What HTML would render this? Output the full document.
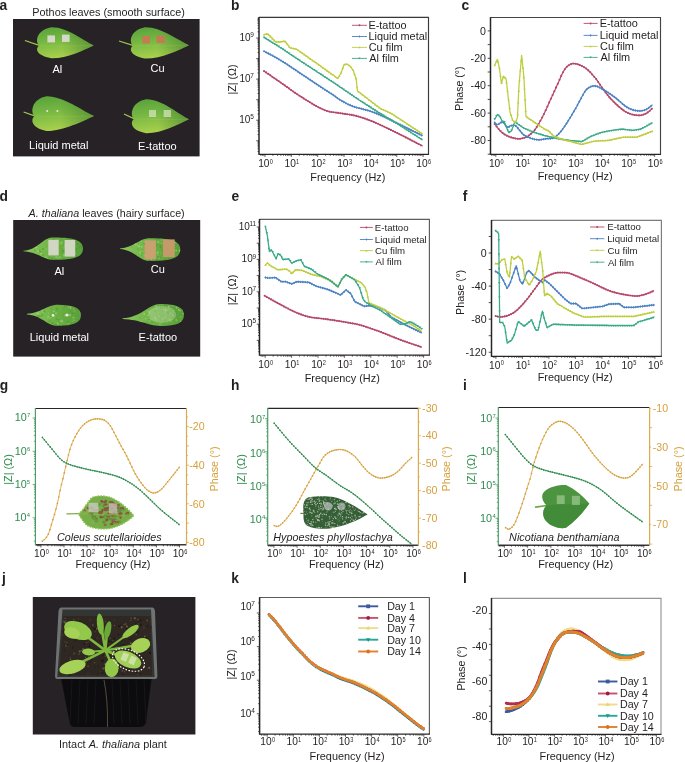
<!DOCTYPE html>
<html><head><meta charset="utf-8"><style>
html,body{margin:0;padding:0;background:#fff;width:685px;height:762px;overflow:hidden}
svg{display:block;font-family:"Liberation Sans", sans-serif;will-change:transform}
</style></head><body>
<svg width="685" height="762" viewBox="0 0 685 762">
<defs><linearGradient id="lg1" x1="0" y1="0" x2="1" y2="1"><stop offset="0" stop-color="#5ea83a"/><stop offset="0.5" stop-color="#7cbc3c"/><stop offset="1" stop-color="#a6cc40"/></linearGradient><linearGradient id="lg2" x1="0" y1="0" x2="0" y2="1"><stop offset="0" stop-color="#5fa33c"/><stop offset="1" stop-color="#8fc447"/></linearGradient><linearGradient id="lg3" x1="0" y1="0" x2="1" y2="1"><stop offset="0" stop-color="#3e7a34"/><stop offset="1" stop-color="#2b5a2a"/></linearGradient></defs>
<text x="-0.40" y="9.90" font-size="13.8" text-anchor="start" fill="#231f20" font-weight="bold" font-style="normal" >a</text>
<text x="231.00" y="9.90" font-size="13.8" text-anchor="start" fill="#231f20" font-weight="bold" font-style="normal" >b</text>
<text x="461.40" y="9.90" font-size="13.8" text-anchor="start" fill="#231f20" font-weight="bold" font-style="normal" >c</text>
<text x="-0.45" y="200.80" font-size="13.8" text-anchor="start" fill="#231f20" font-weight="bold" font-style="normal" >d</text>
<text x="231.60" y="200.80" font-size="13.8" text-anchor="start" fill="#231f20" font-weight="bold" font-style="normal" >e</text>
<text x="462.80" y="200.80" font-size="13.8" text-anchor="start" fill="#231f20" font-weight="bold" font-style="normal" >f</text>
<text x="-0.30" y="390.10" font-size="13.8" text-anchor="start" fill="#231f20" font-weight="bold" font-style="normal" >g</text>
<text x="231.10" y="390.00" font-size="13.8" text-anchor="start" fill="#231f20" font-weight="bold" font-style="normal" >h</text>
<text x="462.90" y="390.00" font-size="13.8" text-anchor="start" fill="#231f20" font-weight="bold" font-style="normal" >i</text>
<text x="2.10" y="582.60" font-size="13.8" text-anchor="start" fill="#231f20" font-weight="bold" font-style="normal" >j</text>
<text x="231.20" y="582.60" font-size="13.8" text-anchor="start" fill="#231f20" font-weight="bold" font-style="normal" >k</text>
<text x="463.10" y="582.60" font-size="13.8" text-anchor="start" fill="#231f20" font-weight="bold" font-style="normal" >l</text>
<defs><linearGradient id="pg" x1="0" y1="0" x2="0.25" y2="1"><stop offset="0" stop-color="#56a03a"/><stop offset="0.45" stop-color="#74b642"/><stop offset="1" stop-color="#a8d04c"/></linearGradient><linearGradient id="pgx" x1="0" y1="0" x2="1" y2="0"><stop offset="0.45" stop-color="#2d6e2a" stop-opacity="0"/><stop offset="1" stop-color="#2d6e2a" stop-opacity="0.55"/></linearGradient><linearGradient id="tg" x1="0" y1="0" x2="1" y2="0"><stop offset="0" stop-color="#8cc860"/><stop offset="0.5" stop-color="#6cb244"/><stop offset="1" stop-color="#5aa03a"/></linearGradient></defs>
<rect x="13" y="19" width="186.6" height="137.4" fill="#262226"/>
<text x="32.33" y="16.20" font-size="10.85" text-anchor="start" fill="#231f20" font-weight="normal" font-style="normal" >Pothos leaves (smooth surface)</text>
<line x1="24.90" y1="40.50" x2="40.70" y2="45.80" stroke="#a0c848" stroke-width="1.3"/>
<path d="M39.2 45.5 C35.2 42.5 35.7 30.3 51.2 27.3 C67.2 26.9 82.6 40.4 93.6 45.4 C82.6 50.4 67.2 58.6 51.2 58.2 C35.7 55.2 35.2 48.5 39.2 45.5Z" fill="url(#pg)"/>
<path d="M39.2 45.5 C35.2 42.5 35.7 30.3 51.2 27.3 C67.2 26.9 82.6 40.4 93.6 45.4 C82.6 50.4 67.2 58.6 51.2 58.2 C35.7 55.2 35.2 48.5 39.2 45.5Z" fill="url(#pgx)"/>
<path d="M40.2 45.5 Q66.4 46.7 92.6 45.4" stroke="#b8dc6a" stroke-width="0.5" fill="none" opacity="0.3"/>
<line x1="119.00" y1="41.00" x2="134.50" y2="45.80" stroke="#a0c848" stroke-width="1.3"/>
<path d="M133.0 45.5 C129.0 42.5 129.5 30.2 145.0 27.2 C161.0 26.8 178.0 40.2 189.0 45.2 C178.0 50.2 161.0 59.0 145.0 58.6 C129.5 55.6 129.0 48.5 133.0 45.5Z" fill="url(#pg)"/>
<path d="M133.0 45.5 C129.0 42.5 129.5 30.2 145.0 27.2 C161.0 26.8 178.0 40.2 189.0 45.2 C178.0 50.2 161.0 59.0 145.0 58.6 C129.5 55.6 129.0 48.5 133.0 45.5Z" fill="url(#pgx)"/>
<path d="M134.0 45.5 Q161.0 46.7 188.0 45.2" stroke="#b8dc6a" stroke-width="0.5" fill="none" opacity="0.3"/>
<line x1="23.60" y1="112.00" x2="36.00" y2="116.30" stroke="#a0c848" stroke-width="1.3"/>
<path d="M34.5 116.0 C30.5 113.0 31.0 99.2 46.5 96.2 C62.5 95.8 83.0 111.0 94.0 116.0 C83.0 121.0 62.5 131.4 46.5 131.0 C31.0 128.0 30.5 119.0 34.5 116.0Z" fill="url(#pg)"/>
<path d="M34.5 116.0 C30.5 113.0 31.0 99.2 46.5 96.2 C62.5 95.8 83.0 111.0 94.0 116.0 C83.0 121.0 62.5 131.4 46.5 131.0 C31.0 128.0 30.5 119.0 34.5 116.0Z" fill="url(#pgx)"/>
<path d="M35.5 116.0 Q64.2 117.2 93.0 116.0" stroke="#b8dc6a" stroke-width="0.5" fill="none" opacity="0.3"/>
<line x1="124.00" y1="114.00" x2="135.50" y2="119.30" stroke="#a0c848" stroke-width="1.3"/>
<path d="M134.0 119.0 C130.0 116.0 130.5 102.2 146.0 99.2 C162.0 98.8 178.0 114.2 189.0 119.2 C178.0 124.2 162.0 133.6 146.0 133.2 C130.5 130.2 130.0 122.0 134.0 119.0Z" fill="url(#pg)"/>
<path d="M134.0 119.0 C130.0 116.0 130.5 102.2 146.0 99.2 C162.0 98.8 178.0 114.2 189.0 119.2 C178.0 124.2 162.0 133.6 146.0 133.2 C130.5 130.2 130.0 122.0 134.0 119.0Z" fill="url(#pgx)"/>
<path d="M135.0 119.0 Q161.5 120.2 188.0 119.2" stroke="#b8dc6a" stroke-width="0.5" fill="none" opacity="0.3"/>
<rect x="47.4" y="35.4" width="7.6" height="7" fill="#dcdcd4" opacity="0.92"/>
<rect x="62" y="34.6" width="7.6" height="7.3" fill="#dcdcd4" opacity="0.92"/>
<rect x="142.4" y="36" width="7.6" height="7.4" fill="#c47a52"/>
<rect x="156.6" y="35.6" width="8.4" height="7.4" fill="#c47a52"/>
<circle cx="47.2" cy="111" r="1" fill="#e4e4e4"/><circle cx="57.4" cy="111" r="1" fill="#e4e4e4"/>
<rect x="149" y="110" width="7" height="7" fill="#dce6c4" opacity="0.7"/>
<rect x="163.6" y="110" width="7.4" height="7" fill="#dce6c4" opacity="0.7"/>
<text x="52.46" y="73.00" font-size="11.0" text-anchor="start" fill="#ffffff" font-weight="normal" font-style="normal" >Al</text>
<text x="150.47" y="72.00" font-size="11.0" text-anchor="start" fill="#ffffff" font-weight="normal" font-style="normal" >Cu</text>
<text x="29.12" y="149.20" font-size="11.0" text-anchor="start" fill="#ffffff" font-weight="normal" font-style="normal" >Liquid metal</text>
<text x="138.12" y="150.00" font-size="11.0" text-anchor="start" fill="#ffffff" font-weight="normal" font-style="normal" >E-tattoo</text>
<rect x="13.2" y="220" width="187" height="136.6" fill="#262226"/>
<text x="28.6" y="216.6" font-size="10.72" fill="#231f20"><tspan font-style="italic">A. thaliana</tspan> leaves (hairy surface)</text>
<clipPath id="tl1"><path d="M23.4 250.7 C37.7 249.8 42.0 238.4 52.0 237.4 C75.0 237.1 83.0 240.4 83.0 248.6 C83.0 256.8 75.0 260.1 52.0 259.8 C42.0 258.8 37.7 252.2 23.4 251.3Z"/></clipPath>
<path d="M23.4 250.7 C37.7 249.8 42.0 238.4 52.0 237.4 C75.0 237.1 83.0 240.4 83.0 248.6 C83.0 256.8 75.0 260.1 52.0 259.8 C42.0 258.8 37.7 252.2 23.4 251.3Z" fill="url(#tg)"/>
<g clip-path="url(#tl1)" opacity="0.55"><circle cx="36.2" cy="241.3" r="0.8" fill="#4f8f30"/><circle cx="55.4" cy="254.9" r="0.8" fill="#5a9a38"/><circle cx="74.2" cy="242.9" r="1.1" fill="#b4dc88"/><circle cx="43.1" cy="255.1" r="1.0" fill="#5a9a38"/><circle cx="71.1" cy="239.4" r="1.0" fill="#5a9a38"/><circle cx="64.8" cy="246.0" r="0.8" fill="#b4dc88"/><circle cx="81.9" cy="252.0" r="0.6" fill="#5a9a38"/><circle cx="41.1" cy="252.4" r="1.1" fill="#4f8f30"/><circle cx="71.9" cy="249.1" r="1.1" fill="#9ed070"/><circle cx="53.8" cy="249.4" r="1.2" fill="#9ed070"/><circle cx="54.2" cy="251.6" r="0.9" fill="#b4dc88"/><circle cx="73.8" cy="254.7" r="1.0" fill="#5a9a38"/><circle cx="49.4" cy="257.6" r="1.0" fill="#4f8f30"/><circle cx="54.7" cy="245.3" r="0.6" fill="#5a9a38"/><circle cx="69.2" cy="253.2" r="0.7" fill="#b4dc88"/><circle cx="61.6" cy="249.7" r="0.8" fill="#9ed070"/><circle cx="32.4" cy="258.2" r="0.5" fill="#4f8f30"/><circle cx="67.2" cy="246.7" r="0.6" fill="#b4dc88"/><circle cx="51.0" cy="246.5" r="0.7" fill="#4f8f30"/><circle cx="58.2" cy="250.4" r="0.8" fill="#4f8f30"/><circle cx="46.5" cy="249.2" r="0.7" fill="#b4dc88"/><circle cx="76.2" cy="241.4" r="0.6" fill="#4f8f30"/><circle cx="62.6" cy="251.3" r="1.1" fill="#4f8f30"/><circle cx="55.1" cy="244.5" r="0.9" fill="#5a9a38"/><circle cx="56.6" cy="249.2" r="1.2" fill="#4f8f30"/><circle cx="64.2" cy="250.8" r="1.0" fill="#4f8f30"/><circle cx="34.6" cy="250.1" r="0.6" fill="#5a9a38"/><circle cx="40.2" cy="259.1" r="1.1" fill="#5a9a38"/><circle cx="74.6" cy="247.9" r="0.7" fill="#9ed070"/><circle cx="47.7" cy="242.4" r="0.6" fill="#9ed070"/><circle cx="54.6" cy="254.7" r="0.5" fill="#b4dc88"/><circle cx="72.1" cy="248.7" r="0.9" fill="#9ed070"/><circle cx="57.9" cy="240.0" r="0.7" fill="#b4dc88"/><circle cx="63.1" cy="247.9" r="0.7" fill="#9ed070"/><circle cx="33.9" cy="240.6" r="0.5" fill="#4f8f30"/><circle cx="75.8" cy="256.0" r="1.0" fill="#4f8f30"/><circle cx="67.8" cy="241.8" r="0.8" fill="#4f8f30"/><circle cx="37.8" cy="238.0" r="1.0" fill="#4f8f30"/><circle cx="36.2" cy="247.4" r="1.1" fill="#b4dc88"/><circle cx="66.8" cy="244.8" r="0.9" fill="#9ed070"/><circle cx="82.8" cy="258.8" r="0.7" fill="#4f8f30"/><circle cx="39.6" cy="258.9" r="0.9" fill="#4f8f30"/><circle cx="66.4" cy="243.5" r="0.6" fill="#4f8f30"/><circle cx="74.2" cy="253.6" r="1.0" fill="#5a9a38"/><circle cx="55.0" cy="250.7" r="1.1" fill="#9ed070"/><circle cx="34.9" cy="251.0" r="0.7" fill="#4f8f30"/><circle cx="39.5" cy="250.8" r="1.1" fill="#4f8f30"/><circle cx="39.5" cy="257.1" r="0.8" fill="#9ed070"/><circle cx="56.3" cy="256.7" r="0.5" fill="#9ed070"/><circle cx="45.6" cy="257.1" r="0.8" fill="#b4dc88"/><circle cx="56.1" cy="257.1" r="1.0" fill="#9ed070"/><circle cx="58.2" cy="257.5" r="1.1" fill="#9ed070"/><circle cx="61.8" cy="242.3" r="0.9" fill="#b4dc88"/><circle cx="62.0" cy="249.1" r="0.9" fill="#5a9a38"/><circle cx="65.4" cy="248.0" r="0.8" fill="#9ed070"/><circle cx="66.7" cy="242.0" r="1.1" fill="#4f8f30"/><circle cx="61.3" cy="243.8" r="0.9" fill="#9ed070"/><circle cx="55.4" cy="247.8" r="1.1" fill="#b4dc88"/><circle cx="41.1" cy="253.5" r="1.1" fill="#b4dc88"/><circle cx="54.9" cy="258.5" r="0.6" fill="#5a9a38"/><circle cx="60.3" cy="257.2" r="0.9" fill="#9ed070"/><circle cx="37.7" cy="243.0" r="0.5" fill="#b4dc88"/><circle cx="34.2" cy="246.5" r="0.8" fill="#5a9a38"/><circle cx="77.8" cy="244.0" r="1.2" fill="#4f8f30"/><circle cx="63.7" cy="255.4" r="1.0" fill="#b4dc88"/><circle cx="73.2" cy="243.1" r="0.8" fill="#b4dc88"/><circle cx="60.0" cy="243.0" r="0.8" fill="#9ed070"/><circle cx="76.5" cy="249.1" r="1.1" fill="#4f8f30"/><circle cx="38.0" cy="244.5" r="0.8" fill="#9ed070"/><circle cx="74.1" cy="252.9" r="0.6" fill="#4f8f30"/><circle cx="80.7" cy="245.9" r="0.9" fill="#5a9a38"/><circle cx="43.0" cy="249.1" r="1.0" fill="#4f8f30"/><circle cx="66.1" cy="240.8" r="0.7" fill="#4f8f30"/><circle cx="79.7" cy="247.6" r="1.1" fill="#4f8f30"/><circle cx="64.1" cy="255.0" r="0.9" fill="#9ed070"/><circle cx="68.3" cy="255.0" r="0.6" fill="#9ed070"/><circle cx="74.9" cy="253.7" r="0.9" fill="#9ed070"/><circle cx="81.9" cy="246.2" r="1.1" fill="#4f8f30"/><circle cx="52.1" cy="258.6" r="1.1" fill="#4f8f30"/><circle cx="67.2" cy="238.9" r="1.0" fill="#5a9a38"/><circle cx="53.5" cy="238.8" r="0.8" fill="#5a9a38"/><circle cx="56.0" cy="249.5" r="1.0" fill="#9ed070"/><circle cx="55.6" cy="255.2" r="0.5" fill="#9ed070"/><circle cx="66.1" cy="240.9" r="1.2" fill="#4f8f30"/><circle cx="38.0" cy="251.0" r="1.1" fill="#b4dc88"/><circle cx="78.8" cy="250.1" r="0.6" fill="#5a9a38"/><circle cx="61.3" cy="239.6" r="0.5" fill="#5a9a38"/><circle cx="34.4" cy="243.5" r="0.8" fill="#9ed070"/><circle cx="47.5" cy="258.6" r="0.6" fill="#9ed070"/><circle cx="33.9" cy="247.5" r="0.8" fill="#9ed070"/></g>
<clipPath id="tl2"><path d="M120.0 248.4 C134.0 247.5 138.2 239.3 148.0 238.3 C172.3 238.0 180.3 241.3 180.3 249.6 C180.3 257.8 172.3 261.1 148.0 260.8 C138.2 259.8 134.0 249.9 120.0 249.0Z"/></clipPath>
<path d="M120.0 248.4 C134.0 247.5 138.2 239.3 148.0 238.3 C172.3 238.0 180.3 241.3 180.3 249.6 C180.3 257.8 172.3 261.1 148.0 260.8 C138.2 259.8 134.0 249.9 120.0 249.0Z" fill="url(#tg)"/>
<g clip-path="url(#tl2)" opacity="0.55"><circle cx="157.7" cy="255.0" r="0.7" fill="#9ed070"/><circle cx="176.3" cy="250.6" r="0.9" fill="#b4dc88"/><circle cx="158.6" cy="252.8" r="1.0" fill="#5a9a38"/><circle cx="159.3" cy="256.7" r="0.8" fill="#4f8f30"/><circle cx="164.3" cy="249.9" r="1.2" fill="#4f8f30"/><circle cx="165.6" cy="250.4" r="0.6" fill="#5a9a38"/><circle cx="141.0" cy="260.3" r="0.9" fill="#5a9a38"/><circle cx="155.5" cy="239.7" r="0.7" fill="#5a9a38"/><circle cx="132.0" cy="246.9" r="0.6" fill="#5a9a38"/><circle cx="170.9" cy="241.5" r="0.7" fill="#9ed070"/><circle cx="138.4" cy="257.1" r="0.9" fill="#5a9a38"/><circle cx="172.5" cy="260.1" r="1.1" fill="#b4dc88"/><circle cx="150.9" cy="249.1" r="0.7" fill="#b4dc88"/><circle cx="146.7" cy="249.0" r="0.8" fill="#9ed070"/><circle cx="163.9" cy="252.0" r="0.7" fill="#4f8f30"/><circle cx="153.8" cy="260.2" r="1.0" fill="#b4dc88"/><circle cx="157.9" cy="252.5" r="1.0" fill="#b4dc88"/><circle cx="142.6" cy="251.1" r="0.9" fill="#b4dc88"/><circle cx="134.8" cy="239.2" r="1.1" fill="#9ed070"/><circle cx="162.9" cy="249.9" r="0.8" fill="#4f8f30"/><circle cx="153.4" cy="243.2" r="0.5" fill="#b4dc88"/><circle cx="169.4" cy="258.2" r="0.7" fill="#4f8f30"/><circle cx="156.8" cy="259.7" r="0.8" fill="#4f8f30"/><circle cx="141.8" cy="246.8" r="0.9" fill="#b4dc88"/><circle cx="170.5" cy="245.8" r="0.9" fill="#9ed070"/><circle cx="131.8" cy="259.2" r="0.7" fill="#5a9a38"/><circle cx="144.4" cy="255.7" r="0.8" fill="#b4dc88"/><circle cx="136.4" cy="255.4" r="0.6" fill="#5a9a38"/><circle cx="159.5" cy="257.8" r="1.0" fill="#b4dc88"/><circle cx="140.2" cy="252.7" r="1.1" fill="#b4dc88"/><circle cx="148.6" cy="240.8" r="0.7" fill="#9ed070"/><circle cx="142.7" cy="250.3" r="0.5" fill="#4f8f30"/><circle cx="173.6" cy="248.7" r="1.1" fill="#5a9a38"/><circle cx="134.9" cy="242.0" r="1.2" fill="#5a9a38"/><circle cx="153.8" cy="243.0" r="0.5" fill="#b4dc88"/><circle cx="153.9" cy="259.5" r="1.0" fill="#5a9a38"/><circle cx="179.5" cy="238.9" r="0.8" fill="#5a9a38"/><circle cx="157.7" cy="239.3" r="0.8" fill="#4f8f30"/><circle cx="128.7" cy="238.4" r="0.6" fill="#4f8f30"/><circle cx="172.1" cy="259.7" r="0.5" fill="#9ed070"/><circle cx="169.0" cy="251.3" r="0.8" fill="#b4dc88"/><circle cx="141.4" cy="255.5" r="0.7" fill="#5a9a38"/><circle cx="143.9" cy="244.3" r="0.5" fill="#9ed070"/><circle cx="143.9" cy="243.9" r="0.7" fill="#4f8f30"/><circle cx="145.6" cy="242.3" r="1.2" fill="#9ed070"/><circle cx="154.1" cy="244.4" r="1.0" fill="#b4dc88"/><circle cx="162.1" cy="255.1" r="0.8" fill="#5a9a38"/><circle cx="135.6" cy="244.2" r="1.1" fill="#b4dc88"/><circle cx="130.1" cy="252.4" r="1.1" fill="#9ed070"/><circle cx="156.4" cy="253.3" r="0.7" fill="#9ed070"/><circle cx="169.9" cy="255.0" r="0.7" fill="#4f8f30"/><circle cx="160.1" cy="245.4" r="0.7" fill="#4f8f30"/><circle cx="179.1" cy="257.1" r="0.6" fill="#9ed070"/><circle cx="160.7" cy="249.2" r="0.5" fill="#5a9a38"/><circle cx="138.0" cy="249.0" r="0.7" fill="#4f8f30"/><circle cx="178.4" cy="239.6" r="1.0" fill="#5a9a38"/><circle cx="128.7" cy="252.8" r="0.8" fill="#9ed070"/><circle cx="160.7" cy="246.8" r="1.2" fill="#4f8f30"/><circle cx="135.0" cy="256.8" r="1.0" fill="#5a9a38"/><circle cx="161.7" cy="240.1" r="0.6" fill="#b4dc88"/><circle cx="160.7" cy="253.5" r="0.6" fill="#9ed070"/><circle cx="153.1" cy="247.8" r="0.7" fill="#9ed070"/><circle cx="179.7" cy="250.7" r="1.1" fill="#b4dc88"/><circle cx="147.6" cy="251.2" r="1.1" fill="#4f8f30"/><circle cx="135.9" cy="238.7" r="1.0" fill="#4f8f30"/><circle cx="151.4" cy="259.7" r="0.8" fill="#b4dc88"/><circle cx="156.8" cy="245.4" r="1.1" fill="#5a9a38"/><circle cx="148.7" cy="257.8" r="0.8" fill="#9ed070"/><circle cx="137.6" cy="245.4" r="0.6" fill="#b4dc88"/><circle cx="161.5" cy="243.2" r="0.7" fill="#b4dc88"/><circle cx="174.4" cy="250.6" r="1.1" fill="#9ed070"/><circle cx="154.1" cy="253.0" r="0.6" fill="#4f8f30"/><circle cx="139.6" cy="246.3" r="0.7" fill="#b4dc88"/><circle cx="147.0" cy="240.0" r="0.6" fill="#b4dc88"/><circle cx="146.6" cy="239.0" r="0.7" fill="#4f8f30"/><circle cx="128.8" cy="255.9" r="0.6" fill="#4f8f30"/><circle cx="152.1" cy="253.1" r="0.5" fill="#b4dc88"/><circle cx="139.0" cy="246.6" r="1.0" fill="#b4dc88"/><circle cx="165.2" cy="259.6" r="1.1" fill="#4f8f30"/><circle cx="147.5" cy="260.3" r="0.9" fill="#9ed070"/><circle cx="175.2" cy="242.0" r="1.0" fill="#b4dc88"/><circle cx="158.1" cy="257.2" r="0.9" fill="#5a9a38"/><circle cx="144.6" cy="243.9" r="0.8" fill="#4f8f30"/><circle cx="164.6" cy="251.2" r="1.0" fill="#4f8f30"/><circle cx="141.9" cy="252.7" r="0.8" fill="#4f8f30"/><circle cx="179.5" cy="242.9" r="0.8" fill="#9ed070"/><circle cx="141.2" cy="241.5" r="0.6" fill="#b4dc88"/><circle cx="175.9" cy="257.6" r="0.9" fill="#5a9a38"/><circle cx="158.3" cy="242.0" r="1.0" fill="#b4dc88"/><circle cx="160.4" cy="257.6" r="1.1" fill="#5a9a38"/></g>
<clipPath id="tl3"><path d="M26.9 313.8 C41.5 312.9 45.8 305.8 56.0 304.8 C73.0 304.5 81.0 307.8 81.0 315.2 C81.0 322.7 73.0 326.0 56.0 325.7 C45.8 324.7 41.5 315.3 26.9 314.4Z"/></clipPath>
<path d="M26.9 313.8 C41.5 312.9 45.8 305.8 56.0 304.8 C73.0 304.5 81.0 307.8 81.0 315.2 C81.0 322.7 73.0 326.0 56.0 325.7 C45.8 324.7 41.5 315.3 26.9 314.4Z" fill="url(#tg)"/>
<g clip-path="url(#tl3)" opacity="0.55"><circle cx="41.6" cy="321.8" r="1.0" fill="#5a9a38"/><circle cx="52.8" cy="325.1" r="0.7" fill="#b4dc88"/><circle cx="44.8" cy="322.6" r="0.6" fill="#4f8f30"/><circle cx="39.5" cy="316.5" r="0.6" fill="#5a9a38"/><circle cx="50.3" cy="325.5" r="0.6" fill="#5a9a38"/><circle cx="75.5" cy="317.6" r="1.0" fill="#9ed070"/><circle cx="61.2" cy="325.5" r="0.7" fill="#9ed070"/><circle cx="68.4" cy="325.5" r="0.6" fill="#4f8f30"/><circle cx="70.1" cy="315.0" r="1.2" fill="#9ed070"/><circle cx="57.6" cy="323.6" r="1.2" fill="#9ed070"/><circle cx="44.1" cy="311.9" r="1.0" fill="#5a9a38"/><circle cx="36.1" cy="321.4" r="0.7" fill="#4f8f30"/><circle cx="52.1" cy="308.5" r="1.1" fill="#4f8f30"/><circle cx="71.5" cy="322.6" r="0.6" fill="#4f8f30"/><circle cx="64.8" cy="306.0" r="1.1" fill="#4f8f30"/><circle cx="41.8" cy="310.1" r="1.1" fill="#9ed070"/><circle cx="70.7" cy="311.5" r="1.0" fill="#5a9a38"/><circle cx="55.9" cy="313.2" r="1.0" fill="#b4dc88"/><circle cx="57.6" cy="310.9" r="0.5" fill="#5a9a38"/><circle cx="56.9" cy="308.6" r="0.9" fill="#4f8f30"/><circle cx="79.7" cy="317.0" r="0.7" fill="#5a9a38"/><circle cx="72.4" cy="321.3" r="0.7" fill="#9ed070"/><circle cx="68.2" cy="323.2" r="0.8" fill="#9ed070"/><circle cx="60.7" cy="308.0" r="0.6" fill="#9ed070"/><circle cx="65.1" cy="315.3" r="1.1" fill="#9ed070"/><circle cx="73.0" cy="320.7" r="0.8" fill="#5a9a38"/><circle cx="80.6" cy="312.7" r="1.1" fill="#b4dc88"/><circle cx="72.1" cy="319.4" r="0.5" fill="#5a9a38"/><circle cx="63.7" cy="314.7" r="0.9" fill="#5a9a38"/><circle cx="40.7" cy="314.8" r="0.6" fill="#9ed070"/><circle cx="75.4" cy="319.7" r="0.9" fill="#4f8f30"/><circle cx="54.2" cy="316.0" r="0.8" fill="#9ed070"/><circle cx="54.3" cy="324.2" r="0.9" fill="#5a9a38"/><circle cx="68.7" cy="307.1" r="0.8" fill="#9ed070"/><circle cx="36.4" cy="305.7" r="1.1" fill="#4f8f30"/><circle cx="52.9" cy="308.2" r="0.7" fill="#9ed070"/><circle cx="74.6" cy="320.4" r="0.9" fill="#9ed070"/><circle cx="80.4" cy="312.8" r="0.8" fill="#4f8f30"/><circle cx="62.0" cy="321.4" r="1.1" fill="#b4dc88"/><circle cx="44.6" cy="321.7" r="0.8" fill="#4f8f30"/><circle cx="74.9" cy="321.2" r="0.7" fill="#5a9a38"/><circle cx="58.8" cy="319.5" r="0.9" fill="#4f8f30"/><circle cx="42.1" cy="307.5" r="0.9" fill="#9ed070"/><circle cx="54.4" cy="312.9" r="0.9" fill="#5a9a38"/><circle cx="43.4" cy="311.5" r="1.2" fill="#b4dc88"/><circle cx="70.8" cy="307.5" r="1.2" fill="#b4dc88"/><circle cx="41.1" cy="316.0" r="1.1" fill="#5a9a38"/><circle cx="61.5" cy="320.8" r="1.1" fill="#b4dc88"/><circle cx="72.3" cy="313.5" r="1.1" fill="#4f8f30"/><circle cx="50.3" cy="320.6" r="0.9" fill="#5a9a38"/><circle cx="80.1" cy="305.9" r="0.8" fill="#4f8f30"/><circle cx="42.2" cy="315.0" r="1.2" fill="#5a9a38"/><circle cx="71.6" cy="307.4" r="0.7" fill="#5a9a38"/><circle cx="48.4" cy="321.6" r="0.9" fill="#5a9a38"/><circle cx="50.1" cy="317.8" r="1.0" fill="#9ed070"/><circle cx="75.9" cy="316.8" r="0.9" fill="#4f8f30"/><circle cx="61.0" cy="320.9" r="1.2" fill="#9ed070"/><circle cx="54.6" cy="325.0" r="1.0" fill="#4f8f30"/><circle cx="53.8" cy="311.4" r="1.1" fill="#9ed070"/><circle cx="48.2" cy="316.6" r="1.0" fill="#b4dc88"/><circle cx="65.0" cy="321.0" r="0.6" fill="#5a9a38"/><circle cx="36.9" cy="323.6" r="1.2" fill="#5a9a38"/><circle cx="75.4" cy="322.0" r="0.6" fill="#4f8f30"/><circle cx="74.7" cy="311.1" r="0.7" fill="#9ed070"/><circle cx="47.8" cy="317.4" r="0.9" fill="#9ed070"/><circle cx="57.0" cy="309.4" r="1.0" fill="#5a9a38"/><circle cx="69.1" cy="315.5" r="0.7" fill="#b4dc88"/><circle cx="73.6" cy="307.0" r="0.9" fill="#5a9a38"/><circle cx="50.5" cy="316.1" r="0.6" fill="#4f8f30"/><circle cx="38.3" cy="315.8" r="1.2" fill="#4f8f30"/><circle cx="56.8" cy="318.9" r="1.1" fill="#5a9a38"/><circle cx="63.5" cy="308.4" r="0.7" fill="#5a9a38"/><circle cx="72.1" cy="316.5" r="0.7" fill="#5a9a38"/><circle cx="48.6" cy="313.3" r="0.6" fill="#b4dc88"/><circle cx="73.2" cy="317.4" r="1.0" fill="#9ed070"/><circle cx="56.3" cy="325.0" r="0.9" fill="#4f8f30"/><circle cx="74.0" cy="309.0" r="0.8" fill="#9ed070"/><circle cx="38.1" cy="305.9" r="0.8" fill="#b4dc88"/><circle cx="38.0" cy="313.5" r="1.2" fill="#b4dc88"/><circle cx="52.2" cy="323.1" r="1.1" fill="#4f8f30"/><circle cx="38.5" cy="309.9" r="0.6" fill="#b4dc88"/><circle cx="67.8" cy="322.1" r="1.0" fill="#4f8f30"/><circle cx="58.0" cy="317.2" r="0.5" fill="#5a9a38"/><circle cx="44.2" cy="311.3" r="1.1" fill="#4f8f30"/><circle cx="41.9" cy="323.1" r="0.8" fill="#b4dc88"/><circle cx="75.3" cy="308.8" r="0.9" fill="#4f8f30"/><circle cx="39.5" cy="318.4" r="0.6" fill="#4f8f30"/><circle cx="73.2" cy="320.0" r="0.7" fill="#9ed070"/><circle cx="58.8" cy="318.0" r="0.6" fill="#b4dc88"/><circle cx="42.4" cy="321.1" r="0.8" fill="#b4dc88"/></g>
<clipPath id="tl4"><path d="M122.6 318.3 C141.3 317.4 146.9 305.0 160.0 304.0 C176.0 303.7 184.0 307.0 184.0 315.0 C184.0 323.0 176.0 326.3 160.0 326.0 C146.9 325.0 141.3 319.8 122.6 318.9Z"/></clipPath>
<path d="M122.6 318.3 C141.3 317.4 146.9 305.0 160.0 304.0 C176.0 303.7 184.0 307.0 184.0 315.0 C184.0 323.0 176.0 326.3 160.0 326.0 C146.9 325.0 141.3 319.8 122.6 318.9Z" fill="url(#tg)"/>
<g clip-path="url(#tl4)" opacity="0.55"><circle cx="163.7" cy="309.5" r="0.8" fill="#9ed070"/><circle cx="164.6" cy="305.8" r="0.9" fill="#4f8f30"/><circle cx="175.3" cy="313.7" r="1.0" fill="#4f8f30"/><circle cx="174.1" cy="318.4" r="0.9" fill="#5a9a38"/><circle cx="162.7" cy="318.9" r="0.8" fill="#9ed070"/><circle cx="155.4" cy="311.3" r="1.1" fill="#5a9a38"/><circle cx="149.7" cy="311.9" r="0.9" fill="#9ed070"/><circle cx="161.4" cy="307.2" r="1.1" fill="#5a9a38"/><circle cx="165.3" cy="304.9" r="1.0" fill="#4f8f30"/><circle cx="149.2" cy="320.6" r="0.8" fill="#9ed070"/><circle cx="155.9" cy="309.3" r="1.0" fill="#9ed070"/><circle cx="178.6" cy="309.8" r="0.9" fill="#b4dc88"/><circle cx="158.8" cy="316.4" r="0.7" fill="#b4dc88"/><circle cx="141.3" cy="322.0" r="1.2" fill="#9ed070"/><circle cx="170.5" cy="313.2" r="0.8" fill="#9ed070"/><circle cx="160.0" cy="317.6" r="0.6" fill="#5a9a38"/><circle cx="160.4" cy="305.6" r="0.5" fill="#4f8f30"/><circle cx="181.7" cy="317.4" r="0.7" fill="#4f8f30"/><circle cx="140.1" cy="317.9" r="0.7" fill="#5a9a38"/><circle cx="134.0" cy="315.4" r="0.9" fill="#b4dc88"/><circle cx="148.5" cy="318.7" r="0.6" fill="#9ed070"/><circle cx="167.0" cy="306.4" r="1.0" fill="#4f8f30"/><circle cx="173.5" cy="318.5" r="0.9" fill="#5a9a38"/><circle cx="157.8" cy="309.3" r="0.6" fill="#9ed070"/><circle cx="141.2" cy="306.5" r="1.2" fill="#5a9a38"/><circle cx="159.2" cy="307.1" r="0.7" fill="#9ed070"/><circle cx="182.6" cy="310.0" r="0.7" fill="#9ed070"/><circle cx="155.4" cy="306.2" r="0.6" fill="#b4dc88"/><circle cx="169.9" cy="319.9" r="1.1" fill="#9ed070"/><circle cx="180.1" cy="316.7" r="0.6" fill="#4f8f30"/><circle cx="156.1" cy="319.8" r="0.8" fill="#9ed070"/><circle cx="168.8" cy="306.4" r="0.9" fill="#b4dc88"/><circle cx="148.8" cy="319.5" r="0.8" fill="#5a9a38"/><circle cx="172.9" cy="305.7" r="0.6" fill="#b4dc88"/><circle cx="147.2" cy="315.9" r="0.6" fill="#b4dc88"/><circle cx="173.7" cy="315.8" r="0.9" fill="#5a9a38"/><circle cx="147.6" cy="310.6" r="0.6" fill="#b4dc88"/><circle cx="163.6" cy="314.5" r="1.1" fill="#9ed070"/><circle cx="148.9" cy="324.2" r="1.1" fill="#4f8f30"/><circle cx="171.9" cy="316.3" r="1.0" fill="#5a9a38"/><circle cx="156.5" cy="317.1" r="1.2" fill="#4f8f30"/><circle cx="181.6" cy="324.9" r="1.0" fill="#9ed070"/><circle cx="145.6" cy="318.6" r="0.8" fill="#b4dc88"/><circle cx="183.1" cy="313.6" r="0.8" fill="#b4dc88"/><circle cx="144.1" cy="307.0" r="0.7" fill="#9ed070"/><circle cx="170.5" cy="322.2" r="0.6" fill="#5a9a38"/><circle cx="169.2" cy="308.4" r="0.5" fill="#9ed070"/><circle cx="162.4" cy="320.2" r="0.5" fill="#5a9a38"/><circle cx="149.6" cy="316.9" r="1.1" fill="#4f8f30"/><circle cx="181.0" cy="317.1" r="0.8" fill="#9ed070"/><circle cx="138.6" cy="307.5" r="1.1" fill="#5a9a38"/><circle cx="152.1" cy="322.3" r="0.7" fill="#4f8f30"/><circle cx="156.4" cy="306.5" r="0.6" fill="#b4dc88"/><circle cx="178.1" cy="325.4" r="0.5" fill="#9ed070"/><circle cx="176.7" cy="307.7" r="0.9" fill="#b4dc88"/><circle cx="134.8" cy="314.4" r="0.9" fill="#5a9a38"/><circle cx="165.5" cy="316.8" r="0.7" fill="#9ed070"/><circle cx="165.3" cy="310.6" r="0.8" fill="#b4dc88"/><circle cx="145.6" cy="324.3" r="1.0" fill="#b4dc88"/><circle cx="171.2" cy="321.8" r="0.7" fill="#b4dc88"/><circle cx="164.5" cy="322.5" r="1.1" fill="#4f8f30"/><circle cx="170.3" cy="311.4" r="0.8" fill="#5a9a38"/><circle cx="155.6" cy="310.1" r="0.6" fill="#4f8f30"/><circle cx="155.5" cy="317.8" r="1.2" fill="#9ed070"/><circle cx="165.2" cy="313.0" r="0.6" fill="#b4dc88"/><circle cx="165.4" cy="320.6" r="1.0" fill="#5a9a38"/><circle cx="156.5" cy="305.0" r="0.8" fill="#9ed070"/><circle cx="139.9" cy="323.4" r="1.0" fill="#b4dc88"/><circle cx="152.3" cy="306.5" r="0.6" fill="#5a9a38"/><circle cx="150.5" cy="325.8" r="1.0" fill="#9ed070"/><circle cx="167.2" cy="310.3" r="0.6" fill="#9ed070"/><circle cx="140.2" cy="304.0" r="0.9" fill="#4f8f30"/><circle cx="176.4" cy="320.0" r="1.1" fill="#9ed070"/><circle cx="159.9" cy="324.0" r="0.9" fill="#9ed070"/><circle cx="163.4" cy="314.7" r="1.0" fill="#5a9a38"/><circle cx="148.3" cy="311.8" r="0.8" fill="#9ed070"/><circle cx="172.6" cy="315.3" r="0.9" fill="#9ed070"/><circle cx="158.4" cy="309.9" r="0.6" fill="#5a9a38"/><circle cx="176.0" cy="311.6" r="0.9" fill="#4f8f30"/><circle cx="144.2" cy="314.0" r="1.1" fill="#b4dc88"/><circle cx="146.9" cy="322.2" r="0.8" fill="#5a9a38"/><circle cx="179.9" cy="310.5" r="1.0" fill="#9ed070"/><circle cx="178.2" cy="319.1" r="1.0" fill="#5a9a38"/><circle cx="140.1" cy="307.7" r="0.9" fill="#b4dc88"/><circle cx="164.4" cy="318.1" r="0.5" fill="#b4dc88"/><circle cx="168.0" cy="312.5" r="1.0" fill="#4f8f30"/><circle cx="181.0" cy="322.0" r="1.2" fill="#b4dc88"/><circle cx="165.6" cy="309.5" r="0.8" fill="#b4dc88"/><circle cx="139.4" cy="305.4" r="0.7" fill="#b4dc88"/><circle cx="152.7" cy="305.9" r="1.2" fill="#5a9a38"/></g>
<rect x="48.3" y="239.9" width="10.4" height="15.5" fill="#d6d8c8" opacity="0.95"/>
<rect x="64.6" y="240" width="10.6" height="16.6" fill="#d6d8c8" opacity="0.95"/>
<rect x="144.6" y="240.4" width="11.3" height="18.8" fill="#c9a070"/>
<rect x="163" y="239.4" width="11.7" height="17.6" fill="#c49a68"/>
<circle cx="53" cy="315.4" r="1.3" fill="#e8e8e8"/><circle cx="67" cy="315" r="1.6" fill="#e8e8e8"/>
<ellipse cx="162" cy="314.5" rx="14" ry="8.5" fill="#e4f0d0" opacity="0.3"/>
<text x="54.46" y="274.90" font-size="11.0" text-anchor="start" fill="#ffffff" font-weight="normal" font-style="normal" >Al</text>
<text x="150.87" y="272.50" font-size="11.0" text-anchor="start" fill="#ffffff" font-weight="normal" font-style="normal" >Cu</text>
<text x="29.72" y="341.00" font-size="11.0" text-anchor="start" fill="#ffffff" font-weight="normal" font-style="normal" >Liquid metal</text>
<text x="138.62" y="340.50" font-size="11.0" text-anchor="start" fill="#ffffff" font-weight="normal" font-style="normal" >E-tattoo</text>
<rect x="32.8" y="597" width="162.6" height="137.5" fill="#262226"/>
<path d="M61 678 L151.6 678 L146 722 Q145 727 140 727 L75 727 Q70 727 69.5 722 Z" fill="#0c0c0e"/>
<line x1="72" y1="680" x2="70" y2="724" stroke="#18191b" stroke-width="0.9"/>
<line x1="80" y1="680" x2="78" y2="724" stroke="#18191b" stroke-width="0.9"/>
<line x1="88" y1="680" x2="86" y2="724" stroke="#18191b" stroke-width="0.9"/>
<line x1="96" y1="680" x2="94" y2="724" stroke="#18191b" stroke-width="0.9"/>
<line x1="112" y1="680" x2="114" y2="724" stroke="#18191b" stroke-width="0.9"/>
<line x1="120" y1="680" x2="122" y2="724" stroke="#18191b" stroke-width="0.9"/>
<line x1="128" y1="680" x2="130" y2="724" stroke="#18191b" stroke-width="0.9"/>
<line x1="136" y1="680" x2="138" y2="724" stroke="#18191b" stroke-width="0.9"/>
<line x1="144" y1="680" x2="146" y2="724" stroke="#18191b" stroke-width="0.9"/>
<path d="M104 680 Q108 700 107.5 727" stroke="#6a5a48" stroke-width="0.8" fill="none"/>
<path d="M61 607.6 L152.7 607.6 Q154.5 608 155 611 L157.4 676 Q157.4 679 155 679 L57 679 Q55 679 55 676 L58.5 611 Q59 608 61 607.6Z" fill="#6f7371"/>
<path d="M62.5 609.6 L151 609.6 L154.6 677 L57.2 677 Z" fill="#333534"/>
<path d="M63 616 L150.5 616 L152 675.5 L59.5 675.5 Z" fill="#2f2721"/>
<circle cx="83.2" cy="649.0" r="1.0" fill="#6a5a48"/>
<circle cx="104.2" cy="651.1" r="0.4" fill="#1a1511"/>
<circle cx="136.5" cy="632.8" r="0.5" fill="#201a15"/>
<circle cx="125.8" cy="648.8" r="0.7" fill="#1a1511"/>
<circle cx="118.9" cy="626.6" r="1.0" fill="#201a15"/>
<circle cx="108.6" cy="660.3" r="0.5" fill="#564838"/>
<circle cx="147.2" cy="620.4" r="1.0" fill="#564838"/>
<circle cx="86.0" cy="651.9" r="0.9" fill="#3e342a"/>
<circle cx="144.0" cy="640.5" r="0.7" fill="#1a1511"/>
<circle cx="145.3" cy="668.1" r="0.4" fill="#564838"/>
<circle cx="106.0" cy="632.7" r="0.9" fill="#3e342a"/>
<circle cx="138.1" cy="642.0" r="0.8" fill="#3e342a"/>
<circle cx="109.5" cy="641.2" r="1.0" fill="#201a15"/>
<circle cx="122.7" cy="670.9" r="1.1" fill="#6a5a48"/>
<circle cx="121.7" cy="627.3" r="1.1" fill="#6a5a48"/>
<circle cx="142.5" cy="650.4" r="0.8" fill="#201a15"/>
<circle cx="149.9" cy="633.2" r="0.4" fill="#564838"/>
<circle cx="138.0" cy="674.4" r="0.6" fill="#564838"/>
<circle cx="67.9" cy="669.1" r="0.6" fill="#564838"/>
<circle cx="130.4" cy="667.7" r="0.8" fill="#564838"/>
<circle cx="129.8" cy="639.5" r="0.6" fill="#1a1511"/>
<circle cx="140.4" cy="673.9" r="0.6" fill="#1a1511"/>
<circle cx="65.2" cy="618.4" r="0.8" fill="#564838"/>
<circle cx="64.8" cy="629.3" r="0.6" fill="#3e342a"/>
<circle cx="85.4" cy="657.3" r="0.6" fill="#6a5a48"/>
<circle cx="147.3" cy="669.1" r="0.7" fill="#3e342a"/>
<circle cx="139.4" cy="640.0" r="0.9" fill="#1a1511"/>
<circle cx="71.1" cy="673.5" r="0.6" fill="#1a1511"/>
<circle cx="118.5" cy="658.8" r="0.7" fill="#6a5a48"/>
<circle cx="85.0" cy="635.3" r="0.4" fill="#6a5a48"/>
<circle cx="99.0" cy="651.1" r="0.7" fill="#564838"/>
<circle cx="114.4" cy="625.6" r="0.7" fill="#6a5a48"/>
<circle cx="122.5" cy="638.1" r="0.9" fill="#6a5a48"/>
<circle cx="64.0" cy="621.5" r="1.1" fill="#564838"/>
<circle cx="84.3" cy="644.0" r="0.8" fill="#1a1511"/>
<circle cx="77.8" cy="628.6" r="1.0" fill="#6a5a48"/>
<circle cx="85.5" cy="662.9" r="0.9" fill="#564838"/>
<circle cx="64.4" cy="650.4" r="0.6" fill="#201a15"/>
<circle cx="81.8" cy="663.8" r="0.6" fill="#201a15"/>
<circle cx="122.3" cy="655.0" r="0.5" fill="#564838"/>
<circle cx="90.7" cy="637.0" r="0.7" fill="#201a15"/>
<circle cx="138.1" cy="627.6" r="0.9" fill="#6a5a48"/>
<circle cx="81.4" cy="650.4" r="0.6" fill="#6a5a48"/>
<circle cx="72.8" cy="648.2" r="0.6" fill="#201a15"/>
<circle cx="136.4" cy="650.8" r="0.6" fill="#6a5a48"/>
<circle cx="135.7" cy="622.9" r="0.6" fill="#1a1511"/>
<circle cx="73.5" cy="634.6" r="0.7" fill="#6a5a48"/>
<circle cx="118.4" cy="634.6" r="0.7" fill="#1a1511"/>
<circle cx="143.9" cy="626.9" r="0.7" fill="#564838"/>
<circle cx="136.1" cy="653.5" r="0.7" fill="#1a1511"/>
<circle cx="146.6" cy="670.9" r="0.4" fill="#201a15"/>
<circle cx="102.6" cy="660.9" r="1.1" fill="#1a1511"/>
<circle cx="110.4" cy="668.7" r="1.0" fill="#564838"/>
<circle cx="148.4" cy="624.8" r="0.4" fill="#201a15"/>
<circle cx="142.4" cy="657.5" r="1.0" fill="#201a15"/>
<circle cx="142.1" cy="650.9" r="0.7" fill="#564838"/>
<circle cx="72.8" cy="646.7" r="0.9" fill="#201a15"/>
<circle cx="108.7" cy="641.6" r="0.5" fill="#1a1511"/>
<circle cx="73.2" cy="673.4" r="0.7" fill="#1a1511"/>
<circle cx="131.6" cy="638.1" r="0.5" fill="#201a15"/>
<circle cx="141.0" cy="624.8" r="1.0" fill="#201a15"/>
<circle cx="144.0" cy="663.9" r="0.7" fill="#564838"/>
<circle cx="112.8" cy="640.8" r="0.6" fill="#6a5a48"/>
<circle cx="117.0" cy="647.6" r="0.7" fill="#564838"/>
<circle cx="131.1" cy="618.1" r="0.9" fill="#564838"/>
<circle cx="66.1" cy="620.8" r="1.1" fill="#3e342a"/>
<circle cx="138.0" cy="622.9" r="0.7" fill="#1a1511"/>
<circle cx="76.0" cy="622.1" r="0.9" fill="#3e342a"/>
<circle cx="114.2" cy="638.6" r="1.1" fill="#201a15"/>
<circle cx="100.2" cy="625.3" r="0.9" fill="#564838"/>
<circle cx="95.8" cy="622.6" r="0.4" fill="#201a15"/>
<circle cx="103.0" cy="655.1" r="0.7" fill="#1a1511"/>
<circle cx="133.3" cy="653.5" r="0.4" fill="#3e342a"/>
<circle cx="117.8" cy="661.3" r="0.7" fill="#6a5a48"/>
<circle cx="123.8" cy="644.3" r="0.6" fill="#201a15"/>
<circle cx="86.0" cy="651.6" r="0.6" fill="#3e342a"/>
<circle cx="73.6" cy="619.6" r="0.7" fill="#6a5a48"/>
<circle cx="141.9" cy="663.1" r="0.5" fill="#6a5a48"/>
<circle cx="123.5" cy="671.5" r="1.0" fill="#1a1511"/>
<circle cx="121.4" cy="659.8" r="0.8" fill="#1a1511"/>
<circle cx="134.2" cy="658.8" r="0.5" fill="#3e342a"/>
<circle cx="130.9" cy="620.5" r="0.8" fill="#564838"/>
<circle cx="120.7" cy="639.4" r="0.6" fill="#564838"/>
<circle cx="137.9" cy="619.5" r="0.9" fill="#564838"/>
<circle cx="136.4" cy="672.3" r="0.6" fill="#1a1511"/>
<circle cx="69.9" cy="674.8" r="0.8" fill="#1a1511"/>
<circle cx="125.6" cy="624.1" r="1.1" fill="#564838"/>
<circle cx="67.4" cy="636.5" r="0.5" fill="#1a1511"/>
<circle cx="68.9" cy="674.9" r="0.7" fill="#201a15"/>
<circle cx="124.3" cy="671.7" r="0.7" fill="#6a5a48"/>
<circle cx="97.3" cy="638.0" r="1.1" fill="#3e342a"/>
<circle cx="95.4" cy="631.4" r="1.0" fill="#3e342a"/>
<circle cx="148.1" cy="641.7" r="0.9" fill="#1a1511"/>
<circle cx="122.0" cy="647.5" r="0.5" fill="#3e342a"/>
<circle cx="97.7" cy="668.6" r="0.5" fill="#201a15"/>
<circle cx="128.6" cy="670.2" r="1.1" fill="#1a1511"/>
<circle cx="114.2" cy="666.9" r="0.6" fill="#201a15"/>
<circle cx="79.7" cy="651.4" r="1.1" fill="#6a5a48"/>
<circle cx="137.8" cy="648.7" r="0.9" fill="#6a5a48"/>
<circle cx="138.1" cy="651.9" r="0.8" fill="#1a1511"/>
<circle cx="85.8" cy="630.4" r="0.6" fill="#564838"/>
<circle cx="133.6" cy="629.4" r="0.7" fill="#1a1511"/>
<circle cx="90.7" cy="662.1" r="0.7" fill="#201a15"/>
<circle cx="124.1" cy="658.0" r="0.7" fill="#201a15"/>
<circle cx="136.3" cy="664.8" r="0.4" fill="#1a1511"/>
<circle cx="150.4" cy="622.1" r="0.9" fill="#3e342a"/>
<circle cx="140.5" cy="620.6" r="1.0" fill="#201a15"/>
<circle cx="119.7" cy="662.3" r="1.1" fill="#564838"/>
<circle cx="138.0" cy="631.8" r="0.9" fill="#201a15"/>
<circle cx="74.2" cy="653.4" r="1.0" fill="#564838"/>
<circle cx="84.7" cy="667.3" r="0.5" fill="#6a5a48"/>
<circle cx="70.1" cy="663.5" r="0.5" fill="#564838"/>
<circle cx="136.2" cy="634.6" r="0.7" fill="#6a5a48"/>
<circle cx="127.3" cy="637.2" r="0.6" fill="#564838"/>
<circle cx="100.8" cy="645.7" r="0.9" fill="#201a15"/>
<circle cx="128.1" cy="645.9" r="0.8" fill="#201a15"/>
<circle cx="72.6" cy="633.7" r="0.5" fill="#3e342a"/>
<circle cx="141.0" cy="669.8" r="0.8" fill="#564838"/>
<circle cx="124.4" cy="656.7" r="0.9" fill="#6a5a48"/>
<circle cx="88.3" cy="656.5" r="0.5" fill="#6a5a48"/>
<circle cx="146.1" cy="637.3" r="0.8" fill="#1a1511"/>
<circle cx="72.1" cy="646.2" r="0.4" fill="#6a5a48"/>
<circle cx="88.2" cy="659.5" r="0.9" fill="#201a15"/>
<circle cx="127.0" cy="626.5" r="1.0" fill="#6a5a48"/>
<circle cx="120.3" cy="625.0" r="0.5" fill="#1a1511"/>
<circle cx="91.5" cy="659.1" r="0.7" fill="#1a1511"/>
<circle cx="88.8" cy="628.7" r="0.6" fill="#3e342a"/>
<circle cx="77.7" cy="621.9" r="0.9" fill="#201a15"/>
<circle cx="110.3" cy="660.2" r="0.5" fill="#6a5a48"/>
<circle cx="86.1" cy="621.0" r="0.4" fill="#201a15"/>
<circle cx="106.9" cy="632.1" r="0.6" fill="#1a1511"/>
<circle cx="91.6" cy="641.0" r="1.0" fill="#1a1511"/>
<circle cx="68.2" cy="646.4" r="0.5" fill="#564838"/>
<circle cx="114.5" cy="656.8" r="0.9" fill="#1a1511"/>
<circle cx="126.7" cy="628.5" r="0.8" fill="#201a15"/>
<circle cx="121.6" cy="640.3" r="0.8" fill="#201a15"/>
<circle cx="75.0" cy="640.7" r="0.8" fill="#201a15"/>
<circle cx="77.2" cy="628.2" r="0.7" fill="#6a5a48"/>
<circle cx="88.1" cy="666.0" r="1.0" fill="#3e342a"/>
<circle cx="146.5" cy="639.8" r="1.0" fill="#1a1511"/>
<circle cx="89.6" cy="646.4" r="0.9" fill="#1a1511"/>
<circle cx="88.6" cy="667.0" r="0.4" fill="#3e342a"/>
<circle cx="79.0" cy="654.1" r="0.9" fill="#564838"/>
<circle cx="120.9" cy="646.0" r="0.8" fill="#1a1511"/>
<circle cx="79.7" cy="662.6" r="0.4" fill="#201a15"/>
<circle cx="106.5" cy="654.8" r="0.5" fill="#3e342a"/>
<circle cx="87.2" cy="655.5" r="0.5" fill="#201a15"/>
<circle cx="132.5" cy="653.5" r="0.4" fill="#564838"/>
<circle cx="117.0" cy="646.8" r="0.8" fill="#3e342a"/>
<circle cx="144.8" cy="636.4" r="0.9" fill="#6a5a48"/>
<circle cx="74.0" cy="666.9" r="0.9" fill="#1a1511"/>
<circle cx="65.0" cy="622.6" r="1.1" fill="#6a5a48"/>
<circle cx="80.3" cy="621.6" r="0.7" fill="#201a15"/>
<circle cx="129.4" cy="645.6" r="1.0" fill="#564838"/>
<circle cx="98.4" cy="666.2" r="0.7" fill="#201a15"/>
<circle cx="104.1" cy="621.9" r="0.5" fill="#3e342a"/>
<circle cx="105.5" cy="619.3" r="0.9" fill="#3e342a"/>
<circle cx="97.7" cy="628.3" r="0.9" fill="#564838"/>
<circle cx="94.7" cy="639.1" r="0.7" fill="#1a1511"/>
<circle cx="97.8" cy="673.3" r="0.6" fill="#201a15"/>
<circle cx="94.9" cy="666.8" r="0.5" fill="#1a1511"/>
<circle cx="80.6" cy="627.7" r="0.8" fill="#3e342a"/>
<circle cx="118.7" cy="625.9" r="0.5" fill="#1a1511"/>
<circle cx="105.6" cy="621.4" r="0.7" fill="#564838"/>
<circle cx="90.3" cy="619.9" r="0.6" fill="#564838"/>
<circle cx="65.5" cy="646.1" r="0.6" fill="#201a15"/>
<circle cx="96.6" cy="628.9" r="0.8" fill="#6a5a48"/>
<circle cx="92.8" cy="625.1" r="1.0" fill="#564838"/>
<circle cx="87.9" cy="673.9" r="1.0" fill="#3e342a"/>
<circle cx="147.6" cy="645.8" r="0.6" fill="#1a1511"/>
<circle cx="134.5" cy="653.9" r="0.6" fill="#6a5a48"/>
<circle cx="67.0" cy="642.8" r="0.8" fill="#564838"/>
<circle cx="62.3" cy="619.7" r="0.4" fill="#564838"/>
<circle cx="106.8" cy="645.5" r="0.9" fill="#201a15"/>
<circle cx="142.1" cy="629.4" r="0.6" fill="#3e342a"/>
<circle cx="104.6" cy="638.0" r="0.7" fill="#564838"/>
<circle cx="128.9" cy="654.0" r="0.5" fill="#3e342a"/>
<circle cx="88.1" cy="666.4" r="0.8" fill="#564838"/>
<circle cx="110.7" cy="648.6" r="0.5" fill="#3e342a"/>
<circle cx="127.8" cy="659.8" r="0.7" fill="#1a1511"/>
<circle cx="78.4" cy="663.7" r="0.6" fill="#3e342a"/>
<circle cx="131.4" cy="645.4" r="1.0" fill="#6a5a48"/>
<circle cx="107.1" cy="660.9" r="1.1" fill="#3e342a"/>
<circle cx="65.8" cy="627.8" r="1.0" fill="#564838"/>
<circle cx="70.2" cy="657.4" r="0.6" fill="#564838"/>
<circle cx="115.5" cy="663.7" r="1.0" fill="#564838"/>
<circle cx="139.6" cy="643.6" r="1.1" fill="#6a5a48"/>
<circle cx="62.1" cy="629.1" r="0.6" fill="#564838"/>
<circle cx="89.7" cy="643.7" r="0.6" fill="#201a15"/>
<circle cx="66.3" cy="626.7" r="0.8" fill="#201a15"/>
<circle cx="63.0" cy="631.1" r="0.6" fill="#201a15"/>
<circle cx="112.1" cy="641.9" r="0.6" fill="#1a1511"/>
<circle cx="140.6" cy="662.6" r="0.5" fill="#3e342a"/>
<circle cx="69.0" cy="665.1" r="0.8" fill="#564838"/>
<circle cx="138.4" cy="623.8" r="0.5" fill="#6a5a48"/>
<circle cx="103.4" cy="630.7" r="0.5" fill="#1a1511"/>
<circle cx="105.2" cy="656.1" r="0.7" fill="#6a5a48"/>
<circle cx="120.8" cy="662.3" r="1.0" fill="#6a5a48"/>
<circle cx="114.9" cy="664.4" r="0.5" fill="#201a15"/>
<circle cx="62.7" cy="635.1" r="0.6" fill="#564838"/>
<circle cx="79.1" cy="661.0" r="0.9" fill="#1a1511"/>
<circle cx="94.5" cy="662.7" r="0.8" fill="#564838"/>
<circle cx="81.1" cy="638.0" r="0.6" fill="#564838"/>
<circle cx="100.3" cy="622.8" r="0.6" fill="#201a15"/>
<circle cx="128.7" cy="629.8" r="1.0" fill="#201a15"/>
<circle cx="149.8" cy="652.9" r="1.0" fill="#1a1511"/>
<circle cx="94.7" cy="628.9" r="1.1" fill="#1a1511"/>
<circle cx="105.1" cy="662.1" r="0.7" fill="#3e342a"/>
<circle cx="114.3" cy="620.0" r="0.5" fill="#564838"/>
<circle cx="70.5" cy="659.2" r="0.8" fill="#6a5a48"/>
<circle cx="67.5" cy="644.9" r="0.9" fill="#201a15"/>
<circle cx="86.6" cy="642.6" r="0.7" fill="#6a5a48"/>
<circle cx="79.5" cy="662.6" r="0.5" fill="#201a15"/>
<circle cx="88.6" cy="641.4" r="0.5" fill="#564838"/>
<circle cx="105.4" cy="664.2" r="1.1" fill="#6a5a48"/>
<circle cx="149.2" cy="667.9" r="1.1" fill="#6a5a48"/>
<circle cx="100.4" cy="671.6" r="0.8" fill="#3e342a"/>
<circle cx="110.2" cy="638.5" r="0.6" fill="#6a5a48"/>
<circle cx="103.2" cy="668.5" r="0.9" fill="#6a5a48"/>
<circle cx="144.8" cy="647.6" r="0.5" fill="#564838"/>
<circle cx="109.2" cy="648.5" r="1.1" fill="#201a15"/>
<circle cx="62.2" cy="674.1" r="0.6" fill="#3e342a"/>
<circle cx="147.9" cy="638.7" r="0.4" fill="#1a1511"/>
<circle cx="78.5" cy="618.8" r="1.0" fill="#3e342a"/>
<circle cx="136.4" cy="652.4" r="0.7" fill="#564838"/>
<circle cx="85.3" cy="656.3" r="0.7" fill="#3e342a"/>
<circle cx="85.2" cy="620.5" r="0.4" fill="#3e342a"/>
<circle cx="150.6" cy="627.4" r="0.6" fill="#1a1511"/>
<circle cx="74.1" cy="661.2" r="0.8" fill="#3e342a"/>
<circle cx="136.0" cy="649.5" r="0.4" fill="#6a5a48"/>
<circle cx="66.0" cy="645.7" r="1.0" fill="#564838"/>
<circle cx="142.6" cy="644.6" r="0.8" fill="#1a1511"/>
<circle cx="95.0" cy="654.0" r="0.5" fill="#6a5a48"/>
<circle cx="122.9" cy="674.6" r="0.5" fill="#1a1511"/>
<circle cx="130.9" cy="643.3" r="1.0" fill="#6a5a48"/>
<circle cx="102.3" cy="672.7" r="0.8" fill="#201a15"/>
<circle cx="74.4" cy="620.2" r="1.0" fill="#3e342a"/>
<circle cx="135.7" cy="671.1" r="0.6" fill="#1a1511"/>
<circle cx="90.2" cy="652.1" r="0.7" fill="#564838"/>
<circle cx="86.9" cy="658.4" r="0.5" fill="#6a5a48"/>
<circle cx="121.5" cy="639.2" r="0.7" fill="#1a1511"/>
<circle cx="129.0" cy="665.1" r="0.5" fill="#3e342a"/>
<circle cx="143.9" cy="628.3" r="1.1" fill="#3e342a"/>
<circle cx="97.3" cy="620.8" r="1.1" fill="#201a15"/>
<circle cx="146.0" cy="636.1" r="0.8" fill="#3e342a"/>
<circle cx="65.2" cy="641.8" r="1.1" fill="#3e342a"/>
<circle cx="69.1" cy="631.1" r="0.9" fill="#201a15"/>
<circle cx="124.1" cy="624.6" r="0.8" fill="#564838"/>
<circle cx="134.8" cy="618.3" r="1.1" fill="#6a5a48"/>
<circle cx="123.6" cy="642.6" r="0.7" fill="#3e342a"/>
<circle cx="87.8" cy="649.9" r="0.6" fill="#201a15"/>
<circle cx="147.2" cy="626.2" r="0.9" fill="#201a15"/>
<circle cx="103.6" cy="640.7" r="0.5" fill="#564838"/>
<circle cx="66.9" cy="661.3" r="0.6" fill="#201a15"/>
<circle cx="119.7" cy="625.5" r="0.4" fill="#201a15"/>
<circle cx="147.5" cy="648.5" r="0.9" fill="#3e342a"/>
<circle cx="100.6" cy="628.4" r="0.6" fill="#564838"/>
<circle cx="73.7" cy="626.3" r="0.7" fill="#201a15"/>
<circle cx="145.5" cy="652.4" r="0.4" fill="#201a15"/>
<circle cx="95.0" cy="626.1" r="0.6" fill="#3e342a"/>
<line x1="105.4" y1="650.4" x2="86" y2="636" stroke="#7fb83e" stroke-width="2.6" stroke-linecap="round"/>
<ellipse cx="78" cy="630.5" rx="14.5" ry="8.5" transform="rotate(22 78 630.5)" fill="#93c84a" opacity="1"/>
<ellipse cx="72" cy="633" rx="8" ry="5.5" transform="rotate(15 72 633)" fill="#a6d257" opacity="1"/>
<line x1="105.4" y1="650.4" x2="100.5" y2="622" stroke="#7fb83e" stroke-width="2.6" stroke-linecap="round"/>
<ellipse cx="100.3" cy="624" rx="3.4" ry="10.5" transform="rotate(-6 100.3 624)" fill="#7fb83e" opacity="1"/>
<line x1="105.4" y1="650.4" x2="107.5" y2="628" stroke="#7fb83e" stroke-width="2.4" stroke-linecap="round"/>
<ellipse cx="107.8" cy="630" rx="3.2" ry="9" transform="rotate(12 107.8 630)" fill="#6aa83a" opacity="1"/>
<line x1="105.4" y1="650.4" x2="128" y2="634" stroke="#7fb83e" stroke-width="2.0" stroke-linecap="round"/>
<ellipse cx="130.5" cy="631.5" rx="3.6" ry="10" transform="rotate(52 130.5 631.5)" fill="#93c84a" opacity="1"/>
<line x1="105.4" y1="650.4" x2="138" y2="645" stroke="#7fb83e" stroke-width="2.4" stroke-linecap="round"/>
<ellipse cx="140.5" cy="645.5" rx="10" ry="7" transform="rotate(-22 140.5 645.5)" fill="#a6d257" opacity="1"/>
<line x1="105.4" y1="650.4" x2="88" y2="652" stroke="#7fb83e" stroke-width="2.0" stroke-linecap="round"/>
<ellipse cx="88.6" cy="652" rx="6.5" ry="3.5" transform="rotate(5 88.6 652)" fill="#93c84a" opacity="1"/>
<line x1="105.4" y1="650.4" x2="78" y2="664" stroke="#7fb83e" stroke-width="2.6" stroke-linecap="round"/>
<ellipse cx="72.5" cy="667" rx="13.5" ry="6.5" transform="rotate(-16 72.5 667)" fill="#a6d257" opacity="1"/>
<line x1="105.4" y1="650.4" x2="111" y2="663" stroke="#7fb83e" stroke-width="2.6" stroke-linecap="round"/>
<ellipse cx="111.7" cy="668" rx="7" ry="9.2" transform="rotate(3 111.7 668)" fill="#93c84a" opacity="1"/>
<line x1="105.4" y1="650.4" x2="122" y2="657" stroke="#7fb83e" stroke-width="2.8" stroke-linecap="round"/>
<ellipse cx="128" cy="659.5" rx="14" ry="7.6" transform="rotate(24 128 659.5)" fill="#a2cf58" opacity="1"/>
<rect x="121" y="654.5" width="6" height="8" fill="#e4ecd0" opacity="0.65" transform="rotate(24 128 659.5)"/>
<rect x="129.5" y="654.5" width="6" height="8" fill="#e4ecd0" opacity="0.65" transform="rotate(24 128 659.5)"/>
<ellipse cx="128.5" cy="660" rx="17" ry="9.8" transform="rotate(24 128.5 660)" fill="none" stroke="#ffffff" stroke-width="1.1" stroke-dasharray="1.6 1.5"/>
<text x="59.0" y="748.1" font-size="10.9" fill="#231f20">Intact <tspan font-style="italic">A. thaliana</tspan> plant</text>
<line x1="258.80" y1="17.40" x2="428.90" y2="17.40" stroke="#3a3738" stroke-width="1.15"/>
<line x1="428.50" y1="17.40" x2="428.50" y2="154.80" stroke="#3a3738" stroke-width="1.15"/>
<line x1="258.70" y1="154.40" x2="428.90" y2="154.40" stroke="#2a2627" stroke-width="1.25"/>
<line x1="259.00" y1="17.10" x2="259.00" y2="154.80" stroke="#2a2627" stroke-width="1.5"/>
<line x1="259.00" y1="151.50" x2="257.50" y2="151.50" stroke="#231f20" stroke-width="0.7"/>
<line x1="259.00" y1="148.93" x2="257.50" y2="148.93" stroke="#231f20" stroke-width="0.7"/>
<line x1="259.00" y1="146.94" x2="257.50" y2="146.94" stroke="#231f20" stroke-width="0.7"/>
<line x1="259.00" y1="145.31" x2="257.50" y2="145.31" stroke="#231f20" stroke-width="0.7"/>
<line x1="259.00" y1="143.93" x2="257.50" y2="143.93" stroke="#231f20" stroke-width="0.7"/>
<line x1="259.00" y1="142.74" x2="257.50" y2="142.74" stroke="#231f20" stroke-width="0.7"/>
<line x1="259.00" y1="141.69" x2="257.50" y2="141.69" stroke="#231f20" stroke-width="0.7"/>
<line x1="259.00" y1="140.75" x2="256.20" y2="140.75" stroke="#231f20" stroke-width="0.7"/>
<line x1="259.00" y1="134.56" x2="257.50" y2="134.56" stroke="#231f20" stroke-width="0.7"/>
<line x1="259.00" y1="130.95" x2="257.50" y2="130.95" stroke="#231f20" stroke-width="0.7"/>
<line x1="259.00" y1="128.38" x2="257.50" y2="128.38" stroke="#231f20" stroke-width="0.7"/>
<line x1="259.00" y1="126.39" x2="257.50" y2="126.39" stroke="#231f20" stroke-width="0.7"/>
<line x1="259.00" y1="124.76" x2="257.50" y2="124.76" stroke="#231f20" stroke-width="0.7"/>
<line x1="259.00" y1="123.38" x2="257.50" y2="123.38" stroke="#231f20" stroke-width="0.7"/>
<line x1="259.00" y1="122.19" x2="257.50" y2="122.19" stroke="#231f20" stroke-width="0.7"/>
<line x1="259.00" y1="121.14" x2="257.50" y2="121.14" stroke="#231f20" stroke-width="0.7"/>
<line x1="259.00" y1="120.20" x2="256.20" y2="120.20" stroke="#231f20" stroke-width="0.7"/>
<line x1="259.00" y1="114.01" x2="257.50" y2="114.01" stroke="#231f20" stroke-width="0.7"/>
<line x1="259.00" y1="110.40" x2="257.50" y2="110.40" stroke="#231f20" stroke-width="0.7"/>
<line x1="259.00" y1="107.83" x2="257.50" y2="107.83" stroke="#231f20" stroke-width="0.7"/>
<line x1="259.00" y1="105.84" x2="257.50" y2="105.84" stroke="#231f20" stroke-width="0.7"/>
<line x1="259.00" y1="104.21" x2="257.50" y2="104.21" stroke="#231f20" stroke-width="0.7"/>
<line x1="259.00" y1="102.83" x2="257.50" y2="102.83" stroke="#231f20" stroke-width="0.7"/>
<line x1="259.00" y1="101.64" x2="257.50" y2="101.64" stroke="#231f20" stroke-width="0.7"/>
<line x1="259.00" y1="100.59" x2="257.50" y2="100.59" stroke="#231f20" stroke-width="0.7"/>
<line x1="259.00" y1="99.65" x2="256.20" y2="99.65" stroke="#231f20" stroke-width="0.7"/>
<line x1="259.00" y1="93.46" x2="257.50" y2="93.46" stroke="#231f20" stroke-width="0.7"/>
<line x1="259.00" y1="89.85" x2="257.50" y2="89.85" stroke="#231f20" stroke-width="0.7"/>
<line x1="259.00" y1="87.28" x2="257.50" y2="87.28" stroke="#231f20" stroke-width="0.7"/>
<line x1="259.00" y1="85.29" x2="257.50" y2="85.29" stroke="#231f20" stroke-width="0.7"/>
<line x1="259.00" y1="83.66" x2="257.50" y2="83.66" stroke="#231f20" stroke-width="0.7"/>
<line x1="259.00" y1="82.28" x2="257.50" y2="82.28" stroke="#231f20" stroke-width="0.7"/>
<line x1="259.00" y1="81.09" x2="257.50" y2="81.09" stroke="#231f20" stroke-width="0.7"/>
<line x1="259.00" y1="80.04" x2="257.50" y2="80.04" stroke="#231f20" stroke-width="0.7"/>
<line x1="259.00" y1="79.10" x2="256.20" y2="79.10" stroke="#231f20" stroke-width="0.7"/>
<line x1="259.00" y1="72.91" x2="257.50" y2="72.91" stroke="#231f20" stroke-width="0.7"/>
<line x1="259.00" y1="69.30" x2="257.50" y2="69.30" stroke="#231f20" stroke-width="0.7"/>
<line x1="259.00" y1="66.73" x2="257.50" y2="66.73" stroke="#231f20" stroke-width="0.7"/>
<line x1="259.00" y1="64.74" x2="257.50" y2="64.74" stroke="#231f20" stroke-width="0.7"/>
<line x1="259.00" y1="63.11" x2="257.50" y2="63.11" stroke="#231f20" stroke-width="0.7"/>
<line x1="259.00" y1="61.73" x2="257.50" y2="61.73" stroke="#231f20" stroke-width="0.7"/>
<line x1="259.00" y1="60.54" x2="257.50" y2="60.54" stroke="#231f20" stroke-width="0.7"/>
<line x1="259.00" y1="59.49" x2="257.50" y2="59.49" stroke="#231f20" stroke-width="0.7"/>
<line x1="259.00" y1="58.55" x2="256.20" y2="58.55" stroke="#231f20" stroke-width="0.7"/>
<line x1="259.00" y1="52.36" x2="257.50" y2="52.36" stroke="#231f20" stroke-width="0.7"/>
<line x1="259.00" y1="48.75" x2="257.50" y2="48.75" stroke="#231f20" stroke-width="0.7"/>
<line x1="259.00" y1="46.18" x2="257.50" y2="46.18" stroke="#231f20" stroke-width="0.7"/>
<line x1="259.00" y1="44.19" x2="257.50" y2="44.19" stroke="#231f20" stroke-width="0.7"/>
<line x1="259.00" y1="42.56" x2="257.50" y2="42.56" stroke="#231f20" stroke-width="0.7"/>
<line x1="259.00" y1="41.18" x2="257.50" y2="41.18" stroke="#231f20" stroke-width="0.7"/>
<line x1="259.00" y1="39.99" x2="257.50" y2="39.99" stroke="#231f20" stroke-width="0.7"/>
<line x1="259.00" y1="38.94" x2="257.50" y2="38.94" stroke="#231f20" stroke-width="0.7"/>
<line x1="259.00" y1="38.00" x2="256.20" y2="38.00" stroke="#231f20" stroke-width="0.7"/>
<line x1="259.00" y1="31.81" x2="257.50" y2="31.81" stroke="#231f20" stroke-width="0.7"/>
<line x1="259.00" y1="28.20" x2="257.50" y2="28.20" stroke="#231f20" stroke-width="0.7"/>
<line x1="259.00" y1="25.63" x2="257.50" y2="25.63" stroke="#231f20" stroke-width="0.7"/>
<line x1="259.00" y1="23.64" x2="257.50" y2="23.64" stroke="#231f20" stroke-width="0.7"/>
<line x1="259.00" y1="22.01" x2="257.50" y2="22.01" stroke="#231f20" stroke-width="0.7"/>
<line x1="259.00" y1="20.63" x2="257.50" y2="20.63" stroke="#231f20" stroke-width="0.7"/>
<line x1="259.00" y1="19.44" x2="257.50" y2="19.44" stroke="#231f20" stroke-width="0.7"/>
<line x1="259.00" y1="18.39" x2="257.50" y2="18.39" stroke="#231f20" stroke-width="0.7"/>
<text x="239.38" y="41.00" font-size="10.0" fill="#231f20">10</text>
<text x="250.28" y="37.20" font-size="6.5" fill="#231f20">9</text>
<text x="239.44" y="82.10" font-size="10.0" fill="#231f20">10</text>
<text x="250.32" y="78.30" font-size="6.5" fill="#231f20">7</text>
<text x="239.31" y="123.20" font-size="10.0" fill="#231f20">10</text>
<text x="250.25" y="119.40" font-size="6.5" fill="#231f20">5</text>
<line x1="260.92" y1="154.40" x2="260.92" y2="155.90" stroke="#231f20" stroke-width="0.7"/>
<line x1="262.45" y1="154.40" x2="262.45" y2="155.90" stroke="#231f20" stroke-width="0.7"/>
<line x1="263.79" y1="154.40" x2="263.79" y2="155.90" stroke="#231f20" stroke-width="0.7"/>
<line x1="265.00" y1="154.40" x2="265.00" y2="157.00" stroke="#231f20" stroke-width="0.7"/>
<line x1="272.93" y1="154.40" x2="272.93" y2="155.90" stroke="#231f20" stroke-width="0.7"/>
<line x1="277.57" y1="154.40" x2="277.57" y2="155.90" stroke="#231f20" stroke-width="0.7"/>
<line x1="280.86" y1="154.40" x2="280.86" y2="155.90" stroke="#231f20" stroke-width="0.7"/>
<line x1="283.42" y1="154.40" x2="283.42" y2="155.90" stroke="#231f20" stroke-width="0.7"/>
<line x1="285.50" y1="154.40" x2="285.50" y2="155.90" stroke="#231f20" stroke-width="0.7"/>
<line x1="287.27" y1="154.40" x2="287.27" y2="155.90" stroke="#231f20" stroke-width="0.7"/>
<line x1="288.80" y1="154.40" x2="288.80" y2="155.90" stroke="#231f20" stroke-width="0.7"/>
<line x1="290.14" y1="154.40" x2="290.14" y2="155.90" stroke="#231f20" stroke-width="0.7"/>
<line x1="291.35" y1="154.40" x2="291.35" y2="157.00" stroke="#231f20" stroke-width="0.7"/>
<line x1="299.28" y1="154.40" x2="299.28" y2="155.90" stroke="#231f20" stroke-width="0.7"/>
<line x1="303.92" y1="154.40" x2="303.92" y2="155.90" stroke="#231f20" stroke-width="0.7"/>
<line x1="307.21" y1="154.40" x2="307.21" y2="155.90" stroke="#231f20" stroke-width="0.7"/>
<line x1="309.77" y1="154.40" x2="309.77" y2="155.90" stroke="#231f20" stroke-width="0.7"/>
<line x1="311.85" y1="154.40" x2="311.85" y2="155.90" stroke="#231f20" stroke-width="0.7"/>
<line x1="313.62" y1="154.40" x2="313.62" y2="155.90" stroke="#231f20" stroke-width="0.7"/>
<line x1="315.15" y1="154.40" x2="315.15" y2="155.90" stroke="#231f20" stroke-width="0.7"/>
<line x1="316.49" y1="154.40" x2="316.49" y2="155.90" stroke="#231f20" stroke-width="0.7"/>
<line x1="317.70" y1="154.40" x2="317.70" y2="157.00" stroke="#231f20" stroke-width="0.7"/>
<line x1="325.63" y1="154.40" x2="325.63" y2="155.90" stroke="#231f20" stroke-width="0.7"/>
<line x1="330.27" y1="154.40" x2="330.27" y2="155.90" stroke="#231f20" stroke-width="0.7"/>
<line x1="333.56" y1="154.40" x2="333.56" y2="155.90" stroke="#231f20" stroke-width="0.7"/>
<line x1="336.12" y1="154.40" x2="336.12" y2="155.90" stroke="#231f20" stroke-width="0.7"/>
<line x1="338.20" y1="154.40" x2="338.20" y2="155.90" stroke="#231f20" stroke-width="0.7"/>
<line x1="339.97" y1="154.40" x2="339.97" y2="155.90" stroke="#231f20" stroke-width="0.7"/>
<line x1="341.50" y1="154.40" x2="341.50" y2="155.90" stroke="#231f20" stroke-width="0.7"/>
<line x1="342.84" y1="154.40" x2="342.84" y2="155.90" stroke="#231f20" stroke-width="0.7"/>
<line x1="344.05" y1="154.40" x2="344.05" y2="157.00" stroke="#231f20" stroke-width="0.7"/>
<line x1="351.98" y1="154.40" x2="351.98" y2="155.90" stroke="#231f20" stroke-width="0.7"/>
<line x1="356.62" y1="154.40" x2="356.62" y2="155.90" stroke="#231f20" stroke-width="0.7"/>
<line x1="359.91" y1="154.40" x2="359.91" y2="155.90" stroke="#231f20" stroke-width="0.7"/>
<line x1="362.47" y1="154.40" x2="362.47" y2="155.90" stroke="#231f20" stroke-width="0.7"/>
<line x1="364.55" y1="154.40" x2="364.55" y2="155.90" stroke="#231f20" stroke-width="0.7"/>
<line x1="366.32" y1="154.40" x2="366.32" y2="155.90" stroke="#231f20" stroke-width="0.7"/>
<line x1="367.85" y1="154.40" x2="367.85" y2="155.90" stroke="#231f20" stroke-width="0.7"/>
<line x1="369.19" y1="154.40" x2="369.19" y2="155.90" stroke="#231f20" stroke-width="0.7"/>
<line x1="370.40" y1="154.40" x2="370.40" y2="157.00" stroke="#231f20" stroke-width="0.7"/>
<line x1="378.33" y1="154.40" x2="378.33" y2="155.90" stroke="#231f20" stroke-width="0.7"/>
<line x1="382.97" y1="154.40" x2="382.97" y2="155.90" stroke="#231f20" stroke-width="0.7"/>
<line x1="386.26" y1="154.40" x2="386.26" y2="155.90" stroke="#231f20" stroke-width="0.7"/>
<line x1="388.82" y1="154.40" x2="388.82" y2="155.90" stroke="#231f20" stroke-width="0.7"/>
<line x1="390.90" y1="154.40" x2="390.90" y2="155.90" stroke="#231f20" stroke-width="0.7"/>
<line x1="392.67" y1="154.40" x2="392.67" y2="155.90" stroke="#231f20" stroke-width="0.7"/>
<line x1="394.20" y1="154.40" x2="394.20" y2="155.90" stroke="#231f20" stroke-width="0.7"/>
<line x1="395.54" y1="154.40" x2="395.54" y2="155.90" stroke="#231f20" stroke-width="0.7"/>
<line x1="396.75" y1="154.40" x2="396.75" y2="157.00" stroke="#231f20" stroke-width="0.7"/>
<line x1="404.68" y1="154.40" x2="404.68" y2="155.90" stroke="#231f20" stroke-width="0.7"/>
<line x1="409.32" y1="154.40" x2="409.32" y2="155.90" stroke="#231f20" stroke-width="0.7"/>
<line x1="412.61" y1="154.40" x2="412.61" y2="155.90" stroke="#231f20" stroke-width="0.7"/>
<line x1="415.17" y1="154.40" x2="415.17" y2="155.90" stroke="#231f20" stroke-width="0.7"/>
<line x1="417.25" y1="154.40" x2="417.25" y2="155.90" stroke="#231f20" stroke-width="0.7"/>
<line x1="419.02" y1="154.40" x2="419.02" y2="155.90" stroke="#231f20" stroke-width="0.7"/>
<line x1="420.55" y1="154.40" x2="420.55" y2="155.90" stroke="#231f20" stroke-width="0.7"/>
<line x1="421.89" y1="154.40" x2="421.89" y2="155.90" stroke="#231f20" stroke-width="0.7"/>
<line x1="423.10" y1="154.40" x2="423.10" y2="157.00" stroke="#231f20" stroke-width="0.7"/>
<text x="258.13" y="166.80" font-size="10.2" fill="#231f20">10</text>
<text transform="translate(269.82 163.50) scale(0.8 1)" font-size="7.0" fill="#231f20">0</text>
<text x="284.61" y="166.80" font-size="10.2" fill="#231f20">10</text>
<text transform="translate(296.10 163.50) scale(0.8 1)" font-size="7.0" fill="#231f20">1</text>
<text x="310.89" y="166.80" font-size="10.2" fill="#231f20">10</text>
<text transform="translate(322.52 163.50) scale(0.8 1)" font-size="7.0" fill="#231f20">2</text>
<text x="337.19" y="166.80" font-size="10.2" fill="#231f20">10</text>
<text transform="translate(348.88 163.50) scale(0.8 1)" font-size="7.0" fill="#231f20">3</text>
<text x="363.46" y="166.80" font-size="10.2" fill="#231f20">10</text>
<text transform="translate(375.23 163.50) scale(0.8 1)" font-size="7.0" fill="#231f20">4</text>
<text x="389.88" y="166.80" font-size="10.2" fill="#231f20">10</text>
<text transform="translate(401.57 163.50) scale(0.8 1)" font-size="7.0" fill="#231f20">5</text>
<text x="416.27" y="166.80" font-size="10.2" fill="#231f20">10</text>
<text transform="translate(427.91 163.50) scale(0.8 1)" font-size="7.0" fill="#231f20">6</text>
<text x="310.33" y="180.50" font-size="10.9" text-anchor="start" fill="#231f20" font-weight="normal" font-style="normal" >Frequency (Hz)</text>
<text x="0" y="0" font-size="10.6" fill="#231f20" text-anchor="middle" transform="translate(235.60 79.50) rotate(-90)">|Z| (&#937;)</text>
<clipPath id="cb"><rect x="259.0" y="17.4" width="169.5" height="137.0"/></clipPath>
<path d="M264.0 71.0L265.2 71.9L266.8 73.0L268.8 74.3L270.9 75.8L273.2 77.4L275.6 79.0L278.0 80.7L280.2 82.2L282.3 83.7L284.2 85.0L285.8 86.2L287.3 87.2L288.7 88.2L290.1 89.2L291.3 90.2L292.6 91.1L293.9 92.0L295.3 93.0L296.7 94.0L298.3 95.0L300.0 96.1L301.9 97.3L303.8 98.6L305.9 99.8L307.9 101.1L309.9 102.3L311.9 103.5L313.8 104.6L315.5 105.6L317.1 106.5L318.5 107.3L319.7 107.9L320.9 108.5L321.9 109.0L322.9 109.4L323.8 109.8L324.7 110.2L325.7 110.5L326.7 110.9L327.8 111.2L328.9 111.5L330.1 111.8L331.2 112.0L332.4 112.2L333.6 112.3L334.8 112.5L336.0 112.6L337.3 112.8L338.6 113.0L340.0 113.2L341.4 113.4L342.9 113.6L344.5 113.9L346.1 114.1L347.7 114.3L349.4 114.5L351.0 114.8L352.7 115.1L354.4 115.5L356.1 115.9L357.8 116.3L359.4 116.8L361.0 117.3L362.7 117.8L364.4 118.4L366.1 119.0L367.8 119.6L369.7 120.3L371.6 121.1L373.6 121.9L375.7 122.8L378.0 123.8L380.3 124.9L382.7 126.0L385.2 127.2L387.7 128.4L390.2 129.6L392.7 130.8L395.2 132.1L397.7 133.3L400.3 134.6L403.0 136.0L405.9 137.4L408.8 138.9L411.7 140.4L414.4 141.8L416.9 143.2L419.2 144.3L421.1 145.3L422.6 146.1" fill="none" stroke="#b5476a" stroke-width="1.25" stroke-linejoin="round"/>
<path d="M264.0 71.0h0M266.1 72.4h0M268.2 73.9h0M270.3 75.3h0M272.3 76.8h0M274.4 78.2h0M276.5 79.6h0M278.6 81.1h0M280.7 82.5h0M282.8 84.0h0M284.8 85.4h0M286.9 86.9h0M289.0 88.4h0M291.1 90.0h0M293.1 91.5h0M295.2 92.9h0M297.3 94.3h0M299.4 95.7h0M301.5 97.1h0M303.6 98.4h0M305.7 99.7h0M307.8 101.0h0M309.9 102.3h0M312.0 103.6h0M314.1 104.8h0M316.2 106.0h0M318.4 107.2h0M320.5 108.3h0M322.6 109.3h0M324.8 110.2h0M327.0 111.0h0M329.2 111.6h0M331.4 112.0h0M333.7 112.3h0M336.0 112.6h0M338.2 112.9h0M340.5 113.3h0M342.7 113.6h0M345.0 113.9h0M347.2 114.2h0M349.5 114.6h0M351.7 114.9h0M353.9 115.4h0M356.2 115.9h0M358.4 116.5h0M360.6 117.2h0M362.8 117.8h0M365.0 118.6h0M367.1 119.4h0M369.3 120.2h0M371.5 121.0h0M373.7 121.9h0M375.8 122.9h0M378.0 123.8h0M380.1 124.8h0M382.3 125.8h0M384.4 126.8h0M386.6 127.8h0M388.7 128.9h0M390.9 129.9h0M393.0 131.0h0M395.1 132.0h0M397.3 133.1h0M399.4 134.2h0M401.6 135.2h0M403.7 136.3h0M405.8 137.4h0M408.0 138.5h0M410.1 139.6h0M412.2 140.7h0M414.4 141.8h0M416.5 142.9h0M418.6 144.0h0M420.8 145.2h0" stroke="#b5476a" stroke-width="2.10" stroke-linecap="round" fill="none"/>
<path d="M264.0 51.2L265.0 51.7L266.2 52.4L267.6 53.1L269.2 53.9L270.9 54.8L272.8 55.8L274.9 57.0L277.2 58.3L279.6 59.7L282.2 61.3L285.1 63.1L288.4 65.3L292.0 67.7L295.9 70.2L299.8 72.9L303.7 75.5L307.5 78.1L311.1 80.5L314.3 82.6L317.1 84.5L319.5 86.1L321.7 87.5L323.6 88.8L325.3 89.9L326.9 90.9L328.3 91.8L329.6 92.7L330.9 93.5L332.1 94.2L333.2 95.0L334.2 95.7L335.0 96.3L335.7 96.8L336.3 97.2L336.8 97.6L337.3 98.0L337.8 98.4L338.4 98.8L339.1 99.3L340.0 99.8L341.0 100.4L342.1 101.0L343.2 101.6L344.4 102.3L345.6 103.0L346.9 103.7L348.4 104.4L349.9 105.1L351.6 105.8L353.4 106.5L355.3 107.1L357.2 107.7L359.2 108.2L361.3 108.7L363.5 109.3L365.9 109.9L368.5 110.6L371.3 111.5L374.3 112.6L377.6 113.9L381.5 115.6L386.0 117.7L391.0 120.1L396.3 122.7L401.6 125.3L406.8 127.9L411.8 130.4L416.1 132.6L419.8 134.4L422.6 135.8" fill="none" stroke="#4a82c2" stroke-width="1.25" stroke-linejoin="round"/>
<path d="M264.0 49.8l1.1 1.4l-1.1 1.4l-1.1 -1.4zM266.1 51.0l1.1 1.4l-1.1 1.4l-1.1 -1.4zM268.3 52.1l1.1 1.4l-1.1 1.4l-1.1 -1.4zM270.4 53.2l1.1 1.4l-1.1 1.4l-1.1 -1.4zM272.5 54.3l1.1 1.4l-1.1 1.4l-1.1 -1.4zM274.7 55.5l1.1 1.4l-1.1 1.4l-1.1 -1.4zM276.8 56.7l1.1 1.4l-1.1 1.4l-1.1 -1.4zM278.9 57.9l1.1 1.4l-1.1 1.4l-1.1 -1.4zM281.0 59.2l1.1 1.4l-1.1 1.4l-1.1 -1.4zM283.1 60.5l1.1 1.4l-1.1 1.4l-1.1 -1.4zM285.2 61.8l1.1 1.4l-1.1 1.4l-1.1 -1.4zM287.3 63.2l1.1 1.4l-1.1 1.4l-1.1 -1.4zM289.4 64.6l1.1 1.4l-1.1 1.4l-1.1 -1.4zM291.5 66.0l1.1 1.4l-1.1 1.4l-1.1 -1.4zM293.6 67.4l1.1 1.4l-1.1 1.4l-1.1 -1.4zM295.7 68.7l1.1 1.4l-1.1 1.4l-1.1 -1.4zM297.8 70.2l1.1 1.4l-1.1 1.4l-1.1 -1.4zM299.8 71.6l1.1 1.4l-1.1 1.4l-1.1 -1.4zM301.9 73.0l1.1 1.4l-1.1 1.4l-1.1 -1.4zM304.0 74.4l1.1 1.4l-1.1 1.4l-1.1 -1.4zM306.1 75.8l1.1 1.4l-1.1 1.4l-1.1 -1.4zM308.2 77.2l1.1 1.4l-1.1 1.4l-1.1 -1.4zM310.3 78.6l1.1 1.4l-1.1 1.4l-1.1 -1.4zM312.4 80.0l1.1 1.4l-1.1 1.4l-1.1 -1.4zM314.5 81.4l1.1 1.4l-1.1 1.4l-1.1 -1.4zM316.6 82.8l1.1 1.4l-1.1 1.4l-1.1 -1.4zM318.7 84.2l1.1 1.4l-1.1 1.4l-1.1 -1.4zM320.7 85.5l1.1 1.4l-1.1 1.4l-1.1 -1.4zM322.8 86.9l1.1 1.4l-1.1 1.4l-1.1 -1.4zM324.9 88.3l1.1 1.4l-1.1 1.4l-1.1 -1.4zM327.0 89.6l1.1 1.4l-1.1 1.4l-1.1 -1.4zM329.1 91.0l1.1 1.4l-1.1 1.4l-1.1 -1.4zM331.2 92.3l1.1 1.4l-1.1 1.4l-1.1 -1.4zM333.3 93.7l1.1 1.4l-1.1 1.4l-1.1 -1.4zM335.4 95.2l1.1 1.4l-1.1 1.4l-1.1 -1.4zM337.5 96.8l1.1 1.4l-1.1 1.4l-1.1 -1.4zM339.5 98.2l1.1 1.4l-1.1 1.4l-1.1 -1.4zM341.7 99.4l1.1 1.4l-1.1 1.4l-1.1 -1.4zM343.8 100.6l1.1 1.4l-1.1 1.4l-1.1 -1.4zM345.9 101.8l1.1 1.4l-1.1 1.4l-1.1 -1.4zM348.0 102.9l1.1 1.4l-1.1 1.4l-1.1 -1.4zM350.2 103.8l1.1 1.4l-1.1 1.4l-1.1 -1.4zM352.4 104.7l1.1 1.4l-1.1 1.4l-1.1 -1.4zM354.5 105.5l1.1 1.4l-1.1 1.4l-1.1 -1.4zM356.7 106.2l1.1 1.4l-1.1 1.4l-1.1 -1.4zM359.0 106.8l1.1 1.4l-1.1 1.4l-1.1 -1.4zM361.2 107.3l1.1 1.4l-1.1 1.4l-1.1 -1.4zM363.4 107.9l1.1 1.4l-1.1 1.4l-1.1 -1.4zM365.6 108.4l1.1 1.4l-1.1 1.4l-1.1 -1.4zM367.8 109.0l1.1 1.4l-1.1 1.4l-1.1 -1.4zM370.0 109.7l1.1 1.4l-1.1 1.4l-1.1 -1.4zM372.2 110.5l1.1 1.4l-1.1 1.4l-1.1 -1.4zM374.4 111.2l1.1 1.4l-1.1 1.4l-1.1 -1.4zM376.6 112.1l1.1 1.4l-1.1 1.4l-1.1 -1.4zM378.7 113.0l1.1 1.4l-1.1 1.4l-1.1 -1.4zM380.9 114.0l1.1 1.4l-1.1 1.4l-1.1 -1.4zM383.0 115.0l1.1 1.4l-1.1 1.4l-1.1 -1.4zM385.2 116.0l1.1 1.4l-1.1 1.4l-1.1 -1.4zM387.3 117.0l1.1 1.4l-1.1 1.4l-1.1 -1.4zM389.5 118.0l1.1 1.4l-1.1 1.4l-1.1 -1.4zM391.6 119.0l1.1 1.4l-1.1 1.4l-1.1 -1.4zM393.8 120.1l1.1 1.4l-1.1 1.4l-1.1 -1.4zM395.9 121.1l1.1 1.4l-1.1 1.4l-1.1 -1.4zM398.0 122.2l1.1 1.4l-1.1 1.4l-1.1 -1.4zM400.2 123.2l1.1 1.4l-1.1 1.4l-1.1 -1.4zM402.3 124.3l1.1 1.4l-1.1 1.4l-1.1 -1.4zM404.5 125.4l1.1 1.4l-1.1 1.4l-1.1 -1.4zM406.6 126.4l1.1 1.4l-1.1 1.4l-1.1 -1.4zM408.7 127.5l1.1 1.4l-1.1 1.4l-1.1 -1.4zM410.9 128.6l1.1 1.4l-1.1 1.4l-1.1 -1.4zM413.0 129.7l1.1 1.4l-1.1 1.4l-1.1 -1.4zM415.2 130.7l1.1 1.4l-1.1 1.4l-1.1 -1.4zM417.3 131.8l1.1 1.4l-1.1 1.4l-1.1 -1.4zM419.4 132.9l1.1 1.4l-1.1 1.4l-1.1 -1.4zM421.6 133.9l1.1 1.4l-1.1 1.4l-1.1 -1.4z" fill="#4a82c2"/>
<path d="M264.0 37.4L281.5 48.2L292.9 56.0L337.2 85.0L340.0 87.0L358.8 99.8L377.6 111.9L397.7 124.0L422.6 140.0" fill="none" stroke="#39a988" stroke-width="1.25" stroke-linejoin="round"/>
<path d="M264.0 38.7l1.2 -2.2h-2.4zM266.1 40.0l1.2 -2.2h-2.4zM268.2 41.3l1.2 -2.2h-2.4zM270.3 42.6l1.2 -2.2h-2.4zM272.4 43.9l1.2 -2.2h-2.4zM274.5 45.2l1.2 -2.2h-2.4zM276.6 46.5l1.2 -2.2h-2.4zM278.7 47.8l1.2 -2.2h-2.4zM280.8 49.1l1.2 -2.2h-2.4zM282.9 50.5l1.2 -2.2h-2.4zM285.0 51.9l1.2 -2.2h-2.4zM287.1 53.4l1.2 -2.2h-2.4zM289.2 54.8l1.2 -2.2h-2.4zM291.3 56.2l1.2 -2.2h-2.4zM293.4 57.6l1.2 -2.2h-2.4zM295.5 59.0l1.2 -2.2h-2.4zM297.6 60.4l1.2 -2.2h-2.4zM299.6 61.7l1.2 -2.2h-2.4zM301.7 63.1l1.2 -2.2h-2.4zM303.8 64.5l1.2 -2.2h-2.4zM305.9 65.9l1.2 -2.2h-2.4zM308.0 67.2l1.2 -2.2h-2.4zM310.1 68.6l1.2 -2.2h-2.4zM312.2 70.0l1.2 -2.2h-2.4zM314.3 71.3l1.2 -2.2h-2.4zM316.4 72.7l1.2 -2.2h-2.4zM318.5 74.1l1.2 -2.2h-2.4zM320.6 75.4l1.2 -2.2h-2.4zM322.7 76.8l1.2 -2.2h-2.4zM324.8 78.2l1.2 -2.2h-2.4zM326.9 79.6l1.2 -2.2h-2.4zM329.0 80.9l1.2 -2.2h-2.4zM331.1 82.3l1.2 -2.2h-2.4zM333.2 83.7l1.2 -2.2h-2.4zM335.3 85.0l1.2 -2.2h-2.4zM337.3 86.4l1.2 -2.2h-2.4zM339.4 87.9l1.2 -2.2h-2.4zM341.5 89.3l1.2 -2.2h-2.4zM343.6 90.8l1.2 -2.2h-2.4zM345.7 92.2l1.2 -2.2h-2.4zM347.8 93.6l1.2 -2.2h-2.4zM349.9 95.0l1.2 -2.2h-2.4zM351.9 96.4l1.2 -2.2h-2.4zM354.0 97.9l1.2 -2.2h-2.4zM356.1 99.3l1.2 -2.2h-2.4zM358.2 100.7l1.2 -2.2h-2.4zM360.3 102.1l1.2 -2.2h-2.4zM362.4 103.4l1.2 -2.2h-2.4zM364.5 104.8l1.2 -2.2h-2.4zM366.6 106.1l1.2 -2.2h-2.4zM368.7 107.5l1.2 -2.2h-2.4zM370.8 108.8l1.2 -2.2h-2.4zM372.9 110.2l1.2 -2.2h-2.4zM375.0 111.5l1.2 -2.2h-2.4zM377.1 112.9l1.2 -2.2h-2.4zM379.2 114.2l1.2 -2.2h-2.4zM381.3 115.4l1.2 -2.2h-2.4zM383.4 116.7l1.2 -2.2h-2.4zM385.5 118.0l1.2 -2.2h-2.4zM387.6 119.3l1.2 -2.2h-2.4zM389.7 120.5l1.2 -2.2h-2.4zM391.8 121.8l1.2 -2.2h-2.4zM393.9 123.1l1.2 -2.2h-2.4zM396.1 124.3l1.2 -2.2h-2.4zM398.2 125.6l1.2 -2.2h-2.4zM400.3 127.0l1.2 -2.2h-2.4zM402.4 128.3l1.2 -2.2h-2.4zM404.5 129.7l1.2 -2.2h-2.4zM406.6 131.0l1.2 -2.2h-2.4zM408.7 132.4l1.2 -2.2h-2.4zM410.8 133.7l1.2 -2.2h-2.4zM412.8 135.1l1.2 -2.2h-2.4zM414.9 136.4l1.2 -2.2h-2.4zM417.0 137.8l1.2 -2.2h-2.4zM419.1 139.1l1.2 -2.2h-2.4zM421.2 140.4l1.2 -2.2h-2.4z" fill="#39a988"/>
<path d="M264.0 34.7L267.4 33.8L270.0 36.0L275.5 41.8L280.0 41.8L284.9 41.2L290.2 47.9L296.3 49.0L317.0 63.6L337.9 78.5L341.0 73.0L344.0 64.7L346.7 64.0L350.0 66.0L353.4 70.7L356.1 78.8L357.5 90.9L380.3 108.5L391.0 113.2L422.6 134.0" fill="none" stroke="#bdcd3d" stroke-width="1.25" stroke-linejoin="round"/>
<path d="M264.0 33.4l1.2 2.2h-2.4zM266.2 32.8l1.2 2.2h-2.4zM268.3 33.3l1.2 2.2h-2.4zM270.4 35.1l1.2 2.2h-2.4zM272.4 37.2l1.2 2.2h-2.4zM274.3 39.3l1.2 2.2h-2.4zM276.5 40.5l1.2 2.2h-2.4zM278.8 40.5l1.2 2.2h-2.4zM281.0 40.4l1.2 2.2h-2.4zM283.3 40.1l1.2 2.2h-2.4zM285.5 40.6l1.2 2.2h-2.4zM287.4 43.0l1.2 2.2h-2.4zM289.3 45.5l1.2 2.2h-2.4zM291.4 46.8l1.2 2.2h-2.4zM293.7 47.2l1.2 2.2h-2.4zM295.9 47.6l1.2 2.2h-2.4zM298.0 48.9l1.2 2.2h-2.4zM300.1 50.4l1.2 2.2h-2.4zM302.2 51.8l1.2 2.2h-2.4zM304.3 53.3l1.2 2.2h-2.4zM306.3 54.8l1.2 2.2h-2.4zM308.4 56.2l1.2 2.2h-2.4zM310.5 57.7l1.2 2.2h-2.4zM312.6 59.2l1.2 2.2h-2.4zM314.7 60.6l1.2 2.2h-2.4zM316.7 62.1l1.2 2.2h-2.4zM318.8 63.6l1.2 2.2h-2.4zM320.9 65.1l1.2 2.2h-2.4zM323.0 66.5l1.2 2.2h-2.4zM325.1 68.0l1.2 2.2h-2.4zM327.1 69.5l1.2 2.2h-2.4zM329.2 71.0l1.2 2.2h-2.4zM331.3 72.5l1.2 2.2h-2.4zM333.4 73.9l1.2 2.2h-2.4zM335.4 75.4l1.2 2.2h-2.4zM337.5 76.9l1.2 2.2h-2.4zM339.4 74.5l1.2 2.2h-2.4zM341.2 71.2l1.2 2.2h-2.4zM342.8 66.7l1.2 2.2h-2.4zM344.6 63.2l1.2 2.2h-2.4zM346.8 62.7l1.2 2.2h-2.4zM348.9 64.0l1.2 2.2h-2.4zM350.9 65.9l1.2 2.2h-2.4zM352.8 68.6l1.2 2.2h-2.4zM354.5 72.7l1.2 2.2h-2.4zM356.1 77.4l1.2 2.2h-2.4zM357.1 86.1l1.2 2.2h-2.4zM358.7 90.5l1.2 2.2h-2.4zM360.8 92.1l1.2 2.2h-2.4zM362.9 93.7l1.2 2.2h-2.4zM364.9 95.3l1.2 2.2h-2.4zM367.0 96.9l1.2 2.2h-2.4zM369.0 98.5l1.2 2.2h-2.4zM371.1 100.1l1.2 2.2h-2.4zM373.2 101.7l1.2 2.2h-2.4zM375.2 103.3l1.2 2.2h-2.4zM377.3 104.8l1.2 2.2h-2.4zM379.3 106.4l1.2 2.2h-2.4zM381.5 107.7l1.2 2.2h-2.4zM383.6 108.6l1.2 2.2h-2.4zM385.8 109.6l1.2 2.2h-2.4zM387.9 110.5l1.2 2.2h-2.4zM390.1 111.5l1.2 2.2h-2.4zM392.2 112.7l1.2 2.2h-2.4zM394.3 114.1l1.2 2.2h-2.4zM396.4 115.4l1.2 2.2h-2.4zM398.5 116.8l1.2 2.2h-2.4zM400.6 118.2l1.2 2.2h-2.4zM402.7 119.6l1.2 2.2h-2.4zM404.8 120.9l1.2 2.2h-2.4zM406.9 122.3l1.2 2.2h-2.4zM409.0 123.7l1.2 2.2h-2.4zM411.0 125.1l1.2 2.2h-2.4zM413.1 126.5l1.2 2.2h-2.4zM415.2 127.8l1.2 2.2h-2.4zM417.3 129.2l1.2 2.2h-2.4zM419.4 130.6l1.2 2.2h-2.4zM421.5 132.0l1.2 2.2h-2.4z" fill="#bdcd3d"/>
<line x1="352.00" y1="25.30" x2="367.00" y2="25.30" stroke="#b5476a" stroke-width="0.9"/>
<path d="M359.5 25.3h0" stroke="#b5476a" stroke-width="2.00" stroke-linecap="round" fill="none"/>
<text x="368.43" y="29.22" font-size="10.9" text-anchor="start" fill="#231f20" font-weight="normal" font-style="normal" >E-tattoo</text>
<line x1="352.00" y1="36.50" x2="367.00" y2="36.50" stroke="#4a82c2" stroke-width="0.9"/>
<path d="M359.5 35.2l1.0 1.3l-1.0 1.3l-1.0 -1.3z" fill="#4a82c2"/>
<text x="368.43" y="40.42" font-size="10.9" text-anchor="start" fill="#231f20" font-weight="normal" font-style="normal" >Liquid metal</text>
<line x1="352.00" y1="47.40" x2="367.00" y2="47.40" stroke="#bdcd3d" stroke-width="0.9"/>
<path d="M359.5 46.2l1.1 2.0h-2.2z" fill="#bdcd3d"/>
<text x="368.75" y="51.32" font-size="10.9" text-anchor="start" fill="#231f20" font-weight="normal" font-style="normal" >Cu film</text>
<line x1="352.00" y1="58.40" x2="367.00" y2="58.40" stroke="#39a988" stroke-width="0.9"/>
<path d="M359.5 59.6l1.1 -2.0h-2.2z" fill="#39a988"/>
<text x="369.25" y="62.32" font-size="10.9" text-anchor="start" fill="#231f20" font-weight="normal" font-style="normal" >Al film</text>
<line x1="490.30" y1="17.50" x2="660.90" y2="17.50" stroke="#454243" stroke-width="1.15"/>
<line x1="660.50" y1="17.50" x2="660.50" y2="154.70" stroke="#454243" stroke-width="1.15"/>
<line x1="490.20" y1="154.30" x2="660.90" y2="154.30" stroke="#2a2627" stroke-width="1.25"/>
<line x1="490.50" y1="17.20" x2="490.50" y2="154.70" stroke="#2a2627" stroke-width="1.5"/>
<line x1="490.50" y1="30.90" x2="487.70" y2="30.90" stroke="#231f20" stroke-width="0.8"/>
<line x1="490.50" y1="44.60" x2="487.70" y2="44.60" stroke="#231f20" stroke-width="0.8"/>
<line x1="490.50" y1="58.30" x2="487.70" y2="58.30" stroke="#231f20" stroke-width="0.8"/>
<line x1="490.50" y1="72.00" x2="487.70" y2="72.00" stroke="#231f20" stroke-width="0.8"/>
<line x1="490.50" y1="85.70" x2="487.70" y2="85.70" stroke="#231f20" stroke-width="0.8"/>
<line x1="490.50" y1="99.40" x2="487.70" y2="99.40" stroke="#231f20" stroke-width="0.8"/>
<line x1="490.50" y1="113.10" x2="487.70" y2="113.10" stroke="#231f20" stroke-width="0.8"/>
<line x1="490.50" y1="126.80" x2="487.70" y2="126.80" stroke="#231f20" stroke-width="0.8"/>
<line x1="490.50" y1="140.50" x2="487.70" y2="140.50" stroke="#231f20" stroke-width="0.8"/>
<line x1="490.50" y1="154.20" x2="487.70" y2="154.20" stroke="#231f20" stroke-width="0.8"/>
<text x="480.04" y="34.50" font-size="10.6" text-anchor="start" fill="#231f20" font-weight="normal" font-style="normal" >0</text>
<text x="470.61" y="61.90" font-size="10.6" text-anchor="start" fill="#231f20" font-weight="normal" font-style="normal" >-20</text>
<text x="470.61" y="89.30" font-size="10.6" text-anchor="start" fill="#231f20" font-weight="normal" font-style="normal" >-40</text>
<text x="470.61" y="116.70" font-size="10.6" text-anchor="start" fill="#231f20" font-weight="normal" font-style="normal" >-60</text>
<text x="470.61" y="144.10" font-size="10.6" text-anchor="start" fill="#231f20" font-weight="normal" font-style="normal" >-80</text>
<line x1="491.70" y1="154.30" x2="491.70" y2="155.80" stroke="#231f20" stroke-width="0.7"/>
<line x1="493.23" y1="154.30" x2="493.23" y2="155.80" stroke="#231f20" stroke-width="0.7"/>
<line x1="494.59" y1="154.30" x2="494.59" y2="155.80" stroke="#231f20" stroke-width="0.7"/>
<line x1="495.80" y1="154.30" x2="495.80" y2="156.90" stroke="#231f20" stroke-width="0.7"/>
<line x1="503.77" y1="154.30" x2="503.77" y2="155.80" stroke="#231f20" stroke-width="0.7"/>
<line x1="508.43" y1="154.30" x2="508.43" y2="155.80" stroke="#231f20" stroke-width="0.7"/>
<line x1="511.74" y1="154.30" x2="511.74" y2="155.80" stroke="#231f20" stroke-width="0.7"/>
<line x1="514.30" y1="154.30" x2="514.30" y2="155.80" stroke="#231f20" stroke-width="0.7"/>
<line x1="516.40" y1="154.30" x2="516.40" y2="155.80" stroke="#231f20" stroke-width="0.7"/>
<line x1="518.17" y1="154.30" x2="518.17" y2="155.80" stroke="#231f20" stroke-width="0.7"/>
<line x1="519.70" y1="154.30" x2="519.70" y2="155.80" stroke="#231f20" stroke-width="0.7"/>
<line x1="521.06" y1="154.30" x2="521.06" y2="155.80" stroke="#231f20" stroke-width="0.7"/>
<line x1="522.27" y1="154.30" x2="522.27" y2="156.90" stroke="#231f20" stroke-width="0.7"/>
<line x1="530.24" y1="154.30" x2="530.24" y2="155.80" stroke="#231f20" stroke-width="0.7"/>
<line x1="534.90" y1="154.30" x2="534.90" y2="155.80" stroke="#231f20" stroke-width="0.7"/>
<line x1="538.21" y1="154.30" x2="538.21" y2="155.80" stroke="#231f20" stroke-width="0.7"/>
<line x1="540.77" y1="154.30" x2="540.77" y2="155.80" stroke="#231f20" stroke-width="0.7"/>
<line x1="542.87" y1="154.30" x2="542.87" y2="155.80" stroke="#231f20" stroke-width="0.7"/>
<line x1="544.64" y1="154.30" x2="544.64" y2="155.80" stroke="#231f20" stroke-width="0.7"/>
<line x1="546.17" y1="154.30" x2="546.17" y2="155.80" stroke="#231f20" stroke-width="0.7"/>
<line x1="547.53" y1="154.30" x2="547.53" y2="155.80" stroke="#231f20" stroke-width="0.7"/>
<line x1="548.74" y1="154.30" x2="548.74" y2="156.90" stroke="#231f20" stroke-width="0.7"/>
<line x1="556.71" y1="154.30" x2="556.71" y2="155.80" stroke="#231f20" stroke-width="0.7"/>
<line x1="561.37" y1="154.30" x2="561.37" y2="155.80" stroke="#231f20" stroke-width="0.7"/>
<line x1="564.68" y1="154.30" x2="564.68" y2="155.80" stroke="#231f20" stroke-width="0.7"/>
<line x1="567.24" y1="154.30" x2="567.24" y2="155.80" stroke="#231f20" stroke-width="0.7"/>
<line x1="569.34" y1="154.30" x2="569.34" y2="155.80" stroke="#231f20" stroke-width="0.7"/>
<line x1="571.11" y1="154.30" x2="571.11" y2="155.80" stroke="#231f20" stroke-width="0.7"/>
<line x1="572.64" y1="154.30" x2="572.64" y2="155.80" stroke="#231f20" stroke-width="0.7"/>
<line x1="574.00" y1="154.30" x2="574.00" y2="155.80" stroke="#231f20" stroke-width="0.7"/>
<line x1="575.21" y1="154.30" x2="575.21" y2="156.90" stroke="#231f20" stroke-width="0.7"/>
<line x1="583.18" y1="154.30" x2="583.18" y2="155.80" stroke="#231f20" stroke-width="0.7"/>
<line x1="587.84" y1="154.30" x2="587.84" y2="155.80" stroke="#231f20" stroke-width="0.7"/>
<line x1="591.15" y1="154.30" x2="591.15" y2="155.80" stroke="#231f20" stroke-width="0.7"/>
<line x1="593.71" y1="154.30" x2="593.71" y2="155.80" stroke="#231f20" stroke-width="0.7"/>
<line x1="595.81" y1="154.30" x2="595.81" y2="155.80" stroke="#231f20" stroke-width="0.7"/>
<line x1="597.58" y1="154.30" x2="597.58" y2="155.80" stroke="#231f20" stroke-width="0.7"/>
<line x1="599.11" y1="154.30" x2="599.11" y2="155.80" stroke="#231f20" stroke-width="0.7"/>
<line x1="600.47" y1="154.30" x2="600.47" y2="155.80" stroke="#231f20" stroke-width="0.7"/>
<line x1="601.68" y1="154.30" x2="601.68" y2="156.90" stroke="#231f20" stroke-width="0.7"/>
<line x1="609.65" y1="154.30" x2="609.65" y2="155.80" stroke="#231f20" stroke-width="0.7"/>
<line x1="614.31" y1="154.30" x2="614.31" y2="155.80" stroke="#231f20" stroke-width="0.7"/>
<line x1="617.62" y1="154.30" x2="617.62" y2="155.80" stroke="#231f20" stroke-width="0.7"/>
<line x1="620.18" y1="154.30" x2="620.18" y2="155.80" stroke="#231f20" stroke-width="0.7"/>
<line x1="622.28" y1="154.30" x2="622.28" y2="155.80" stroke="#231f20" stroke-width="0.7"/>
<line x1="624.05" y1="154.30" x2="624.05" y2="155.80" stroke="#231f20" stroke-width="0.7"/>
<line x1="625.58" y1="154.30" x2="625.58" y2="155.80" stroke="#231f20" stroke-width="0.7"/>
<line x1="626.94" y1="154.30" x2="626.94" y2="155.80" stroke="#231f20" stroke-width="0.7"/>
<line x1="628.15" y1="154.30" x2="628.15" y2="156.90" stroke="#231f20" stroke-width="0.7"/>
<line x1="636.12" y1="154.30" x2="636.12" y2="155.80" stroke="#231f20" stroke-width="0.7"/>
<line x1="640.78" y1="154.30" x2="640.78" y2="155.80" stroke="#231f20" stroke-width="0.7"/>
<line x1="644.09" y1="154.30" x2="644.09" y2="155.80" stroke="#231f20" stroke-width="0.7"/>
<line x1="646.65" y1="154.30" x2="646.65" y2="155.80" stroke="#231f20" stroke-width="0.7"/>
<line x1="648.75" y1="154.30" x2="648.75" y2="155.80" stroke="#231f20" stroke-width="0.7"/>
<line x1="650.52" y1="154.30" x2="650.52" y2="155.80" stroke="#231f20" stroke-width="0.7"/>
<line x1="652.05" y1="154.30" x2="652.05" y2="155.80" stroke="#231f20" stroke-width="0.7"/>
<line x1="653.41" y1="154.30" x2="653.41" y2="155.80" stroke="#231f20" stroke-width="0.7"/>
<line x1="654.62" y1="154.30" x2="654.62" y2="156.90" stroke="#231f20" stroke-width="0.7"/>
<text x="488.93" y="166.80" font-size="10.2" fill="#231f20">10</text>
<text transform="translate(500.62 163.50) scale(0.8 1)" font-size="7.0" fill="#231f20">0</text>
<text x="515.53" y="166.80" font-size="10.2" fill="#231f20">10</text>
<text transform="translate(527.02 163.50) scale(0.8 1)" font-size="7.0" fill="#231f20">1</text>
<text x="541.93" y="166.80" font-size="10.2" fill="#231f20">10</text>
<text transform="translate(553.56 163.50) scale(0.8 1)" font-size="7.0" fill="#231f20">2</text>
<text x="568.35" y="166.80" font-size="10.2" fill="#231f20">10</text>
<text transform="translate(580.04 163.50) scale(0.8 1)" font-size="7.0" fill="#231f20">3</text>
<text x="594.74" y="166.80" font-size="10.2" fill="#231f20">10</text>
<text transform="translate(606.51 163.50) scale(0.8 1)" font-size="7.0" fill="#231f20">4</text>
<text x="621.28" y="166.80" font-size="10.2" fill="#231f20">10</text>
<text transform="translate(632.97 163.50) scale(0.8 1)" font-size="7.0" fill="#231f20">5</text>
<text x="647.79" y="166.80" font-size="10.2" fill="#231f20">10</text>
<text transform="translate(659.43 163.50) scale(0.8 1)" font-size="7.0" fill="#231f20">6</text>
<text x="537.63" y="180.20" font-size="10.9" text-anchor="start" fill="#231f20" font-weight="normal" font-style="normal" >Frequency (Hz)</text>
<text x="0" y="0" font-size="10.6" fill="#231f20" text-anchor="middle" transform="translate(463.00 88.50) rotate(-90)">Phase (&#176;)</text>
<clipPath id="cc"><rect x="490.5" y="17.5" width="170.0" height="136.8"/></clipPath>
<path d="M494.7 124.0L495.1 124.4L495.5 125.0L496.0 125.7L496.6 126.5L497.3 127.4L498.0 128.2L498.7 129.1L499.4 129.9L500.0 130.6L500.7 131.3L501.3 131.9L502.0 132.4L502.6 133.0L503.2 133.5L503.9 133.9L504.6 134.4L505.2 134.8L506.0 135.2L506.7 135.6L507.5 136.0L508.3 136.4L509.3 136.7L510.2 137.1L511.2 137.4L512.2 137.7L513.2 138.0L514.2 138.2L515.2 138.4L516.1 138.6L516.9 138.7L517.7 138.8L518.4 138.8L519.1 138.8L519.8 138.8L520.5 138.7L521.1 138.6L521.8 138.5L522.4 138.3L523.0 138.2L523.6 138.0L524.2 137.8L524.7 137.7L525.3 137.5L525.8 137.3L526.3 137.1L526.8 136.8L527.3 136.5L527.9 136.2L528.4 135.8L529.0 135.4L529.6 134.9L530.2 134.4L530.9 133.9L531.5 133.3L532.2 132.7L532.9 132.0L533.6 131.3L534.3 130.5L535.0 129.6L535.7 128.6L536.5 127.5L537.2 126.3L538.0 124.9L538.9 123.5L539.7 122.0L540.5 120.5L541.4 119.0L542.2 117.5L542.9 116.0L543.7 114.5L544.4 113.1L545.1 111.6L545.8 110.1L546.5 108.7L547.1 107.2L547.8 105.7L548.4 104.2L549.1 102.8L549.7 101.3L550.4 99.8L551.1 98.3L551.8 96.8L552.4 95.4L553.1 93.9L553.8 92.4L554.5 90.9L555.2 89.4L555.8 87.9L556.5 86.5L557.2 85.0L557.9 83.5L558.6 82.0L559.3 80.4L560.0 78.8L560.6 77.3L561.3 75.8L562.0 74.3L562.7 73.0L563.3 71.8L563.9 70.7L564.5 69.8L565.0 68.9L565.6 68.2L566.1 67.6L566.6 67.0L567.1 66.6L567.6 66.1L568.1 65.7L568.6 65.4L569.2 65.0L569.8 64.7L570.3 64.4L570.8 64.1L571.4 63.9L571.9 63.7L572.5 63.6L573.1 63.5L573.8 63.5L574.5 63.6L575.3 63.7L576.2 63.9L577.1 64.1L578.1 64.4L579.1 64.8L580.2 65.2L581.3 65.7L582.4 66.2L583.5 66.8L584.5 67.4L585.5 68.1L586.5 68.8L587.4 69.6L588.4 70.5L589.4 71.4L590.3 72.4L591.3 73.4L592.2 74.4L593.0 75.4L593.9 76.4L594.7 77.3L595.5 78.2L596.2 79.1L596.8 80.0L597.5 80.9L598.1 81.8L598.7 82.7L599.3 83.6L599.9 84.6L600.6 85.5L601.3 86.5L602.0 87.5L602.8 88.5L603.5 89.6L604.3 90.7L605.1 91.8L605.9 92.8L606.7 93.9L607.5 95.0L608.4 96.0L609.2 97.0L610.1 98.0L611.0 99.0L611.9 99.9L612.8 100.9L613.7 101.8L614.7 102.8L615.6 103.7L616.5 104.5L617.5 105.4L618.4 106.2L619.3 107.0L620.2 107.8L621.1 108.5L622.0 109.2L622.9 109.9L623.8 110.6L624.7 111.2L625.7 111.8L626.6 112.3L627.6 112.8L628.6 113.2L629.7 113.6L630.7 114.0L631.8 114.3L632.9 114.6L634.0 114.9L635.1 115.1L636.1 115.2L637.1 115.3L638.1 115.4L639.0 115.4L639.9 115.4L640.7 115.3L641.5 115.1L642.3 114.9L643.1 114.7L643.8 114.5L644.6 114.2L645.3 113.8L646.0 113.5L646.7 113.1L647.5 112.6L648.3 112.0L649.0 111.4L649.7 110.7L650.4 110.1L651.1 109.5L651.6 109.0L652.1 108.5L652.5 108.2" fill="none" stroke="#b5476a" stroke-width="1.25" stroke-linejoin="round"/>
<path d="M494.7 124.0h0M496.6 126.5h0M498.6 129.0h0M500.5 131.1h0M502.6 132.9h0M504.6 134.4h0M506.8 135.6h0M508.9 136.6h0M511.1 137.4h0M513.3 138.0h0M515.5 138.5h0M517.8 138.8h0M520.1 138.7h0M522.3 138.3h0M524.5 137.7h0M526.7 136.9h0M528.8 135.6h0M530.8 133.9h0M532.9 132.0h0M534.8 129.8h0M536.7 127.1h0M538.6 124.0h0M540.4 120.8h0M542.2 117.5h0M544.0 114.0h0M545.7 110.3h0M547.4 106.5h0M549.1 102.6h0M550.9 98.8h0M552.6 95.0h0M554.3 91.2h0M556.1 87.4h0M557.8 83.7h0M559.5 79.8h0M561.2 75.9h0M563.0 72.3h0M564.8 69.2h0M566.8 66.8h0M568.8 65.2h0M571.0 64.1h0M573.2 63.5h0M575.5 63.7h0M577.7 64.3h0M579.8 65.1h0M582.0 66.1h0M584.1 67.2h0M586.2 68.6h0M588.3 70.4h0M590.3 72.3h0M592.2 74.5h0M594.2 76.7h0M596.2 79.1h0M598.0 81.8h0M599.9 84.6h0M601.8 87.2h0M603.7 89.9h0M605.6 92.5h0M607.6 95.0h0M609.5 97.4h0M611.5 99.5h0M613.5 101.6h0M615.5 103.6h0M617.5 105.4h0M619.5 107.2h0M621.6 108.9h0M623.6 110.4h0M625.7 111.8h0M627.9 112.9h0M630.0 113.8h0M632.2 114.5h0M634.5 115.0h0M636.7 115.3h0M639.0 115.4h0M641.3 115.2h0M643.5 114.6h0M645.6 113.7h0M647.7 112.4h0M649.8 110.7h0M651.8 108.8h0" stroke="#b5476a" stroke-width="2.10" stroke-linecap="round" fill="none"/>
<path d="M494.7 122.6L494.9 122.7L495.1 122.9L495.3 123.2L495.6 123.4L495.8 123.7L496.1 124.0L496.5 124.2L496.8 124.4L497.1 124.6L497.4 124.6L497.7 124.6L498.0 124.4L498.4 124.2L498.7 124.0L499.1 123.7L499.4 123.4L499.7 123.2L500.1 122.9L500.4 122.7L500.7 122.6L501.0 122.5L501.3 122.4L501.5 122.3L501.8 122.2L502.0 122.2L502.2 122.2L502.5 122.2L502.8 122.3L503.1 122.4L503.4 122.6L503.8 122.9L504.2 123.3L504.6 123.9L505.0 124.4L505.5 125.0L505.9 125.6L506.3 126.2L506.8 126.7L507.1 127.1L507.5 127.3L507.8 127.4L508.1 127.4L508.3 127.3L508.5 127.2L508.8 127.0L509.0 126.8L509.2 126.5L509.5 126.3L509.8 126.1L510.1 126.0L510.5 125.9L510.9 125.7L511.4 125.6L511.9 125.5L512.4 125.3L512.9 125.2L513.4 125.1L513.9 125.1L514.3 125.2L514.8 125.3L515.2 125.5L515.6 125.8L516.1 126.1L516.5 126.5L516.9 126.9L517.2 127.4L517.6 127.8L518.1 128.3L518.5 128.8L518.9 129.3L519.3 129.8L519.8 130.3L520.2 130.9L520.6 131.5L521.1 132.0L521.5 132.6L522.0 133.2L522.5 133.7L523.0 134.2L523.6 134.7L524.2 135.1L524.8 135.5L525.4 135.9L526.1 136.2L526.7 136.6L527.4 136.9L528.1 137.2L528.8 137.5L529.6 137.7L530.3 138.0L531.0 138.3L531.8 138.5L532.6 138.7L533.4 139.0L534.2 139.2L535.0 139.4L535.9 139.5L536.7 139.6L537.5 139.7L538.3 139.8L539.1 139.8L539.9 139.8L540.8 139.7L541.6 139.5L542.4 139.4L543.3 139.3L544.1 139.1L544.9 138.9L545.6 138.8L546.4 138.7L547.1 138.6L547.8 138.6L548.5 138.6L549.2 138.6L549.8 138.6L550.5 138.6L551.1 138.5L551.8 138.4L552.4 138.3L553.1 138.0L553.8 137.7L554.4 137.3L555.1 136.9L555.7 136.5L556.4 136.0L557.0 135.5L557.7 134.9L558.4 134.2L559.1 133.5L559.8 132.7L560.6 131.8L561.3 130.8L562.1 129.8L562.9 128.7L563.8 127.5L564.6 126.3L565.4 125.1L566.3 123.8L567.1 122.6L567.9 121.3L568.7 120.0L569.6 118.6L570.4 117.2L571.3 115.8L572.2 114.3L573.0 112.9L573.8 111.5L574.6 110.2L575.3 108.9L576.0 107.8L576.6 106.8L577.1 105.9L577.5 105.0L577.9 104.3L578.2 103.6L578.6 102.9L579.0 102.1L579.4 101.4L579.8 100.6L580.3 99.7L580.9 98.7L581.4 97.6L582.0 96.5L582.7 95.3L583.3 94.2L584.0 93.0L584.7 91.9L585.4 90.9L586.1 90.0L586.8 89.2L587.5 88.5L588.3 88.0L589.1 87.5L589.9 87.0L590.7 86.7L591.5 86.4L592.3 86.2L593.1 86.0L593.9 85.9L594.7 85.9L595.5 85.9L596.2 86.1L596.9 86.3L597.7 86.5L598.4 86.9L599.2 87.2L599.9 87.7L600.8 88.1L601.7 88.7L602.6 89.2L603.6 89.8L604.7 90.4L605.8 91.1L607.0 91.9L608.2 92.6L609.4 93.5L610.6 94.3L611.9 95.2L613.1 96.1L614.4 97.0L615.7 98.0L617.0 99.1L618.3 100.2L619.7 101.4L621.1 102.6L622.4 103.8L623.8 104.9L625.1 105.9L626.4 106.8L627.6 107.6L628.8 108.2L629.9 108.8L631.0 109.2L632.1 109.6L633.2 109.9L634.2 110.2L635.2 110.4L636.2 110.6L637.2 110.7L638.1 110.8L639.0 110.9L639.9 110.9L640.7 110.9L641.5 110.8L642.3 110.7L643.1 110.5L643.8 110.3L644.6 110.1L645.3 109.8L646.0 109.5L646.7 109.1L647.5 108.7L648.3 108.2L649.0 107.6L649.7 107.0L650.4 106.4L651.1 105.9L651.6 105.4L652.1 105.0L652.5 104.7" fill="none" stroke="#4a82c2" stroke-width="1.25" stroke-linejoin="round"/>
<path d="M494.7 121.2l1.1 1.4l-1.1 1.4l-1.1 -1.4zM496.7 123.0l1.1 1.4l-1.1 1.4l-1.1 -1.4zM498.9 122.5l1.1 1.4l-1.1 1.4l-1.1 -1.4zM501.0 121.1l1.1 1.4l-1.1 1.4l-1.1 -1.4zM503.2 121.1l1.1 1.4l-1.1 1.4l-1.1 -1.4zM505.2 123.3l1.1 1.4l-1.1 1.4l-1.1 -1.4zM507.1 125.7l1.1 1.4l-1.1 1.4l-1.1 -1.4zM509.2 125.2l1.1 1.4l-1.1 1.4l-1.1 -1.4zM511.4 124.2l1.1 1.4l-1.1 1.4l-1.1 -1.4zM513.6 123.8l1.1 1.4l-1.1 1.4l-1.1 -1.4zM515.8 124.5l1.1 1.4l-1.1 1.4l-1.1 -1.4zM517.8 126.6l1.1 1.4l-1.1 1.4l-1.1 -1.4zM519.7 128.9l1.1 1.4l-1.1 1.4l-1.1 -1.4zM521.7 131.4l1.1 1.4l-1.1 1.4l-1.1 -1.4zM523.7 133.4l1.1 1.4l-1.1 1.4l-1.1 -1.4zM525.8 134.7l1.1 1.4l-1.1 1.4l-1.1 -1.4zM527.9 135.7l1.1 1.4l-1.1 1.4l-1.1 -1.4zM530.1 136.6l1.1 1.4l-1.1 1.4l-1.1 -1.4zM532.3 137.3l1.1 1.4l-1.1 1.4l-1.1 -1.4zM534.5 137.9l1.1 1.4l-1.1 1.4l-1.1 -1.4zM536.7 138.3l1.1 1.4l-1.1 1.4l-1.1 -1.4zM539.0 138.4l1.1 1.4l-1.1 1.4l-1.1 -1.4zM541.3 138.2l1.1 1.4l-1.1 1.4l-1.1 -1.4zM543.5 137.8l1.1 1.4l-1.1 1.4l-1.1 -1.4zM545.8 137.4l1.1 1.4l-1.1 1.4l-1.1 -1.4zM548.0 137.2l1.1 1.4l-1.1 1.4l-1.1 -1.4zM550.3 137.2l1.1 1.4l-1.1 1.4l-1.1 -1.4zM552.6 136.8l1.1 1.4l-1.1 1.4l-1.1 -1.4zM554.7 135.8l1.1 1.4l-1.1 1.4l-1.1 -1.4zM556.8 134.3l1.1 1.4l-1.1 1.4l-1.1 -1.4zM558.8 132.4l1.1 1.4l-1.1 1.4l-1.1 -1.4zM560.8 130.2l1.1 1.4l-1.1 1.4l-1.1 -1.4zM562.7 127.7l1.1 1.4l-1.1 1.4l-1.1 -1.4zM564.6 125.0l1.1 1.4l-1.1 1.4l-1.1 -1.4zM566.5 122.1l1.1 1.4l-1.1 1.4l-1.1 -1.4zM568.3 119.3l1.1 1.4l-1.1 1.4l-1.1 -1.4zM570.2 116.3l1.1 1.4l-1.1 1.4l-1.1 -1.4zM572.0 113.3l1.1 1.4l-1.1 1.4l-1.1 -1.4zM573.9 110.1l1.1 1.4l-1.1 1.4l-1.1 -1.4zM575.7 107.0l1.1 1.4l-1.1 1.4l-1.1 -1.4zM577.5 103.7l1.1 1.4l-1.1 1.4l-1.1 -1.4zM579.3 100.2l1.1 1.4l-1.1 1.4l-1.1 -1.4zM581.1 96.9l1.1 1.4l-1.1 1.4l-1.1 -1.4zM582.9 93.6l1.1 1.4l-1.1 1.4l-1.1 -1.4zM584.7 90.5l1.1 1.4l-1.1 1.4l-1.1 -1.4zM586.6 88.0l1.1 1.4l-1.1 1.4l-1.1 -1.4zM588.7 86.4l1.1 1.4l-1.1 1.4l-1.1 -1.4zM590.8 85.3l1.1 1.4l-1.1 1.4l-1.1 -1.4zM593.0 84.7l1.1 1.4l-1.1 1.4l-1.1 -1.4zM595.3 84.6l1.1 1.4l-1.1 1.4l-1.1 -1.4zM597.5 85.1l1.1 1.4l-1.1 1.4l-1.1 -1.4zM599.7 86.2l1.1 1.4l-1.1 1.4l-1.1 -1.4zM601.8 87.4l1.1 1.4l-1.1 1.4l-1.1 -1.4zM603.9 88.6l1.1 1.4l-1.1 1.4l-1.1 -1.4zM606.0 89.9l1.1 1.4l-1.1 1.4l-1.1 -1.4zM608.1 91.2l1.1 1.4l-1.1 1.4l-1.1 -1.4zM610.2 92.6l1.1 1.4l-1.1 1.4l-1.1 -1.4zM612.3 94.1l1.1 1.4l-1.1 1.4l-1.1 -1.4zM614.4 95.6l1.1 1.4l-1.1 1.4l-1.1 -1.4zM616.4 97.2l1.1 1.4l-1.1 1.4l-1.1 -1.4zM618.5 98.9l1.1 1.4l-1.1 1.4l-1.1 -1.4zM620.5 100.7l1.1 1.4l-1.1 1.4l-1.1 -1.4zM622.5 102.5l1.1 1.4l-1.1 1.4l-1.1 -1.4zM624.6 104.1l1.1 1.4l-1.1 1.4l-1.1 -1.4zM626.7 105.6l1.1 1.4l-1.1 1.4l-1.1 -1.4zM628.8 106.9l1.1 1.4l-1.1 1.4l-1.1 -1.4zM630.9 107.8l1.1 1.4l-1.1 1.4l-1.1 -1.4zM633.1 108.6l1.1 1.4l-1.1 1.4l-1.1 -1.4zM635.3 109.1l1.1 1.4l-1.1 1.4l-1.1 -1.4zM637.6 109.4l1.1 1.4l-1.1 1.4l-1.1 -1.4zM639.9 109.5l1.1 1.4l-1.1 1.4l-1.1 -1.4zM642.1 109.3l1.1 1.4l-1.1 1.4l-1.1 -1.4zM644.4 108.8l1.1 1.4l-1.1 1.4l-1.1 -1.4zM646.5 107.9l1.1 1.4l-1.1 1.4l-1.1 -1.4zM648.6 106.5l1.1 1.4l-1.1 1.4l-1.1 -1.4zM650.7 104.9l1.1 1.4l-1.1 1.4l-1.1 -1.4z" fill="#4a82c2"/>
<path d="M494.7 119.2L497.4 114.5L500.0 116.6L502.1 121.3L504.1 121.3L506.1 126.6L508.8 132.7L511.5 130.7L514.8 121.9L523.6 128.0L533.0 132.0L543.7 135.4L549.0 136.7L557.2 138.7L570.6 140.7L581.6 141.7L590.8 136.5L601.3 132.5L611.8 130.5L622.3 129.2L632.8 130.5L640.7 129.2L652.5 122.7" fill="none" stroke="#39a988" stroke-width="1.25" stroke-linejoin="round"/>
<path d="M494.7 120.5l1.2 -2.2h-2.4zM496.5 117.3l1.2 -2.2h-2.4zM498.5 116.7l1.2 -2.2h-2.4zM500.4 118.9l1.2 -2.2h-2.4zM502.2 122.6l1.2 -2.2h-2.4zM504.4 123.3l1.2 -2.2h-2.4zM506.0 127.7l1.2 -2.2h-2.4zM507.7 131.6l1.2 -2.2h-2.4zM509.6 133.4l1.2 -2.2h-2.4zM511.6 131.7l1.2 -2.2h-2.4zM513.3 127.3l1.2 -2.2h-2.4zM514.9 123.3l1.2 -2.2h-2.4zM517.0 124.8l1.2 -2.2h-2.4zM519.1 126.2l1.2 -2.2h-2.4zM521.2 127.6l1.2 -2.2h-2.4zM523.3 129.1l1.2 -2.2h-2.4zM525.4 130.1l1.2 -2.2h-2.4zM527.6 131.0l1.2 -2.2h-2.4zM529.7 131.9l1.2 -2.2h-2.4zM531.9 132.9l1.2 -2.2h-2.4zM534.1 133.7l1.2 -2.2h-2.4zM536.3 134.4l1.2 -2.2h-2.4zM538.5 135.1l1.2 -2.2h-2.4zM540.7 135.8l1.2 -2.2h-2.4zM542.9 136.5l1.2 -2.2h-2.4zM545.1 137.1l1.2 -2.2h-2.4zM547.3 137.6l1.2 -2.2h-2.4zM549.5 138.1l1.2 -2.2h-2.4zM551.7 138.7l1.2 -2.2h-2.4zM553.9 139.2l1.2 -2.2h-2.4zM556.2 139.8l1.2 -2.2h-2.4zM558.4 140.2l1.2 -2.2h-2.4zM560.6 140.5l1.2 -2.2h-2.4zM562.9 140.9l1.2 -2.2h-2.4zM565.1 141.2l1.2 -2.2h-2.4zM567.4 141.5l1.2 -2.2h-2.4zM569.6 141.9l1.2 -2.2h-2.4zM571.9 142.1l1.2 -2.2h-2.4zM574.2 142.3l1.2 -2.2h-2.4zM576.4 142.6l1.2 -2.2h-2.4zM578.7 142.8l1.2 -2.2h-2.4zM581.0 143.0l1.2 -2.2h-2.4zM583.1 142.1l1.2 -2.2h-2.4zM585.3 140.9l1.2 -2.2h-2.4zM587.4 139.8l1.2 -2.2h-2.4zM589.5 138.6l1.2 -2.2h-2.4zM591.6 137.5l1.2 -2.2h-2.4zM593.8 136.7l1.2 -2.2h-2.4zM596.0 135.8l1.2 -2.2h-2.4zM598.2 135.0l1.2 -2.2h-2.4zM600.3 134.2l1.2 -2.2h-2.4zM602.6 133.6l1.2 -2.2h-2.4zM604.8 133.2l1.2 -2.2h-2.4zM607.0 132.7l1.2 -2.2h-2.4zM609.3 132.3l1.2 -2.2h-2.4zM611.5 131.9l1.2 -2.2h-2.4zM613.8 131.6l1.2 -2.2h-2.4zM616.0 131.3l1.2 -2.2h-2.4zM618.3 131.0l1.2 -2.2h-2.4zM620.5 130.7l1.2 -2.2h-2.4zM622.8 130.6l1.2 -2.2h-2.4zM625.0 130.9l1.2 -2.2h-2.4zM627.3 131.1l1.2 -2.2h-2.4zM629.6 131.4l1.2 -2.2h-2.4zM631.8 131.7l1.2 -2.2h-2.4zM634.1 131.6l1.2 -2.2h-2.4zM636.3 131.2l1.2 -2.2h-2.4zM638.6 130.9l1.2 -2.2h-2.4zM640.8 130.5l1.2 -2.2h-2.4zM642.9 129.3l1.2 -2.2h-2.4zM645.1 128.1l1.2 -2.2h-2.4zM647.2 127.0l1.2 -2.2h-2.4zM649.3 125.8l1.2 -2.2h-2.4zM651.4 124.6l1.2 -2.2h-2.4z" fill="#39a988"/>
<path d="M494.7 65.3L497.4 59.3L499.4 68.0L501.4 83.5L503.4 76.1L506.1 78.8L508.1 96.4L510.1 112.5L512.8 120.6L515.5 122.6L517.5 117.2L518.9 87.0L521.6 55.3L523.8 76.1L526.0 116.6L537.0 124.0L543.7 128.6L548.4 130.7L554.5 136.7L562.5 139.4L570.6 141.4L581.6 144.3L594.7 141.0L607.8 140.4L623.6 137.1L636.8 137.1L652.5 131.2" fill="none" stroke="#bdcd3d" stroke-width="1.25" stroke-linejoin="round"/>
<path d="M494.7 64.0l1.2 2.2h-2.4zM496.4 60.1l1.2 2.2h-2.4zM498.0 60.6l1.2 2.2h-2.4zM499.4 66.7l1.2 2.2h-2.4zM500.5 74.9l1.2 2.2h-2.4zM501.6 81.5l1.2 2.2h-2.4zM503.1 76.1l1.2 2.2h-2.4zM504.9 76.3l1.2 2.2h-2.4zM506.5 81.1l1.2 2.2h-2.4zM507.5 89.8l1.2 2.2h-2.4zM508.5 98.4l1.2 2.2h-2.4zM509.6 106.8l1.2 2.2h-2.4zM510.9 113.5l1.2 2.2h-2.4zM512.4 118.2l1.2 2.2h-2.4zM514.4 120.5l1.2 2.2h-2.4zM516.3 119.2l1.2 2.2h-2.4zM517.6 113.0l1.2 2.2h-2.4zM518.2 101.2l1.2 2.2h-2.4zM518.7 89.5l1.2 2.2h-2.4zM519.5 79.1l1.2 2.2h-2.4zM520.3 69.3l1.2 2.2h-2.4zM521.1 59.6l1.2 2.2h-2.4zM522.0 57.9l1.2 2.2h-2.4zM523.0 66.8l1.2 2.2h-2.4zM523.9 76.1l1.2 2.2h-2.4zM524.5 87.4l1.2 2.2h-2.4zM525.1 98.6l1.2 2.2h-2.4zM525.7 109.9l1.2 2.2h-2.4zM527.1 116.0l1.2 2.2h-2.4zM529.2 117.4l1.2 2.2h-2.4zM531.3 118.8l1.2 2.2h-2.4zM533.4 120.2l1.2 2.2h-2.4zM535.4 121.6l1.2 2.2h-2.4zM537.5 123.0l1.2 2.2h-2.4zM539.6 124.5l1.2 2.2h-2.4zM541.7 125.9l1.2 2.2h-2.4zM543.8 127.3l1.2 2.2h-2.4zM545.9 128.3l1.2 2.2h-2.4zM548.1 129.2l1.2 2.2h-2.4zM550.1 131.1l1.2 2.2h-2.4zM552.1 133.0l1.2 2.2h-2.4zM554.1 135.0l1.2 2.2h-2.4zM556.3 136.0l1.2 2.2h-2.4zM558.5 136.7l1.2 2.2h-2.4zM560.7 137.5l1.2 2.2h-2.4zM562.9 138.2l1.2 2.2h-2.4zM565.1 138.7l1.2 2.2h-2.4zM567.3 139.3l1.2 2.2h-2.4zM569.5 139.8l1.2 2.2h-2.4zM571.7 140.4l1.2 2.2h-2.4zM573.9 141.0l1.2 2.2h-2.4zM576.2 141.5l1.2 2.2h-2.4zM578.4 142.1l1.2 2.2h-2.4zM580.6 142.7l1.2 2.2h-2.4zM582.8 142.7l1.2 2.2h-2.4zM585.0 142.1l1.2 2.2h-2.4zM587.2 141.6l1.2 2.2h-2.4zM589.4 141.0l1.2 2.2h-2.4zM591.7 140.4l1.2 2.2h-2.4zM593.9 139.9l1.2 2.2h-2.4zM596.1 139.6l1.2 2.2h-2.4zM598.4 139.5l1.2 2.2h-2.4zM600.7 139.4l1.2 2.2h-2.4zM603.0 139.3l1.2 2.2h-2.4zM605.3 139.2l1.2 2.2h-2.4zM607.6 139.1l1.2 2.2h-2.4zM609.8 138.7l1.2 2.2h-2.4zM612.0 138.2l1.2 2.2h-2.4zM614.3 137.7l1.2 2.2h-2.4zM616.5 137.3l1.2 2.2h-2.4zM618.7 136.8l1.2 2.2h-2.4zM620.9 136.3l1.2 2.2h-2.4zM623.2 135.9l1.2 2.2h-2.4zM625.5 135.8l1.2 2.2h-2.4zM627.8 135.8l1.2 2.2h-2.4zM630.1 135.8l1.2 2.2h-2.4zM632.4 135.8l1.2 2.2h-2.4zM634.7 135.8l1.2 2.2h-2.4zM637.0 135.7l1.2 2.2h-2.4zM639.1 134.9l1.2 2.2h-2.4zM641.3 134.1l1.2 2.2h-2.4zM643.5 133.3l1.2 2.2h-2.4zM645.7 132.5l1.2 2.2h-2.4zM647.8 131.6l1.2 2.2h-2.4zM650.0 130.8l1.2 2.2h-2.4zM652.2 130.0l1.2 2.2h-2.4z" fill="#bdcd3d"/>
<line x1="583.60" y1="23.40" x2="597.60" y2="23.40" stroke="#b5476a" stroke-width="0.9"/>
<path d="M590.6 23.4h0" stroke="#b5476a" stroke-width="2.00" stroke-linecap="round" fill="none"/>
<text x="599.73" y="27.32" font-size="10.9" text-anchor="start" fill="#231f20" font-weight="normal" font-style="normal" >E-tattoo</text>
<line x1="583.60" y1="35.40" x2="597.60" y2="35.40" stroke="#4a82c2" stroke-width="0.9"/>
<path d="M590.6 34.1l1.0 1.3l-1.0 1.3l-1.0 -1.3z" fill="#4a82c2"/>
<text x="599.73" y="39.32" font-size="10.9" text-anchor="start" fill="#231f20" font-weight="normal" font-style="normal" >Liquid metal</text>
<line x1="583.60" y1="46.40" x2="597.60" y2="46.40" stroke="#bdcd3d" stroke-width="0.9"/>
<path d="M590.6 45.2l1.1 2.0h-2.2z" fill="#bdcd3d"/>
<text x="600.06" y="50.32" font-size="10.9" text-anchor="start" fill="#231f20" font-weight="normal" font-style="normal" >Cu film</text>
<line x1="583.60" y1="57.40" x2="597.60" y2="57.40" stroke="#39a988" stroke-width="0.9"/>
<path d="M590.6 58.6l1.1 -2.0h-2.2z" fill="#39a988"/>
<text x="600.55" y="61.32" font-size="10.9" text-anchor="start" fill="#231f20" font-weight="normal" font-style="normal" >Al film</text>
<line x1="259.30" y1="219.30" x2="429.80" y2="219.30" stroke="#5e5b5c" stroke-width="1.15"/>
<line x1="429.40" y1="219.30" x2="429.40" y2="355.60" stroke="#5e5b5c" stroke-width="1.15"/>
<line x1="259.20" y1="355.20" x2="429.80" y2="355.20" stroke="#2a2627" stroke-width="1.25"/>
<line x1="259.50" y1="219.00" x2="259.50" y2="355.60" stroke="#2a2627" stroke-width="1.5"/>
<line x1="259.50" y1="351.72" x2="258.00" y2="351.72" stroke="#231f20" stroke-width="0.7"/>
<line x1="259.50" y1="348.87" x2="258.00" y2="348.87" stroke="#231f20" stroke-width="0.7"/>
<line x1="259.50" y1="346.85" x2="258.00" y2="346.85" stroke="#231f20" stroke-width="0.7"/>
<line x1="259.50" y1="345.28" x2="258.00" y2="345.28" stroke="#231f20" stroke-width="0.7"/>
<line x1="259.50" y1="343.99" x2="258.00" y2="343.99" stroke="#231f20" stroke-width="0.7"/>
<line x1="259.50" y1="342.91" x2="258.00" y2="342.91" stroke="#231f20" stroke-width="0.7"/>
<line x1="259.50" y1="341.97" x2="258.00" y2="341.97" stroke="#231f20" stroke-width="0.7"/>
<line x1="259.50" y1="341.14" x2="258.00" y2="341.14" stroke="#231f20" stroke-width="0.7"/>
<line x1="259.50" y1="340.40" x2="256.70" y2="340.40" stroke="#231f20" stroke-width="0.7"/>
<line x1="259.50" y1="335.52" x2="258.00" y2="335.52" stroke="#231f20" stroke-width="0.7"/>
<line x1="259.50" y1="332.67" x2="258.00" y2="332.67" stroke="#231f20" stroke-width="0.7"/>
<line x1="259.50" y1="330.65" x2="258.00" y2="330.65" stroke="#231f20" stroke-width="0.7"/>
<line x1="259.50" y1="329.08" x2="258.00" y2="329.08" stroke="#231f20" stroke-width="0.7"/>
<line x1="259.50" y1="327.79" x2="258.00" y2="327.79" stroke="#231f20" stroke-width="0.7"/>
<line x1="259.50" y1="326.71" x2="258.00" y2="326.71" stroke="#231f20" stroke-width="0.7"/>
<line x1="259.50" y1="325.77" x2="258.00" y2="325.77" stroke="#231f20" stroke-width="0.7"/>
<line x1="259.50" y1="324.94" x2="258.00" y2="324.94" stroke="#231f20" stroke-width="0.7"/>
<line x1="259.50" y1="324.20" x2="256.70" y2="324.20" stroke="#231f20" stroke-width="0.7"/>
<line x1="259.50" y1="319.32" x2="258.00" y2="319.32" stroke="#231f20" stroke-width="0.7"/>
<line x1="259.50" y1="316.47" x2="258.00" y2="316.47" stroke="#231f20" stroke-width="0.7"/>
<line x1="259.50" y1="314.45" x2="258.00" y2="314.45" stroke="#231f20" stroke-width="0.7"/>
<line x1="259.50" y1="312.88" x2="258.00" y2="312.88" stroke="#231f20" stroke-width="0.7"/>
<line x1="259.50" y1="311.59" x2="258.00" y2="311.59" stroke="#231f20" stroke-width="0.7"/>
<line x1="259.50" y1="310.51" x2="258.00" y2="310.51" stroke="#231f20" stroke-width="0.7"/>
<line x1="259.50" y1="309.57" x2="258.00" y2="309.57" stroke="#231f20" stroke-width="0.7"/>
<line x1="259.50" y1="308.74" x2="258.00" y2="308.74" stroke="#231f20" stroke-width="0.7"/>
<line x1="259.50" y1="308.00" x2="256.70" y2="308.00" stroke="#231f20" stroke-width="0.7"/>
<line x1="259.50" y1="303.12" x2="258.00" y2="303.12" stroke="#231f20" stroke-width="0.7"/>
<line x1="259.50" y1="300.27" x2="258.00" y2="300.27" stroke="#231f20" stroke-width="0.7"/>
<line x1="259.50" y1="298.25" x2="258.00" y2="298.25" stroke="#231f20" stroke-width="0.7"/>
<line x1="259.50" y1="296.68" x2="258.00" y2="296.68" stroke="#231f20" stroke-width="0.7"/>
<line x1="259.50" y1="295.39" x2="258.00" y2="295.39" stroke="#231f20" stroke-width="0.7"/>
<line x1="259.50" y1="294.31" x2="258.00" y2="294.31" stroke="#231f20" stroke-width="0.7"/>
<line x1="259.50" y1="293.37" x2="258.00" y2="293.37" stroke="#231f20" stroke-width="0.7"/>
<line x1="259.50" y1="292.54" x2="258.00" y2="292.54" stroke="#231f20" stroke-width="0.7"/>
<line x1="259.50" y1="291.80" x2="256.70" y2="291.80" stroke="#231f20" stroke-width="0.7"/>
<line x1="259.50" y1="286.92" x2="258.00" y2="286.92" stroke="#231f20" stroke-width="0.7"/>
<line x1="259.50" y1="284.07" x2="258.00" y2="284.07" stroke="#231f20" stroke-width="0.7"/>
<line x1="259.50" y1="282.05" x2="258.00" y2="282.05" stroke="#231f20" stroke-width="0.7"/>
<line x1="259.50" y1="280.48" x2="258.00" y2="280.48" stroke="#231f20" stroke-width="0.7"/>
<line x1="259.50" y1="279.19" x2="258.00" y2="279.19" stroke="#231f20" stroke-width="0.7"/>
<line x1="259.50" y1="278.11" x2="258.00" y2="278.11" stroke="#231f20" stroke-width="0.7"/>
<line x1="259.50" y1="277.17" x2="258.00" y2="277.17" stroke="#231f20" stroke-width="0.7"/>
<line x1="259.50" y1="276.34" x2="258.00" y2="276.34" stroke="#231f20" stroke-width="0.7"/>
<line x1="259.50" y1="275.60" x2="256.70" y2="275.60" stroke="#231f20" stroke-width="0.7"/>
<line x1="259.50" y1="270.72" x2="258.00" y2="270.72" stroke="#231f20" stroke-width="0.7"/>
<line x1="259.50" y1="267.87" x2="258.00" y2="267.87" stroke="#231f20" stroke-width="0.7"/>
<line x1="259.50" y1="265.85" x2="258.00" y2="265.85" stroke="#231f20" stroke-width="0.7"/>
<line x1="259.50" y1="264.28" x2="258.00" y2="264.28" stroke="#231f20" stroke-width="0.7"/>
<line x1="259.50" y1="262.99" x2="258.00" y2="262.99" stroke="#231f20" stroke-width="0.7"/>
<line x1="259.50" y1="261.91" x2="258.00" y2="261.91" stroke="#231f20" stroke-width="0.7"/>
<line x1="259.50" y1="260.97" x2="258.00" y2="260.97" stroke="#231f20" stroke-width="0.7"/>
<line x1="259.50" y1="260.14" x2="258.00" y2="260.14" stroke="#231f20" stroke-width="0.7"/>
<line x1="259.50" y1="259.40" x2="256.70" y2="259.40" stroke="#231f20" stroke-width="0.7"/>
<line x1="259.50" y1="254.52" x2="258.00" y2="254.52" stroke="#231f20" stroke-width="0.7"/>
<line x1="259.50" y1="251.67" x2="258.00" y2="251.67" stroke="#231f20" stroke-width="0.7"/>
<line x1="259.50" y1="249.65" x2="258.00" y2="249.65" stroke="#231f20" stroke-width="0.7"/>
<line x1="259.50" y1="248.08" x2="258.00" y2="248.08" stroke="#231f20" stroke-width="0.7"/>
<line x1="259.50" y1="246.79" x2="258.00" y2="246.79" stroke="#231f20" stroke-width="0.7"/>
<line x1="259.50" y1="245.71" x2="258.00" y2="245.71" stroke="#231f20" stroke-width="0.7"/>
<line x1="259.50" y1="244.77" x2="258.00" y2="244.77" stroke="#231f20" stroke-width="0.7"/>
<line x1="259.50" y1="243.94" x2="258.00" y2="243.94" stroke="#231f20" stroke-width="0.7"/>
<line x1="259.50" y1="243.20" x2="256.70" y2="243.20" stroke="#231f20" stroke-width="0.7"/>
<line x1="259.50" y1="238.32" x2="258.00" y2="238.32" stroke="#231f20" stroke-width="0.7"/>
<line x1="259.50" y1="235.47" x2="258.00" y2="235.47" stroke="#231f20" stroke-width="0.7"/>
<line x1="259.50" y1="233.45" x2="258.00" y2="233.45" stroke="#231f20" stroke-width="0.7"/>
<line x1="259.50" y1="231.88" x2="258.00" y2="231.88" stroke="#231f20" stroke-width="0.7"/>
<line x1="259.50" y1="230.59" x2="258.00" y2="230.59" stroke="#231f20" stroke-width="0.7"/>
<line x1="259.50" y1="229.51" x2="258.00" y2="229.51" stroke="#231f20" stroke-width="0.7"/>
<line x1="259.50" y1="228.57" x2="258.00" y2="228.57" stroke="#231f20" stroke-width="0.7"/>
<line x1="259.50" y1="227.74" x2="258.00" y2="227.74" stroke="#231f20" stroke-width="0.7"/>
<line x1="259.50" y1="227.00" x2="256.70" y2="227.00" stroke="#231f20" stroke-width="0.7"/>
<line x1="259.50" y1="222.12" x2="258.00" y2="222.12" stroke="#231f20" stroke-width="0.7"/>
<text x="238.69" y="230.00" font-size="10.0" fill="#231f20">10</text>
<text x="249.40" y="226.20" font-size="6.5" fill="#231f20">11</text>
<text x="241.58" y="262.40" font-size="10.0" fill="#231f20">10</text>
<text x="252.49" y="258.60" font-size="6.5" fill="#231f20">9</text>
<text x="241.64" y="294.80" font-size="10.0" fill="#231f20">10</text>
<text x="252.52" y="291.00" font-size="6.5" fill="#231f20">7</text>
<text x="241.51" y="327.20" font-size="10.0" fill="#231f20">10</text>
<text x="252.45" y="323.40" font-size="6.5" fill="#231f20">5</text>
<line x1="261.11" y1="355.20" x2="261.11" y2="356.70" stroke="#231f20" stroke-width="0.7"/>
<line x1="262.64" y1="355.20" x2="262.64" y2="356.70" stroke="#231f20" stroke-width="0.7"/>
<line x1="263.99" y1="355.20" x2="263.99" y2="356.70" stroke="#231f20" stroke-width="0.7"/>
<line x1="265.20" y1="355.20" x2="265.20" y2="357.80" stroke="#231f20" stroke-width="0.7"/>
<line x1="273.15" y1="355.20" x2="273.15" y2="356.70" stroke="#231f20" stroke-width="0.7"/>
<line x1="277.80" y1="355.20" x2="277.80" y2="356.70" stroke="#231f20" stroke-width="0.7"/>
<line x1="281.09" y1="355.20" x2="281.09" y2="356.70" stroke="#231f20" stroke-width="0.7"/>
<line x1="283.65" y1="355.20" x2="283.65" y2="356.70" stroke="#231f20" stroke-width="0.7"/>
<line x1="285.74" y1="355.20" x2="285.74" y2="356.70" stroke="#231f20" stroke-width="0.7"/>
<line x1="287.51" y1="355.20" x2="287.51" y2="356.70" stroke="#231f20" stroke-width="0.7"/>
<line x1="289.04" y1="355.20" x2="289.04" y2="356.70" stroke="#231f20" stroke-width="0.7"/>
<line x1="290.39" y1="355.20" x2="290.39" y2="356.70" stroke="#231f20" stroke-width="0.7"/>
<line x1="291.60" y1="355.20" x2="291.60" y2="357.80" stroke="#231f20" stroke-width="0.7"/>
<line x1="299.55" y1="355.20" x2="299.55" y2="356.70" stroke="#231f20" stroke-width="0.7"/>
<line x1="304.20" y1="355.20" x2="304.20" y2="356.70" stroke="#231f20" stroke-width="0.7"/>
<line x1="307.49" y1="355.20" x2="307.49" y2="356.70" stroke="#231f20" stroke-width="0.7"/>
<line x1="310.05" y1="355.20" x2="310.05" y2="356.70" stroke="#231f20" stroke-width="0.7"/>
<line x1="312.14" y1="355.20" x2="312.14" y2="356.70" stroke="#231f20" stroke-width="0.7"/>
<line x1="313.91" y1="355.20" x2="313.91" y2="356.70" stroke="#231f20" stroke-width="0.7"/>
<line x1="315.44" y1="355.20" x2="315.44" y2="356.70" stroke="#231f20" stroke-width="0.7"/>
<line x1="316.79" y1="355.20" x2="316.79" y2="356.70" stroke="#231f20" stroke-width="0.7"/>
<line x1="318.00" y1="355.20" x2="318.00" y2="357.80" stroke="#231f20" stroke-width="0.7"/>
<line x1="325.95" y1="355.20" x2="325.95" y2="356.70" stroke="#231f20" stroke-width="0.7"/>
<line x1="330.60" y1="355.20" x2="330.60" y2="356.70" stroke="#231f20" stroke-width="0.7"/>
<line x1="333.89" y1="355.20" x2="333.89" y2="356.70" stroke="#231f20" stroke-width="0.7"/>
<line x1="336.45" y1="355.20" x2="336.45" y2="356.70" stroke="#231f20" stroke-width="0.7"/>
<line x1="338.54" y1="355.20" x2="338.54" y2="356.70" stroke="#231f20" stroke-width="0.7"/>
<line x1="340.31" y1="355.20" x2="340.31" y2="356.70" stroke="#231f20" stroke-width="0.7"/>
<line x1="341.84" y1="355.20" x2="341.84" y2="356.70" stroke="#231f20" stroke-width="0.7"/>
<line x1="343.19" y1="355.20" x2="343.19" y2="356.70" stroke="#231f20" stroke-width="0.7"/>
<line x1="344.40" y1="355.20" x2="344.40" y2="357.80" stroke="#231f20" stroke-width="0.7"/>
<line x1="352.35" y1="355.20" x2="352.35" y2="356.70" stroke="#231f20" stroke-width="0.7"/>
<line x1="357.00" y1="355.20" x2="357.00" y2="356.70" stroke="#231f20" stroke-width="0.7"/>
<line x1="360.29" y1="355.20" x2="360.29" y2="356.70" stroke="#231f20" stroke-width="0.7"/>
<line x1="362.85" y1="355.20" x2="362.85" y2="356.70" stroke="#231f20" stroke-width="0.7"/>
<line x1="364.94" y1="355.20" x2="364.94" y2="356.70" stroke="#231f20" stroke-width="0.7"/>
<line x1="366.71" y1="355.20" x2="366.71" y2="356.70" stroke="#231f20" stroke-width="0.7"/>
<line x1="368.24" y1="355.20" x2="368.24" y2="356.70" stroke="#231f20" stroke-width="0.7"/>
<line x1="369.59" y1="355.20" x2="369.59" y2="356.70" stroke="#231f20" stroke-width="0.7"/>
<line x1="370.80" y1="355.20" x2="370.80" y2="357.80" stroke="#231f20" stroke-width="0.7"/>
<line x1="378.75" y1="355.20" x2="378.75" y2="356.70" stroke="#231f20" stroke-width="0.7"/>
<line x1="383.40" y1="355.20" x2="383.40" y2="356.70" stroke="#231f20" stroke-width="0.7"/>
<line x1="386.69" y1="355.20" x2="386.69" y2="356.70" stroke="#231f20" stroke-width="0.7"/>
<line x1="389.25" y1="355.20" x2="389.25" y2="356.70" stroke="#231f20" stroke-width="0.7"/>
<line x1="391.34" y1="355.20" x2="391.34" y2="356.70" stroke="#231f20" stroke-width="0.7"/>
<line x1="393.11" y1="355.20" x2="393.11" y2="356.70" stroke="#231f20" stroke-width="0.7"/>
<line x1="394.64" y1="355.20" x2="394.64" y2="356.70" stroke="#231f20" stroke-width="0.7"/>
<line x1="395.99" y1="355.20" x2="395.99" y2="356.70" stroke="#231f20" stroke-width="0.7"/>
<line x1="397.20" y1="355.20" x2="397.20" y2="357.80" stroke="#231f20" stroke-width="0.7"/>
<line x1="405.15" y1="355.20" x2="405.15" y2="356.70" stroke="#231f20" stroke-width="0.7"/>
<line x1="409.80" y1="355.20" x2="409.80" y2="356.70" stroke="#231f20" stroke-width="0.7"/>
<line x1="413.09" y1="355.20" x2="413.09" y2="356.70" stroke="#231f20" stroke-width="0.7"/>
<line x1="415.65" y1="355.20" x2="415.65" y2="356.70" stroke="#231f20" stroke-width="0.7"/>
<line x1="417.74" y1="355.20" x2="417.74" y2="356.70" stroke="#231f20" stroke-width="0.7"/>
<line x1="419.51" y1="355.20" x2="419.51" y2="356.70" stroke="#231f20" stroke-width="0.7"/>
<line x1="421.04" y1="355.20" x2="421.04" y2="356.70" stroke="#231f20" stroke-width="0.7"/>
<line x1="422.39" y1="355.20" x2="422.39" y2="356.70" stroke="#231f20" stroke-width="0.7"/>
<line x1="423.60" y1="355.20" x2="423.60" y2="357.80" stroke="#231f20" stroke-width="0.7"/>
<text x="258.33" y="368.40" font-size="10.2" fill="#231f20">10</text>
<text transform="translate(270.02 365.10) scale(0.8 1)" font-size="7.0" fill="#231f20">0</text>
<text x="284.86" y="368.40" font-size="10.2" fill="#231f20">10</text>
<text transform="translate(296.35 365.10) scale(0.8 1)" font-size="7.0" fill="#231f20">1</text>
<text x="311.19" y="368.40" font-size="10.2" fill="#231f20">10</text>
<text transform="translate(322.82 365.10) scale(0.8 1)" font-size="7.0" fill="#231f20">2</text>
<text x="337.54" y="368.40" font-size="10.2" fill="#231f20">10</text>
<text transform="translate(349.23 365.10) scale(0.8 1)" font-size="7.0" fill="#231f20">3</text>
<text x="363.86" y="368.40" font-size="10.2" fill="#231f20">10</text>
<text transform="translate(375.63 365.10) scale(0.8 1)" font-size="7.0" fill="#231f20">4</text>
<text x="390.33" y="368.40" font-size="10.2" fill="#231f20">10</text>
<text transform="translate(402.02 365.10) scale(0.8 1)" font-size="7.0" fill="#231f20">5</text>
<text x="416.77" y="368.40" font-size="10.2" fill="#231f20">10</text>
<text transform="translate(428.41 365.10) scale(0.8 1)" font-size="7.0" fill="#231f20">6</text>
<text x="304.73" y="382.00" font-size="10.9" text-anchor="start" fill="#231f20" font-weight="normal" font-style="normal" >Frequency (Hz)</text>
<text x="0" y="0" font-size="10.8" fill="#231f20" text-anchor="middle" transform="translate(235.60 290.00) rotate(-90)">|Z| (&#937;)</text>
<path d="M264.7 295.8L265.8 296.4L267.1 297.2L268.8 298.1L270.6 299.1L272.6 300.2L274.7 301.4L276.7 302.5L278.7 303.6L280.5 304.6L282.2 305.5L283.7 306.3L285.1 307.1L286.5 307.8L287.9 308.5L289.2 309.2L290.4 309.8L291.7 310.4L293.0 311.0L294.3 311.6L295.6 312.2L296.9 312.8L298.2 313.3L299.5 313.8L300.8 314.3L302.1 314.8L303.4 315.3L304.8 315.7L306.1 316.2L307.5 316.5L309.0 316.9L310.5 317.2L312.1 317.5L313.7 317.7L315.4 317.9L317.1 318.1L318.8 318.3L320.5 318.5L322.1 318.6L323.7 318.8L325.2 319.0L326.7 319.2L328.1 319.4L329.5 319.6L330.9 319.8L332.2 320.0L333.5 320.2L334.8 320.4L336.1 320.6L337.4 320.8L338.6 321.0L339.8 321.2L341.0 321.4L342.2 321.6L343.4 321.8L344.5 322.0L345.6 322.2L346.7 322.4L347.8 322.6L348.9 322.8L350.0 323.0L351.0 323.2L351.9 323.3L352.8 323.4L353.6 323.6L354.5 323.7L355.4 323.9L356.4 324.0L357.5 324.3L358.7 324.6L360.1 325.0L361.7 325.5L363.5 326.0L365.4 326.6L367.5 327.3L369.6 328.0L371.7 328.8L373.9 329.5L376.1 330.3L378.2 331.0L380.3 331.8L382.3 332.6L384.3 333.3L386.3 334.1L388.3 334.9L390.3 335.8L392.3 336.6L394.3 337.4L396.3 338.2L398.3 339.0L400.4 339.8L402.6 340.6L405.0 341.4L407.4 342.3L409.9 343.2L412.4 344.0L414.8 344.8L417.0 345.5L419.0 346.2L420.6 346.8L421.9 347.2" fill="none" stroke="#b5476a" stroke-width="1.25" stroke-linejoin="round"/>
<path d="M264.7 295.8h0M266.8 297.0h0M268.9 298.2h0M271.1 299.4h0M273.2 300.6h0M275.3 301.7h0M277.4 302.9h0M279.6 304.1h0M281.7 305.2h0M283.8 306.4h0M285.9 307.5h0M288.1 308.6h0M290.2 309.7h0M292.4 310.7h0M294.5 311.7h0M296.7 312.7h0M298.8 313.6h0M301.0 314.4h0M303.2 315.2h0M305.4 315.9h0M307.6 316.6h0M309.8 317.1h0M312.0 317.5h0M314.3 317.8h0M316.6 318.1h0M318.8 318.3h0M321.1 318.5h0M323.4 318.8h0M325.6 319.1h0M327.9 319.4h0M330.1 319.7h0M332.4 320.0h0M334.6 320.4h0M336.9 320.7h0M339.1 321.1h0M341.4 321.5h0M343.6 321.8h0M345.8 322.2h0M348.1 322.6h0M350.3 323.1h0M352.6 323.4h0M354.8 323.8h0M357.0 324.2h0M359.3 324.8h0M361.5 325.4h0M363.7 326.1h0M365.9 326.8h0M368.0 327.5h0M370.2 328.2h0M372.4 329.0h0M374.6 329.8h0M376.8 330.5h0M379.0 331.3h0M381.2 332.1h0M383.3 333.0h0M385.5 333.8h0M387.7 334.7h0M389.8 335.6h0M392.0 336.5h0M394.2 337.4h0M396.3 338.2h0M398.5 339.1h0M400.7 339.9h0M402.9 340.7h0M405.0 341.5h0M407.2 342.2h0M409.4 343.0h0M411.6 343.7h0M413.8 344.5h0M416.0 345.2h0M418.2 345.9h0M420.4 346.7h0" stroke="#b5476a" stroke-width="2.10" stroke-linecap="round" fill="none"/>
<path d="M265.4 277.5L268.7 278.0L275.5 277.5L281.5 281.8L285.5 281.5L291.6 283.8L297.0 281.6L309.0 282.4L315.7 286.0L327.8 289.4L335.9 292.8L340.6 295.0L346.0 289.9L350.7 293.5L354.8 301.6L364.2 306.3L368.2 305.6L374.9 306.0L385.7 310.3L391.0 317.0L404.5 324.4L421.9 332.9" fill="none" stroke="#4a82c2" stroke-width="1.25" stroke-linejoin="round"/>
<path d="M265.4 276.1l1.1 1.4l-1.1 1.4l-1.1 -1.4zM267.6 276.5l1.1 1.4l-1.1 1.4l-1.1 -1.4zM269.9 276.5l1.1 1.4l-1.1 1.4l-1.1 -1.4zM272.2 276.4l1.1 1.4l-1.1 1.4l-1.1 -1.4zM274.5 276.2l1.1 1.4l-1.1 1.4l-1.1 -1.4zM276.6 276.9l1.1 1.4l-1.1 1.4l-1.1 -1.4zM278.7 278.4l1.1 1.4l-1.1 1.4l-1.1 -1.4zM280.8 279.9l1.1 1.4l-1.1 1.4l-1.1 -1.4zM283.0 280.3l1.1 1.4l-1.1 1.4l-1.1 -1.4zM285.3 280.2l1.1 1.4l-1.1 1.4l-1.1 -1.4zM287.4 280.9l1.1 1.4l-1.1 1.4l-1.1 -1.4zM289.6 281.7l1.1 1.4l-1.1 1.4l-1.1 -1.4zM291.8 282.4l1.1 1.4l-1.1 1.4l-1.1 -1.4zM294.0 281.5l1.1 1.4l-1.1 1.4l-1.1 -1.4zM296.1 280.6l1.1 1.4l-1.1 1.4l-1.1 -1.4zM298.4 280.3l1.1 1.4l-1.1 1.4l-1.1 -1.4zM300.6 280.5l1.1 1.4l-1.1 1.4l-1.1 -1.4zM302.9 280.6l1.1 1.4l-1.1 1.4l-1.1 -1.4zM305.2 280.8l1.1 1.4l-1.1 1.4l-1.1 -1.4zM307.5 280.9l1.1 1.4l-1.1 1.4l-1.1 -1.4zM309.7 281.4l1.1 1.4l-1.1 1.4l-1.1 -1.4zM311.8 282.6l1.1 1.4l-1.1 1.4l-1.1 -1.4zM314.0 283.7l1.1 1.4l-1.1 1.4l-1.1 -1.4zM316.1 284.7l1.1 1.4l-1.1 1.4l-1.1 -1.4zM318.3 285.4l1.1 1.4l-1.1 1.4l-1.1 -1.4zM320.5 286.0l1.1 1.4l-1.1 1.4l-1.1 -1.4zM322.7 286.6l1.1 1.4l-1.1 1.4l-1.1 -1.4zM324.9 287.2l1.1 1.4l-1.1 1.4l-1.1 -1.4zM327.1 287.9l1.1 1.4l-1.1 1.4l-1.1 -1.4zM329.3 288.7l1.1 1.4l-1.1 1.4l-1.1 -1.4zM331.5 289.6l1.1 1.4l-1.1 1.4l-1.1 -1.4zM333.6 290.5l1.1 1.4l-1.1 1.4l-1.1 -1.4zM335.8 291.4l1.1 1.4l-1.1 1.4l-1.1 -1.4zM338.0 292.4l1.1 1.4l-1.1 1.4l-1.1 -1.4zM340.1 293.4l1.1 1.4l-1.1 1.4l-1.1 -1.4zM342.2 292.2l1.1 1.4l-1.1 1.4l-1.1 -1.4zM344.2 290.3l1.1 1.4l-1.1 1.4l-1.1 -1.4zM346.2 288.7l1.1 1.4l-1.1 1.4l-1.1 -1.4zM348.3 290.3l1.1 1.4l-1.1 1.4l-1.1 -1.4zM350.3 291.8l1.1 1.4l-1.1 1.4l-1.1 -1.4zM352.1 295.0l1.1 1.4l-1.1 1.4l-1.1 -1.4zM353.9 298.5l1.1 1.4l-1.1 1.4l-1.1 -1.4zM355.9 300.8l1.1 1.4l-1.1 1.4l-1.1 -1.4zM358.0 301.8l1.1 1.4l-1.1 1.4l-1.1 -1.4zM360.2 302.9l1.1 1.4l-1.1 1.4l-1.1 -1.4zM362.3 304.0l1.1 1.4l-1.1 1.4l-1.1 -1.4zM364.4 304.9l1.1 1.4l-1.1 1.4l-1.1 -1.4zM366.7 304.5l1.1 1.4l-1.1 1.4l-1.1 -1.4zM368.9 304.3l1.1 1.4l-1.1 1.4l-1.1 -1.4zM371.2 304.4l1.1 1.4l-1.1 1.4l-1.1 -1.4zM373.5 304.6l1.1 1.4l-1.1 1.4l-1.1 -1.4zM375.7 305.0l1.1 1.4l-1.1 1.4l-1.1 -1.4zM377.9 305.8l1.1 1.4l-1.1 1.4l-1.1 -1.4zM380.1 306.7l1.1 1.4l-1.1 1.4l-1.1 -1.4zM382.2 307.6l1.1 1.4l-1.1 1.4l-1.1 -1.4zM384.4 308.4l1.1 1.4l-1.1 1.4l-1.1 -1.4zM386.5 309.9l1.1 1.4l-1.1 1.4l-1.1 -1.4zM388.4 312.4l1.1 1.4l-1.1 1.4l-1.1 -1.4zM390.4 314.8l1.1 1.4l-1.1 1.4l-1.1 -1.4zM392.4 316.4l1.1 1.4l-1.1 1.4l-1.1 -1.4zM394.5 317.6l1.1 1.4l-1.1 1.4l-1.1 -1.4zM396.7 318.7l1.1 1.4l-1.1 1.4l-1.1 -1.4zM398.8 319.9l1.1 1.4l-1.1 1.4l-1.1 -1.4zM400.9 321.1l1.1 1.4l-1.1 1.4l-1.1 -1.4zM403.0 322.2l1.1 1.4l-1.1 1.4l-1.1 -1.4zM405.2 323.4l1.1 1.4l-1.1 1.4l-1.1 -1.4zM407.3 324.4l1.1 1.4l-1.1 1.4l-1.1 -1.4zM409.5 325.5l1.1 1.4l-1.1 1.4l-1.1 -1.4zM411.6 326.5l1.1 1.4l-1.1 1.4l-1.1 -1.4zM413.7 327.6l1.1 1.4l-1.1 1.4l-1.1 -1.4zM415.9 328.6l1.1 1.4l-1.1 1.4l-1.1 -1.4zM418.0 329.6l1.1 1.4l-1.1 1.4l-1.1 -1.4zM420.2 330.7l1.1 1.4l-1.1 1.4l-1.1 -1.4z" fill="#4a82c2"/>
<path d="M265.4 265.0L267.4 263.0L271.4 266.3L278.1 269.7L286.2 269.0L289.6 271.0L291.6 273.7L295.6 269.7L302.3 270.4L311.7 274.4L321.1 276.4L331.9 281.1L337.9 286.9L341.9 279.1L346.0 274.7L353.4 278.7L361.5 282.8L364.8 286.8L366.9 292.2L368.9 302.9L380.3 307.6L393.7 315.0L405.8 321.7L412.5 325.0L421.9 331.5" fill="none" stroke="#bdcd3d" stroke-width="1.25" stroke-linejoin="round"/>
<path d="M265.4 263.7l1.2 2.2h-2.4zM267.4 261.7l1.2 2.2h-2.4zM269.4 263.4l1.2 2.2h-2.4zM271.5 265.0l1.2 2.2h-2.4zM273.6 266.1l1.2 2.2h-2.4zM275.8 267.2l1.2 2.2h-2.4zM277.9 268.3l1.2 2.2h-2.4zM280.2 268.2l1.2 2.2h-2.4zM282.4 268.0l1.2 2.2h-2.4zM284.7 267.8l1.2 2.2h-2.4zM286.9 268.1l1.2 2.2h-2.4zM289.0 269.4l1.2 2.2h-2.4zM291.0 271.6l1.2 2.2h-2.4zM293.0 271.0l1.2 2.2h-2.4zM295.0 269.0l1.2 2.2h-2.4zM297.2 268.5l1.2 2.2h-2.4zM299.4 268.8l1.2 2.2h-2.4zM301.7 269.0l1.2 2.2h-2.4zM303.9 269.8l1.2 2.2h-2.4zM306.0 270.7l1.2 2.2h-2.4zM308.2 271.6l1.2 2.2h-2.4zM310.4 272.5l1.2 2.2h-2.4zM312.6 273.3l1.2 2.2h-2.4zM314.8 273.7l1.2 2.2h-2.4zM317.0 274.2l1.2 2.2h-2.4zM319.2 274.7l1.2 2.2h-2.4zM321.5 275.2l1.2 2.2h-2.4zM323.6 276.2l1.2 2.2h-2.4zM325.8 277.1l1.2 2.2h-2.4zM327.9 278.1l1.2 2.2h-2.4zM330.1 279.0l1.2 2.2h-2.4zM332.2 280.1l1.2 2.2h-2.4zM334.2 282.0l1.2 2.2h-2.4zM336.2 284.0l1.2 2.2h-2.4zM338.2 285.0l1.2 2.2h-2.4zM340.0 281.5l1.2 2.2h-2.4zM341.8 278.0l1.2 2.2h-2.4zM343.7 275.8l1.2 2.2h-2.4zM345.7 273.7l1.2 2.2h-2.4zM347.8 274.4l1.2 2.2h-2.4zM350.0 275.5l1.2 2.2h-2.4zM352.1 276.7l1.2 2.2h-2.4zM354.2 277.8l1.2 2.2h-2.4zM356.4 278.9l1.2 2.2h-2.4zM358.5 280.0l1.2 2.2h-2.4zM360.6 281.0l1.2 2.2h-2.4zM362.7 282.9l1.2 2.2h-2.4zM364.6 285.2l1.2 2.2h-2.4zM366.3 289.3l1.2 2.2h-2.4zM367.7 295.2l1.2 2.2h-2.4zM369.0 301.6l1.2 2.2h-2.4zM371.2 302.5l1.2 2.2h-2.4zM373.4 303.4l1.2 2.2h-2.4zM375.5 304.3l1.2 2.2h-2.4zM377.7 305.2l1.2 2.2h-2.4zM379.9 306.1l1.2 2.2h-2.4zM382.0 307.2l1.2 2.2h-2.4zM384.1 308.4l1.2 2.2h-2.4zM386.2 309.6l1.2 2.2h-2.4zM388.4 310.7l1.2 2.2h-2.4zM390.5 311.9l1.2 2.2h-2.4zM392.6 313.1l1.2 2.2h-2.4zM394.7 314.3l1.2 2.2h-2.4zM396.9 315.4l1.2 2.2h-2.4zM399.0 316.6l1.2 2.2h-2.4zM401.1 317.8l1.2 2.2h-2.4zM403.2 319.0l1.2 2.2h-2.4zM405.4 320.1l1.2 2.2h-2.4zM407.5 321.2l1.2 2.2h-2.4zM409.6 322.3l1.2 2.2h-2.4zM411.8 323.3l1.2 2.2h-2.4zM413.9 324.6l1.2 2.2h-2.4zM416.0 326.1l1.2 2.2h-2.4zM418.1 327.5l1.2 2.2h-2.4zM420.1 329.0l1.2 2.2h-2.4z" fill="#bdcd3d"/>
<path d="M265.4 226.7L267.4 235.8L269.4 251.6L271.4 249.8L276.1 258.7L278.1 253.6L280.8 255.2L282.8 259.6L288.9 259.0L291.6 263.2L297.0 260.6L301.0 260.0L304.3 266.3L311.7 269.4L317.1 273.7L327.8 279.1L332.5 282.5L337.9 286.9L341.9 279.1L346.0 274.7L354.8 280.0L359.5 287.5L362.8 298.2L364.8 301.6L370.9 305.6L380.3 310.3L391.0 317.7L400.4 324.4L405.8 323.7L409.8 321.7L415.2 324.4L421.9 328.8" fill="none" stroke="#39a988" stroke-width="1.25" stroke-linejoin="round"/>
<path d="M265.4 228.0l1.2 -2.2h-2.4zM266.8 234.2l1.2 -2.2h-2.4zM268.0 241.6l1.2 -2.2h-2.4zM269.0 249.9l1.2 -2.2h-2.4zM270.7 251.8l1.2 -2.2h-2.4zM272.6 253.3l1.2 -2.2h-2.4zM274.4 256.7l1.2 -2.2h-2.4zM276.1 259.9l1.2 -2.2h-2.4zM277.8 255.7l1.2 -2.2h-2.4zM279.8 256.0l1.2 -2.2h-2.4zM281.7 258.6l1.2 -2.2h-2.4zM283.7 260.8l1.2 -2.2h-2.4zM285.9 260.6l1.2 -2.2h-2.4zM288.2 260.4l1.2 -2.2h-2.4zM290.2 262.3l1.2 -2.2h-2.4zM292.1 264.3l1.2 -2.2h-2.4zM294.3 263.2l1.2 -2.2h-2.4zM296.4 262.2l1.2 -2.2h-2.4zM298.6 261.7l1.2 -2.2h-2.4zM300.9 261.3l1.2 -2.2h-2.4zM302.7 264.6l1.2 -2.2h-2.4zM304.5 267.7l1.2 -2.2h-2.4zM306.7 268.6l1.2 -2.2h-2.4zM308.9 269.5l1.2 -2.2h-2.4zM311.0 270.4l1.2 -2.2h-2.4zM313.1 271.8l1.2 -2.2h-2.4zM315.2 273.5l1.2 -2.2h-2.4zM317.2 275.1l1.2 -2.2h-2.4zM319.4 276.2l1.2 -2.2h-2.4zM321.5 277.2l1.2 -2.2h-2.4zM323.6 278.3l1.2 -2.2h-2.4zM325.8 279.4l1.2 -2.2h-2.4zM327.9 280.5l1.2 -2.2h-2.4zM330.0 282.0l1.2 -2.2h-2.4zM332.1 283.5l1.2 -2.2h-2.4zM334.1 285.1l1.2 -2.2h-2.4zM336.2 286.8l1.2 -2.2h-2.4zM338.2 287.7l1.2 -2.2h-2.4zM340.0 284.2l1.2 -2.2h-2.4zM341.7 280.7l1.2 -2.2h-2.4zM343.7 278.5l1.2 -2.2h-2.4zM345.7 276.4l1.2 -2.2h-2.4zM347.8 277.1l1.2 -2.2h-2.4zM349.9 278.4l1.2 -2.2h-2.4zM352.0 279.6l1.2 -2.2h-2.4zM354.1 280.9l1.2 -2.2h-2.4zM356.0 283.3l1.2 -2.2h-2.4zM357.9 286.3l1.2 -2.2h-2.4zM359.7 289.5l1.2 -2.2h-2.4zM361.3 294.5l1.2 -2.2h-2.4zM362.8 299.5l1.2 -2.2h-2.4zM364.6 302.6l1.2 -2.2h-2.4zM366.7 304.2l1.2 -2.2h-2.4zM368.8 305.5l1.2 -2.2h-2.4zM370.9 306.9l1.2 -2.2h-2.4zM373.0 308.0l1.2 -2.2h-2.4zM375.2 309.1l1.2 -2.2h-2.4zM377.3 310.1l1.2 -2.2h-2.4zM379.5 311.2l1.2 -2.2h-2.4zM381.6 312.5l1.2 -2.2h-2.4zM383.6 313.9l1.2 -2.2h-2.4zM385.7 315.4l1.2 -2.2h-2.4zM387.8 316.8l1.2 -2.2h-2.4zM389.9 318.3l1.2 -2.2h-2.4zM392.0 319.7l1.2 -2.2h-2.4zM394.1 321.2l1.2 -2.2h-2.4zM396.1 322.7l1.2 -2.2h-2.4zM398.2 324.2l1.2 -2.2h-2.4zM400.3 325.6l1.2 -2.2h-2.4zM402.5 325.4l1.2 -2.2h-2.4zM404.8 325.2l1.2 -2.2h-2.4zM407.0 324.4l1.2 -2.2h-2.4zM409.1 323.4l1.2 -2.2h-2.4zM411.3 323.8l1.2 -2.2h-2.4zM413.4 324.8l1.2 -2.2h-2.4zM415.5 325.9l1.2 -2.2h-2.4zM417.6 327.3l1.2 -2.2h-2.4zM419.7 328.7l1.2 -2.2h-2.4zM421.8 330.1l1.2 -2.2h-2.4z" fill="#39a988"/>
<line x1="359.90" y1="227.40" x2="372.90" y2="227.40" stroke="#b5476a" stroke-width="0.9"/>
<path d="M366.4 227.4h0" stroke="#b5476a" stroke-width="2.00" stroke-linecap="round" fill="none"/>
<text x="374.83" y="230.87" font-size="9.65" text-anchor="start" fill="#231f20" font-weight="normal" font-style="normal" >E-tattoo</text>
<line x1="359.90" y1="239.50" x2="372.90" y2="239.50" stroke="#4a82c2" stroke-width="0.9"/>
<path d="M366.4 238.2l1.0 1.3l-1.0 1.3l-1.0 -1.3z" fill="#4a82c2"/>
<text x="374.83" y="242.97" font-size="9.65" text-anchor="start" fill="#231f20" font-weight="normal" font-style="normal" >Liquid metal</text>
<line x1="359.90" y1="250.60" x2="372.90" y2="250.60" stroke="#bdcd3d" stroke-width="0.9"/>
<path d="M366.4 249.4l1.1 2.0h-2.2z" fill="#bdcd3d"/>
<text x="375.12" y="254.07" font-size="9.65" text-anchor="start" fill="#231f20" font-weight="normal" font-style="normal" >Cu film</text>
<line x1="359.90" y1="261.90" x2="372.90" y2="261.90" stroke="#39a988" stroke-width="0.9"/>
<path d="M366.4 263.1l1.1 -2.0h-2.2z" fill="#39a988"/>
<text x="375.55" y="265.37" font-size="9.65" text-anchor="start" fill="#231f20" font-weight="normal" font-style="normal" >Al film</text>
<line x1="491.30" y1="220.30" x2="661.80" y2="220.30" stroke="#7d7a7b" stroke-width="1.15"/>
<line x1="661.40" y1="220.30" x2="661.40" y2="356.70" stroke="#7d7a7b" stroke-width="1.15"/>
<line x1="491.20" y1="356.30" x2="661.80" y2="356.30" stroke="#2a2627" stroke-width="1.25"/>
<line x1="491.50" y1="220.00" x2="491.50" y2="356.70" stroke="#2a2627" stroke-width="1.5"/>
<line x1="491.50" y1="236.46" x2="488.70" y2="236.46" stroke="#231f20" stroke-width="0.8"/>
<line x1="491.50" y1="253.00" x2="488.70" y2="253.00" stroke="#231f20" stroke-width="0.8"/>
<line x1="491.50" y1="269.54" x2="488.70" y2="269.54" stroke="#231f20" stroke-width="0.8"/>
<line x1="491.50" y1="286.08" x2="488.70" y2="286.08" stroke="#231f20" stroke-width="0.8"/>
<line x1="491.50" y1="302.62" x2="488.70" y2="302.62" stroke="#231f20" stroke-width="0.8"/>
<line x1="491.50" y1="319.16" x2="488.70" y2="319.16" stroke="#231f20" stroke-width="0.8"/>
<line x1="491.50" y1="335.70" x2="488.70" y2="335.70" stroke="#231f20" stroke-width="0.8"/>
<line x1="491.50" y1="352.24" x2="488.70" y2="352.24" stroke="#231f20" stroke-width="0.8"/>
<text x="480.74" y="256.60" font-size="10.6" text-anchor="start" fill="#231f20" font-weight="normal" font-style="normal" >0</text>
<text x="471.31" y="289.68" font-size="10.6" text-anchor="start" fill="#231f20" font-weight="normal" font-style="normal" >-40</text>
<text x="471.31" y="322.76" font-size="10.6" text-anchor="start" fill="#231f20" font-weight="normal" font-style="normal" >-80</text>
<text x="465.42" y="355.84" font-size="10.6" text-anchor="start" fill="#231f20" font-weight="normal" font-style="normal" >-120</text>
<line x1="493.33" y1="356.30" x2="493.33" y2="357.80" stroke="#231f20" stroke-width="0.7"/>
<line x1="494.69" y1="356.30" x2="494.69" y2="357.80" stroke="#231f20" stroke-width="0.7"/>
<line x1="495.90" y1="356.30" x2="495.90" y2="358.90" stroke="#231f20" stroke-width="0.7"/>
<line x1="503.88" y1="356.30" x2="503.88" y2="357.80" stroke="#231f20" stroke-width="0.7"/>
<line x1="508.54" y1="356.30" x2="508.54" y2="357.80" stroke="#231f20" stroke-width="0.7"/>
<line x1="511.85" y1="356.30" x2="511.85" y2="357.80" stroke="#231f20" stroke-width="0.7"/>
<line x1="514.42" y1="356.30" x2="514.42" y2="357.80" stroke="#231f20" stroke-width="0.7"/>
<line x1="516.52" y1="356.30" x2="516.52" y2="357.80" stroke="#231f20" stroke-width="0.7"/>
<line x1="518.30" y1="356.30" x2="518.30" y2="357.80" stroke="#231f20" stroke-width="0.7"/>
<line x1="519.83" y1="356.30" x2="519.83" y2="357.80" stroke="#231f20" stroke-width="0.7"/>
<line x1="521.19" y1="356.30" x2="521.19" y2="357.80" stroke="#231f20" stroke-width="0.7"/>
<line x1="522.40" y1="356.30" x2="522.40" y2="358.90" stroke="#231f20" stroke-width="0.7"/>
<line x1="530.38" y1="356.30" x2="530.38" y2="357.80" stroke="#231f20" stroke-width="0.7"/>
<line x1="535.04" y1="356.30" x2="535.04" y2="357.80" stroke="#231f20" stroke-width="0.7"/>
<line x1="538.35" y1="356.30" x2="538.35" y2="357.80" stroke="#231f20" stroke-width="0.7"/>
<line x1="540.92" y1="356.30" x2="540.92" y2="357.80" stroke="#231f20" stroke-width="0.7"/>
<line x1="543.02" y1="356.30" x2="543.02" y2="357.80" stroke="#231f20" stroke-width="0.7"/>
<line x1="544.80" y1="356.30" x2="544.80" y2="357.80" stroke="#231f20" stroke-width="0.7"/>
<line x1="546.33" y1="356.30" x2="546.33" y2="357.80" stroke="#231f20" stroke-width="0.7"/>
<line x1="547.69" y1="356.30" x2="547.69" y2="357.80" stroke="#231f20" stroke-width="0.7"/>
<line x1="548.90" y1="356.30" x2="548.90" y2="358.90" stroke="#231f20" stroke-width="0.7"/>
<line x1="556.88" y1="356.30" x2="556.88" y2="357.80" stroke="#231f20" stroke-width="0.7"/>
<line x1="561.54" y1="356.30" x2="561.54" y2="357.80" stroke="#231f20" stroke-width="0.7"/>
<line x1="564.85" y1="356.30" x2="564.85" y2="357.80" stroke="#231f20" stroke-width="0.7"/>
<line x1="567.42" y1="356.30" x2="567.42" y2="357.80" stroke="#231f20" stroke-width="0.7"/>
<line x1="569.52" y1="356.30" x2="569.52" y2="357.80" stroke="#231f20" stroke-width="0.7"/>
<line x1="571.30" y1="356.30" x2="571.30" y2="357.80" stroke="#231f20" stroke-width="0.7"/>
<line x1="572.83" y1="356.30" x2="572.83" y2="357.80" stroke="#231f20" stroke-width="0.7"/>
<line x1="574.19" y1="356.30" x2="574.19" y2="357.80" stroke="#231f20" stroke-width="0.7"/>
<line x1="575.40" y1="356.30" x2="575.40" y2="358.90" stroke="#231f20" stroke-width="0.7"/>
<line x1="583.38" y1="356.30" x2="583.38" y2="357.80" stroke="#231f20" stroke-width="0.7"/>
<line x1="588.04" y1="356.30" x2="588.04" y2="357.80" stroke="#231f20" stroke-width="0.7"/>
<line x1="591.35" y1="356.30" x2="591.35" y2="357.80" stroke="#231f20" stroke-width="0.7"/>
<line x1="593.92" y1="356.30" x2="593.92" y2="357.80" stroke="#231f20" stroke-width="0.7"/>
<line x1="596.02" y1="356.30" x2="596.02" y2="357.80" stroke="#231f20" stroke-width="0.7"/>
<line x1="597.80" y1="356.30" x2="597.80" y2="357.80" stroke="#231f20" stroke-width="0.7"/>
<line x1="599.33" y1="356.30" x2="599.33" y2="357.80" stroke="#231f20" stroke-width="0.7"/>
<line x1="600.69" y1="356.30" x2="600.69" y2="357.80" stroke="#231f20" stroke-width="0.7"/>
<line x1="601.90" y1="356.30" x2="601.90" y2="358.90" stroke="#231f20" stroke-width="0.7"/>
<line x1="609.88" y1="356.30" x2="609.88" y2="357.80" stroke="#231f20" stroke-width="0.7"/>
<line x1="614.54" y1="356.30" x2="614.54" y2="357.80" stroke="#231f20" stroke-width="0.7"/>
<line x1="617.85" y1="356.30" x2="617.85" y2="357.80" stroke="#231f20" stroke-width="0.7"/>
<line x1="620.42" y1="356.30" x2="620.42" y2="357.80" stroke="#231f20" stroke-width="0.7"/>
<line x1="622.52" y1="356.30" x2="622.52" y2="357.80" stroke="#231f20" stroke-width="0.7"/>
<line x1="624.30" y1="356.30" x2="624.30" y2="357.80" stroke="#231f20" stroke-width="0.7"/>
<line x1="625.83" y1="356.30" x2="625.83" y2="357.80" stroke="#231f20" stroke-width="0.7"/>
<line x1="627.19" y1="356.30" x2="627.19" y2="357.80" stroke="#231f20" stroke-width="0.7"/>
<line x1="628.40" y1="356.30" x2="628.40" y2="358.90" stroke="#231f20" stroke-width="0.7"/>
<line x1="636.38" y1="356.30" x2="636.38" y2="357.80" stroke="#231f20" stroke-width="0.7"/>
<line x1="641.04" y1="356.30" x2="641.04" y2="357.80" stroke="#231f20" stroke-width="0.7"/>
<line x1="644.35" y1="356.30" x2="644.35" y2="357.80" stroke="#231f20" stroke-width="0.7"/>
<line x1="646.92" y1="356.30" x2="646.92" y2="357.80" stroke="#231f20" stroke-width="0.7"/>
<line x1="649.02" y1="356.30" x2="649.02" y2="357.80" stroke="#231f20" stroke-width="0.7"/>
<line x1="650.80" y1="356.30" x2="650.80" y2="357.80" stroke="#231f20" stroke-width="0.7"/>
<line x1="652.33" y1="356.30" x2="652.33" y2="357.80" stroke="#231f20" stroke-width="0.7"/>
<line x1="653.69" y1="356.30" x2="653.69" y2="357.80" stroke="#231f20" stroke-width="0.7"/>
<line x1="654.90" y1="356.30" x2="654.90" y2="358.90" stroke="#231f20" stroke-width="0.7"/>
<text x="489.03" y="368.60" font-size="10.2" fill="#231f20">10</text>
<text transform="translate(500.72 365.30) scale(0.8 1)" font-size="7.0" fill="#231f20">0</text>
<text x="515.66" y="368.60" font-size="10.2" fill="#231f20">10</text>
<text transform="translate(527.15 365.30) scale(0.8 1)" font-size="7.0" fill="#231f20">1</text>
<text x="542.09" y="368.60" font-size="10.2" fill="#231f20">10</text>
<text transform="translate(553.72 365.30) scale(0.8 1)" font-size="7.0" fill="#231f20">2</text>
<text x="568.54" y="368.60" font-size="10.2" fill="#231f20">10</text>
<text transform="translate(580.23 365.30) scale(0.8 1)" font-size="7.0" fill="#231f20">3</text>
<text x="594.96" y="368.60" font-size="10.2" fill="#231f20">10</text>
<text transform="translate(606.73 365.30) scale(0.8 1)" font-size="7.0" fill="#231f20">4</text>
<text x="621.53" y="368.60" font-size="10.2" fill="#231f20">10</text>
<text transform="translate(633.22 365.30) scale(0.8 1)" font-size="7.0" fill="#231f20">5</text>
<text x="648.07" y="368.60" font-size="10.2" fill="#231f20">10</text>
<text transform="translate(659.71 365.30) scale(0.8 1)" font-size="7.0" fill="#231f20">6</text>
<text x="537.63" y="381.30" font-size="10.9" text-anchor="start" fill="#231f20" font-weight="normal" font-style="normal" >Frequency (Hz)</text>
<text x="0" y="0" font-size="10.8" fill="#231f20" text-anchor="middle" transform="translate(463.50 292.50) rotate(-90)">Phase (&#176;)</text>
<path d="M495.6 316.0L495.9 316.1L496.2 316.2L496.7 316.3L497.1 316.4L497.6 316.6L498.2 316.7L498.8 316.8L499.4 316.9L500.0 316.9L500.7 316.9L501.4 316.9L502.1 316.8L502.9 316.7L503.7 316.6L504.6 316.4L505.4 316.2L506.3 316.0L507.1 315.8L508.0 315.5L508.8 315.2L509.6 314.9L510.4 314.5L511.2 314.1L512.0 313.7L512.8 313.2L513.5 312.7L514.4 312.2L515.2 311.6L516.0 310.9L516.9 310.2L517.8 309.4L518.8 308.5L519.7 307.5L520.7 306.4L521.8 305.4L522.8 304.2L523.8 303.1L524.7 302.0L525.7 300.9L526.6 299.8L527.5 298.7L528.3 297.7L529.1 296.6L530.0 295.5L530.8 294.4L531.5 293.4L532.3 292.3L533.1 291.3L533.8 290.2L534.6 289.2L535.4 288.2L536.1 287.1L536.8 286.1L537.6 285.1L538.3 284.1L539.0 283.1L539.7 282.1L540.5 281.3L541.2 280.4L541.9 279.7L542.6 279.0L543.4 278.5L544.1 277.9L544.8 277.5L545.5 277.1L546.3 276.7L547.0 276.3L547.7 276.0L548.5 275.6L549.2 275.3L549.9 275.0L550.7 274.6L551.4 274.3L552.1 274.1L552.9 273.8L553.6 273.5L554.3 273.3L555.0 273.1L555.8 272.9L556.5 272.8L557.2 272.7L558.0 272.6L558.7 272.5L559.5 272.5L560.2 272.5L561.0 272.5L561.7 272.5L562.4 272.5L563.1 272.6L563.8 272.6L564.4 272.6L565.0 272.6L565.6 272.7L566.1 272.7L566.6 272.7L567.2 272.8L567.7 272.9L568.4 273.0L569.2 273.2L570.0 273.5L571.0 273.8L572.0 274.2L573.2 274.7L574.4 275.2L575.7 275.7L577.0 276.2L578.3 276.8L579.5 277.3L580.8 277.9L582.0 278.4L583.1 278.9L584.2 279.3L585.2 279.8L586.3 280.2L587.3 280.7L588.4 281.2L589.5 281.7L590.7 282.2L592.0 282.8L593.4 283.4L594.9 284.1L596.6 284.9L598.3 285.7L600.0 286.6L601.9 287.5L603.8 288.4L605.7 289.3L607.7 290.2L609.7 290.9L611.7 291.6L613.8 292.2L616.1 292.8L618.4 293.4L620.8 293.9L623.2 294.4L625.6 294.8L627.9 295.2L630.0 295.5L632.0 295.7L633.8 295.9L635.4 296.0L636.7 296.0L638.0 295.9L639.1 295.8L640.1 295.6L641.1 295.4L642.0 295.2L642.9 294.9L643.8 294.7L644.8 294.4L645.8 294.1L646.9 293.7L648.0 293.3L649.1 292.9L650.1 292.5L651.1 292.0L652.0 291.6L652.8 291.2L653.5 290.9L654.0 290.7" fill="none" stroke="#b5476a" stroke-width="1.25" stroke-linejoin="round"/>
<path d="M495.6 316.0h0M497.8 316.6h0M500.1 316.9h0M502.3 316.8h0M504.6 316.4h0M506.8 315.9h0M509.0 315.1h0M511.1 314.1h0M513.3 312.9h0M515.3 311.5h0M517.4 309.8h0M519.4 307.8h0M521.4 305.7h0M523.4 303.6h0M525.3 301.3h0M527.3 299.0h0M529.2 296.5h0M531.1 293.9h0M533.0 291.3h0M534.9 288.7h0M536.8 286.1h0M538.7 283.4h0M540.7 281.0h0M542.7 279.0h0M544.8 277.5h0M546.9 276.4h0M549.0 275.4h0M551.2 274.4h0M553.4 273.6h0M555.6 273.0h0M557.8 272.6h0M560.1 272.5h0M562.4 272.5h0M564.7 272.6h0M567.0 272.8h0M569.2 273.3h0M571.4 274.0h0M573.6 274.8h0M575.7 275.7h0M577.9 276.6h0M580.0 277.6h0M582.2 278.5h0M584.4 279.4h0M586.5 280.3h0M588.7 281.3h0M590.8 282.3h0M593.0 283.2h0M595.1 284.2h0M597.3 285.3h0M599.4 286.3h0M601.6 287.4h0M603.7 288.4h0M605.9 289.4h0M608.0 290.3h0M610.2 291.1h0M612.4 291.8h0M614.6 292.4h0M616.8 293.0h0M619.0 293.5h0M621.3 294.0h0M623.5 294.4h0M625.8 294.8h0M628.0 295.2h0M630.2 295.5h0M632.5 295.8h0M634.8 296.0h0M637.1 296.0h0M639.3 295.8h0M641.6 295.3h0M643.8 294.7h0M646.0 294.1h0M648.2 293.3h0M650.3 292.4h0M652.5 291.4h0" stroke="#b5476a" stroke-width="2.10" stroke-linecap="round" fill="none"/>
<path d="M495.6 271.4L499.4 273.7L503.4 280.4L507.2 288.5L510.1 283.1L516.2 265.7L520.0 280.8L522.6 284.1L526.9 272.0L529.1 270.6L535.3 277.5L542.6 282.6L544.8 280.1L549.2 283.4L556.5 290.7L565.3 299.4L570.6 303.5L576.0 303.5L582.3 308.5L602.6 306.3L609.0 304.1L619.1 303.6L623.7 307.3L633.8 307.3L654.0 304.9" fill="none" stroke="#4a82c2" stroke-width="1.25" stroke-linejoin="round"/>
<path d="M495.6 270.0l1.1 1.4l-1.1 1.4l-1.1 -1.4zM497.7 271.3l1.1 1.4l-1.1 1.4l-1.1 -1.4zM499.8 272.9l1.1 1.4l-1.1 1.4l-1.1 -1.4zM501.6 276.0l1.1 1.4l-1.1 1.4l-1.1 -1.4zM503.4 279.1l1.1 1.4l-1.1 1.4l-1.1 -1.4zM505.2 282.8l1.1 1.4l-1.1 1.4l-1.1 -1.4zM506.9 286.5l1.1 1.4l-1.1 1.4l-1.1 -1.4zM508.7 284.3l1.1 1.4l-1.1 1.4l-1.1 -1.4zM510.5 280.7l1.1 1.4l-1.1 1.4l-1.1 -1.4zM512.1 276.1l1.1 1.4l-1.1 1.4l-1.1 -1.4zM513.7 271.5l1.1 1.4l-1.1 1.4l-1.1 -1.4zM515.3 266.9l1.1 1.4l-1.1 1.4l-1.1 -1.4zM516.8 266.9l1.1 1.4l-1.1 1.4l-1.1 -1.4zM518.3 272.6l1.1 1.4l-1.1 1.4l-1.1 -1.4zM519.7 278.3l1.1 1.4l-1.1 1.4l-1.1 -1.4zM521.6 281.4l1.1 1.4l-1.1 1.4l-1.1 -1.4zM523.3 280.6l1.1 1.4l-1.1 1.4l-1.1 -1.4zM525.0 276.1l1.1 1.4l-1.1 1.4l-1.1 -1.4zM526.6 271.5l1.1 1.4l-1.1 1.4l-1.1 -1.4zM528.6 269.6l1.1 1.4l-1.1 1.4l-1.1 -1.4zM530.6 270.9l1.1 1.4l-1.1 1.4l-1.1 -1.4zM532.6 273.1l1.1 1.4l-1.1 1.4l-1.1 -1.4zM534.5 275.3l1.1 1.4l-1.1 1.4l-1.1 -1.4zM536.6 277.0l1.1 1.4l-1.1 1.4l-1.1 -1.4zM538.6 278.5l1.1 1.4l-1.1 1.4l-1.1 -1.4zM540.7 279.9l1.1 1.4l-1.1 1.4l-1.1 -1.4zM542.8 281.0l1.1 1.4l-1.1 1.4l-1.1 -1.4zM544.8 278.8l1.1 1.4l-1.1 1.4l-1.1 -1.4zM546.8 280.3l1.1 1.4l-1.1 1.4l-1.1 -1.4zM548.9 281.8l1.1 1.4l-1.1 1.4l-1.1 -1.4zM550.9 283.7l1.1 1.4l-1.1 1.4l-1.1 -1.4zM552.9 285.7l1.1 1.4l-1.1 1.4l-1.1 -1.4zM554.9 287.7l1.1 1.4l-1.1 1.4l-1.1 -1.4zM556.9 289.7l1.1 1.4l-1.1 1.4l-1.1 -1.4zM558.9 291.7l1.1 1.4l-1.1 1.4l-1.1 -1.4zM560.9 293.7l1.1 1.4l-1.1 1.4l-1.1 -1.4zM562.9 295.7l1.1 1.4l-1.1 1.4l-1.1 -1.4zM564.9 297.7l1.1 1.4l-1.1 1.4l-1.1 -1.4zM567.0 299.3l1.1 1.4l-1.1 1.4l-1.1 -1.4zM569.0 300.9l1.1 1.4l-1.1 1.4l-1.1 -1.4zM571.1 302.1l1.1 1.4l-1.1 1.4l-1.1 -1.4zM573.4 302.1l1.1 1.4l-1.1 1.4l-1.1 -1.4zM575.7 302.1l1.1 1.4l-1.1 1.4l-1.1 -1.4zM577.8 303.6l1.1 1.4l-1.1 1.4l-1.1 -1.4zM579.9 305.2l1.1 1.4l-1.1 1.4l-1.1 -1.4zM581.9 306.8l1.1 1.4l-1.1 1.4l-1.1 -1.4zM584.2 306.9l1.1 1.4l-1.1 1.4l-1.1 -1.4zM586.4 306.7l1.1 1.4l-1.1 1.4l-1.1 -1.4zM588.7 306.4l1.1 1.4l-1.1 1.4l-1.1 -1.4zM591.0 306.2l1.1 1.4l-1.1 1.4l-1.1 -1.4zM593.2 306.0l1.1 1.4l-1.1 1.4l-1.1 -1.4zM595.5 305.7l1.1 1.4l-1.1 1.4l-1.1 -1.4zM597.7 305.5l1.1 1.4l-1.1 1.4l-1.1 -1.4zM600.0 305.2l1.1 1.4l-1.1 1.4l-1.1 -1.4zM602.3 305.0l1.1 1.4l-1.1 1.4l-1.1 -1.4zM604.5 304.3l1.1 1.4l-1.1 1.4l-1.1 -1.4zM606.7 303.5l1.1 1.4l-1.1 1.4l-1.1 -1.4zM608.8 302.8l1.1 1.4l-1.1 1.4l-1.1 -1.4zM611.1 302.6l1.1 1.4l-1.1 1.4l-1.1 -1.4zM613.4 302.5l1.1 1.4l-1.1 1.4l-1.1 -1.4zM615.7 302.4l1.1 1.4l-1.1 1.4l-1.1 -1.4zM618.0 302.3l1.1 1.4l-1.1 1.4l-1.1 -1.4zM620.1 303.1l1.1 1.4l-1.1 1.4l-1.1 -1.4zM622.2 304.7l1.1 1.4l-1.1 1.4l-1.1 -1.4zM624.3 305.9l1.1 1.4l-1.1 1.4l-1.1 -1.4zM626.6 305.9l1.1 1.4l-1.1 1.4l-1.1 -1.4zM628.9 305.9l1.1 1.4l-1.1 1.4l-1.1 -1.4zM631.2 305.9l1.1 1.4l-1.1 1.4l-1.1 -1.4zM633.5 305.9l1.1 1.4l-1.1 1.4l-1.1 -1.4zM635.8 305.7l1.1 1.4l-1.1 1.4l-1.1 -1.4zM638.0 305.4l1.1 1.4l-1.1 1.4l-1.1 -1.4zM640.3 305.2l1.1 1.4l-1.1 1.4l-1.1 -1.4zM642.5 304.9l1.1 1.4l-1.1 1.4l-1.1 -1.4zM644.8 304.6l1.1 1.4l-1.1 1.4l-1.1 -1.4zM647.1 304.4l1.1 1.4l-1.1 1.4l-1.1 -1.4zM649.3 304.1l1.1 1.4l-1.1 1.4l-1.1 -1.4zM651.6 303.8l1.1 1.4l-1.1 1.4l-1.1 -1.4zM653.8 303.6l1.1 1.4l-1.1 1.4l-1.1 -1.4z" fill="#4a82c2"/>
<path d="M495.6 263.6L498.7 263.6L502.1 259.6L504.8 259.0L507.2 273.5L509.5 277.1L511.5 256.5L514.2 259.0L518.2 256.3L522.2 260.3L524.7 277.5L529.1 285.2L532.0 280.8L536.1 272.0L538.2 262.2L540.2 251.2L542.6 269.5L544.5 295.8L547.0 293.2L551.4 296.5L557.2 303.5L565.2 308.2L573.3 312.9L584.2 317.0L602.6 316.4L633.8 316.4L654.0 311.8" fill="none" stroke="#bdcd3d" stroke-width="1.25" stroke-linejoin="round"/>
<path d="M495.6 262.3l1.2 2.2h-2.4zM497.9 262.3l1.2 2.2h-2.4zM500.0 260.8l1.2 2.2h-2.4zM501.9 258.5l1.2 2.2h-2.4zM504.1 257.8l1.2 2.2h-2.4zM505.6 262.8l1.2 2.2h-2.4zM506.9 270.1l1.2 2.2h-2.4zM508.5 274.3l1.2 2.2h-2.4zM509.9 271.3l1.2 2.2h-2.4zM510.8 262.0l1.2 2.2h-2.4zM512.0 255.7l1.2 2.2h-2.4zM514.1 257.5l1.2 2.2h-2.4zM516.1 256.4l1.2 2.2h-2.4zM518.2 255.0l1.2 2.2h-2.4zM520.2 257.0l1.2 2.2h-2.4zM522.2 259.1l1.2 2.2h-2.4zM523.3 266.9l1.2 2.2h-2.4zM524.5 274.6l1.2 2.2h-2.4zM526.2 278.7l1.2 2.2h-2.4zM528.0 281.9l1.2 2.2h-2.4zM529.8 282.8l1.2 2.2h-2.4zM531.7 279.9l1.2 2.2h-2.4zM533.5 276.3l1.2 2.2h-2.4zM535.2 272.6l1.2 2.2h-2.4zM536.8 267.6l1.2 2.2h-2.4zM538.1 261.3l1.2 2.2h-2.4zM539.4 254.4l1.2 2.2h-2.4zM540.6 252.7l1.2 2.2h-2.4zM541.6 260.9l1.2 2.2h-2.4zM542.7 269.3l1.2 2.2h-2.4zM543.4 279.6l1.2 2.2h-2.4zM544.2 290.0l1.2 2.2h-2.4zM545.6 293.3l1.2 2.2h-2.4zM547.6 292.4l1.2 2.2h-2.4zM549.7 293.9l1.2 2.2h-2.4zM551.8 295.6l1.2 2.2h-2.4zM553.7 298.0l1.2 2.2h-2.4zM555.6 300.3l1.2 2.2h-2.4zM557.6 302.4l1.2 2.2h-2.4zM559.7 303.7l1.2 2.2h-2.4zM561.9 304.9l1.2 2.2h-2.4zM564.0 306.2l1.2 2.2h-2.4zM566.1 307.4l1.2 2.2h-2.4zM568.2 308.6l1.2 2.2h-2.4zM570.3 309.8l1.2 2.2h-2.4zM572.4 311.1l1.2 2.2h-2.4zM574.6 312.1l1.2 2.2h-2.4zM576.8 312.9l1.2 2.2h-2.4zM578.9 313.7l1.2 2.2h-2.4zM581.1 314.5l1.2 2.2h-2.4zM583.3 315.3l1.2 2.2h-2.4zM585.5 315.6l1.2 2.2h-2.4zM587.8 315.6l1.2 2.2h-2.4zM590.1 315.5l1.2 2.2h-2.4zM592.4 315.4l1.2 2.2h-2.4zM594.7 315.3l1.2 2.2h-2.4zM597.0 315.3l1.2 2.2h-2.4zM599.3 315.2l1.2 2.2h-2.4zM601.6 315.1l1.2 2.2h-2.4zM603.9 315.1l1.2 2.2h-2.4zM606.1 315.1l1.2 2.2h-2.4zM608.5 315.1l1.2 2.2h-2.4zM610.8 315.1l1.2 2.2h-2.4zM613.0 315.1l1.2 2.2h-2.4zM615.4 315.1l1.2 2.2h-2.4zM617.6 315.1l1.2 2.2h-2.4zM620.0 315.1l1.2 2.2h-2.4zM622.2 315.1l1.2 2.2h-2.4zM624.5 315.1l1.2 2.2h-2.4zM626.9 315.1l1.2 2.2h-2.4zM629.1 315.1l1.2 2.2h-2.4zM631.5 315.1l1.2 2.2h-2.4zM633.8 315.1l1.2 2.2h-2.4zM636.0 314.6l1.2 2.2h-2.4zM638.2 314.1l1.2 2.2h-2.4zM640.4 313.6l1.2 2.2h-2.4zM642.6 313.1l1.2 2.2h-2.4zM644.9 312.6l1.2 2.2h-2.4zM647.1 312.1l1.2 2.2h-2.4zM649.3 311.5l1.2 2.2h-2.4zM651.5 311.0l1.2 2.2h-2.4zM653.8 310.5l1.2 2.2h-2.4z" fill="#bdcd3d"/>
<path d="M495.6 230.7L498.7 233.4L499.7 322.3L502.8 322.7L504.8 327.0L507.2 343.1L511.5 340.4L514.2 335.1L518.2 321.6L524.2 326.3L531.6 320.0L535.7 330.0L538.1 330.4L542.4 311.2L544.4 319.0L547.1 327.7L553.1 324.3L575.0 325.1L611.7 325.6L633.8 325.6L638.4 322.0L654.0 317.4" fill="none" stroke="#39a988" stroke-width="1.25" stroke-linejoin="round"/>
<path d="M495.6 232.0l1.2 -2.2h-2.4zM497.6 233.8l1.2 -2.2h-2.4zM498.8 241.5l1.2 -2.2h-2.4zM498.9 255.8l1.2 -2.2h-2.4zM499.1 270.0l1.2 -2.2h-2.4zM499.3 284.3l1.2 -2.2h-2.4zM499.4 298.6l1.2 -2.2h-2.4zM499.6 312.8l1.2 -2.2h-2.4zM500.2 323.7l1.2 -2.2h-2.4zM502.5 324.0l1.2 -2.2h-2.4zM504.3 327.3l1.2 -2.2h-2.4zM505.6 333.9l1.2 -2.2h-2.4zM506.8 341.5l1.2 -2.2h-2.4zM508.5 343.6l1.2 -2.2h-2.4zM510.6 342.3l1.2 -2.2h-2.4zM512.5 339.7l1.2 -2.2h-2.4zM514.3 336.1l1.2 -2.2h-2.4zM515.8 331.0l1.2 -2.2h-2.4zM517.3 325.8l1.2 -2.2h-2.4zM519.1 323.6l1.2 -2.2h-2.4zM521.2 325.2l1.2 -2.2h-2.4zM523.2 326.9l1.2 -2.2h-2.4zM525.3 326.7l1.2 -2.2h-2.4zM527.3 325.0l1.2 -2.2h-2.4zM529.4 323.2l1.2 -2.2h-2.4zM531.4 321.5l1.2 -2.2h-2.4zM533.1 325.0l1.2 -2.2h-2.4zM534.8 329.1l1.2 -2.2h-2.4zM536.7 331.5l1.2 -2.2h-2.4zM538.6 329.3l1.2 -2.2h-2.4zM540.0 323.1l1.2 -2.2h-2.4zM541.4 317.0l1.2 -2.2h-2.4zM542.8 314.1l1.2 -2.2h-2.4zM544.2 319.7l1.2 -2.2h-2.4zM545.8 324.8l1.2 -2.2h-2.4zM547.4 328.8l1.2 -2.2h-2.4zM549.5 327.6l1.2 -2.2h-2.4zM551.7 326.4l1.2 -2.2h-2.4zM553.8 325.6l1.2 -2.2h-2.4zM556.1 325.7l1.2 -2.2h-2.4zM558.4 325.8l1.2 -2.2h-2.4zM560.7 325.9l1.2 -2.2h-2.4zM563.0 326.0l1.2 -2.2h-2.4zM565.3 326.1l1.2 -2.2h-2.4zM567.6 326.1l1.2 -2.2h-2.4zM569.8 326.2l1.2 -2.2h-2.4zM572.1 326.3l1.2 -2.2h-2.4zM574.4 326.4l1.2 -2.2h-2.4zM576.7 326.4l1.2 -2.2h-2.4zM579.0 326.5l1.2 -2.2h-2.4zM581.3 326.5l1.2 -2.2h-2.4zM583.6 326.5l1.2 -2.2h-2.4zM585.9 326.6l1.2 -2.2h-2.4zM588.2 326.6l1.2 -2.2h-2.4zM590.5 326.6l1.2 -2.2h-2.4zM592.8 326.7l1.2 -2.2h-2.4zM595.1 326.7l1.2 -2.2h-2.4zM597.4 326.7l1.2 -2.2h-2.4zM599.7 326.8l1.2 -2.2h-2.4zM602.0 326.8l1.2 -2.2h-2.4zM604.3 326.8l1.2 -2.2h-2.4zM606.6 326.8l1.2 -2.2h-2.4zM608.9 326.9l1.2 -2.2h-2.4zM611.1 326.9l1.2 -2.2h-2.4zM613.4 326.9l1.2 -2.2h-2.4zM615.7 326.9l1.2 -2.2h-2.4zM618.0 326.9l1.2 -2.2h-2.4zM620.3 326.9l1.2 -2.2h-2.4zM622.6 326.9l1.2 -2.2h-2.4zM624.9 326.9l1.2 -2.2h-2.4zM627.2 326.9l1.2 -2.2h-2.4zM629.5 326.9l1.2 -2.2h-2.4zM631.8 326.9l1.2 -2.2h-2.4zM634.1 326.7l1.2 -2.2h-2.4zM636.2 325.1l1.2 -2.2h-2.4zM638.2 323.5l1.2 -2.2h-2.4zM640.4 322.7l1.2 -2.2h-2.4zM642.6 322.1l1.2 -2.2h-2.4zM644.8 321.4l1.2 -2.2h-2.4zM647.0 320.8l1.2 -2.2h-2.4zM649.2 320.1l1.2 -2.2h-2.4zM651.4 319.5l1.2 -2.2h-2.4zM653.6 318.8l1.2 -2.2h-2.4z" fill="#39a988"/>
<line x1="590.00" y1="227.00" x2="604.40" y2="227.00" stroke="#b5476a" stroke-width="0.9"/>
<path d="M597.2 227.0h0" stroke="#b5476a" stroke-width="2.00" stroke-linecap="round" fill="none"/>
<text x="607.23" y="230.47" font-size="9.65" text-anchor="start" fill="#231f20" font-weight="normal" font-style="normal" >E-tattoo</text>
<line x1="590.00" y1="238.70" x2="604.40" y2="238.70" stroke="#4a82c2" stroke-width="0.9"/>
<path d="M597.2 237.4l1.0 1.3l-1.0 1.3l-1.0 -1.3z" fill="#4a82c2"/>
<text x="607.23" y="242.17" font-size="9.65" text-anchor="start" fill="#231f20" font-weight="normal" font-style="normal" >Liquid metal</text>
<line x1="590.00" y1="250.30" x2="604.40" y2="250.30" stroke="#bdcd3d" stroke-width="0.9"/>
<path d="M597.2 249.1l1.1 2.0h-2.2z" fill="#bdcd3d"/>
<text x="607.52" y="253.77" font-size="9.65" text-anchor="start" fill="#231f20" font-weight="normal" font-style="normal" >Cu film</text>
<line x1="590.00" y1="262.20" x2="604.40" y2="262.20" stroke="#39a988" stroke-width="0.9"/>
<path d="M597.2 263.4l1.1 -2.0h-2.2z" fill="#39a988"/>
<text x="607.95" y="265.67" font-size="9.65" text-anchor="start" fill="#231f20" font-weight="normal" font-style="normal" >Al film</text>
<line x1="35.40" y1="408.50" x2="186.50" y2="408.50" stroke="#2a2627" stroke-width="1.15"/>
<line x1="35.40" y1="544.80" x2="186.50" y2="544.80" stroke="#3a3738" stroke-width="1.5"/>
<line x1="35.40" y1="408.10" x2="35.40" y2="545.30" stroke="#4e9e66" stroke-width="1.2"/>
<line x1="186.50" y1="408.10" x2="186.50" y2="545.30" stroke="#d9ad4e" stroke-width="1.2"/>
<line x1="35.40" y1="541.18" x2="33.90" y2="541.18" stroke="#2f8c4e" stroke-width="0.7"/>
<line x1="35.40" y1="535.31" x2="33.90" y2="535.31" stroke="#2f8c4e" stroke-width="0.7"/>
<line x1="35.40" y1="531.15" x2="33.90" y2="531.15" stroke="#2f8c4e" stroke-width="0.7"/>
<line x1="35.40" y1="527.92" x2="33.90" y2="527.92" stroke="#2f8c4e" stroke-width="0.7"/>
<line x1="35.40" y1="525.29" x2="33.90" y2="525.29" stroke="#2f8c4e" stroke-width="0.7"/>
<line x1="35.40" y1="523.06" x2="33.90" y2="523.06" stroke="#2f8c4e" stroke-width="0.7"/>
<line x1="35.40" y1="521.13" x2="33.90" y2="521.13" stroke="#2f8c4e" stroke-width="0.7"/>
<line x1="35.40" y1="519.42" x2="33.90" y2="519.42" stroke="#2f8c4e" stroke-width="0.7"/>
<line x1="35.40" y1="517.90" x2="32.60" y2="517.90" stroke="#2f8c4e" stroke-width="0.7"/>
<line x1="35.40" y1="507.88" x2="33.90" y2="507.88" stroke="#2f8c4e" stroke-width="0.7"/>
<line x1="35.40" y1="502.01" x2="33.90" y2="502.01" stroke="#2f8c4e" stroke-width="0.7"/>
<line x1="35.40" y1="497.85" x2="33.90" y2="497.85" stroke="#2f8c4e" stroke-width="0.7"/>
<line x1="35.40" y1="494.62" x2="33.90" y2="494.62" stroke="#2f8c4e" stroke-width="0.7"/>
<line x1="35.40" y1="491.99" x2="33.90" y2="491.99" stroke="#2f8c4e" stroke-width="0.7"/>
<line x1="35.40" y1="489.76" x2="33.90" y2="489.76" stroke="#2f8c4e" stroke-width="0.7"/>
<line x1="35.40" y1="487.83" x2="33.90" y2="487.83" stroke="#2f8c4e" stroke-width="0.7"/>
<line x1="35.40" y1="486.12" x2="33.90" y2="486.12" stroke="#2f8c4e" stroke-width="0.7"/>
<line x1="35.40" y1="484.60" x2="32.60" y2="484.60" stroke="#2f8c4e" stroke-width="0.7"/>
<line x1="35.40" y1="474.58" x2="33.90" y2="474.58" stroke="#2f8c4e" stroke-width="0.7"/>
<line x1="35.40" y1="468.71" x2="33.90" y2="468.71" stroke="#2f8c4e" stroke-width="0.7"/>
<line x1="35.40" y1="464.55" x2="33.90" y2="464.55" stroke="#2f8c4e" stroke-width="0.7"/>
<line x1="35.40" y1="461.32" x2="33.90" y2="461.32" stroke="#2f8c4e" stroke-width="0.7"/>
<line x1="35.40" y1="458.69" x2="33.90" y2="458.69" stroke="#2f8c4e" stroke-width="0.7"/>
<line x1="35.40" y1="456.46" x2="33.90" y2="456.46" stroke="#2f8c4e" stroke-width="0.7"/>
<line x1="35.40" y1="454.53" x2="33.90" y2="454.53" stroke="#2f8c4e" stroke-width="0.7"/>
<line x1="35.40" y1="452.82" x2="33.90" y2="452.82" stroke="#2f8c4e" stroke-width="0.7"/>
<line x1="35.40" y1="451.30" x2="32.60" y2="451.30" stroke="#2f8c4e" stroke-width="0.7"/>
<line x1="35.40" y1="441.28" x2="33.90" y2="441.28" stroke="#2f8c4e" stroke-width="0.7"/>
<line x1="35.40" y1="435.41" x2="33.90" y2="435.41" stroke="#2f8c4e" stroke-width="0.7"/>
<line x1="35.40" y1="431.25" x2="33.90" y2="431.25" stroke="#2f8c4e" stroke-width="0.7"/>
<line x1="35.40" y1="428.02" x2="33.90" y2="428.02" stroke="#2f8c4e" stroke-width="0.7"/>
<line x1="35.40" y1="425.39" x2="33.90" y2="425.39" stroke="#2f8c4e" stroke-width="0.7"/>
<line x1="35.40" y1="423.16" x2="33.90" y2="423.16" stroke="#2f8c4e" stroke-width="0.7"/>
<line x1="35.40" y1="421.23" x2="33.90" y2="421.23" stroke="#2f8c4e" stroke-width="0.7"/>
<line x1="35.40" y1="419.52" x2="33.90" y2="419.52" stroke="#2f8c4e" stroke-width="0.7"/>
<line x1="35.40" y1="418.00" x2="32.60" y2="418.00" stroke="#2f8c4e" stroke-width="0.7"/>
<text x="14.76" y="421.00" font-size="10.8" fill="#2f8c4e">10</text>
<text x="26.92" y="416.80" font-size="5.9" fill="#2f8c4e">7</text>
<text x="14.73" y="454.80" font-size="10.8" fill="#2f8c4e">10</text>
<text x="26.89" y="450.60" font-size="5.9" fill="#2f8c4e">6</text>
<text x="14.64" y="487.80" font-size="10.8" fill="#2f8c4e">10</text>
<text x="26.86" y="483.60" font-size="5.9" fill="#2f8c4e">5</text>
<text x="14.49" y="520.90" font-size="10.8" fill="#2f8c4e">10</text>
<text x="26.80" y="516.70" font-size="5.9" fill="#2f8c4e">4</text>
<line x1="186.50" y1="416.95" x2="188.00" y2="416.95" stroke="#d6a13e" stroke-width="0.7"/>
<line x1="186.50" y1="426.60" x2="189.10" y2="426.60" stroke="#d6a13e" stroke-width="0.7"/>
<line x1="186.50" y1="436.25" x2="188.00" y2="436.25" stroke="#d6a13e" stroke-width="0.7"/>
<line x1="186.50" y1="445.90" x2="189.10" y2="445.90" stroke="#d6a13e" stroke-width="0.7"/>
<line x1="186.50" y1="455.55" x2="188.00" y2="455.55" stroke="#d6a13e" stroke-width="0.7"/>
<line x1="186.50" y1="465.20" x2="189.10" y2="465.20" stroke="#d6a13e" stroke-width="0.7"/>
<line x1="186.50" y1="474.85" x2="188.00" y2="474.85" stroke="#d6a13e" stroke-width="0.7"/>
<line x1="186.50" y1="484.50" x2="189.10" y2="484.50" stroke="#d6a13e" stroke-width="0.7"/>
<line x1="186.50" y1="494.15" x2="188.00" y2="494.15" stroke="#d6a13e" stroke-width="0.7"/>
<line x1="186.50" y1="503.80" x2="189.10" y2="503.80" stroke="#d6a13e" stroke-width="0.7"/>
<line x1="186.50" y1="513.45" x2="188.00" y2="513.45" stroke="#d6a13e" stroke-width="0.7"/>
<line x1="186.50" y1="523.10" x2="189.10" y2="523.10" stroke="#d6a13e" stroke-width="0.7"/>
<line x1="186.50" y1="532.75" x2="188.00" y2="532.75" stroke="#d6a13e" stroke-width="0.7"/>
<line x1="186.50" y1="542.40" x2="189.10" y2="542.40" stroke="#d6a13e" stroke-width="0.7"/>
<text x="189.32" y="430.30" font-size="10.6" text-anchor="start" fill="#d6a13e" font-weight="normal" font-style="normal" >-20</text>
<text x="189.32" y="468.90" font-size="10.6" text-anchor="start" fill="#d6a13e" font-weight="normal" font-style="normal" >-40</text>
<text x="189.32" y="507.50" font-size="10.6" text-anchor="start" fill="#d6a13e" font-weight="normal" font-style="normal" >-60</text>
<text x="189.32" y="546.10" font-size="10.6" text-anchor="start" fill="#d6a13e" font-weight="normal" font-style="normal" >-80</text>
<line x1="37.32" y1="544.80" x2="37.32" y2="546.30" stroke="#231f20" stroke-width="0.7"/>
<line x1="38.66" y1="544.80" x2="38.66" y2="546.30" stroke="#231f20" stroke-width="0.7"/>
<line x1="39.84" y1="544.80" x2="39.84" y2="546.30" stroke="#231f20" stroke-width="0.7"/>
<line x1="40.90" y1="544.80" x2="40.90" y2="547.40" stroke="#231f20" stroke-width="0.7"/>
<line x1="47.85" y1="544.80" x2="47.85" y2="546.30" stroke="#231f20" stroke-width="0.7"/>
<line x1="51.92" y1="544.80" x2="51.92" y2="546.30" stroke="#231f20" stroke-width="0.7"/>
<line x1="54.81" y1="544.80" x2="54.81" y2="546.30" stroke="#231f20" stroke-width="0.7"/>
<line x1="57.05" y1="544.80" x2="57.05" y2="546.30" stroke="#231f20" stroke-width="0.7"/>
<line x1="58.88" y1="544.80" x2="58.88" y2="546.30" stroke="#231f20" stroke-width="0.7"/>
<line x1="60.42" y1="544.80" x2="60.42" y2="546.30" stroke="#231f20" stroke-width="0.7"/>
<line x1="61.76" y1="544.80" x2="61.76" y2="546.30" stroke="#231f20" stroke-width="0.7"/>
<line x1="62.94" y1="544.80" x2="62.94" y2="546.30" stroke="#231f20" stroke-width="0.7"/>
<line x1="64.00" y1="544.80" x2="64.00" y2="547.40" stroke="#231f20" stroke-width="0.7"/>
<line x1="70.95" y1="544.80" x2="70.95" y2="546.30" stroke="#231f20" stroke-width="0.7"/>
<line x1="75.02" y1="544.80" x2="75.02" y2="546.30" stroke="#231f20" stroke-width="0.7"/>
<line x1="77.91" y1="544.80" x2="77.91" y2="546.30" stroke="#231f20" stroke-width="0.7"/>
<line x1="80.15" y1="544.80" x2="80.15" y2="546.30" stroke="#231f20" stroke-width="0.7"/>
<line x1="81.98" y1="544.80" x2="81.98" y2="546.30" stroke="#231f20" stroke-width="0.7"/>
<line x1="83.52" y1="544.80" x2="83.52" y2="546.30" stroke="#231f20" stroke-width="0.7"/>
<line x1="84.86" y1="544.80" x2="84.86" y2="546.30" stroke="#231f20" stroke-width="0.7"/>
<line x1="86.04" y1="544.80" x2="86.04" y2="546.30" stroke="#231f20" stroke-width="0.7"/>
<line x1="87.10" y1="544.80" x2="87.10" y2="547.40" stroke="#231f20" stroke-width="0.7"/>
<line x1="94.05" y1="544.80" x2="94.05" y2="546.30" stroke="#231f20" stroke-width="0.7"/>
<line x1="98.12" y1="544.80" x2="98.12" y2="546.30" stroke="#231f20" stroke-width="0.7"/>
<line x1="101.01" y1="544.80" x2="101.01" y2="546.30" stroke="#231f20" stroke-width="0.7"/>
<line x1="103.25" y1="544.80" x2="103.25" y2="546.30" stroke="#231f20" stroke-width="0.7"/>
<line x1="105.08" y1="544.80" x2="105.08" y2="546.30" stroke="#231f20" stroke-width="0.7"/>
<line x1="106.62" y1="544.80" x2="106.62" y2="546.30" stroke="#231f20" stroke-width="0.7"/>
<line x1="107.96" y1="544.80" x2="107.96" y2="546.30" stroke="#231f20" stroke-width="0.7"/>
<line x1="109.14" y1="544.80" x2="109.14" y2="546.30" stroke="#231f20" stroke-width="0.7"/>
<line x1="110.20" y1="544.80" x2="110.20" y2="547.40" stroke="#231f20" stroke-width="0.7"/>
<line x1="117.15" y1="544.80" x2="117.15" y2="546.30" stroke="#231f20" stroke-width="0.7"/>
<line x1="121.22" y1="544.80" x2="121.22" y2="546.30" stroke="#231f20" stroke-width="0.7"/>
<line x1="124.11" y1="544.80" x2="124.11" y2="546.30" stroke="#231f20" stroke-width="0.7"/>
<line x1="126.35" y1="544.80" x2="126.35" y2="546.30" stroke="#231f20" stroke-width="0.7"/>
<line x1="128.18" y1="544.80" x2="128.18" y2="546.30" stroke="#231f20" stroke-width="0.7"/>
<line x1="129.72" y1="544.80" x2="129.72" y2="546.30" stroke="#231f20" stroke-width="0.7"/>
<line x1="131.06" y1="544.80" x2="131.06" y2="546.30" stroke="#231f20" stroke-width="0.7"/>
<line x1="132.24" y1="544.80" x2="132.24" y2="546.30" stroke="#231f20" stroke-width="0.7"/>
<line x1="133.30" y1="544.80" x2="133.30" y2="547.40" stroke="#231f20" stroke-width="0.7"/>
<line x1="140.25" y1="544.80" x2="140.25" y2="546.30" stroke="#231f20" stroke-width="0.7"/>
<line x1="144.32" y1="544.80" x2="144.32" y2="546.30" stroke="#231f20" stroke-width="0.7"/>
<line x1="147.21" y1="544.80" x2="147.21" y2="546.30" stroke="#231f20" stroke-width="0.7"/>
<line x1="149.45" y1="544.80" x2="149.45" y2="546.30" stroke="#231f20" stroke-width="0.7"/>
<line x1="151.28" y1="544.80" x2="151.28" y2="546.30" stroke="#231f20" stroke-width="0.7"/>
<line x1="152.82" y1="544.80" x2="152.82" y2="546.30" stroke="#231f20" stroke-width="0.7"/>
<line x1="154.16" y1="544.80" x2="154.16" y2="546.30" stroke="#231f20" stroke-width="0.7"/>
<line x1="155.34" y1="544.80" x2="155.34" y2="546.30" stroke="#231f20" stroke-width="0.7"/>
<line x1="156.40" y1="544.80" x2="156.40" y2="547.40" stroke="#231f20" stroke-width="0.7"/>
<line x1="163.35" y1="544.80" x2="163.35" y2="546.30" stroke="#231f20" stroke-width="0.7"/>
<line x1="167.42" y1="544.80" x2="167.42" y2="546.30" stroke="#231f20" stroke-width="0.7"/>
<line x1="170.31" y1="544.80" x2="170.31" y2="546.30" stroke="#231f20" stroke-width="0.7"/>
<line x1="172.55" y1="544.80" x2="172.55" y2="546.30" stroke="#231f20" stroke-width="0.7"/>
<line x1="174.38" y1="544.80" x2="174.38" y2="546.30" stroke="#231f20" stroke-width="0.7"/>
<line x1="175.92" y1="544.80" x2="175.92" y2="546.30" stroke="#231f20" stroke-width="0.7"/>
<line x1="177.26" y1="544.80" x2="177.26" y2="546.30" stroke="#231f20" stroke-width="0.7"/>
<line x1="178.44" y1="544.80" x2="178.44" y2="546.30" stroke="#231f20" stroke-width="0.7"/>
<line x1="179.50" y1="544.80" x2="179.50" y2="547.40" stroke="#231f20" stroke-width="0.7"/>
<text x="34.03" y="556.80" font-size="10.2" fill="#231f20">10</text>
<text transform="translate(45.72 553.50) scale(0.8 1)" font-size="7.0" fill="#231f20">0</text>
<text x="57.26" y="556.80" font-size="10.2" fill="#231f20">10</text>
<text transform="translate(68.75 553.50) scale(0.8 1)" font-size="7.0" fill="#231f20">1</text>
<text x="80.29" y="556.80" font-size="10.2" fill="#231f20">10</text>
<text transform="translate(91.92 553.50) scale(0.8 1)" font-size="7.0" fill="#231f20">2</text>
<text x="103.34" y="556.80" font-size="10.2" fill="#231f20">10</text>
<text transform="translate(115.03 553.50) scale(0.8 1)" font-size="7.0" fill="#231f20">3</text>
<text x="126.36" y="556.80" font-size="10.2" fill="#231f20">10</text>
<text transform="translate(138.13 553.50) scale(0.8 1)" font-size="7.0" fill="#231f20">4</text>
<text x="149.53" y="556.80" font-size="10.2" fill="#231f20">10</text>
<text transform="translate(161.22 553.50) scale(0.8 1)" font-size="7.0" fill="#231f20">5</text>
<text x="172.67" y="556.80" font-size="10.2" fill="#231f20">10</text>
<text transform="translate(184.31 553.50) scale(0.8 1)" font-size="7.0" fill="#231f20">6</text>
<text x="75.43" y="568.40" font-size="10.9" text-anchor="start" fill="#231f20" font-weight="normal" font-style="normal" >Frequency (Hz)</text>
<text x="0" y="0" font-size="10.8" fill="#2f8c4e" text-anchor="middle" transform="translate(11.60 469.50) rotate(-90)">|Z| (&#937;)</text>
<text x="0" y="0" font-size="10.8" fill="#d6a13e" text-anchor="middle" transform="translate(218.20 469.00) rotate(-90)">Phase (&#176;)</text>
<path d="M66.4 513.9 L80 513.6" stroke="#86a850" stroke-width="1.3"/>
<clipPath id="lfg"><path d="M78.5 513.8 C83 511 86 504 92 497.5 C97 495.5 104 495.6 109 497 C117 499.5 127 507 133.8 515.7 C128 521 121 526 110 528.4 C102 529.6 93 528.6 87 525.4 C83 522 80.5 517 78.5 513.8 Z"/></clipPath>
<path d="M78.5 513.8 C83 511 86 504 92 497.5 C97 495.5 104 495.6 109 497 C117 499.5 127 507 133.8 515.7 C128 521 121 526 110 528.4 C102 529.6 93 528.6 87 525.4 C83 522 80.5 517 78.5 513.8 Z" fill="#78ae48"/>
<g clip-path="url(#lfg)" opacity="0.9"><ellipse cx="105.7" cy="515.2" rx="1.7" ry="1.7" fill="#5e8f3a"/><ellipse cx="93.1" cy="522.3" rx="2.0" ry="1.7" fill="#86b24c"/><ellipse cx="88.5" cy="507.8" rx="1.9" ry="1.8" fill="#8c5040"/><ellipse cx="114.5" cy="516.3" rx="2.5" ry="1.5" fill="#5e8f3a"/><ellipse cx="113.5" cy="503.6" rx="2.3" ry="0.9" fill="#8c5040"/><ellipse cx="112.8" cy="521.6" rx="1.7" ry="1.7" fill="#9a5a46"/><ellipse cx="108.9" cy="517.6" rx="1.0" ry="0.9" fill="#5e8f3a"/><ellipse cx="115.4" cy="510.8" rx="2.6" ry="1.7" fill="#6b9a40"/><ellipse cx="118.0" cy="508.1" rx="1.8" ry="0.8" fill="#7e4a3a"/><ellipse cx="111.0" cy="502.1" rx="2.4" ry="1.2" fill="#8c5040"/><ellipse cx="127.7" cy="512.6" rx="1.6" ry="0.9" fill="#8c5040"/><ellipse cx="114.2" cy="521.6" rx="1.5" ry="1.1" fill="#9a5a46"/><ellipse cx="84.7" cy="510.9" rx="1.2" ry="1.6" fill="#8c5040"/><ellipse cx="84.5" cy="512.5" rx="1.3" ry="1.4" fill="#86b24c"/><ellipse cx="105.5" cy="504.5" rx="2.2" ry="1.3" fill="#8c5040"/><ellipse cx="102.4" cy="510.5" rx="1.0" ry="1.8" fill="#7e4a3a"/><ellipse cx="112.9" cy="515.7" rx="2.6" ry="1.0" fill="#8c5040"/><ellipse cx="96.4" cy="521.4" rx="2.3" ry="1.2" fill="#6b9a40"/><ellipse cx="101.7" cy="517.0" rx="2.5" ry="1.3" fill="#7e4a3a"/><ellipse cx="111.6" cy="524.1" rx="2.0" ry="1.1" fill="#7e4a3a"/><ellipse cx="95.0" cy="516.7" rx="1.3" ry="1.5" fill="#5e8f3a"/><ellipse cx="110.6" cy="518.9" rx="2.4" ry="1.5" fill="#5e8f3a"/><ellipse cx="104.2" cy="502.0" rx="1.8" ry="1.1" fill="#8c5040"/><ellipse cx="119.5" cy="510.4" rx="2.3" ry="1.5" fill="#5e8f3a"/><ellipse cx="98.1" cy="504.1" rx="2.6" ry="0.9" fill="#8c5040"/><ellipse cx="107.0" cy="518.0" rx="2.0" ry="1.1" fill="#6b9a40"/><ellipse cx="92.5" cy="509.7" rx="1.1" ry="1.0" fill="#5e8f3a"/><ellipse cx="105.6" cy="508.6" rx="2.1" ry="1.4" fill="#8c5040"/><ellipse cx="107.1" cy="520.2" rx="1.2" ry="0.9" fill="#9a5a46"/><ellipse cx="105.7" cy="509.7" rx="2.4" ry="1.6" fill="#8c5040"/><ellipse cx="117.8" cy="522.0" rx="1.6" ry="1.6" fill="#9a5a46"/><ellipse cx="104.0" cy="521.9" rx="1.9" ry="1.5" fill="#5e8f3a"/><ellipse cx="102.4" cy="515.9" rx="1.1" ry="0.9" fill="#6b9a40"/><ellipse cx="89.5" cy="506.5" rx="2.2" ry="1.2" fill="#86b24c"/><ellipse cx="119.3" cy="515.8" rx="1.7" ry="1.4" fill="#5e8f3a"/><ellipse cx="108.9" cy="513.9" rx="2.0" ry="1.3" fill="#9a5a46"/><ellipse cx="95.1" cy="519.3" rx="2.2" ry="1.5" fill="#86b24c"/><ellipse cx="101.7" cy="503.2" rx="1.3" ry="1.0" fill="#6b9a40"/><ellipse cx="105.2" cy="524.9" rx="1.6" ry="1.1" fill="#9a5a46"/><ellipse cx="114.4" cy="522.3" rx="2.4" ry="1.2" fill="#7e4a3a"/><ellipse cx="112.0" cy="508.2" rx="1.2" ry="1.2" fill="#7e4a3a"/><ellipse cx="123.9" cy="510.1" rx="1.8" ry="1.1" fill="#6b9a40"/><ellipse cx="105.7" cy="501.2" rx="1.4" ry="1.5" fill="#8c5040"/><ellipse cx="116.6" cy="507.2" rx="1.5" ry="1.7" fill="#9a5a46"/><ellipse cx="114.2" cy="511.9" rx="1.9" ry="1.5" fill="#8c5040"/><ellipse cx="101.7" cy="501.3" rx="1.3" ry="1.3" fill="#7e4a3a"/><ellipse cx="106.7" cy="519.7" rx="1.4" ry="1.7" fill="#7e4a3a"/><ellipse cx="117.6" cy="505.5" rx="2.5" ry="1.6" fill="#5e8f3a"/><ellipse cx="90.2" cy="512.2" rx="1.6" ry="1.4" fill="#8c5040"/><ellipse cx="115.3" cy="504.9" rx="2.4" ry="1.7" fill="#8c5040"/><ellipse cx="95.6" cy="510.3" rx="2.6" ry="1.4" fill="#8c5040"/><ellipse cx="122.0" cy="508.3" rx="2.4" ry="1.2" fill="#8c5040"/><ellipse cx="88.0" cy="511.8" rx="2.2" ry="1.3" fill="#86b24c"/><ellipse cx="92.3" cy="508.7" rx="1.8" ry="1.9" fill="#5e8f3a"/><ellipse cx="127.2" cy="514.0" rx="2.1" ry="1.8" fill="#8c5040"/><ellipse cx="109.3" cy="507.4" rx="1.9" ry="1.0" fill="#8c5040"/><ellipse cx="96.3" cy="518.5" rx="1.5" ry="1.0" fill="#5e8f3a"/><ellipse cx="110.1" cy="506.9" rx="1.3" ry="1.4" fill="#5e8f3a"/><ellipse cx="108.2" cy="516.6" rx="1.9" ry="0.8" fill="#8c5040"/><ellipse cx="103.4" cy="506.1" rx="1.2" ry="1.3" fill="#5e8f3a"/><ellipse cx="106.9" cy="508.2" rx="1.7" ry="0.8" fill="#7e4a3a"/><ellipse cx="96.5" cy="519.4" rx="1.1" ry="1.0" fill="#8c5040"/><ellipse cx="118.7" cy="506.1" rx="1.2" ry="1.6" fill="#5e8f3a"/><ellipse cx="89.9" cy="513.8" rx="2.1" ry="1.6" fill="#6b9a40"/><ellipse cx="114.4" cy="522.9" rx="1.3" ry="1.0" fill="#6b9a40"/><ellipse cx="114.3" cy="517.5" rx="1.3" ry="1.4" fill="#6b9a40"/><ellipse cx="112.2" cy="503.0" rx="2.0" ry="1.2" fill="#8c5040"/><ellipse cx="92.7" cy="516.5" rx="1.3" ry="1.9" fill="#5e8f3a"/><ellipse cx="95.5" cy="520.1" rx="1.6" ry="1.3" fill="#6b9a40"/><ellipse cx="117.8" cy="504.8" rx="2.1" ry="0.8" fill="#8c5040"/><ellipse cx="93.6" cy="518.8" rx="1.2" ry="1.4" fill="#6b9a40"/><ellipse cx="120.4" cy="513.6" rx="2.3" ry="1.7" fill="#8c5040"/><ellipse cx="120.6" cy="516.8" rx="1.8" ry="1.0" fill="#6b9a40"/><ellipse cx="91.6" cy="507.2" rx="1.9" ry="0.9" fill="#8c5040"/><ellipse cx="88.6" cy="510.3" rx="1.8" ry="1.3" fill="#86b24c"/><ellipse cx="92.7" cy="512.2" rx="1.6" ry="1.0" fill="#6b9a40"/><ellipse cx="91.9" cy="513.9" rx="1.5" ry="0.9" fill="#8c5040"/><ellipse cx="111.3" cy="504.5" rx="2.6" ry="1.7" fill="#6b9a40"/><ellipse cx="119.7" cy="521.6" rx="1.2" ry="1.2" fill="#5e8f3a"/><ellipse cx="109.9" cy="509.7" rx="2.2" ry="1.2" fill="#5e8f3a"/><ellipse cx="100.4" cy="512.6" rx="2.4" ry="1.9" fill="#8c5040"/><ellipse cx="98.3" cy="505.3" rx="1.9" ry="1.4" fill="#5e8f3a"/><ellipse cx="114.8" cy="519.3" rx="2.6" ry="0.8" fill="#5e8f3a"/><ellipse cx="113.5" cy="520.4" rx="1.7" ry="1.4" fill="#9a5a46"/><ellipse cx="120.5" cy="517.8" rx="1.2" ry="1.1" fill="#8c5040"/><ellipse cx="127.5" cy="515.0" rx="1.7" ry="1.4" fill="#6b9a40"/><ellipse cx="105.3" cy="517.7" rx="2.0" ry="1.6" fill="#6b9a40"/></g>
<path d="M80 513.8 Q106 514.5 133 515.6" stroke="#a0b858" stroke-width="0.6" fill="none" opacity="0.8"/>
<path d="M78.5 513.8 C83 511 86 504 92 497.5 C97 495.5 104 495.6 109 497 C117 499.5 127 507 133.8 515.7 C128 521 121 526 110 528.4 C102 529.6 93 528.6 87 525.4 C83 522 80.5 517 78.5 513.8 Z" fill="none" stroke="#8cc454" stroke-width="1.4" stroke-dasharray="1.6 1.1"/>
<rect x="88.6" y="502.8" width="9.9" height="9.4" fill="#c9cbc0" opacity="0.8"/>
<rect x="109" y="503.4" width="8.2" height="10" fill="#c8b8b6" opacity="0.8"/>
<text x="57.01" y="540.70" font-size="10.75" text-anchor="start" fill="#231f20" font-weight="normal" font-style="italic" >Coleus scutellarioides</text>
<path d="M42.4 541.2L42.7 540.9L43.1 540.5L43.6 540.1L44.2 539.7L44.8 539.2L45.4 538.6L46.0 537.9L46.6 537.2L47.2 536.3L47.7 535.4L48.2 534.3L48.7 533.2L49.2 531.9L49.6 530.5L50.1 529.1L50.6 527.6L51.0 526.0L51.5 524.5L51.9 522.9L52.4 521.4L52.9 519.9L53.3 518.3L53.8 516.7L54.3 515.0L54.8 513.3L55.2 511.7L55.7 510.0L56.2 508.3L56.6 506.6L57.0 505.0L57.4 503.4L57.8 501.7L58.1 500.0L58.5 498.4L58.8 496.7L59.2 495.1L59.5 493.5L59.8 491.8L60.2 490.3L60.5 488.7L60.9 487.2L61.2 485.7L61.5 484.2L61.9 482.8L62.2 481.4L62.6 480.0L63.0 478.5L63.3 477.1L63.6 475.7L64.0 474.2L64.3 472.7L64.7 471.2L65.0 469.6L65.4 468.1L65.8 466.5L66.1 464.9L66.5 463.4L66.8 461.9L67.2 460.4L67.5 459.0L67.8 457.6L68.2 456.2L68.5 454.9L68.8 453.6L69.2 452.3L69.5 451.0L69.9 449.8L70.2 448.6L70.6 447.4L71.0 446.2L71.4 445.0L71.8 443.9L72.3 442.8L72.7 441.8L73.2 440.7L73.7 439.7L74.2 438.7L74.7 437.7L75.2 436.7L75.7 435.7L76.2 434.7L76.8 433.8L77.3 432.8L77.9 431.9L78.5 431.0L79.0 430.1L79.6 429.3L80.2 428.4L80.9 427.7L81.5 426.9L82.2 426.2L82.8 425.5L83.5 424.8L84.2 424.2L84.9 423.6L85.6 423.0L86.4 422.5L87.1 422.0L87.8 421.5L88.6 421.1L89.4 420.7L90.2 420.4L91.0 420.0L91.8 419.7L92.6 419.5L93.4 419.3L94.2 419.1L95.1 418.9L95.9 418.9L96.7 418.8L97.5 418.8L98.4 418.8L99.2 418.9L100.1 419.0L100.9 419.1L101.8 419.3L102.6 419.6L103.4 419.8L104.2 420.1L104.9 420.5L105.6 420.9L106.2 421.3L106.8 421.8L107.4 422.4L108.0 422.9L108.5 423.6L109.1 424.2L109.6 424.9L110.2 425.6L110.7 426.4L111.3 427.2L111.8 428.2L112.4 429.1L112.9 430.2L113.5 431.2L114.0 432.3L114.5 433.4L115.0 434.4L115.5 435.4L116.0 436.3L116.4 437.1L116.8 437.9L117.2 438.6L117.5 439.3L117.9 439.9L118.2 440.6L118.6 441.3L119.0 442.1L119.5 442.9L120.0 443.9L120.6 445.0L121.2 446.1L121.8 447.2L122.5 448.4L123.2 449.7L124.0 451.0L124.7 452.4L125.5 453.8L126.2 455.2L127.0 456.7L127.8 458.2L128.6 459.9L129.4 461.6L130.2 463.4L131.0 465.2L131.9 467.0L132.7 468.7L133.5 470.4L134.4 472.1L135.2 473.6L136.0 475.0L136.9 476.5L137.7 477.8L138.6 479.2L139.4 480.4L140.2 481.7L141.1 482.8L141.9 483.9L142.6 484.9L143.4 485.9L144.1 486.8L144.8 487.6L145.5 488.3L146.2 489.0L146.9 489.6L147.6 490.1L148.2 490.6L148.8 491.0L149.4 491.4L150.0 491.8L150.6 492.1L151.1 492.4L151.6 492.6L152.1 492.8L152.5 492.9L153.0 492.9L153.5 493.0L154.0 493.0L154.5 492.9L155.0 492.8L155.6 492.7L156.1 492.5L156.7 492.3L157.2 492.1L157.8 491.8L158.4 491.5L159.0 491.1L159.6 490.6L160.3 490.1L161.0 489.5L161.7 488.8L162.4 488.1L163.2 487.2L164.0 486.4L164.8 485.4L165.6 484.4L166.4 483.4L167.3 482.3L168.2 481.2L169.1 480.1L170.1 478.9L171.2 477.5L172.4 476.0L173.6 474.5L174.9 473.0L176.0 471.5L177.1 470.1L178.1 468.8L179.0 467.8L179.6 467.0" fill="none" stroke="#d6a13e" stroke-width="0.9" stroke-linejoin="round"/>
<path d="M42.4 541.2h0M44.4 539.5h0M46.4 537.4h0M48.3 534.2h0M49.9 529.7h0M51.4 524.7h0M53.0 519.6h0M54.5 514.4h0M56.0 509.0h0M57.4 503.3h0M58.8 497.0h0M60.1 490.5h0M61.5 484.5h0M62.9 478.7h0M64.3 472.8h0M65.7 466.6h0M67.1 460.6h0M68.5 454.8h0M70.0 449.3h0M71.6 444.6h0M73.3 440.5h0M75.1 436.9h0M76.9 433.6h0M78.7 430.6h0M80.6 428.0h0M82.6 425.7h0M84.6 423.9h0M86.7 422.3h0M88.8 421.0h0M90.9 420.0h0M93.1 419.3h0M95.4 418.9h0M97.6 418.8h0M99.9 419.0h0M102.1 419.4h0M104.3 420.2h0M106.4 421.5h0M108.4 423.4h0M110.4 425.9h0M112.2 428.9h0M114.0 432.3h0M115.8 435.9h0M117.6 439.3h0M119.4 442.7h0M121.2 446.0h0M123.0 449.2h0M124.8 452.5h0M126.6 455.9h0M128.3 459.4h0M130.1 463.1h0M131.8 466.9h0M133.6 470.5h0M135.4 473.9h0M137.2 477.0h0M139.1 479.9h0M141.0 482.7h0M142.9 485.2h0M144.8 487.5h0M146.8 489.5h0M148.9 491.1h0M151.0 492.3h0M153.2 493.0h0M155.5 492.7h0M157.6 491.9h0M159.7 490.5h0M161.8 488.8h0M163.8 486.6h0M165.7 484.3h0M167.6 481.9h0M169.6 479.5h0M171.5 477.1h0M173.5 474.7h0M175.4 472.3h0M177.3 469.8h0M179.3 467.4h0" stroke="#d6a13e" stroke-width="1.70" stroke-linecap="round" fill="none"/>
<path d="M42.4 437.4L43.1 438.2L44.0 439.3L45.0 440.6L46.2 442.1L47.5 443.6L48.8 445.2L50.1 446.8L51.4 448.3L52.5 449.7L53.5 450.9L54.4 451.9L55.2 452.9L55.9 453.9L56.6 454.7L57.3 455.5L58.0 456.3L58.6 457.0L59.2 457.7L59.9 458.4L60.5 459.0L61.1 459.6L61.7 460.1L62.3 460.6L62.8 461.0L63.4 461.4L63.9 461.7L64.5 462.1L65.1 462.4L65.7 462.8L66.4 463.1L67.1 463.4L67.8 463.8L68.5 464.1L69.2 464.4L69.9 464.6L70.7 464.9L71.6 465.2L72.5 465.5L73.4 465.8L74.5 466.1L75.7 466.4L76.9 466.8L78.3 467.1L79.7 467.5L81.2 467.9L82.7 468.2L84.2 468.6L85.7 468.9L87.2 469.3L88.6 469.6L90.0 469.9L91.4 470.2L92.8 470.5L94.2 470.7L95.5 471.0L96.9 471.3L98.3 471.6L99.7 471.9L101.2 472.2L102.6 472.5L104.1 472.9L105.6 473.2L107.2 473.6L108.7 474.0L110.3 474.4L111.9 474.8L113.4 475.2L114.9 475.7L116.3 476.1L117.7 476.6L119.0 477.1L120.3 477.6L121.5 478.2L122.7 478.7L123.9 479.3L125.0 479.9L126.1 480.5L127.2 481.1L128.3 481.8L129.4 482.4L130.5 483.0L131.5 483.7L132.5 484.4L133.5 485.1L134.5 485.8L135.5 486.5L136.5 487.2L137.4 487.9L138.4 488.7L139.3 489.4L140.2 490.1L141.1 490.9L141.9 491.6L142.7 492.3L143.5 493.1L144.3 493.9L145.1 494.7L146.1 495.5L147.0 496.5L148.1 497.5L149.2 498.6L150.4 499.8L151.7 501.0L153.0 502.3L154.3 503.6L155.7 505.0L157.1 506.3L158.6 507.7L160.1 509.1L161.7 510.5L163.4 512.0L165.3 513.5L167.4 515.2L169.5 516.9L171.6 518.6L173.6 520.2L175.6 521.7L177.3 523.0L178.7 524.1L179.8 525.0" fill="none" stroke="#2f8c4e" stroke-width="0.9" stroke-linejoin="round"/>
<path d="M42.4 437.4h0M44.3 439.8h0M46.3 442.1h0M48.2 444.5h0M50.2 446.9h0M52.1 449.2h0M54.1 451.6h0M56.0 454.0h0M58.0 456.3h0M59.9 458.5h0M62.0 460.3h0M64.0 461.8h0M66.2 463.0h0M68.3 464.0h0M70.5 464.8h0M72.7 465.6h0M74.9 466.2h0M77.1 466.8h0M79.3 467.4h0M81.5 467.9h0M83.7 468.5h0M86.0 469.0h0M88.2 469.5h0M90.4 470.0h0M92.6 470.5h0M94.9 470.9h0M97.1 471.3h0M99.3 471.8h0M101.6 472.3h0M103.8 472.8h0M106.0 473.3h0M108.2 473.9h0M110.4 474.4h0M112.7 475.0h0M114.9 475.6h0M117.1 476.4h0M119.2 477.2h0M121.4 478.1h0M123.5 479.2h0M125.7 480.3h0M127.8 481.5h0M129.9 482.7h0M132.0 484.0h0M134.1 485.4h0M136.2 487.0h0M138.2 488.5h0M140.3 490.2h0M142.3 492.0h0M144.3 493.9h0M146.3 495.8h0M148.3 497.7h0M150.4 499.7h0M152.4 501.7h0M154.4 503.6h0M156.4 505.6h0M158.4 507.5h0M160.4 509.4h0M162.4 511.1h0M164.5 512.8h0M166.5 514.5h0M168.6 516.2h0M170.6 517.8h0M172.7 519.4h0M174.8 521.0h0M176.8 522.6h0M178.9 524.3h0" stroke="#2f8c4e" stroke-width="1.70" stroke-linecap="round" fill="none"/>
<line x1="267.70" y1="408.30" x2="418.40" y2="408.30" stroke="#2a2627" stroke-width="1.15"/>
<line x1="267.70" y1="545.20" x2="418.40" y2="545.20" stroke="#3a3738" stroke-width="1.5"/>
<line x1="267.70" y1="407.90" x2="267.70" y2="545.70" stroke="#4e9e66" stroke-width="1.2"/>
<line x1="418.40" y1="407.90" x2="418.40" y2="545.70" stroke="#d9ad4e" stroke-width="1.2"/>
<line x1="267.70" y1="541.14" x2="266.20" y2="541.14" stroke="#2f8c4e" stroke-width="0.7"/>
<line x1="267.70" y1="535.31" x2="266.20" y2="535.31" stroke="#2f8c4e" stroke-width="0.7"/>
<line x1="267.70" y1="531.17" x2="266.20" y2="531.17" stroke="#2f8c4e" stroke-width="0.7"/>
<line x1="267.70" y1="527.96" x2="266.20" y2="527.96" stroke="#2f8c4e" stroke-width="0.7"/>
<line x1="267.70" y1="525.34" x2="266.20" y2="525.34" stroke="#2f8c4e" stroke-width="0.7"/>
<line x1="267.70" y1="523.13" x2="266.20" y2="523.13" stroke="#2f8c4e" stroke-width="0.7"/>
<line x1="267.70" y1="521.21" x2="266.20" y2="521.21" stroke="#2f8c4e" stroke-width="0.7"/>
<line x1="267.70" y1="519.51" x2="266.20" y2="519.51" stroke="#2f8c4e" stroke-width="0.7"/>
<line x1="267.70" y1="518.00" x2="264.90" y2="518.00" stroke="#2f8c4e" stroke-width="0.7"/>
<line x1="267.70" y1="508.04" x2="266.20" y2="508.04" stroke="#2f8c4e" stroke-width="0.7"/>
<line x1="267.70" y1="502.21" x2="266.20" y2="502.21" stroke="#2f8c4e" stroke-width="0.7"/>
<line x1="267.70" y1="498.07" x2="266.20" y2="498.07" stroke="#2f8c4e" stroke-width="0.7"/>
<line x1="267.70" y1="494.86" x2="266.20" y2="494.86" stroke="#2f8c4e" stroke-width="0.7"/>
<line x1="267.70" y1="492.24" x2="266.20" y2="492.24" stroke="#2f8c4e" stroke-width="0.7"/>
<line x1="267.70" y1="490.03" x2="266.20" y2="490.03" stroke="#2f8c4e" stroke-width="0.7"/>
<line x1="267.70" y1="488.11" x2="266.20" y2="488.11" stroke="#2f8c4e" stroke-width="0.7"/>
<line x1="267.70" y1="486.41" x2="266.20" y2="486.41" stroke="#2f8c4e" stroke-width="0.7"/>
<line x1="267.70" y1="484.90" x2="264.90" y2="484.90" stroke="#2f8c4e" stroke-width="0.7"/>
<line x1="267.70" y1="474.94" x2="266.20" y2="474.94" stroke="#2f8c4e" stroke-width="0.7"/>
<line x1="267.70" y1="469.11" x2="266.20" y2="469.11" stroke="#2f8c4e" stroke-width="0.7"/>
<line x1="267.70" y1="464.97" x2="266.20" y2="464.97" stroke="#2f8c4e" stroke-width="0.7"/>
<line x1="267.70" y1="461.76" x2="266.20" y2="461.76" stroke="#2f8c4e" stroke-width="0.7"/>
<line x1="267.70" y1="459.14" x2="266.20" y2="459.14" stroke="#2f8c4e" stroke-width="0.7"/>
<line x1="267.70" y1="456.93" x2="266.20" y2="456.93" stroke="#2f8c4e" stroke-width="0.7"/>
<line x1="267.70" y1="455.01" x2="266.20" y2="455.01" stroke="#2f8c4e" stroke-width="0.7"/>
<line x1="267.70" y1="453.31" x2="266.20" y2="453.31" stroke="#2f8c4e" stroke-width="0.7"/>
<line x1="267.70" y1="451.80" x2="264.90" y2="451.80" stroke="#2f8c4e" stroke-width="0.7"/>
<line x1="267.70" y1="441.84" x2="266.20" y2="441.84" stroke="#2f8c4e" stroke-width="0.7"/>
<line x1="267.70" y1="436.01" x2="266.20" y2="436.01" stroke="#2f8c4e" stroke-width="0.7"/>
<line x1="267.70" y1="431.87" x2="266.20" y2="431.87" stroke="#2f8c4e" stroke-width="0.7"/>
<line x1="267.70" y1="428.66" x2="266.20" y2="428.66" stroke="#2f8c4e" stroke-width="0.7"/>
<line x1="267.70" y1="426.04" x2="266.20" y2="426.04" stroke="#2f8c4e" stroke-width="0.7"/>
<line x1="267.70" y1="423.83" x2="266.20" y2="423.83" stroke="#2f8c4e" stroke-width="0.7"/>
<line x1="267.70" y1="421.91" x2="266.20" y2="421.91" stroke="#2f8c4e" stroke-width="0.7"/>
<line x1="267.70" y1="420.21" x2="266.20" y2="420.21" stroke="#2f8c4e" stroke-width="0.7"/>
<line x1="267.70" y1="418.70" x2="264.90" y2="418.70" stroke="#2f8c4e" stroke-width="0.7"/>
<text x="249.96" y="423.40" font-size="10.8" fill="#2f8c4e">10</text>
<text x="262.12" y="419.20" font-size="5.9" fill="#2f8c4e">7</text>
<text x="249.93" y="456.90" font-size="10.8" fill="#2f8c4e">10</text>
<text x="262.09" y="452.70" font-size="5.9" fill="#2f8c4e">6</text>
<text x="249.84" y="490.00" font-size="10.8" fill="#2f8c4e">10</text>
<text x="262.06" y="485.80" font-size="5.9" fill="#2f8c4e">5</text>
<text x="249.69" y="523.00" font-size="10.8" fill="#2f8c4e">10</text>
<text x="262.00" y="518.80" font-size="5.9" fill="#2f8c4e">4</text>
<line x1="418.40" y1="408.30" x2="421.00" y2="408.30" stroke="#d6a13e" stroke-width="0.7"/>
<line x1="418.40" y1="422.03" x2="419.90" y2="422.03" stroke="#d6a13e" stroke-width="0.7"/>
<line x1="418.40" y1="435.75" x2="421.00" y2="435.75" stroke="#d6a13e" stroke-width="0.7"/>
<line x1="418.40" y1="449.48" x2="419.90" y2="449.48" stroke="#d6a13e" stroke-width="0.7"/>
<line x1="418.40" y1="463.20" x2="421.00" y2="463.20" stroke="#d6a13e" stroke-width="0.7"/>
<line x1="418.40" y1="476.93" x2="419.90" y2="476.93" stroke="#d6a13e" stroke-width="0.7"/>
<line x1="418.40" y1="490.65" x2="421.00" y2="490.65" stroke="#d6a13e" stroke-width="0.7"/>
<line x1="418.40" y1="504.38" x2="419.90" y2="504.38" stroke="#d6a13e" stroke-width="0.7"/>
<line x1="418.40" y1="518.10" x2="421.00" y2="518.10" stroke="#d6a13e" stroke-width="0.7"/>
<line x1="418.40" y1="531.83" x2="419.90" y2="531.83" stroke="#d6a13e" stroke-width="0.7"/>
<text x="422.12" y="412.00" font-size="10.6" text-anchor="start" fill="#d6a13e" font-weight="normal" font-style="normal" >-30</text>
<text x="422.12" y="439.45" font-size="10.6" text-anchor="start" fill="#d6a13e" font-weight="normal" font-style="normal" >-40</text>
<text x="422.12" y="466.90" font-size="10.6" text-anchor="start" fill="#d6a13e" font-weight="normal" font-style="normal" >-50</text>
<text x="422.12" y="494.35" font-size="10.6" text-anchor="start" fill="#d6a13e" font-weight="normal" font-style="normal" >-60</text>
<text x="422.12" y="521.80" font-size="10.6" text-anchor="start" fill="#d6a13e" font-weight="normal" font-style="normal" >-70</text>
<text x="422.12" y="549.25" font-size="10.6" text-anchor="start" fill="#d6a13e" font-weight="normal" font-style="normal" >-80</text>
<line x1="268.76" y1="545.20" x2="268.76" y2="546.70" stroke="#231f20" stroke-width="0.7"/>
<line x1="270.31" y1="545.20" x2="270.31" y2="546.70" stroke="#231f20" stroke-width="0.7"/>
<line x1="271.65" y1="545.20" x2="271.65" y2="546.70" stroke="#231f20" stroke-width="0.7"/>
<line x1="272.84" y1="545.20" x2="272.84" y2="546.70" stroke="#231f20" stroke-width="0.7"/>
<line x1="273.90" y1="545.20" x2="273.90" y2="547.80" stroke="#231f20" stroke-width="0.7"/>
<line x1="280.88" y1="545.20" x2="280.88" y2="546.70" stroke="#231f20" stroke-width="0.7"/>
<line x1="284.96" y1="545.20" x2="284.96" y2="546.70" stroke="#231f20" stroke-width="0.7"/>
<line x1="287.86" y1="545.20" x2="287.86" y2="546.70" stroke="#231f20" stroke-width="0.7"/>
<line x1="290.10" y1="545.20" x2="290.10" y2="546.70" stroke="#231f20" stroke-width="0.7"/>
<line x1="291.94" y1="545.20" x2="291.94" y2="546.70" stroke="#231f20" stroke-width="0.7"/>
<line x1="293.49" y1="545.20" x2="293.49" y2="546.70" stroke="#231f20" stroke-width="0.7"/>
<line x1="294.83" y1="545.20" x2="294.83" y2="546.70" stroke="#231f20" stroke-width="0.7"/>
<line x1="296.02" y1="545.20" x2="296.02" y2="546.70" stroke="#231f20" stroke-width="0.7"/>
<line x1="297.08" y1="545.20" x2="297.08" y2="547.80" stroke="#231f20" stroke-width="0.7"/>
<line x1="304.06" y1="545.20" x2="304.06" y2="546.70" stroke="#231f20" stroke-width="0.7"/>
<line x1="308.14" y1="545.20" x2="308.14" y2="546.70" stroke="#231f20" stroke-width="0.7"/>
<line x1="311.04" y1="545.20" x2="311.04" y2="546.70" stroke="#231f20" stroke-width="0.7"/>
<line x1="313.28" y1="545.20" x2="313.28" y2="546.70" stroke="#231f20" stroke-width="0.7"/>
<line x1="315.12" y1="545.20" x2="315.12" y2="546.70" stroke="#231f20" stroke-width="0.7"/>
<line x1="316.67" y1="545.20" x2="316.67" y2="546.70" stroke="#231f20" stroke-width="0.7"/>
<line x1="318.01" y1="545.20" x2="318.01" y2="546.70" stroke="#231f20" stroke-width="0.7"/>
<line x1="319.20" y1="545.20" x2="319.20" y2="546.70" stroke="#231f20" stroke-width="0.7"/>
<line x1="320.26" y1="545.20" x2="320.26" y2="547.80" stroke="#231f20" stroke-width="0.7"/>
<line x1="327.24" y1="545.20" x2="327.24" y2="546.70" stroke="#231f20" stroke-width="0.7"/>
<line x1="331.32" y1="545.20" x2="331.32" y2="546.70" stroke="#231f20" stroke-width="0.7"/>
<line x1="334.22" y1="545.20" x2="334.22" y2="546.70" stroke="#231f20" stroke-width="0.7"/>
<line x1="336.46" y1="545.20" x2="336.46" y2="546.70" stroke="#231f20" stroke-width="0.7"/>
<line x1="338.30" y1="545.20" x2="338.30" y2="546.70" stroke="#231f20" stroke-width="0.7"/>
<line x1="339.85" y1="545.20" x2="339.85" y2="546.70" stroke="#231f20" stroke-width="0.7"/>
<line x1="341.19" y1="545.20" x2="341.19" y2="546.70" stroke="#231f20" stroke-width="0.7"/>
<line x1="342.38" y1="545.20" x2="342.38" y2="546.70" stroke="#231f20" stroke-width="0.7"/>
<line x1="343.44" y1="545.20" x2="343.44" y2="547.80" stroke="#231f20" stroke-width="0.7"/>
<line x1="350.42" y1="545.20" x2="350.42" y2="546.70" stroke="#231f20" stroke-width="0.7"/>
<line x1="354.50" y1="545.20" x2="354.50" y2="546.70" stroke="#231f20" stroke-width="0.7"/>
<line x1="357.40" y1="545.20" x2="357.40" y2="546.70" stroke="#231f20" stroke-width="0.7"/>
<line x1="359.64" y1="545.20" x2="359.64" y2="546.70" stroke="#231f20" stroke-width="0.7"/>
<line x1="361.48" y1="545.20" x2="361.48" y2="546.70" stroke="#231f20" stroke-width="0.7"/>
<line x1="363.03" y1="545.20" x2="363.03" y2="546.70" stroke="#231f20" stroke-width="0.7"/>
<line x1="364.37" y1="545.20" x2="364.37" y2="546.70" stroke="#231f20" stroke-width="0.7"/>
<line x1="365.56" y1="545.20" x2="365.56" y2="546.70" stroke="#231f20" stroke-width="0.7"/>
<line x1="366.62" y1="545.20" x2="366.62" y2="547.80" stroke="#231f20" stroke-width="0.7"/>
<line x1="373.60" y1="545.20" x2="373.60" y2="546.70" stroke="#231f20" stroke-width="0.7"/>
<line x1="377.68" y1="545.20" x2="377.68" y2="546.70" stroke="#231f20" stroke-width="0.7"/>
<line x1="380.58" y1="545.20" x2="380.58" y2="546.70" stroke="#231f20" stroke-width="0.7"/>
<line x1="382.82" y1="545.20" x2="382.82" y2="546.70" stroke="#231f20" stroke-width="0.7"/>
<line x1="384.66" y1="545.20" x2="384.66" y2="546.70" stroke="#231f20" stroke-width="0.7"/>
<line x1="386.21" y1="545.20" x2="386.21" y2="546.70" stroke="#231f20" stroke-width="0.7"/>
<line x1="387.55" y1="545.20" x2="387.55" y2="546.70" stroke="#231f20" stroke-width="0.7"/>
<line x1="388.74" y1="545.20" x2="388.74" y2="546.70" stroke="#231f20" stroke-width="0.7"/>
<line x1="389.80" y1="545.20" x2="389.80" y2="547.80" stroke="#231f20" stroke-width="0.7"/>
<line x1="396.78" y1="545.20" x2="396.78" y2="546.70" stroke="#231f20" stroke-width="0.7"/>
<line x1="400.86" y1="545.20" x2="400.86" y2="546.70" stroke="#231f20" stroke-width="0.7"/>
<line x1="403.76" y1="545.20" x2="403.76" y2="546.70" stroke="#231f20" stroke-width="0.7"/>
<line x1="406.00" y1="545.20" x2="406.00" y2="546.70" stroke="#231f20" stroke-width="0.7"/>
<line x1="407.84" y1="545.20" x2="407.84" y2="546.70" stroke="#231f20" stroke-width="0.7"/>
<line x1="409.39" y1="545.20" x2="409.39" y2="546.70" stroke="#231f20" stroke-width="0.7"/>
<line x1="410.73" y1="545.20" x2="410.73" y2="546.70" stroke="#231f20" stroke-width="0.7"/>
<line x1="411.92" y1="545.20" x2="411.92" y2="546.70" stroke="#231f20" stroke-width="0.7"/>
<line x1="412.98" y1="545.20" x2="412.98" y2="547.80" stroke="#231f20" stroke-width="0.7"/>
<text x="267.03" y="556.80" font-size="10.2" fill="#231f20">10</text>
<text transform="translate(278.72 553.50) scale(0.8 1)" font-size="7.0" fill="#231f20">0</text>
<text x="290.34" y="556.80" font-size="10.2" fill="#231f20">10</text>
<text transform="translate(301.83 553.50) scale(0.8 1)" font-size="7.0" fill="#231f20">1</text>
<text x="313.45" y="556.80" font-size="10.2" fill="#231f20">10</text>
<text transform="translate(325.08 553.50) scale(0.8 1)" font-size="7.0" fill="#231f20">2</text>
<text x="336.58" y="556.80" font-size="10.2" fill="#231f20">10</text>
<text transform="translate(348.27 553.50) scale(0.8 1)" font-size="7.0" fill="#231f20">3</text>
<text x="359.68" y="556.80" font-size="10.2" fill="#231f20">10</text>
<text transform="translate(371.45 553.50) scale(0.8 1)" font-size="7.0" fill="#231f20">4</text>
<text x="382.93" y="556.80" font-size="10.2" fill="#231f20">10</text>
<text transform="translate(394.62 553.50) scale(0.8 1)" font-size="7.0" fill="#231f20">5</text>
<text x="406.15" y="556.80" font-size="10.2" fill="#231f20">10</text>
<text transform="translate(417.79 553.50) scale(0.8 1)" font-size="7.0" fill="#231f20">6</text>
<text x="308.93" y="568.40" font-size="10.9" text-anchor="start" fill="#231f20" font-weight="normal" font-style="normal" >Frequency (Hz)</text>
<text x="0" y="0" font-size="10.8" fill="#2f8c4e" text-anchor="middle" transform="translate(245.00 469.50) rotate(-90)">|Z| (&#937;)</text>
<text x="0" y="0" font-size="10.8" fill="#d6a13e" text-anchor="middle" transform="translate(449.50 469.00) rotate(-90)">Phase (&#176;)</text>
<path d="M300.3 513.4 L305 513.4" stroke="#6a7a40" stroke-width="1.1"/>
<clipPath id="lfh"><path d="M303.4 513 C302.8 505 303.5 499.5 308 497.6 C314 496 326 495.8 334 497 C346 500 358 508 367.6 514.5 C358 520 346 526 330 528.4 C320 529.5 310 528 306 525 C303 521 303.6 517 303.4 513 Z"/></clipPath>
<path d="M303.4 513 C302.8 505 303.5 499.5 308 497.6 C314 496 326 495.8 334 497 C346 500 358 508 367.6 514.5 C358 520 346 526 330 528.4 C320 529.5 310 528 306 525 C303 521 303.6 517 303.4 513 Z" fill="#345f36"/>
<g clip-path="url(#lfh)" fill="#d8dcc8" opacity="0.8"><circle cx="323.4" cy="501.0" r="0.59"/><circle cx="307.6" cy="513.7" r="0.46"/><circle cx="306.7" cy="512.7" r="0.32"/><circle cx="330.3" cy="498.3" r="0.34"/><circle cx="329.7" cy="523.3" r="0.36"/><circle cx="317.1" cy="516.7" r="0.73"/><circle cx="339.4" cy="509.1" r="0.74"/><circle cx="305.9" cy="524.3" r="0.43"/><circle cx="312.1" cy="499.9" r="0.44"/><circle cx="354.4" cy="502.0" r="0.56"/><circle cx="343.3" cy="508.3" r="0.55"/><circle cx="307.0" cy="498.0" r="0.39"/><circle cx="345.9" cy="510.1" r="0.44"/><circle cx="339.9" cy="511.0" r="0.43"/><circle cx="353.0" cy="519.1" r="0.41"/><circle cx="339.2" cy="513.3" r="0.69"/><circle cx="349.0" cy="505.5" r="0.74"/><circle cx="310.4" cy="509.8" r="0.64"/><circle cx="312.6" cy="512.1" r="0.32"/><circle cx="345.1" cy="521.2" r="0.56"/><circle cx="358.2" cy="506.4" r="0.61"/><circle cx="340.4" cy="515.1" r="0.51"/><circle cx="355.9" cy="527.2" r="0.51"/><circle cx="344.8" cy="498.0" r="0.62"/><circle cx="343.8" cy="528.8" r="0.67"/><circle cx="320.9" cy="508.7" r="0.60"/><circle cx="304.4" cy="511.2" r="0.38"/><circle cx="310.4" cy="497.9" r="0.65"/><circle cx="311.1" cy="504.2" r="0.48"/><circle cx="357.9" cy="498.7" r="0.50"/><circle cx="337.6" cy="525.2" r="0.67"/><circle cx="357.4" cy="505.2" r="0.49"/><circle cx="325.6" cy="525.2" r="0.73"/><circle cx="312.5" cy="501.8" r="0.40"/><circle cx="317.7" cy="512.0" r="0.57"/><circle cx="319.6" cy="496.1" r="0.49"/><circle cx="326.3" cy="514.7" r="0.73"/><circle cx="346.5" cy="513.0" r="0.58"/><circle cx="345.6" cy="497.8" r="0.70"/><circle cx="352.1" cy="524.9" r="0.66"/><circle cx="327.7" cy="509.2" r="0.35"/><circle cx="343.0" cy="498.1" r="0.33"/><circle cx="316.2" cy="501.4" r="0.45"/><circle cx="306.3" cy="496.0" r="0.37"/><circle cx="309.4" cy="508.0" r="0.31"/><circle cx="358.1" cy="516.3" r="0.37"/><circle cx="318.9" cy="507.5" r="0.46"/><circle cx="310.7" cy="524.0" r="0.75"/><circle cx="332.4" cy="512.0" r="0.34"/><circle cx="309.4" cy="507.3" r="0.42"/><circle cx="355.2" cy="501.3" r="0.31"/><circle cx="362.9" cy="513.4" r="0.37"/><circle cx="337.2" cy="496.9" r="0.54"/><circle cx="364.6" cy="524.5" r="0.61"/><circle cx="319.5" cy="508.1" r="0.38"/><circle cx="351.6" cy="513.6" r="0.65"/><circle cx="323.8" cy="503.4" r="0.67"/><circle cx="365.1" cy="524.1" r="0.66"/><circle cx="354.6" cy="520.4" r="0.40"/><circle cx="335.6" cy="507.7" r="0.31"/><circle cx="304.8" cy="505.2" r="0.42"/><circle cx="346.6" cy="527.6" r="0.50"/><circle cx="362.0" cy="528.6" r="0.73"/><circle cx="326.0" cy="503.3" r="0.40"/><circle cx="315.4" cy="502.7" r="0.58"/><circle cx="359.7" cy="523.7" r="0.52"/><circle cx="344.1" cy="522.4" r="0.34"/><circle cx="344.6" cy="526.0" r="0.65"/><circle cx="350.3" cy="511.8" r="0.38"/><circle cx="352.7" cy="507.0" r="0.66"/><circle cx="364.2" cy="509.1" r="0.48"/><circle cx="362.6" cy="519.9" r="0.38"/><circle cx="311.0" cy="501.0" r="0.71"/><circle cx="353.8" cy="500.8" r="0.67"/><circle cx="364.8" cy="517.7" r="0.46"/><circle cx="337.6" cy="500.3" r="0.31"/><circle cx="364.2" cy="517.4" r="0.54"/><circle cx="361.8" cy="510.3" r="0.69"/><circle cx="355.0" cy="503.0" r="0.41"/><circle cx="321.5" cy="503.9" r="0.56"/><circle cx="319.3" cy="509.8" r="0.36"/><circle cx="360.3" cy="507.7" r="0.51"/><circle cx="339.8" cy="525.8" r="0.49"/><circle cx="360.8" cy="512.6" r="0.54"/><circle cx="336.0" cy="496.6" r="0.50"/><circle cx="314.5" cy="496.1" r="0.66"/><circle cx="313.9" cy="511.6" r="0.63"/><circle cx="338.1" cy="506.8" r="0.53"/><circle cx="338.0" cy="521.9" r="0.35"/><circle cx="338.3" cy="504.2" r="0.42"/><circle cx="351.7" cy="512.8" r="0.55"/><circle cx="350.9" cy="526.1" r="0.50"/><circle cx="341.6" cy="512.7" r="0.53"/><circle cx="346.6" cy="510.9" r="0.54"/><circle cx="333.1" cy="527.1" r="0.61"/><circle cx="358.2" cy="527.1" r="0.42"/><circle cx="338.2" cy="527.1" r="0.68"/><circle cx="311.6" cy="500.0" r="0.50"/><circle cx="307.6" cy="503.9" r="0.33"/><circle cx="345.2" cy="521.9" r="0.70"/><circle cx="312.7" cy="519.6" r="0.60"/><circle cx="312.0" cy="525.1" r="0.74"/><circle cx="316.8" cy="527.4" r="0.48"/><circle cx="333.7" cy="528.7" r="0.67"/><circle cx="313.2" cy="510.2" r="0.53"/><circle cx="324.4" cy="502.5" r="0.44"/><circle cx="348.5" cy="496.6" r="0.55"/><circle cx="330.7" cy="496.6" r="0.45"/><circle cx="342.3" cy="512.9" r="0.33"/><circle cx="365.1" cy="522.0" r="0.74"/><circle cx="309.6" cy="504.8" r="0.32"/><circle cx="352.1" cy="504.9" r="0.36"/><circle cx="329.6" cy="526.1" r="0.67"/><circle cx="319.3" cy="500.9" r="0.71"/><circle cx="338.9" cy="519.1" r="0.34"/><circle cx="306.6" cy="518.7" r="0.49"/><circle cx="307.6" cy="527.0" r="0.59"/><circle cx="353.5" cy="498.8" r="0.69"/><circle cx="307.2" cy="524.5" r="0.50"/><circle cx="324.4" cy="514.3" r="0.72"/><circle cx="319.9" cy="500.3" r="0.54"/><circle cx="318.0" cy="499.6" r="0.37"/><circle cx="306.2" cy="502.7" r="0.44"/><circle cx="322.2" cy="521.1" r="0.43"/><circle cx="334.5" cy="501.9" r="0.46"/><circle cx="304.1" cy="504.3" r="0.31"/><circle cx="349.2" cy="514.2" r="0.39"/><circle cx="332.9" cy="526.8" r="0.35"/><circle cx="354.6" cy="510.3" r="0.52"/><circle cx="355.6" cy="509.0" r="0.53"/><circle cx="346.3" cy="528.4" r="0.45"/><circle cx="355.4" cy="519.3" r="0.59"/><circle cx="328.5" cy="507.5" r="0.32"/><circle cx="311.2" cy="498.3" r="0.63"/><circle cx="319.1" cy="501.4" r="0.34"/><circle cx="356.0" cy="524.7" r="0.60"/><circle cx="320.8" cy="504.0" r="0.43"/><circle cx="331.9" cy="501.2" r="0.50"/><circle cx="319.6" cy="527.7" r="0.74"/><circle cx="337.5" cy="504.1" r="0.73"/><circle cx="322.5" cy="507.8" r="0.30"/><circle cx="327.0" cy="511.7" r="0.53"/><circle cx="315.7" cy="512.7" r="0.30"/><circle cx="319.6" cy="499.0" r="0.48"/><circle cx="305.6" cy="496.7" r="0.44"/><circle cx="317.7" cy="515.3" r="0.54"/><circle cx="350.3" cy="517.7" r="0.62"/><circle cx="358.4" cy="508.9" r="0.45"/><circle cx="365.0" cy="500.9" r="0.63"/><circle cx="343.5" cy="497.4" r="0.68"/><circle cx="359.2" cy="516.7" r="0.63"/><circle cx="354.2" cy="500.6" r="0.54"/><circle cx="334.8" cy="523.6" r="0.66"/><circle cx="355.1" cy="515.3" r="0.70"/><circle cx="346.0" cy="518.9" r="0.40"/><circle cx="305.0" cy="500.4" r="0.46"/><circle cx="309.6" cy="523.6" r="0.55"/><circle cx="342.5" cy="516.7" r="0.61"/><circle cx="333.8" cy="496.1" r="0.66"/><circle cx="350.1" cy="512.6" r="0.54"/><circle cx="344.5" cy="498.2" r="0.63"/><circle cx="318.9" cy="498.5" r="0.42"/><circle cx="348.9" cy="502.8" r="0.63"/><circle cx="364.5" cy="512.3" r="0.47"/><circle cx="333.2" cy="518.6" r="0.65"/><circle cx="341.9" cy="517.2" r="0.33"/><circle cx="312.3" cy="504.4" r="0.63"/><circle cx="322.2" cy="514.7" r="0.31"/><circle cx="306.8" cy="504.9" r="0.60"/><circle cx="346.6" cy="518.3" r="0.43"/><circle cx="335.5" cy="511.3" r="0.51"/><circle cx="310.5" cy="525.5" r="0.39"/><circle cx="364.6" cy="526.9" r="0.31"/><circle cx="331.9" cy="523.1" r="0.74"/><circle cx="331.3" cy="504.9" r="0.39"/><circle cx="362.6" cy="503.0" r="0.56"/><circle cx="311.9" cy="513.3" r="0.73"/><circle cx="311.4" cy="523.1" r="0.53"/><circle cx="358.9" cy="519.2" r="0.40"/><circle cx="359.6" cy="512.0" r="0.31"/><circle cx="303.2" cy="512.2" r="0.50"/><circle cx="322.0" cy="500.6" r="0.45"/><circle cx="322.9" cy="523.7" r="0.30"/><circle cx="350.3" cy="523.7" r="0.35"/><circle cx="361.4" cy="519.5" r="0.71"/><circle cx="321.3" cy="508.3" r="0.48"/><circle cx="365.9" cy="515.4" r="0.46"/><circle cx="330.0" cy="505.1" r="0.32"/><circle cx="309.4" cy="523.5" r="0.43"/><circle cx="361.9" cy="504.2" r="0.42"/><circle cx="335.2" cy="502.3" r="0.47"/><circle cx="363.2" cy="525.2" r="0.67"/><circle cx="342.7" cy="526.1" r="0.72"/><circle cx="337.6" cy="519.7" r="0.32"/><circle cx="349.1" cy="510.9" r="0.64"/><circle cx="343.6" cy="505.4" r="0.32"/><circle cx="361.4" cy="500.2" r="0.51"/><circle cx="324.7" cy="505.8" r="0.63"/><circle cx="364.5" cy="504.6" r="0.60"/><circle cx="322.0" cy="514.4" r="0.48"/><circle cx="313.5" cy="501.3" r="0.39"/><circle cx="360.1" cy="512.4" r="0.40"/><circle cx="360.1" cy="528.9" r="0.50"/><circle cx="311.8" cy="502.3" r="0.34"/><circle cx="324.5" cy="499.0" r="0.41"/><circle cx="319.3" cy="514.8" r="0.70"/><circle cx="350.2" cy="509.6" r="0.49"/><circle cx="336.0" cy="508.4" r="0.45"/><circle cx="306.9" cy="505.2" r="0.74"/><circle cx="310.9" cy="512.6" r="0.58"/><circle cx="357.4" cy="503.1" r="0.42"/><circle cx="318.7" cy="509.2" r="0.50"/><circle cx="363.1" cy="524.0" r="0.69"/><circle cx="304.4" cy="497.1" r="0.62"/><circle cx="359.4" cy="511.6" r="0.56"/><circle cx="303.0" cy="508.9" r="0.72"/><circle cx="355.0" cy="524.2" r="0.74"/><circle cx="318.7" cy="499.6" r="0.37"/><circle cx="335.9" cy="518.5" r="0.72"/><circle cx="348.5" cy="517.4" r="0.64"/><circle cx="331.8" cy="514.2" r="0.32"/><circle cx="352.3" cy="503.7" r="0.71"/><circle cx="343.7" cy="506.0" r="0.36"/><circle cx="318.9" cy="517.0" r="0.61"/><circle cx="310.1" cy="498.3" r="0.54"/><circle cx="339.7" cy="508.8" r="0.40"/><circle cx="340.9" cy="496.3" r="0.44"/><circle cx="332.0" cy="527.6" r="0.59"/><circle cx="358.7" cy="511.7" r="0.41"/><circle cx="318.6" cy="527.7" r="0.62"/><circle cx="322.4" cy="496.7" r="0.52"/><circle cx="345.5" cy="509.9" r="0.42"/><circle cx="345.0" cy="526.5" r="0.40"/><circle cx="305.1" cy="507.2" r="0.49"/><circle cx="346.0" cy="502.5" r="0.66"/><circle cx="349.6" cy="512.7" r="0.39"/><circle cx="364.1" cy="506.3" r="0.67"/><circle cx="317.5" cy="503.3" r="0.64"/><circle cx="321.6" cy="527.4" r="0.52"/><circle cx="314.8" cy="503.4" r="0.49"/><circle cx="344.9" cy="527.3" r="0.37"/><circle cx="327.8" cy="503.0" r="0.74"/><circle cx="311.9" cy="497.7" r="0.33"/><circle cx="327.8" cy="525.6" r="0.70"/><circle cx="349.2" cy="528.9" r="0.72"/><circle cx="323.7" cy="502.1" r="0.72"/><circle cx="350.0" cy="497.1" r="0.60"/><circle cx="326.9" cy="508.3" r="0.45"/><circle cx="313.7" cy="496.1" r="0.43"/><circle cx="325.1" cy="527.5" r="0.36"/><circle cx="363.7" cy="502.8" r="0.46"/><circle cx="354.8" cy="523.1" r="0.49"/><circle cx="306.1" cy="511.6" r="0.47"/><circle cx="360.9" cy="502.4" r="0.46"/><circle cx="359.5" cy="497.0" r="0.48"/><circle cx="354.1" cy="521.3" r="0.32"/><circle cx="305.2" cy="498.1" r="0.71"/><circle cx="319.2" cy="520.7" r="0.70"/><circle cx="324.4" cy="505.0" r="0.73"/><circle cx="341.9" cy="504.7" r="0.62"/><circle cx="322.9" cy="505.1" r="0.30"/><circle cx="350.6" cy="526.2" r="0.59"/><circle cx="362.4" cy="496.8" r="0.41"/><circle cx="332.9" cy="527.6" r="0.73"/><circle cx="327.4" cy="504.3" r="0.49"/><circle cx="334.1" cy="526.6" r="0.38"/><circle cx="353.6" cy="520.4" r="0.67"/><circle cx="351.7" cy="516.0" r="0.45"/><circle cx="323.1" cy="507.9" r="0.65"/><circle cx="308.0" cy="502.5" r="0.64"/><circle cx="318.6" cy="498.1" r="0.32"/><circle cx="337.8" cy="506.8" r="0.74"/><circle cx="358.7" cy="528.6" r="0.42"/><circle cx="308.3" cy="499.2" r="0.52"/><circle cx="347.7" cy="510.7" r="0.41"/><circle cx="329.3" cy="516.5" r="0.60"/><circle cx="350.1" cy="524.0" r="0.60"/><circle cx="310.6" cy="523.7" r="0.43"/><circle cx="338.7" cy="508.3" r="0.63"/><circle cx="315.5" cy="504.2" r="0.41"/><circle cx="312.7" cy="525.2" r="0.56"/><circle cx="323.6" cy="509.1" r="0.75"/><circle cx="335.0" cy="503.6" r="0.66"/><circle cx="344.2" cy="528.7" r="0.35"/><circle cx="332.9" cy="523.0" r="0.68"/><circle cx="360.6" cy="497.3" r="0.43"/><circle cx="310.5" cy="502.3" r="0.74"/><circle cx="339.7" cy="526.7" r="0.47"/><circle cx="357.6" cy="510.8" r="0.42"/><circle cx="352.0" cy="527.2" r="0.35"/><circle cx="340.6" cy="516.5" r="0.40"/><circle cx="326.2" cy="500.7" r="0.39"/><circle cx="319.1" cy="515.8" r="0.59"/><circle cx="315.8" cy="496.4" r="0.45"/><circle cx="345.7" cy="502.1" r="0.44"/><circle cx="315.8" cy="522.2" r="0.55"/><circle cx="307.0" cy="499.3" r="0.48"/><circle cx="337.7" cy="517.1" r="0.34"/><circle cx="313.3" cy="518.9" r="0.48"/><circle cx="320.8" cy="506.2" r="0.73"/><circle cx="322.7" cy="514.7" r="0.46"/><circle cx="329.2" cy="524.5" r="0.75"/><circle cx="325.9" cy="502.5" r="0.63"/><circle cx="315.8" cy="496.2" r="0.71"/><circle cx="329.7" cy="523.1" r="0.48"/><circle cx="358.6" cy="511.2" r="0.37"/><circle cx="303.9" cy="514.2" r="0.59"/><circle cx="360.3" cy="498.9" r="0.58"/><circle cx="326.4" cy="512.6" r="0.37"/><circle cx="320.8" cy="513.2" r="0.72"/><circle cx="309.9" cy="512.2" r="0.66"/><circle cx="363.9" cy="502.5" r="0.36"/><circle cx="362.4" cy="528.2" r="0.52"/><circle cx="306.4" cy="526.6" r="0.47"/><circle cx="360.0" cy="516.5" r="0.67"/><circle cx="313.1" cy="521.9" r="0.40"/><circle cx="328.5" cy="523.9" r="0.67"/><circle cx="314.5" cy="503.2" r="0.48"/><circle cx="335.6" cy="508.7" r="0.36"/><circle cx="318.6" cy="519.9" r="0.70"/><circle cx="305.6" cy="514.6" r="0.64"/><circle cx="305.4" cy="523.7" r="0.35"/><circle cx="340.8" cy="514.2" r="0.58"/><circle cx="322.3" cy="509.9" r="0.56"/><circle cx="329.8" cy="517.7" r="0.50"/><circle cx="330.6" cy="496.8" r="0.58"/><circle cx="333.8" cy="503.8" r="0.64"/><circle cx="352.1" cy="511.1" r="0.38"/><circle cx="332.8" cy="499.5" r="0.36"/><circle cx="330.1" cy="499.0" r="0.50"/><circle cx="335.1" cy="497.3" r="0.59"/><circle cx="308.2" cy="520.2" r="0.65"/><circle cx="335.2" cy="497.8" r="0.53"/><circle cx="326.8" cy="527.4" r="0.36"/><circle cx="357.0" cy="528.9" r="0.63"/><circle cx="354.3" cy="502.4" r="0.74"/><circle cx="334.0" cy="527.6" r="0.71"/><circle cx="313.4" cy="522.0" r="0.72"/><circle cx="307.1" cy="507.6" r="0.64"/><circle cx="313.0" cy="525.6" r="0.42"/><circle cx="354.4" cy="500.7" r="0.53"/><circle cx="361.0" cy="502.9" r="0.42"/><circle cx="334.9" cy="506.5" r="0.32"/><circle cx="314.5" cy="501.3" r="0.72"/><circle cx="345.8" cy="525.5" r="0.38"/><circle cx="352.4" cy="499.8" r="0.54"/><circle cx="343.1" cy="507.9" r="0.69"/><circle cx="338.0" cy="515.1" r="0.70"/><circle cx="309.6" cy="528.8" r="0.58"/><circle cx="327.8" cy="522.3" r="0.42"/><circle cx="365.4" cy="515.1" r="0.46"/><circle cx="351.2" cy="510.6" r="0.38"/><circle cx="349.8" cy="497.6" r="0.67"/><circle cx="319.0" cy="517.1" r="0.74"/><circle cx="339.9" cy="517.9" r="0.44"/><circle cx="303.1" cy="497.1" r="0.37"/><circle cx="341.8" cy="510.3" r="0.53"/><circle cx="359.4" cy="500.4" r="0.40"/><circle cx="344.1" cy="496.7" r="0.30"/><circle cx="325.4" cy="499.5" r="0.46"/><circle cx="317.1" cy="515.3" r="0.57"/><circle cx="315.9" cy="516.6" r="0.51"/><circle cx="311.5" cy="526.9" r="0.41"/><circle cx="312.4" cy="499.2" r="0.59"/><circle cx="357.9" cy="521.8" r="0.48"/><circle cx="319.6" cy="496.4" r="0.59"/><circle cx="338.4" cy="507.6" r="0.59"/><circle cx="331.0" cy="526.9" r="0.63"/><circle cx="318.7" cy="525.8" r="0.32"/><circle cx="336.5" cy="509.4" r="0.41"/><circle cx="306.7" cy="521.7" r="0.31"/><circle cx="337.7" cy="527.1" r="0.36"/><circle cx="315.6" cy="516.1" r="0.53"/><circle cx="343.4" cy="522.8" r="0.38"/><circle cx="322.5" cy="505.9" r="0.32"/><circle cx="359.0" cy="521.8" r="0.62"/><circle cx="303.4" cy="523.9" r="0.64"/><circle cx="332.3" cy="520.5" r="0.50"/><circle cx="317.2" cy="499.5" r="0.40"/><circle cx="305.4" cy="507.1" r="0.64"/><circle cx="346.8" cy="523.9" r="0.62"/><circle cx="319.8" cy="514.3" r="0.50"/><circle cx="352.7" cy="513.3" r="0.42"/><circle cx="343.4" cy="527.8" r="0.40"/><circle cx="358.4" cy="496.5" r="0.42"/><circle cx="317.9" cy="520.5" r="0.73"/><circle cx="350.0" cy="506.8" r="0.70"/><circle cx="323.7" cy="503.9" r="0.71"/><circle cx="342.7" cy="518.9" r="0.60"/><circle cx="364.7" cy="511.5" r="0.68"/><circle cx="346.9" cy="524.3" r="0.50"/><circle cx="348.7" cy="514.8" r="0.44"/><circle cx="316.4" cy="516.5" r="0.34"/><circle cx="360.4" cy="500.8" r="0.31"/><circle cx="309.7" cy="526.7" r="0.46"/><circle cx="311.9" cy="496.9" r="0.32"/><circle cx="346.6" cy="516.9" r="0.61"/><circle cx="349.4" cy="498.2" r="0.57"/><circle cx="325.9" cy="523.0" r="0.67"/><circle cx="359.2" cy="498.2" r="0.69"/><circle cx="360.6" cy="527.2" r="0.35"/><circle cx="316.0" cy="499.7" r="0.32"/><circle cx="356.4" cy="522.8" r="0.59"/><circle cx="355.0" cy="516.8" r="0.43"/><circle cx="309.3" cy="499.2" r="0.64"/><circle cx="315.9" cy="506.5" r="0.49"/><circle cx="304.3" cy="504.5" r="0.43"/><circle cx="348.1" cy="508.1" r="0.44"/><circle cx="363.7" cy="512.6" r="0.68"/><circle cx="342.0" cy="497.0" r="0.49"/><circle cx="330.5" cy="521.5" r="0.46"/><circle cx="347.4" cy="513.8" r="0.40"/><circle cx="357.3" cy="499.0" r="0.67"/><circle cx="313.7" cy="496.0" r="0.39"/><circle cx="351.0" cy="528.3" r="0.30"/><circle cx="333.9" cy="512.2" r="0.66"/><circle cx="314.6" cy="512.3" r="0.46"/><circle cx="355.4" cy="504.6" r="0.72"/><circle cx="320.9" cy="503.1" r="0.61"/><circle cx="334.4" cy="499.6" r="0.59"/><circle cx="308.1" cy="522.0" r="0.61"/><circle cx="352.6" cy="516.7" r="0.46"/><circle cx="328.3" cy="509.0" r="0.70"/><circle cx="308.4" cy="525.3" r="0.31"/><circle cx="316.0" cy="504.7" r="0.71"/><circle cx="334.6" cy="508.5" r="0.70"/><circle cx="317.7" cy="511.2" r="0.54"/><circle cx="350.5" cy="520.8" r="0.59"/><circle cx="325.0" cy="506.8" r="0.37"/><circle cx="356.1" cy="517.8" r="0.63"/><circle cx="313.7" cy="510.5" r="0.65"/><circle cx="339.5" cy="500.2" r="0.51"/><circle cx="358.8" cy="503.9" r="0.39"/><circle cx="322.0" cy="519.2" r="0.68"/><circle cx="312.7" cy="501.1" r="0.41"/><circle cx="323.6" cy="513.2" r="0.37"/><circle cx="323.7" cy="502.2" r="0.74"/><circle cx="348.9" cy="499.4" r="0.73"/><circle cx="309.4" cy="508.7" r="0.74"/><circle cx="353.1" cy="520.2" r="0.50"/><circle cx="315.4" cy="517.1" r="0.35"/><circle cx="316.0" cy="508.8" r="0.32"/><circle cx="328.1" cy="522.1" r="0.61"/><circle cx="334.5" cy="516.9" r="0.51"/><circle cx="311.9" cy="515.9" r="0.48"/><circle cx="349.7" cy="526.0" r="0.49"/><circle cx="339.2" cy="520.7" r="0.49"/><circle cx="317.4" cy="519.8" r="0.70"/><circle cx="351.8" cy="519.1" r="0.68"/><circle cx="345.8" cy="517.2" r="0.50"/><circle cx="322.7" cy="516.7" r="0.34"/><circle cx="329.4" cy="521.8" r="0.62"/><circle cx="342.7" cy="504.3" r="0.49"/><circle cx="331.7" cy="516.5" r="0.48"/><circle cx="345.5" cy="526.7" r="0.38"/><circle cx="344.2" cy="521.7" r="0.47"/><circle cx="333.9" cy="528.2" r="0.32"/><circle cx="337.2" cy="501.3" r="0.65"/><circle cx="362.3" cy="513.1" r="0.35"/><circle cx="339.2" cy="513.9" r="0.62"/><circle cx="335.3" cy="517.1" r="0.67"/><circle cx="335.9" cy="509.5" r="0.73"/><circle cx="316.2" cy="518.6" r="0.48"/><circle cx="351.1" cy="500.0" r="0.74"/><circle cx="325.4" cy="497.9" r="0.42"/><circle cx="328.2" cy="496.4" r="0.49"/><circle cx="329.5" cy="519.0" r="0.46"/><circle cx="319.7" cy="503.4" r="0.63"/><circle cx="362.2" cy="513.4" r="0.40"/><circle cx="353.5" cy="508.9" r="0.40"/><circle cx="311.1" cy="521.6" r="0.66"/><circle cx="343.0" cy="511.5" r="0.55"/><circle cx="317.2" cy="527.8" r="0.46"/><circle cx="343.2" cy="523.0" r="0.67"/><circle cx="332.5" cy="505.7" r="0.55"/><circle cx="310.9" cy="523.5" r="0.46"/><circle cx="356.6" cy="504.8" r="0.47"/><circle cx="319.0" cy="510.1" r="0.38"/><circle cx="303.2" cy="519.8" r="0.43"/><circle cx="318.4" cy="506.0" r="0.52"/></g>
<circle cx="328.3" cy="506.4" r="4.2" fill="#c4c4c8" opacity="0.7"/><circle cx="341.7" cy="506.4" r="3.8" fill="#c4c4c8" opacity="0.65"/>
<text x="273.28" y="541.20" font-size="10.8" text-anchor="start" fill="#231f20" font-weight="normal" font-style="italic" >Hypoestes phyllostachya</text>
<path d="M274.2 525.5L274.4 525.6L274.7 525.7L275.0 525.8L275.3 526.0L275.7 526.1L276.0 526.2L276.5 526.3L276.9 526.4L277.3 526.4L277.7 526.3L278.1 526.2L278.5 526.0L278.9 525.8L279.4 525.5L279.8 525.3L280.3 524.9L280.8 524.5L281.3 524.1L281.8 523.6L282.4 523.1L283.0 522.5L283.7 521.8L284.3 521.1L285.0 520.3L285.8 519.5L286.5 518.6L287.2 517.7L288.0 516.8L288.7 515.9L289.4 515.0L290.1 514.1L290.8 513.2L291.5 512.2L292.2 511.3L292.9 510.3L293.6 509.3L294.3 508.3L295.0 507.2L295.7 506.1L296.4 505.0L297.1 503.8L297.8 502.6L298.5 501.3L299.3 500.0L300.0 498.6L300.7 497.3L301.4 496.0L302.1 494.7L302.7 493.4L303.4 492.2L304.0 491.1L304.6 490.0L305.2 488.9L305.8 487.8L306.4 486.8L306.9 485.8L307.5 484.8L308.1 483.8L308.6 482.7L309.2 481.7L309.8 480.6L310.4 479.6L311.0 478.5L311.6 477.4L312.2 476.4L312.8 475.3L313.4 474.3L314.0 473.3L314.6 472.3L315.1 471.3L315.6 470.4L316.2 469.5L316.7 468.6L317.2 467.7L317.6 466.8L318.1 466.0L318.6 465.2L319.1 464.4L319.5 463.6L320.0 462.8L320.4 462.0L320.9 461.3L321.3 460.5L321.7 459.8L322.1 459.1L322.5 458.4L322.9 457.8L323.4 457.1L323.9 456.5L324.4 455.9L325.0 455.3L325.6 454.8L326.3 454.2L327.0 453.7L327.7 453.2L328.4 452.8L329.1 452.3L329.9 451.9L330.6 451.5L331.4 451.2L332.2 450.9L333.0 450.6L333.8 450.4L334.6 450.1L335.5 450.0L336.3 449.8L337.2 449.7L338.0 449.6L338.8 449.5L339.6 449.5L340.4 449.5L341.1 449.5L341.9 449.6L342.6 449.7L343.3 449.8L344.0 450.0L344.7 450.2L345.5 450.5L346.2 450.8L347.0 451.1L347.8 451.5L348.6 451.9L349.4 452.4L350.2 452.9L351.0 453.5L351.9 454.1L352.7 454.7L353.5 455.4L354.4 456.1L355.2 456.9L356.0 457.7L356.9 458.7L357.7 459.7L358.5 460.7L359.4 461.8L360.2 462.9L361.0 464.0L361.8 465.0L362.6 466.0L363.4 466.9L364.1 467.7L364.8 468.5L365.5 469.3L366.2 470.1L366.8 470.8L367.5 471.5L368.2 472.1L368.9 472.7L369.6 473.3L370.4 473.9L371.2 474.5L372.1 475.0L373.0 475.5L373.9 476.0L374.8 476.5L375.8 476.9L376.7 477.3L377.7 477.6L378.7 477.8L379.7 478.0L380.7 478.1L381.8 478.1L382.8 478.0L383.9 477.9L385.0 477.7L386.1 477.4L387.2 477.2L388.2 476.9L389.2 476.5L390.2 476.2L391.1 475.8L392.0 475.4L392.9 475.0L393.7 474.5L394.5 474.0L395.3 473.4L396.1 472.8L396.9 472.2L397.6 471.6L398.4 471.0L399.1 470.3L399.9 469.6L400.6 468.9L401.3 468.1L402.0 467.3L402.7 466.5L403.3 465.7L404.0 464.9L404.7 464.1L405.4 463.4L406.1 462.7L406.9 461.9L407.7 461.2L408.5 460.4L409.3 459.7L410.1 459.0L410.8 458.3L411.4 457.8L412.0 457.3L412.4 456.9" fill="none" stroke="#d6a13e" stroke-width="0.9" stroke-linejoin="round"/>
<path d="M274.2 525.5h0M276.4 526.3h0M278.6 526.0h0M280.7 524.6h0M282.7 522.8h0M284.7 520.7h0M286.7 518.4h0M288.6 516.0h0M290.5 513.5h0M292.4 510.9h0M294.3 508.2h0M296.2 505.3h0M298.0 502.2h0M299.8 498.9h0M301.6 495.5h0M303.4 492.1h0M305.2 488.9h0M307.0 485.6h0M308.9 482.3h0M310.7 479.1h0M312.5 475.9h0M314.3 472.7h0M316.1 469.5h0M318.0 466.3h0M319.8 463.2h0M321.6 459.9h0M323.5 457.0h0M325.4 454.9h0M327.5 453.3h0M329.6 452.1h0M331.8 451.1h0M334.0 450.3h0M336.2 449.8h0M338.4 449.5h0M340.7 449.5h0M343.0 449.8h0M345.2 450.4h0M347.4 451.3h0M349.5 452.5h0M351.6 453.9h0M353.6 455.5h0M355.7 457.4h0M357.6 459.6h0M359.6 462.1h0M361.5 464.6h0M363.4 466.9h0M365.4 469.2h0M367.4 471.3h0M369.4 473.1h0M371.5 474.6h0M373.6 475.9h0M375.7 476.9h0M377.9 477.6h0M380.2 478.0h0M382.4 478.0h0M384.7 477.7h0M386.9 477.2h0M389.1 476.6h0M391.3 475.7h0M393.4 474.6h0M395.5 473.3h0M397.6 471.7h0M399.6 469.9h0M401.6 467.7h0M403.6 465.4h0M405.5 463.3h0M407.5 461.3h0M409.6 459.5h0M411.6 457.6h0" stroke="#d6a13e" stroke-width="1.70" stroke-linecap="round" fill="none"/>
<path d="M274.2 423.2L275.1 424.3L276.3 425.7L277.6 427.4L279.2 429.3L280.9 431.3L282.6 433.4L284.4 435.5L286.1 437.5L287.8 439.5L289.4 441.3L290.9 443.0L292.5 444.7L294.1 446.3L295.7 448.0L297.2 449.6L298.8 451.2L300.3 452.7L301.8 454.2L303.2 455.6L304.5 457.0L305.7 458.3L306.9 459.5L308.0 460.6L309.0 461.7L310.0 462.8L311.0 463.8L312.0 464.8L313.0 465.7L314.0 466.7L315.1 467.6L316.2 468.5L317.3 469.4L318.5 470.2L319.6 470.9L320.7 471.7L321.9 472.5L323.1 473.2L324.3 474.0L325.5 474.8L326.7 475.7L328.0 476.6L329.3 477.6L330.6 478.6L332.0 479.6L333.3 480.7L334.7 481.7L336.1 482.7L337.4 483.7L338.7 484.6L340.0 485.5L341.2 486.3L342.4 487.1L343.6 487.8L344.8 488.4L346.0 489.1L347.1 489.7L348.2 490.4L349.4 491.1L350.5 491.8L351.7 492.6L352.9 493.4L354.0 494.3L355.2 495.2L356.4 496.1L357.6 497.0L358.7 498.0L359.9 499.0L361.1 499.9L362.2 500.9L363.4 501.9L364.6 502.9L365.8 504.0L367.0 505.1L368.2 506.2L369.4 507.3L370.6 508.4L371.8 509.4L372.9 510.5L374.0 511.5L375.0 512.4L375.9 513.2L376.7 514.0L377.4 514.6L378.0 515.2L378.7 515.8L379.3 516.5L380.1 517.2L380.9 518.0L382.0 518.9L383.2 520.0L384.7 521.3L386.4 522.8L388.3 524.5L390.3 526.3L392.4 528.1L394.5 530.0L396.5 531.8L398.5 533.4L400.2 535.0L401.8 536.3L403.2 537.5L404.5 538.5L405.8 539.5L407.0 540.4L408.1 541.3L409.1 542.0L410.0 542.7L410.7 543.3L411.4 543.8L412.0 544.2" fill="none" stroke="#2f8c4e" stroke-width="0.9" stroke-linejoin="round"/>
<path d="M274.2 423.2h0M276.1 425.6h0M278.1 427.9h0M280.0 430.3h0M282.0 432.6h0M283.9 435.0h0M285.9 437.3h0M287.8 439.5h0M289.8 441.8h0M291.8 443.9h0M293.8 446.0h0M295.8 448.1h0M297.8 450.1h0M299.8 452.2h0M301.7 454.2h0M303.7 456.2h0M305.7 458.3h0M307.7 460.4h0M309.7 462.5h0M311.7 464.5h0M313.7 466.4h0M315.8 468.1h0M317.8 469.7h0M319.9 471.2h0M322.0 472.5h0M324.1 473.9h0M326.2 475.3h0M328.3 476.8h0M330.3 478.4h0M332.4 479.9h0M334.5 481.5h0M336.5 483.0h0M338.6 484.5h0M340.7 486.0h0M342.8 487.3h0M344.9 488.5h0M347.0 489.7h0M349.1 490.9h0M351.2 492.3h0M353.3 493.8h0M355.4 495.3h0M357.4 496.9h0M359.5 498.6h0M361.5 500.3h0M363.6 502.0h0M365.6 503.8h0M367.6 505.6h0M369.7 507.5h0M371.7 509.3h0M373.7 511.2h0M375.7 513.1h0M377.7 515.0h0M379.8 516.9h0M381.8 518.7h0M383.8 520.5h0M385.8 522.3h0M387.9 524.1h0M389.9 525.9h0M391.9 527.7h0M394.0 529.5h0M396.0 531.3h0M398.0 533.1h0M400.1 534.8h0M402.1 536.5h0M404.1 538.2h0M406.2 539.8h0M408.3 541.4h0M410.3 543.0h0" stroke="#2f8c4e" stroke-width="1.70" stroke-linecap="round" fill="none"/>
<line x1="498.30" y1="407.50" x2="649.60" y2="407.50" stroke="#2a2627" stroke-width="1.15"/>
<line x1="498.30" y1="545.20" x2="649.60" y2="545.20" stroke="#3a3738" stroke-width="1.5"/>
<line x1="498.30" y1="407.10" x2="498.30" y2="545.70" stroke="#4e9e66" stroke-width="1.2"/>
<line x1="649.60" y1="407.10" x2="649.60" y2="545.70" stroke="#d9ad4e" stroke-width="1.2"/>
<line x1="498.30" y1="541.65" x2="496.80" y2="541.65" stroke="#2f8c4e" stroke-width="0.7"/>
<line x1="498.30" y1="535.76" x2="496.80" y2="535.76" stroke="#2f8c4e" stroke-width="0.7"/>
<line x1="498.30" y1="531.59" x2="496.80" y2="531.59" stroke="#2f8c4e" stroke-width="0.7"/>
<line x1="498.30" y1="528.35" x2="496.80" y2="528.35" stroke="#2f8c4e" stroke-width="0.7"/>
<line x1="498.30" y1="525.71" x2="496.80" y2="525.71" stroke="#2f8c4e" stroke-width="0.7"/>
<line x1="498.30" y1="523.47" x2="496.80" y2="523.47" stroke="#2f8c4e" stroke-width="0.7"/>
<line x1="498.30" y1="521.54" x2="496.80" y2="521.54" stroke="#2f8c4e" stroke-width="0.7"/>
<line x1="498.30" y1="519.83" x2="496.80" y2="519.83" stroke="#2f8c4e" stroke-width="0.7"/>
<line x1="498.30" y1="518.30" x2="495.50" y2="518.30" stroke="#2f8c4e" stroke-width="0.7"/>
<line x1="498.30" y1="508.25" x2="496.80" y2="508.25" stroke="#2f8c4e" stroke-width="0.7"/>
<line x1="498.30" y1="502.36" x2="496.80" y2="502.36" stroke="#2f8c4e" stroke-width="0.7"/>
<line x1="498.30" y1="498.19" x2="496.80" y2="498.19" stroke="#2f8c4e" stroke-width="0.7"/>
<line x1="498.30" y1="494.95" x2="496.80" y2="494.95" stroke="#2f8c4e" stroke-width="0.7"/>
<line x1="498.30" y1="492.31" x2="496.80" y2="492.31" stroke="#2f8c4e" stroke-width="0.7"/>
<line x1="498.30" y1="490.07" x2="496.80" y2="490.07" stroke="#2f8c4e" stroke-width="0.7"/>
<line x1="498.30" y1="488.14" x2="496.80" y2="488.14" stroke="#2f8c4e" stroke-width="0.7"/>
<line x1="498.30" y1="486.43" x2="496.80" y2="486.43" stroke="#2f8c4e" stroke-width="0.7"/>
<line x1="498.30" y1="484.90" x2="495.50" y2="484.90" stroke="#2f8c4e" stroke-width="0.7"/>
<line x1="498.30" y1="474.85" x2="496.80" y2="474.85" stroke="#2f8c4e" stroke-width="0.7"/>
<line x1="498.30" y1="468.96" x2="496.80" y2="468.96" stroke="#2f8c4e" stroke-width="0.7"/>
<line x1="498.30" y1="464.79" x2="496.80" y2="464.79" stroke="#2f8c4e" stroke-width="0.7"/>
<line x1="498.30" y1="461.55" x2="496.80" y2="461.55" stroke="#2f8c4e" stroke-width="0.7"/>
<line x1="498.30" y1="458.91" x2="496.80" y2="458.91" stroke="#2f8c4e" stroke-width="0.7"/>
<line x1="498.30" y1="456.67" x2="496.80" y2="456.67" stroke="#2f8c4e" stroke-width="0.7"/>
<line x1="498.30" y1="454.74" x2="496.80" y2="454.74" stroke="#2f8c4e" stroke-width="0.7"/>
<line x1="498.30" y1="453.03" x2="496.80" y2="453.03" stroke="#2f8c4e" stroke-width="0.7"/>
<line x1="498.30" y1="451.50" x2="495.50" y2="451.50" stroke="#2f8c4e" stroke-width="0.7"/>
<line x1="498.30" y1="441.45" x2="496.80" y2="441.45" stroke="#2f8c4e" stroke-width="0.7"/>
<line x1="498.30" y1="435.56" x2="496.80" y2="435.56" stroke="#2f8c4e" stroke-width="0.7"/>
<line x1="498.30" y1="431.39" x2="496.80" y2="431.39" stroke="#2f8c4e" stroke-width="0.7"/>
<line x1="498.30" y1="428.15" x2="496.80" y2="428.15" stroke="#2f8c4e" stroke-width="0.7"/>
<line x1="498.30" y1="425.51" x2="496.80" y2="425.51" stroke="#2f8c4e" stroke-width="0.7"/>
<line x1="498.30" y1="423.27" x2="496.80" y2="423.27" stroke="#2f8c4e" stroke-width="0.7"/>
<line x1="498.30" y1="421.34" x2="496.80" y2="421.34" stroke="#2f8c4e" stroke-width="0.7"/>
<line x1="498.30" y1="419.63" x2="496.80" y2="419.63" stroke="#2f8c4e" stroke-width="0.7"/>
<line x1="498.30" y1="418.10" x2="495.50" y2="418.10" stroke="#2f8c4e" stroke-width="0.7"/>
<text x="480.36" y="421.80" font-size="10.8" fill="#2f8c4e">10</text>
<text x="492.52" y="417.60" font-size="5.9" fill="#2f8c4e">7</text>
<text x="480.33" y="455.30" font-size="10.8" fill="#2f8c4e">10</text>
<text x="492.49" y="451.10" font-size="5.9" fill="#2f8c4e">6</text>
<text x="480.24" y="488.90" font-size="10.8" fill="#2f8c4e">10</text>
<text x="492.46" y="484.70" font-size="5.9" fill="#2f8c4e">5</text>
<text x="480.09" y="522.00" font-size="10.8" fill="#2f8c4e">10</text>
<text x="492.40" y="517.80" font-size="5.9" fill="#2f8c4e">4</text>
<line x1="649.60" y1="408.30" x2="651.10" y2="408.30" stroke="#d6a13e" stroke-width="0.7"/>
<line x1="649.60" y1="427.70" x2="652.20" y2="427.70" stroke="#d6a13e" stroke-width="0.7"/>
<line x1="649.60" y1="447.10" x2="651.10" y2="447.10" stroke="#d6a13e" stroke-width="0.7"/>
<line x1="649.60" y1="466.50" x2="652.20" y2="466.50" stroke="#d6a13e" stroke-width="0.7"/>
<line x1="649.60" y1="485.90" x2="651.10" y2="485.90" stroke="#d6a13e" stroke-width="0.7"/>
<line x1="649.60" y1="505.30" x2="652.20" y2="505.30" stroke="#d6a13e" stroke-width="0.7"/>
<line x1="649.60" y1="524.70" x2="651.10" y2="524.70" stroke="#d6a13e" stroke-width="0.7"/>
<line x1="649.60" y1="544.10" x2="652.20" y2="544.10" stroke="#d6a13e" stroke-width="0.7"/>
<text x="652.82" y="412.00" font-size="10.6" text-anchor="start" fill="#d6a13e" font-weight="normal" font-style="normal" >-10</text>
<text x="652.82" y="450.80" font-size="10.6" text-anchor="start" fill="#d6a13e" font-weight="normal" font-style="normal" >-30</text>
<text x="652.82" y="489.60" font-size="10.6" text-anchor="start" fill="#d6a13e" font-weight="normal" font-style="normal" >-50</text>
<text x="652.82" y="528.40" font-size="10.6" text-anchor="start" fill="#d6a13e" font-weight="normal" font-style="normal" >-70</text>
<line x1="499.25" y1="545.20" x2="499.25" y2="546.70" stroke="#231f20" stroke-width="0.7"/>
<line x1="500.80" y1="545.20" x2="500.80" y2="546.70" stroke="#231f20" stroke-width="0.7"/>
<line x1="502.15" y1="545.20" x2="502.15" y2="546.70" stroke="#231f20" stroke-width="0.7"/>
<line x1="503.34" y1="545.20" x2="503.34" y2="546.70" stroke="#231f20" stroke-width="0.7"/>
<line x1="504.40" y1="545.20" x2="504.40" y2="547.80" stroke="#231f20" stroke-width="0.7"/>
<line x1="511.39" y1="545.20" x2="511.39" y2="546.70" stroke="#231f20" stroke-width="0.7"/>
<line x1="515.48" y1="545.20" x2="515.48" y2="546.70" stroke="#231f20" stroke-width="0.7"/>
<line x1="518.39" y1="545.20" x2="518.39" y2="546.70" stroke="#231f20" stroke-width="0.7"/>
<line x1="520.64" y1="545.20" x2="520.64" y2="546.70" stroke="#231f20" stroke-width="0.7"/>
<line x1="522.48" y1="545.20" x2="522.48" y2="546.70" stroke="#231f20" stroke-width="0.7"/>
<line x1="524.03" y1="545.20" x2="524.03" y2="546.70" stroke="#231f20" stroke-width="0.7"/>
<line x1="525.38" y1="545.20" x2="525.38" y2="546.70" stroke="#231f20" stroke-width="0.7"/>
<line x1="526.57" y1="545.20" x2="526.57" y2="546.70" stroke="#231f20" stroke-width="0.7"/>
<line x1="527.63" y1="545.20" x2="527.63" y2="547.80" stroke="#231f20" stroke-width="0.7"/>
<line x1="534.62" y1="545.20" x2="534.62" y2="546.70" stroke="#231f20" stroke-width="0.7"/>
<line x1="538.71" y1="545.20" x2="538.71" y2="546.70" stroke="#231f20" stroke-width="0.7"/>
<line x1="541.62" y1="545.20" x2="541.62" y2="546.70" stroke="#231f20" stroke-width="0.7"/>
<line x1="543.87" y1="545.20" x2="543.87" y2="546.70" stroke="#231f20" stroke-width="0.7"/>
<line x1="545.71" y1="545.20" x2="545.71" y2="546.70" stroke="#231f20" stroke-width="0.7"/>
<line x1="547.26" y1="545.20" x2="547.26" y2="546.70" stroke="#231f20" stroke-width="0.7"/>
<line x1="548.61" y1="545.20" x2="548.61" y2="546.70" stroke="#231f20" stroke-width="0.7"/>
<line x1="549.80" y1="545.20" x2="549.80" y2="546.70" stroke="#231f20" stroke-width="0.7"/>
<line x1="550.86" y1="545.20" x2="550.86" y2="547.80" stroke="#231f20" stroke-width="0.7"/>
<line x1="557.85" y1="545.20" x2="557.85" y2="546.70" stroke="#231f20" stroke-width="0.7"/>
<line x1="561.94" y1="545.20" x2="561.94" y2="546.70" stroke="#231f20" stroke-width="0.7"/>
<line x1="564.85" y1="545.20" x2="564.85" y2="546.70" stroke="#231f20" stroke-width="0.7"/>
<line x1="567.10" y1="545.20" x2="567.10" y2="546.70" stroke="#231f20" stroke-width="0.7"/>
<line x1="568.94" y1="545.20" x2="568.94" y2="546.70" stroke="#231f20" stroke-width="0.7"/>
<line x1="570.49" y1="545.20" x2="570.49" y2="546.70" stroke="#231f20" stroke-width="0.7"/>
<line x1="571.84" y1="545.20" x2="571.84" y2="546.70" stroke="#231f20" stroke-width="0.7"/>
<line x1="573.03" y1="545.20" x2="573.03" y2="546.70" stroke="#231f20" stroke-width="0.7"/>
<line x1="574.09" y1="545.20" x2="574.09" y2="547.80" stroke="#231f20" stroke-width="0.7"/>
<line x1="581.08" y1="545.20" x2="581.08" y2="546.70" stroke="#231f20" stroke-width="0.7"/>
<line x1="585.17" y1="545.20" x2="585.17" y2="546.70" stroke="#231f20" stroke-width="0.7"/>
<line x1="588.08" y1="545.20" x2="588.08" y2="546.70" stroke="#231f20" stroke-width="0.7"/>
<line x1="590.33" y1="545.20" x2="590.33" y2="546.70" stroke="#231f20" stroke-width="0.7"/>
<line x1="592.17" y1="545.20" x2="592.17" y2="546.70" stroke="#231f20" stroke-width="0.7"/>
<line x1="593.72" y1="545.20" x2="593.72" y2="546.70" stroke="#231f20" stroke-width="0.7"/>
<line x1="595.07" y1="545.20" x2="595.07" y2="546.70" stroke="#231f20" stroke-width="0.7"/>
<line x1="596.26" y1="545.20" x2="596.26" y2="546.70" stroke="#231f20" stroke-width="0.7"/>
<line x1="597.32" y1="545.20" x2="597.32" y2="547.80" stroke="#231f20" stroke-width="0.7"/>
<line x1="604.31" y1="545.20" x2="604.31" y2="546.70" stroke="#231f20" stroke-width="0.7"/>
<line x1="608.40" y1="545.20" x2="608.40" y2="546.70" stroke="#231f20" stroke-width="0.7"/>
<line x1="611.31" y1="545.20" x2="611.31" y2="546.70" stroke="#231f20" stroke-width="0.7"/>
<line x1="613.56" y1="545.20" x2="613.56" y2="546.70" stroke="#231f20" stroke-width="0.7"/>
<line x1="615.40" y1="545.20" x2="615.40" y2="546.70" stroke="#231f20" stroke-width="0.7"/>
<line x1="616.95" y1="545.20" x2="616.95" y2="546.70" stroke="#231f20" stroke-width="0.7"/>
<line x1="618.30" y1="545.20" x2="618.30" y2="546.70" stroke="#231f20" stroke-width="0.7"/>
<line x1="619.49" y1="545.20" x2="619.49" y2="546.70" stroke="#231f20" stroke-width="0.7"/>
<line x1="620.55" y1="545.20" x2="620.55" y2="547.80" stroke="#231f20" stroke-width="0.7"/>
<line x1="627.54" y1="545.20" x2="627.54" y2="546.70" stroke="#231f20" stroke-width="0.7"/>
<line x1="631.63" y1="545.20" x2="631.63" y2="546.70" stroke="#231f20" stroke-width="0.7"/>
<line x1="634.54" y1="545.20" x2="634.54" y2="546.70" stroke="#231f20" stroke-width="0.7"/>
<line x1="636.79" y1="545.20" x2="636.79" y2="546.70" stroke="#231f20" stroke-width="0.7"/>
<line x1="638.63" y1="545.20" x2="638.63" y2="546.70" stroke="#231f20" stroke-width="0.7"/>
<line x1="640.18" y1="545.20" x2="640.18" y2="546.70" stroke="#231f20" stroke-width="0.7"/>
<line x1="641.53" y1="545.20" x2="641.53" y2="546.70" stroke="#231f20" stroke-width="0.7"/>
<line x1="642.72" y1="545.20" x2="642.72" y2="546.70" stroke="#231f20" stroke-width="0.7"/>
<line x1="643.78" y1="545.20" x2="643.78" y2="547.80" stroke="#231f20" stroke-width="0.7"/>
<text x="497.53" y="556.80" font-size="10.2" fill="#231f20">10</text>
<text transform="translate(509.22 553.50) scale(0.8 1)" font-size="7.0" fill="#231f20">0</text>
<text x="520.89" y="556.80" font-size="10.2" fill="#231f20">10</text>
<text transform="translate(532.38 553.50) scale(0.8 1)" font-size="7.0" fill="#231f20">1</text>
<text x="544.05" y="556.80" font-size="10.2" fill="#231f20">10</text>
<text transform="translate(555.68 553.50) scale(0.8 1)" font-size="7.0" fill="#231f20">2</text>
<text x="567.23" y="556.80" font-size="10.2" fill="#231f20">10</text>
<text transform="translate(578.92 553.50) scale(0.8 1)" font-size="7.0" fill="#231f20">3</text>
<text x="590.38" y="556.80" font-size="10.2" fill="#231f20">10</text>
<text transform="translate(602.15 553.50) scale(0.8 1)" font-size="7.0" fill="#231f20">4</text>
<text x="613.68" y="556.80" font-size="10.2" fill="#231f20">10</text>
<text transform="translate(625.37 553.50) scale(0.8 1)" font-size="7.0" fill="#231f20">5</text>
<text x="636.95" y="556.80" font-size="10.2" fill="#231f20">10</text>
<text transform="translate(648.59 553.50) scale(0.8 1)" font-size="7.0" fill="#231f20">6</text>
<text x="538.13" y="568.40" font-size="10.9" text-anchor="start" fill="#231f20" font-weight="normal" font-style="normal" >Frequency (Hz)</text>
<text x="0" y="0" font-size="10.8" fill="#2f8c4e" text-anchor="middle" transform="translate(475.00 469.50) rotate(-90)">|Z| (&#937;)</text>
<text x="0" y="0" font-size="10.8" fill="#d6a13e" text-anchor="middle" transform="translate(682.00 469.00) rotate(-90)">Phase (&#176;)</text>
<path d="M535.6 507.1 L547 505.5" stroke="#6aaa48" stroke-width="1.6" stroke-linecap="round"/>
<path d="M546.5 505.3 C541 500 541 494 545 491 C550 486.5 558 484.8 566 484.9 C575 489 583 496 589.3 503.5 C584 511 576 521 566 527.8 C558 529.5 548 525 544.5 519 C542 514 543 509 546.5 505.3 Z" fill="#4c9440"/>
<path d="M546.5 505.3 L589.3 503.5 C584 511 576 521 566 527.8 C558 529.5 548 525 544.5 519 C542 514 543 509 546.5 505.3 Z" fill="#3c8636" opacity="0.65"/>
<rect x="556.8" y="495.3" width="7.9" height="8.7" fill="#b4d8a8" opacity="0.55"/>
<rect x="571.9" y="495.8" width="8" height="9.2" fill="#b4d8a8" opacity="0.55"/>
<text x="509.08" y="541.20" font-size="10.8" text-anchor="start" fill="#231f20" font-weight="normal" font-style="italic" >Nicotiana benthamiana</text>
<path d="M505.6 527.7L505.8 527.8L506.1 528.0L506.4 528.2L506.8 528.5L507.1 528.7L507.6 529.0L508.0 529.1L508.5 529.2L508.9 529.2L509.4 529.0L509.9 528.7L510.4 528.4L510.9 528.0L511.5 527.6L512.1 527.1L512.6 526.4L513.2 525.7L513.9 524.8L514.5 523.8L515.1 522.7L515.7 521.4L516.4 519.8L517.1 518.1L517.8 516.3L518.5 514.4L519.2 512.4L519.9 510.4L520.6 508.4L521.3 506.4L521.9 504.6L522.5 502.8L523.1 500.9L523.7 499.0L524.3 497.1L524.9 495.3L525.4 493.4L526.0 491.7L526.5 490.0L527.0 488.4L527.4 487.0L527.8 485.8L528.2 484.7L528.5 483.7L528.8 482.9L529.0 482.1L529.3 481.4L529.5 480.6L529.8 479.7L530.1 478.8L530.4 477.7L530.7 476.5L531.1 475.2L531.4 473.8L531.7 472.4L532.0 471.0L532.4 469.5L532.8 468.0L533.1 466.6L533.5 465.1L533.9 463.7L534.3 462.3L534.7 460.9L535.2 459.4L535.7 458.0L536.1 456.6L536.6 455.1L537.1 453.7L537.6 452.4L538.0 451.0L538.5 449.7L539.0 448.4L539.4 447.2L539.9 446.0L540.3 444.8L540.8 443.6L541.2 442.5L541.7 441.3L542.2 440.2L542.7 439.1L543.2 438.0L543.7 436.9L544.3 435.7L544.9 434.6L545.4 433.4L546.0 432.3L546.6 431.2L547.2 430.2L547.8 429.2L548.4 428.3L549.0 427.5L549.6 426.8L550.2 426.1L550.8 425.6L551.4 425.0L552.0 424.6L552.6 424.2L553.2 423.8L553.8 423.4L554.3 423.1L554.9 422.8L555.4 422.5L556.0 422.2L556.5 422.0L557.0 421.8L557.5 421.6L558.0 421.5L558.5 421.4L559.0 421.3L559.5 421.3L560.1 421.3L560.7 421.3L561.3 421.4L561.9 421.6L562.6 421.7L563.2 421.9L563.9 422.2L564.6 422.4L565.2 422.7L565.9 423.0L566.6 423.4L567.3 423.8L568.0 424.2L568.6 424.6L569.3 425.1L570.0 425.6L570.7 426.1L571.4 426.7L572.1 427.3L572.9 428.0L573.6 428.7L574.3 429.4L575.1 430.2L575.8 431.0L576.6 431.8L577.4 432.7L578.1 433.6L579.0 434.6L579.8 435.6L580.7 436.8L581.7 438.0L582.7 439.4L583.8 440.9L584.9 442.5L586.1 444.2L587.3 446.0L588.6 447.8L589.8 449.5L591.0 451.2L592.2 452.9L593.4 454.4L594.6 455.8L595.8 457.3L597.0 458.7L598.2 460.0L599.3 461.3L600.5 462.6L601.7 463.9L602.8 465.0L603.9 466.1L605.0 467.2L606.0 468.2L607.0 469.1L608.0 470.0L608.9 470.8L609.8 471.6L610.8 472.3L611.7 473.0L612.6 473.6L613.5 474.2L614.4 474.8L615.3 475.3L616.3 475.8L617.2 476.3L618.2 476.7L619.1 477.0L620.1 477.3L621.0 477.6L621.9 477.8L622.8 477.9L623.7 478.0L624.6 478.0L625.4 478.0L626.1 477.9L626.9 477.8L627.7 477.6L628.5 477.4L629.3 477.0L630.1 476.6L631.0 476.1L631.9 475.4L632.9 474.5L634.1 473.5L635.4 472.2L636.7 470.8L638.0 469.4L639.2 468.0L640.4 466.6L641.4 465.4L642.3 464.4L643.0 463.7" fill="none" stroke="#d6a13e" stroke-width="0.9" stroke-linejoin="round"/>
<path d="M505.6 527.7h0M507.7 529.0h0M509.9 528.7h0M512.0 527.2h0M513.9 524.8h0M515.7 521.4h0M517.4 517.3h0M519.0 512.9h0M520.6 508.3h0M522.2 503.6h0M523.8 498.8h0M525.4 493.7h0M526.9 488.6h0M528.5 483.8h0M530.0 479.0h0M531.5 473.3h0M532.9 467.4h0M534.4 462.0h0M536.0 457.1h0M537.5 452.4h0M539.2 447.9h0M540.8 443.5h0M542.5 439.5h0M544.3 435.8h0M546.0 432.3h0M547.9 429.1h0M549.8 426.6h0M551.8 424.7h0M553.9 423.4h0M556.0 422.2h0M558.2 421.4h0M560.5 421.3h0M562.7 421.8h0M564.9 422.6h0M567.0 423.6h0M569.1 425.0h0M571.2 426.5h0M573.2 428.3h0M575.2 430.3h0M577.2 432.5h0M579.2 434.8h0M581.1 437.2h0M583.0 439.8h0M584.9 442.5h0M586.8 445.2h0M588.7 447.9h0M590.6 450.6h0M592.5 453.2h0M594.4 455.7h0M596.4 458.0h0M598.3 460.2h0M600.3 462.4h0M602.3 464.5h0M604.3 466.5h0M606.3 468.5h0M608.3 470.3h0M610.4 472.0h0M612.4 473.6h0M614.5 474.9h0M616.7 476.0h0M618.8 476.9h0M621.0 477.6h0M623.3 478.0h0M625.6 478.0h0M627.8 477.6h0M630.0 476.7h0M632.1 475.3h0M634.1 473.5h0M636.1 471.4h0M638.1 469.3h0M640.0 467.0h0M642.0 464.8h0" stroke="#d6a13e" stroke-width="1.70" stroke-linecap="round" fill="none"/>
<path d="M505.3 434.5L505.9 435.2L506.7 436.2L507.6 437.4L508.6 438.6L509.7 440.0L510.9 441.5L512.0 442.9L513.2 444.3L514.2 445.6L515.2 446.8L516.1 447.9L517.0 449.0L517.9 450.1L518.7 451.1L519.6 452.2L520.4 453.1L521.2 454.1L521.9 455.0L522.7 455.9L523.4 456.7L524.1 457.5L524.7 458.2L525.3 458.8L525.9 459.4L526.4 460.0L527.0 460.6L527.5 461.1L528.1 461.6L528.6 462.1L529.2 462.6L529.8 463.1L530.3 463.5L530.8 464.0L531.3 464.4L531.9 464.8L532.4 465.1L533.0 465.5L533.6 465.9L534.3 466.2L535.0 466.6L535.8 467.0L536.6 467.3L537.5 467.7L538.4 468.1L539.3 468.4L540.3 468.8L541.3 469.1L542.3 469.4L543.4 469.8L544.4 470.1L545.5 470.4L546.6 470.7L547.7 471.0L548.8 471.3L550.0 471.6L551.1 471.9L552.3 472.2L553.6 472.5L554.8 472.8L556.1 473.1L557.4 473.4L558.7 473.8L560.1 474.1L561.5 474.4L562.9 474.8L564.3 475.1L565.7 475.5L567.2 475.8L568.6 476.2L570.1 476.6L571.6 477.0L573.0 477.4L574.5 477.8L576.1 478.2L577.6 478.6L579.1 479.0L580.6 479.5L582.2 480.0L583.7 480.6L585.2 481.2L586.7 481.8L588.2 482.5L589.6 483.2L591.1 483.9L592.6 484.6L594.1 485.4L595.6 486.3L597.1 487.2L598.7 488.3L600.4 489.4L602.1 490.7L603.8 492.0L605.6 493.5L607.4 495.0L609.3 496.6L611.1 498.3L613.1 500.0L615.1 501.7L617.1 503.3L619.2 505.0L621.5 506.7L624.0 508.6L626.7 510.6L629.5 512.6L632.3 514.6L635.0 516.5L637.5 518.3L639.7 519.8L641.6 521.2L643.0 522.2" fill="none" stroke="#2f8c4e" stroke-width="0.9" stroke-linejoin="round"/>
<path d="M505.3 434.5h0M507.2 436.9h0M509.2 439.3h0M511.1 441.7h0M513.1 444.2h0M515.0 446.5h0M516.9 448.9h0M518.9 451.3h0M520.8 453.7h0M522.8 456.0h0M524.7 458.2h0M526.7 460.3h0M528.7 462.2h0M530.8 463.9h0M532.9 465.4h0M535.0 466.6h0M537.1 467.6h0M539.3 468.4h0M541.5 469.2h0M543.7 469.9h0M545.9 470.5h0M548.1 471.1h0M550.3 471.7h0M552.5 472.2h0M554.8 472.8h0M557.0 473.3h0M559.2 473.9h0M561.4 474.4h0M563.6 474.9h0M565.9 475.5h0M568.1 476.1h0M570.3 476.6h0M572.5 477.2h0M574.7 477.8h0M576.9 478.4h0M579.1 479.1h0M581.3 479.7h0M583.5 480.5h0M585.7 481.4h0M587.8 482.3h0M590.0 483.3h0M592.1 484.4h0M594.2 485.5h0M596.4 486.8h0M598.5 488.1h0M600.5 489.5h0M602.6 491.1h0M604.7 492.7h0M606.7 494.4h0M608.7 496.2h0M610.8 498.0h0M612.8 499.7h0M614.9 501.5h0M616.9 503.2h0M619.0 504.8h0M621.0 506.4h0M623.1 507.9h0M625.2 509.4h0M627.2 511.0h0M629.3 512.4h0M631.4 513.9h0M633.5 515.4h0M635.5 516.9h0M637.6 518.4h0M639.7 519.8h0M641.8 521.3h0" stroke="#2f8c4e" stroke-width="1.70" stroke-linecap="round" fill="none"/>
<line x1="259.40" y1="597.50" x2="429.80" y2="597.50" stroke="#5e5b5c" stroke-width="1.15"/>
<line x1="429.40" y1="597.50" x2="429.40" y2="734.60" stroke="#5e5b5c" stroke-width="1.15"/>
<line x1="259.30" y1="734.20" x2="429.80" y2="734.20" stroke="#2a2627" stroke-width="1.25"/>
<line x1="259.60" y1="597.20" x2="259.60" y2="734.60" stroke="#2a2627" stroke-width="1.5"/>
<line x1="259.60" y1="731.37" x2="258.10" y2="731.37" stroke="#231f20" stroke-width="0.7"/>
<line x1="259.60" y1="727.17" x2="258.10" y2="727.17" stroke="#231f20" stroke-width="0.7"/>
<line x1="259.60" y1="723.91" x2="258.10" y2="723.91" stroke="#231f20" stroke-width="0.7"/>
<line x1="259.60" y1="721.25" x2="258.10" y2="721.25" stroke="#231f20" stroke-width="0.7"/>
<line x1="259.60" y1="719.00" x2="258.10" y2="719.00" stroke="#231f20" stroke-width="0.7"/>
<line x1="259.60" y1="717.06" x2="258.10" y2="717.06" stroke="#231f20" stroke-width="0.7"/>
<line x1="259.60" y1="715.34" x2="258.10" y2="715.34" stroke="#231f20" stroke-width="0.7"/>
<line x1="259.60" y1="713.80" x2="256.80" y2="713.80" stroke="#231f20" stroke-width="0.7"/>
<line x1="259.60" y1="703.69" x2="258.10" y2="703.69" stroke="#231f20" stroke-width="0.7"/>
<line x1="259.60" y1="697.77" x2="258.10" y2="697.77" stroke="#231f20" stroke-width="0.7"/>
<line x1="259.60" y1="693.57" x2="258.10" y2="693.57" stroke="#231f20" stroke-width="0.7"/>
<line x1="259.60" y1="690.31" x2="258.10" y2="690.31" stroke="#231f20" stroke-width="0.7"/>
<line x1="259.60" y1="687.65" x2="258.10" y2="687.65" stroke="#231f20" stroke-width="0.7"/>
<line x1="259.60" y1="685.40" x2="258.10" y2="685.40" stroke="#231f20" stroke-width="0.7"/>
<line x1="259.60" y1="683.46" x2="258.10" y2="683.46" stroke="#231f20" stroke-width="0.7"/>
<line x1="259.60" y1="681.74" x2="258.10" y2="681.74" stroke="#231f20" stroke-width="0.7"/>
<line x1="259.60" y1="680.20" x2="256.80" y2="680.20" stroke="#231f20" stroke-width="0.7"/>
<line x1="259.60" y1="670.09" x2="258.10" y2="670.09" stroke="#231f20" stroke-width="0.7"/>
<line x1="259.60" y1="664.17" x2="258.10" y2="664.17" stroke="#231f20" stroke-width="0.7"/>
<line x1="259.60" y1="659.97" x2="258.10" y2="659.97" stroke="#231f20" stroke-width="0.7"/>
<line x1="259.60" y1="656.71" x2="258.10" y2="656.71" stroke="#231f20" stroke-width="0.7"/>
<line x1="259.60" y1="654.05" x2="258.10" y2="654.05" stroke="#231f20" stroke-width="0.7"/>
<line x1="259.60" y1="651.80" x2="258.10" y2="651.80" stroke="#231f20" stroke-width="0.7"/>
<line x1="259.60" y1="649.86" x2="258.10" y2="649.86" stroke="#231f20" stroke-width="0.7"/>
<line x1="259.60" y1="648.14" x2="258.10" y2="648.14" stroke="#231f20" stroke-width="0.7"/>
<line x1="259.60" y1="646.60" x2="256.80" y2="646.60" stroke="#231f20" stroke-width="0.7"/>
<line x1="259.60" y1="636.49" x2="258.10" y2="636.49" stroke="#231f20" stroke-width="0.7"/>
<line x1="259.60" y1="630.57" x2="258.10" y2="630.57" stroke="#231f20" stroke-width="0.7"/>
<line x1="259.60" y1="626.37" x2="258.10" y2="626.37" stroke="#231f20" stroke-width="0.7"/>
<line x1="259.60" y1="623.11" x2="258.10" y2="623.11" stroke="#231f20" stroke-width="0.7"/>
<line x1="259.60" y1="620.45" x2="258.10" y2="620.45" stroke="#231f20" stroke-width="0.7"/>
<line x1="259.60" y1="618.20" x2="258.10" y2="618.20" stroke="#231f20" stroke-width="0.7"/>
<line x1="259.60" y1="616.26" x2="258.10" y2="616.26" stroke="#231f20" stroke-width="0.7"/>
<line x1="259.60" y1="614.54" x2="258.10" y2="614.54" stroke="#231f20" stroke-width="0.7"/>
<line x1="259.60" y1="613.00" x2="256.80" y2="613.00" stroke="#231f20" stroke-width="0.7"/>
<line x1="259.60" y1="602.89" x2="258.10" y2="602.89" stroke="#231f20" stroke-width="0.7"/>
<text x="240.44" y="609.50" font-size="10.0" fill="#231f20">10</text>
<text x="251.32" y="605.70" font-size="6.5" fill="#231f20">7</text>
<text x="240.41" y="645.00" font-size="10.0" fill="#231f20">10</text>
<text x="251.28" y="641.20" font-size="6.5" fill="#231f20">6</text>
<text x="240.31" y="680.00" font-size="10.0" fill="#231f20">10</text>
<text x="251.25" y="676.20" font-size="6.5" fill="#231f20">5</text>
<text x="240.15" y="717.20" font-size="10.0" fill="#231f20">10</text>
<text x="251.19" y="713.40" font-size="6.5" fill="#231f20">4</text>
<line x1="261.41" y1="734.20" x2="261.41" y2="735.70" stroke="#231f20" stroke-width="0.7"/>
<line x1="263.16" y1="734.20" x2="263.16" y2="735.70" stroke="#231f20" stroke-width="0.7"/>
<line x1="264.67" y1="734.20" x2="264.67" y2="735.70" stroke="#231f20" stroke-width="0.7"/>
<line x1="266.01" y1="734.20" x2="266.01" y2="735.70" stroke="#231f20" stroke-width="0.7"/>
<line x1="267.20" y1="734.20" x2="267.20" y2="736.80" stroke="#231f20" stroke-width="0.7"/>
<line x1="275.06" y1="734.20" x2="275.06" y2="735.70" stroke="#231f20" stroke-width="0.7"/>
<line x1="279.65" y1="734.20" x2="279.65" y2="735.70" stroke="#231f20" stroke-width="0.7"/>
<line x1="282.91" y1="734.20" x2="282.91" y2="735.70" stroke="#231f20" stroke-width="0.7"/>
<line x1="285.44" y1="734.20" x2="285.44" y2="735.70" stroke="#231f20" stroke-width="0.7"/>
<line x1="287.51" y1="734.20" x2="287.51" y2="735.70" stroke="#231f20" stroke-width="0.7"/>
<line x1="289.26" y1="734.20" x2="289.26" y2="735.70" stroke="#231f20" stroke-width="0.7"/>
<line x1="290.77" y1="734.20" x2="290.77" y2="735.70" stroke="#231f20" stroke-width="0.7"/>
<line x1="292.11" y1="734.20" x2="292.11" y2="735.70" stroke="#231f20" stroke-width="0.7"/>
<line x1="293.30" y1="734.20" x2="293.30" y2="736.80" stroke="#231f20" stroke-width="0.7"/>
<line x1="301.16" y1="734.20" x2="301.16" y2="735.70" stroke="#231f20" stroke-width="0.7"/>
<line x1="305.75" y1="734.20" x2="305.75" y2="735.70" stroke="#231f20" stroke-width="0.7"/>
<line x1="309.01" y1="734.20" x2="309.01" y2="735.70" stroke="#231f20" stroke-width="0.7"/>
<line x1="311.54" y1="734.20" x2="311.54" y2="735.70" stroke="#231f20" stroke-width="0.7"/>
<line x1="313.61" y1="734.20" x2="313.61" y2="735.70" stroke="#231f20" stroke-width="0.7"/>
<line x1="315.36" y1="734.20" x2="315.36" y2="735.70" stroke="#231f20" stroke-width="0.7"/>
<line x1="316.87" y1="734.20" x2="316.87" y2="735.70" stroke="#231f20" stroke-width="0.7"/>
<line x1="318.21" y1="734.20" x2="318.21" y2="735.70" stroke="#231f20" stroke-width="0.7"/>
<line x1="319.40" y1="734.20" x2="319.40" y2="736.80" stroke="#231f20" stroke-width="0.7"/>
<line x1="327.26" y1="734.20" x2="327.26" y2="735.70" stroke="#231f20" stroke-width="0.7"/>
<line x1="331.85" y1="734.20" x2="331.85" y2="735.70" stroke="#231f20" stroke-width="0.7"/>
<line x1="335.11" y1="734.20" x2="335.11" y2="735.70" stroke="#231f20" stroke-width="0.7"/>
<line x1="337.64" y1="734.20" x2="337.64" y2="735.70" stroke="#231f20" stroke-width="0.7"/>
<line x1="339.71" y1="734.20" x2="339.71" y2="735.70" stroke="#231f20" stroke-width="0.7"/>
<line x1="341.46" y1="734.20" x2="341.46" y2="735.70" stroke="#231f20" stroke-width="0.7"/>
<line x1="342.97" y1="734.20" x2="342.97" y2="735.70" stroke="#231f20" stroke-width="0.7"/>
<line x1="344.31" y1="734.20" x2="344.31" y2="735.70" stroke="#231f20" stroke-width="0.7"/>
<line x1="345.50" y1="734.20" x2="345.50" y2="736.80" stroke="#231f20" stroke-width="0.7"/>
<line x1="353.36" y1="734.20" x2="353.36" y2="735.70" stroke="#231f20" stroke-width="0.7"/>
<line x1="357.95" y1="734.20" x2="357.95" y2="735.70" stroke="#231f20" stroke-width="0.7"/>
<line x1="361.21" y1="734.20" x2="361.21" y2="735.70" stroke="#231f20" stroke-width="0.7"/>
<line x1="363.74" y1="734.20" x2="363.74" y2="735.70" stroke="#231f20" stroke-width="0.7"/>
<line x1="365.81" y1="734.20" x2="365.81" y2="735.70" stroke="#231f20" stroke-width="0.7"/>
<line x1="367.56" y1="734.20" x2="367.56" y2="735.70" stroke="#231f20" stroke-width="0.7"/>
<line x1="369.07" y1="734.20" x2="369.07" y2="735.70" stroke="#231f20" stroke-width="0.7"/>
<line x1="370.41" y1="734.20" x2="370.41" y2="735.70" stroke="#231f20" stroke-width="0.7"/>
<line x1="371.60" y1="734.20" x2="371.60" y2="736.80" stroke="#231f20" stroke-width="0.7"/>
<line x1="379.46" y1="734.20" x2="379.46" y2="735.70" stroke="#231f20" stroke-width="0.7"/>
<line x1="384.05" y1="734.20" x2="384.05" y2="735.70" stroke="#231f20" stroke-width="0.7"/>
<line x1="387.31" y1="734.20" x2="387.31" y2="735.70" stroke="#231f20" stroke-width="0.7"/>
<line x1="389.84" y1="734.20" x2="389.84" y2="735.70" stroke="#231f20" stroke-width="0.7"/>
<line x1="391.91" y1="734.20" x2="391.91" y2="735.70" stroke="#231f20" stroke-width="0.7"/>
<line x1="393.66" y1="734.20" x2="393.66" y2="735.70" stroke="#231f20" stroke-width="0.7"/>
<line x1="395.17" y1="734.20" x2="395.17" y2="735.70" stroke="#231f20" stroke-width="0.7"/>
<line x1="396.51" y1="734.20" x2="396.51" y2="735.70" stroke="#231f20" stroke-width="0.7"/>
<line x1="397.70" y1="734.20" x2="397.70" y2="736.80" stroke="#231f20" stroke-width="0.7"/>
<line x1="405.56" y1="734.20" x2="405.56" y2="735.70" stroke="#231f20" stroke-width="0.7"/>
<line x1="410.15" y1="734.20" x2="410.15" y2="735.70" stroke="#231f20" stroke-width="0.7"/>
<line x1="413.41" y1="734.20" x2="413.41" y2="735.70" stroke="#231f20" stroke-width="0.7"/>
<line x1="415.94" y1="734.20" x2="415.94" y2="735.70" stroke="#231f20" stroke-width="0.7"/>
<line x1="418.01" y1="734.20" x2="418.01" y2="735.70" stroke="#231f20" stroke-width="0.7"/>
<line x1="419.76" y1="734.20" x2="419.76" y2="735.70" stroke="#231f20" stroke-width="0.7"/>
<line x1="421.27" y1="734.20" x2="421.27" y2="735.70" stroke="#231f20" stroke-width="0.7"/>
<line x1="422.61" y1="734.20" x2="422.61" y2="735.70" stroke="#231f20" stroke-width="0.7"/>
<line x1="423.80" y1="734.20" x2="423.80" y2="736.80" stroke="#231f20" stroke-width="0.7"/>
<text x="260.33" y="745.00" font-size="10.2" fill="#231f20">10</text>
<text transform="translate(272.02 741.70) scale(0.8 1)" font-size="7.0" fill="#231f20">0</text>
<text x="286.56" y="745.00" font-size="10.2" fill="#231f20">10</text>
<text transform="translate(298.05 741.70) scale(0.8 1)" font-size="7.0" fill="#231f20">1</text>
<text x="312.59" y="745.00" font-size="10.2" fill="#231f20">10</text>
<text transform="translate(324.22 741.70) scale(0.8 1)" font-size="7.0" fill="#231f20">2</text>
<text x="338.64" y="745.00" font-size="10.2" fill="#231f20">10</text>
<text transform="translate(350.33 741.70) scale(0.8 1)" font-size="7.0" fill="#231f20">3</text>
<text x="364.66" y="745.00" font-size="10.2" fill="#231f20">10</text>
<text transform="translate(376.43 741.70) scale(0.8 1)" font-size="7.0" fill="#231f20">4</text>
<text x="390.83" y="745.00" font-size="10.2" fill="#231f20">10</text>
<text transform="translate(402.52 741.70) scale(0.8 1)" font-size="7.0" fill="#231f20">5</text>
<text x="416.97" y="745.00" font-size="10.2" fill="#231f20">10</text>
<text transform="translate(428.61 741.70) scale(0.8 1)" font-size="7.0" fill="#231f20">6</text>
<text x="309.53" y="759.60" font-size="10.9" text-anchor="start" fill="#231f20" font-weight="normal" font-style="normal" >Frequency (Hz)</text>
<text x="0" y="0" font-size="10.6" fill="#231f20" text-anchor="middle" transform="translate(235.40 664.50) rotate(-90)">|Z| (&#937;)</text>
<path d="M269.0 615.3L269.4 615.7L269.9 616.3L270.5 616.9L271.2 617.6L271.9 618.3L272.7 619.2L273.5 620.0L274.3 621.0L275.2 621.9L276.0 622.9L276.8 623.9L277.7 625.1L278.6 626.3L279.6 627.5L280.6 628.8L281.5 630.1L282.5 631.5L283.5 632.7L284.5 634.0L285.4 635.2L286.3 636.4L287.3 637.5L288.2 638.7L289.2 639.8L290.1 641.0L291.1 642.1L292.0 643.2L292.9 644.3L293.8 645.3L294.7 646.3L295.6 647.3L296.4 648.2L297.2 649.1L298.1 650.0L298.9 650.8L299.7 651.7L300.5 652.5L301.3 653.3L302.1 654.2L302.9 655.0L303.7 655.8L304.5 656.7L305.3 657.6L306.1 658.4L306.9 659.2L307.7 660.1L308.6 660.9L309.4 661.7L310.2 662.5L311.1 663.2L312.0 663.9L312.9 664.6L313.7 665.3L314.6 665.9L315.5 666.6L316.5 667.2L317.4 667.8L318.4 668.4L319.4 669.0L320.4 669.6L321.5 670.2L322.6 670.8L323.9 671.3L325.1 671.9L326.3 672.4L327.6 672.9L328.8 673.5L330.0 674.0L331.1 674.4L332.1 674.9L333.0 675.3L333.8 675.7L334.6 676.1L335.3 676.5L336.0 676.8L336.6 677.2L337.4 677.5L338.1 677.9L339.0 678.3L340.0 678.7L341.1 679.1L342.3 679.5L343.5 680.0L344.9 680.4L346.2 680.9L347.6 681.3L349.0 681.8L350.4 682.3L351.8 682.8L353.1 683.3L354.4 683.8L355.7 684.4L357.1 684.9L358.4 685.5L359.7 686.1L361.0 686.7L362.3 687.3L363.7 687.9L365.0 688.5L366.3 689.2L367.6 689.9L368.9 690.5L370.2 691.2L371.5 691.9L372.9 692.6L374.2 693.4L375.5 694.1L376.8 694.9L378.1 695.7L379.4 696.5L380.7 697.3L382.0 698.2L383.4 699.1L384.7 700.0L386.0 700.9L387.3 701.8L388.6 702.8L390.0 703.7L391.3 704.7L392.6 705.7L393.9 706.7L395.2 707.7L396.6 708.8L397.9 709.9L399.2 711.0L400.6 712.0L401.9 713.1L403.2 714.2L404.4 715.2L405.7 716.2L407.0 717.2L408.2 718.2L409.5 719.2L410.8 720.2L412.0 721.2L413.2 722.1L414.4 723.0L415.5 723.9L416.5 724.7L417.5 725.4L418.4 726.1L419.3 726.7L420.1 727.3L420.8 727.8L421.5 728.3L422.2 728.7L422.8 729.1L423.3 729.4L423.7 729.7L424.1 730.0" fill="none" stroke="#28a898" stroke-width="2.2" stroke-linejoin="round"/>
<path d="M269.0 616.9l1.4 -2.6h-2.9zM271.2 619.2l1.4 -2.6h-2.9zM273.5 621.6l1.4 -2.6h-2.9zM275.7 624.1l1.4 -2.6h-2.9zM277.9 626.9l1.4 -2.6h-2.9zM280.1 629.7l1.4 -2.6h-2.9zM282.2 632.6l1.4 -2.6h-2.9zM284.4 635.5l1.4 -2.6h-2.9zM286.6 638.2l1.4 -2.6h-2.9zM288.8 640.9l1.4 -2.6h-2.9zM291.0 643.6l1.4 -2.6h-2.9zM293.2 646.2l1.4 -2.6h-2.9zM295.4 648.7l1.4 -2.6h-2.9zM297.7 651.1l1.4 -2.6h-2.9zM299.9 653.5l1.4 -2.6h-2.9zM302.2 655.8l1.4 -2.6h-2.9zM304.4 658.1l1.4 -2.6h-2.9zM306.7 660.5l1.4 -2.6h-2.9zM308.9 662.8l1.4 -2.6h-2.9zM311.2 664.8l1.4 -2.6h-2.9zM313.5 666.7l1.4 -2.6h-2.9zM315.9 668.4l1.4 -2.6h-2.9zM318.2 669.9l1.4 -2.6h-2.9zM320.6 671.3l1.4 -2.6h-2.9zM323.1 672.5l1.4 -2.6h-2.9zM325.5 673.6l1.4 -2.6h-2.9zM327.9 674.7l1.4 -2.6h-2.9zM330.4 675.7l1.4 -2.6h-2.9zM332.8 676.8l1.4 -2.6h-2.9zM335.2 678.0l1.4 -2.6h-2.9zM337.6 679.2l1.4 -2.6h-2.9zM340.1 680.3l1.4 -2.6h-2.9zM342.5 681.2l1.4 -2.6h-2.9zM345.0 682.0l1.4 -2.6h-2.9zM347.5 682.9l1.4 -2.6h-2.9zM350.0 683.7l1.4 -2.6h-2.9zM352.4 684.6l1.4 -2.6h-2.9zM354.9 685.6l1.4 -2.6h-2.9zM357.3 686.6l1.4 -2.6h-2.9zM359.8 687.7l1.4 -2.6h-2.9zM362.2 688.8l1.4 -2.6h-2.9zM364.6 689.9l1.4 -2.6h-2.9zM367.1 691.1l1.4 -2.6h-2.9zM369.5 692.4l1.4 -2.6h-2.9zM371.9 693.7l1.4 -2.6h-2.9zM374.3 695.0l1.4 -2.6h-2.9zM376.7 696.4l1.4 -2.6h-2.9zM379.1 697.8l1.4 -2.6h-2.9zM381.4 699.4l1.4 -2.6h-2.9zM383.8 700.9l1.4 -2.6h-2.9zM386.1 702.6l1.4 -2.6h-2.9zM388.5 704.2l1.4 -2.6h-2.9zM390.8 705.9l1.4 -2.6h-2.9zM393.2 707.7l1.4 -2.6h-2.9zM395.5 709.5l1.4 -2.6h-2.9zM397.8 711.4l1.4 -2.6h-2.9zM400.1 713.2l1.4 -2.6h-2.9zM402.5 715.1l1.4 -2.6h-2.9zM404.8 717.0l1.4 -2.6h-2.9zM407.1 718.9l1.4 -2.6h-2.9zM409.4 720.7l1.4 -2.6h-2.9zM411.7 722.5l1.4 -2.6h-2.9zM414.1 724.3l1.4 -2.6h-2.9zM416.4 726.1l1.4 -2.6h-2.9zM418.7 727.9l1.4 -2.6h-2.9zM421.1 729.5l1.4 -2.6h-2.9zM423.5 731.1l1.4 -2.6h-2.9z" fill="#28a898"/>
<path d="M269.0 614.8L269.4 615.2L269.9 615.8L270.5 616.4L271.2 617.1L271.9 617.8L272.7 618.7L273.5 619.5L274.3 620.5L275.2 621.4L276.0 622.4L276.8 623.4L277.7 624.6L278.6 625.8L279.6 627.0L280.6 628.3L281.5 629.6L282.5 631.0L283.5 632.2L284.5 633.5L285.4 634.7L286.3 635.9L287.3 637.0L288.2 638.2L289.2 639.3L290.1 640.5L291.1 641.6L292.0 642.7L292.9 643.8L293.8 644.8L294.7 645.8L295.6 646.8L296.4 647.7L297.2 648.6L298.1 649.5L298.9 650.3L299.7 651.2L300.5 652.0L301.3 652.8L302.1 653.7L302.9 654.5L303.7 655.3L304.5 656.2L305.3 657.1L306.1 657.9L306.9 658.7L307.7 659.6L308.6 660.4L309.4 661.2L310.2 662.0L311.1 662.7L312.0 663.4L312.9 664.1L313.7 664.8L314.6 665.4L315.5 666.1L316.5 666.7L317.4 667.3L318.4 667.9L319.4 668.5L320.4 669.1L321.5 669.7L322.6 670.3L323.9 670.8L325.1 671.4L326.3 671.9L327.6 672.4L328.8 673.0L330.0 673.5L331.1 673.9L332.1 674.4L333.0 674.8L333.8 675.2L334.6 675.6L335.3 676.0L336.0 676.3L336.6 676.7L337.4 677.0L338.1 677.4L339.0 677.8L340.0 678.2L341.1 678.6L342.3 679.0L343.5 679.5L344.9 679.9L346.2 680.4L347.6 680.8L349.0 681.3L350.4 681.8L351.8 682.3L353.1 682.8L354.4 683.3L355.7 683.9L357.1 684.4L358.4 685.0L359.7 685.6L361.0 686.2L362.3 686.8L363.7 687.4L365.0 688.0L366.3 688.7L367.6 689.4L368.9 690.0L370.2 690.7L371.5 691.4L372.9 692.1L374.2 692.9L375.5 693.6L376.8 694.4L378.1 695.2L379.4 696.0L380.7 696.8L382.0 697.7L383.4 698.6L384.7 699.5L386.0 700.4L387.3 701.3L388.6 702.3L390.0 703.2L391.3 704.2L392.6 705.2L393.9 706.2L395.2 707.2L396.6 708.3L397.9 709.4L399.2 710.5L400.6 711.5L401.9 712.6L403.2 713.7L404.4 714.7L405.7 715.7L407.0 716.7L408.2 717.7L409.5 718.7L410.8 719.7L412.0 720.7L413.2 721.6L414.4 722.5L415.5 723.4L416.5 724.2L417.5 724.9L418.4 725.6L419.3 726.2L420.1 726.8L420.8 727.3L421.5 727.8L422.2 728.2L422.8 728.6L423.3 728.9L423.7 729.2L424.1 729.5" fill="none" stroke="#3b5b9d" stroke-width="2.0" stroke-linejoin="round"/>
<path d="M269.0 614.8h0M271.2 617.1h0M273.5 619.5h0M275.7 622.1h0M277.9 624.8h0M280.1 627.7h0M282.2 630.6h0M284.4 633.4h0M286.6 636.2h0M288.8 638.9h0M291.0 641.5h0M293.2 644.1h0M295.4 646.6h0M297.7 649.1h0M299.9 651.4h0M302.2 653.7h0M304.4 656.1h0M306.7 658.5h0M308.9 660.7h0M311.2 662.8h0M313.5 664.6h0M315.9 666.3h0M318.2 667.8h0M320.6 669.2h0M323.1 670.4h0M325.5 671.5h0M327.9 672.6h0M330.4 673.6h0M332.8 674.7h0M335.2 676.0h0M337.6 677.2h0M340.1 678.2h0M342.5 679.1h0M345.0 680.0h0M347.5 680.8h0M350.0 681.6h0M352.4 682.5h0M354.9 683.5h0M357.3 684.6h0M359.8 685.6h0M362.2 686.7h0M364.6 687.9h0M367.1 689.1h0M369.5 690.3h0M371.9 691.6h0M374.3 692.9h0M376.7 694.3h0M379.1 695.8h0M381.4 697.3h0M383.8 698.9h0M386.1 700.5h0M388.5 702.2h0M390.8 703.9h0M393.2 705.6h0M395.5 707.4h0M397.8 709.3h0M400.1 711.2h0M402.5 713.1h0M404.8 715.0h0M407.1 716.8h0M409.4 718.6h0M411.7 720.5h0M414.1 722.3h0M416.4 724.1h0M418.7 725.8h0M421.1 727.5h0M423.5 729.1h0" stroke="#3b5b9d" stroke-width="2.20" stroke-linecap="square" fill="none"/>
<path d="M269.0 614.3L269.4 614.7L269.9 615.3L270.5 615.9L271.2 616.6L271.9 617.3L272.7 618.2L273.5 619.0L274.3 620.0L275.2 620.9L276.0 621.9L276.8 622.9L277.7 624.1L278.6 625.3L279.6 626.5L280.6 627.8L281.5 629.1L282.5 630.5L283.5 631.7L284.5 633.0L285.4 634.2L286.3 635.4L287.3 636.5L288.2 637.7L289.2 638.8L290.1 640.0L291.1 641.1L292.0 642.2L292.9 643.3L293.8 644.3L294.7 645.3L295.6 646.3L296.4 647.2L297.2 648.1L298.1 649.0L298.9 649.8L299.7 650.7L300.5 651.5L301.3 652.3L302.1 653.2L302.9 654.0L303.7 654.8L304.5 655.7L305.3 656.6L306.1 657.4L306.9 658.3L307.7 659.1L308.6 659.9L309.4 660.7L310.2 661.5L311.1 662.2L312.0 662.9L312.9 663.6L313.7 664.2L314.6 664.9L315.5 665.5L316.5 666.1L317.4 666.7L318.4 667.3L319.4 667.8L320.4 668.4L321.5 669.0L322.6 669.5L323.9 670.0L325.1 670.5L326.3 671.0L327.6 671.5L328.8 672.0L330.0 672.4L331.1 672.9L332.1 673.3L333.0 673.7L333.8 674.1L334.6 674.4L335.3 674.8L336.0 675.1L336.6 675.4L337.4 675.7L338.1 676.1L339.0 676.4L340.0 676.8L341.1 677.2L342.3 677.6L343.5 677.9L344.9 678.3L346.2 678.7L347.6 679.1L349.0 679.6L350.4 680.0L351.8 680.4L353.1 680.9L354.4 681.4L355.7 681.9L357.1 682.4L358.4 682.9L359.7 683.4L361.0 684.0L362.3 684.5L363.7 685.1L365.0 685.7L366.3 686.3L367.6 687.0L368.9 687.7L370.2 688.4L371.5 689.1L372.9 689.8L374.2 690.6L375.5 691.4L376.8 692.2L378.1 693.0L379.4 693.8L380.7 694.7L382.0 695.6L383.4 696.5L384.7 697.5L386.0 698.5L387.3 699.5L388.6 700.5L390.0 701.5L391.3 702.5L392.6 703.5L393.9 704.6L395.2 705.7L396.6 706.8L397.9 707.9L399.2 709.0L400.6 710.1L401.9 711.3L403.2 712.4L404.4 713.4L405.7 714.5L407.0 715.5L408.2 716.6L409.5 717.6L410.8 718.7L412.0 719.7L413.2 720.7L414.4 721.6L415.5 722.5L416.5 723.4L417.5 724.1L418.4 724.8L419.3 725.5L420.1 726.1L420.8 726.6L421.5 727.1L422.2 727.6L422.8 728.0L423.3 728.4L423.7 728.7L424.1 729.0" fill="none" stroke="#eedc8a" stroke-width="2.4" stroke-linejoin="round"/>
<path d="M269.0 612.6l1.5 2.8h-3.1zM271.2 615.0l1.5 2.8h-3.1zM273.5 617.3l1.5 2.8h-3.1zM275.7 619.9l1.5 2.8h-3.1zM277.9 622.6l1.5 2.8h-3.1zM280.1 625.5l1.5 2.8h-3.1zM282.2 628.4l1.5 2.8h-3.1zM284.4 631.3l1.5 2.8h-3.1zM286.6 634.0l1.5 2.8h-3.1zM288.8 636.7l1.5 2.8h-3.1zM291.0 639.3l1.5 2.8h-3.1zM293.2 641.9l1.5 2.8h-3.1zM295.4 644.4l1.5 2.8h-3.1zM297.7 646.9l1.5 2.8h-3.1zM299.9 649.2l1.5 2.8h-3.1zM302.2 651.6l1.5 2.8h-3.1zM304.4 653.9l1.5 2.8h-3.1zM306.7 656.3l1.5 2.8h-3.1zM308.9 658.6l1.5 2.8h-3.1zM311.2 660.6l1.5 2.8h-3.1zM313.5 662.4l1.5 2.8h-3.1zM315.9 664.1l1.5 2.8h-3.1zM318.3 665.5l1.5 2.8h-3.1zM320.7 666.9l1.5 2.8h-3.1zM323.1 668.0l1.5 2.8h-3.1zM325.5 669.0l1.5 2.8h-3.1zM328.0 670.0l1.5 2.8h-3.1zM330.5 670.9l1.5 2.8h-3.1zM332.9 671.9l1.5 2.8h-3.1zM335.3 673.1l1.5 2.8h-3.1zM337.8 674.2l1.5 2.8h-3.1zM340.2 675.2l1.5 2.8h-3.1zM342.7 676.0l1.5 2.8h-3.1zM345.2 676.7l1.5 2.8h-3.1zM347.7 677.5l1.5 2.8h-3.1zM350.2 678.2l1.5 2.8h-3.1zM352.6 679.1l1.5 2.8h-3.1zM355.1 680.0l1.5 2.8h-3.1zM357.6 680.9l1.5 2.8h-3.1zM360.0 681.9l1.5 2.8h-3.1zM362.5 682.9l1.5 2.8h-3.1zM364.9 684.0l1.5 2.8h-3.1zM367.3 685.2l1.5 2.8h-3.1zM369.7 686.4l1.5 2.8h-3.1zM372.1 687.7l1.5 2.8h-3.1zM374.5 689.1l1.5 2.8h-3.1zM376.9 690.6l1.5 2.8h-3.1zM379.3 692.1l1.5 2.8h-3.1zM381.6 693.7l1.5 2.8h-3.1zM384.0 695.3l1.5 2.8h-3.1zM386.3 697.0l1.5 2.8h-3.1zM388.7 698.8l1.5 2.8h-3.1zM391.0 700.6l1.5 2.8h-3.1zM393.3 702.4l1.5 2.8h-3.1zM395.6 704.3l1.5 2.8h-3.1zM398.0 706.2l1.5 2.8h-3.1zM400.3 708.2l1.5 2.8h-3.1zM402.6 710.2l1.5 2.8h-3.1zM404.9 712.1l1.5 2.8h-3.1zM407.2 714.0l1.5 2.8h-3.1zM409.5 716.0l1.5 2.8h-3.1zM411.8 717.9l1.5 2.8h-3.1zM414.1 719.7l1.5 2.8h-3.1zM416.5 721.6l1.5 2.8h-3.1zM418.8 723.4l1.5 2.8h-3.1zM421.1 725.2l1.5 2.8h-3.1zM423.5 726.8l1.5 2.8h-3.1z" fill="#eedc8a"/>
<path d="M269.0 614.1L269.4 614.5L269.9 615.1L270.5 615.7L271.2 616.4L271.9 617.1L272.7 618.0L273.5 618.8L274.3 619.8L275.2 620.7L276.0 621.7L276.8 622.7L277.7 623.9L278.6 625.1L279.6 626.3L280.6 627.6L281.5 628.9L282.5 630.3L283.5 631.5L284.5 632.8L285.4 634.0L286.3 635.2L287.3 636.3L288.2 637.5L289.2 638.6L290.1 639.8L291.1 640.9L292.0 642.0L292.9 643.1L293.8 644.1L294.7 645.1L295.6 646.1L296.4 647.0L297.2 647.9L298.1 648.8L298.9 649.6L299.7 650.5L300.5 651.3L301.3 652.1L302.1 653.0L302.9 653.8L303.7 654.6L304.5 655.5L305.3 656.4L306.1 657.2L306.9 658.0L307.7 658.9L308.6 659.7L309.4 660.5L310.2 661.3L311.1 662.0L312.0 662.7L312.9 663.4L313.7 664.1L314.6 664.7L315.5 665.4L316.5 666.0L317.4 666.6L318.4 667.2L319.4 667.8L320.4 668.4L321.5 669.0L322.6 669.6L323.9 670.1L325.1 670.7L326.3 671.2L327.6 671.7L328.8 672.3L330.0 672.8L331.1 673.2L332.1 673.7L333.0 674.1L333.8 674.5L334.6 674.9L335.3 675.3L336.0 675.6L336.6 676.0L337.4 676.3L338.1 676.7L339.0 677.1L340.0 677.5L341.1 677.9L342.3 678.3L343.5 678.8L344.9 679.2L346.2 679.7L347.6 680.1L349.0 680.6L350.4 681.1L351.8 681.6L353.1 682.1L354.4 682.6L355.7 683.2L357.1 683.7L358.4 684.3L359.7 684.9L361.0 685.5L362.3 686.1L363.7 686.7L365.0 687.3L366.3 688.0L367.6 688.7L368.9 689.3L370.2 690.0L371.5 690.7L372.9 691.4L374.2 692.2L375.5 692.9L376.8 693.7L378.1 694.5L379.4 695.3L380.7 696.1L382.0 697.0L383.4 697.9L384.7 698.8L386.0 699.7L387.3 700.6L388.6 701.6L390.0 702.5L391.3 703.5L392.6 704.5L393.9 705.5L395.2 706.5L396.6 707.6L397.9 708.7L399.2 709.7L400.6 710.8L401.9 711.9L403.2 713.0L404.4 714.0L405.7 715.0L407.0 716.0L408.2 717.0L409.5 718.0L410.8 719.0L412.0 720.0L413.2 720.9L414.4 721.8L415.5 722.7L416.5 723.5L417.5 724.2L418.4 724.9L419.3 725.5L420.1 726.1L420.8 726.6L421.5 727.1L422.2 727.5L422.8 727.9L423.3 728.2L423.7 728.5L424.1 728.8" fill="none" stroke="#b0304f" stroke-width="2.0" stroke-linejoin="round"/>
<path d="M269.0 614.1h0M271.2 616.4h0M273.5 618.8h0M275.7 621.4h0M277.9 624.1h0M280.1 627.0h0M282.2 629.9h0M284.4 632.7h0M286.6 635.5h0M288.8 638.2h0M291.0 640.8h0M293.2 643.4h0M295.4 645.9h0M297.7 648.4h0M299.9 650.7h0M302.2 653.0h0M304.4 655.4h0M306.7 657.8h0M308.9 660.0h0M311.2 662.1h0M313.5 663.9h0M315.9 665.6h0M318.2 667.1h0M320.6 668.5h0M323.1 669.7h0M325.5 670.8h0M327.9 671.9h0M330.4 672.9h0M332.8 674.0h0M335.2 675.3h0M337.6 676.5h0M340.1 677.5h0M342.5 678.4h0M345.0 679.3h0M347.5 680.1h0M350.0 680.9h0M352.4 681.8h0M354.9 682.8h0M357.3 683.9h0M359.8 684.9h0M362.2 686.0h0M364.6 687.2h0M367.1 688.4h0M369.5 689.6h0M371.9 690.9h0M374.3 692.2h0M376.7 693.6h0M379.1 695.1h0M381.4 696.6h0M383.8 698.2h0M386.1 699.8h0M388.5 701.5h0M390.8 703.2h0M393.2 704.9h0M395.5 706.7h0M397.8 708.6h0M400.1 710.5h0M402.5 712.4h0M404.8 714.3h0M407.1 716.1h0M409.4 717.9h0M411.7 719.8h0M414.1 721.6h0M416.4 723.4h0M418.7 725.1h0M421.1 726.8h0M423.5 728.4h0" stroke="#b0304f" stroke-width="2.40" stroke-linecap="round" fill="none"/>
<path d="M269.0 614.3L269.4 614.7L269.9 615.3L270.5 615.9L271.2 616.6L271.9 617.3L272.7 618.2L273.5 619.0L274.3 620.0L275.2 620.9L276.0 621.9L276.8 622.9L277.7 624.1L278.6 625.3L279.6 626.5L280.6 627.8L281.5 629.1L282.5 630.5L283.5 631.7L284.5 633.0L285.4 634.2L286.3 635.4L287.3 636.5L288.2 637.7L289.2 638.8L290.1 640.0L291.1 641.1L292.0 642.2L292.9 643.3L293.8 644.3L294.7 645.3L295.6 646.3L296.4 647.2L297.2 648.1L298.1 649.0L298.9 649.8L299.7 650.7L300.5 651.5L301.3 652.3L302.1 653.2L302.9 654.0L303.7 654.8L304.5 655.7L305.3 656.6L306.1 657.4L306.9 658.2L307.7 659.1L308.6 659.9L309.4 660.7L310.2 661.5L311.1 662.2L312.0 662.9L312.9 663.6L313.7 664.3L314.6 664.9L315.5 665.6L316.5 666.2L317.4 666.8L318.4 667.4L319.4 668.0L320.4 668.6L321.5 669.2L322.6 669.8L323.9 670.3L325.1 670.9L326.3 671.4L327.6 671.9L328.8 672.5L330.0 673.0L331.1 673.4L332.1 673.9L333.0 674.3L333.8 674.7L334.6 675.1L335.3 675.5L336.0 675.8L336.6 676.2L337.4 676.5L338.1 676.9L339.0 677.3L340.0 677.7L341.1 678.1L342.3 678.5L343.5 679.0L344.9 679.4L346.2 679.9L347.6 680.3L349.0 680.8L350.4 681.3L351.8 681.8L353.1 682.3L354.4 682.8L355.7 683.4L357.1 683.9L358.4 684.5L359.7 685.1L361.0 685.7L362.3 686.3L363.7 686.9L365.0 687.5L366.3 688.2L367.6 688.9L368.9 689.5L370.2 690.2L371.5 690.9L372.9 691.6L374.2 692.4L375.5 693.1L376.8 693.9L378.1 694.7L379.4 695.5L380.7 696.3L382.0 697.2L383.4 698.1L384.7 699.0L386.0 699.9L387.3 700.8L388.6 701.8L390.0 702.7L391.3 703.7L392.6 704.7L393.9 705.7L395.2 706.7L396.6 707.8L397.9 708.9L399.2 710.0L400.6 711.0L401.9 712.1L403.2 713.2L404.4 714.2L405.7 715.2L407.0 716.2L408.2 717.2L409.5 718.2L410.8 719.2L412.0 720.2L413.2 721.1L414.4 722.0L415.5 722.9L416.5 723.7L417.5 724.4L418.4 725.1L419.3 725.7L420.1 726.3L420.8 726.8L421.5 727.3L422.2 727.7L422.8 728.1L423.3 728.4L423.7 728.7L424.1 729.0" fill="none" stroke="#e0812c" stroke-width="2.2" stroke-linejoin="round"/>
<path d="M269.0 614.3h0M271.2 616.6h0M273.5 619.0h0M275.7 621.6h0M277.9 624.3h0M280.1 627.2h0M282.2 630.1h0M284.4 632.9h0M286.6 635.7h0M288.8 638.4h0M291.0 641.0h0M293.2 643.6h0M295.4 646.1h0M297.7 648.6h0M299.9 650.9h0M302.2 653.2h0M304.4 655.6h0M306.7 658.0h0M308.9 660.2h0M311.2 662.3h0M313.5 664.1h0M315.9 665.8h0M318.2 667.3h0M320.6 668.7h0M323.1 669.9h0M325.5 671.0h0M327.9 672.1h0M330.4 673.1h0M332.8 674.2h0M335.2 675.5h0M337.6 676.7h0M340.1 677.7h0M342.5 678.6h0M345.0 679.5h0M347.5 680.3h0M350.0 681.1h0M352.4 682.0h0M354.9 683.0h0M357.3 684.1h0M359.8 685.1h0M362.2 686.2h0M364.6 687.4h0M367.1 688.6h0M369.5 689.8h0M371.9 691.1h0M374.3 692.4h0M376.7 693.8h0M379.1 695.3h0M381.4 696.8h0M383.8 698.4h0M386.1 700.0h0M388.5 701.7h0M390.8 703.4h0M393.2 705.1h0M395.5 706.9h0M397.8 708.8h0M400.1 710.7h0M402.5 712.6h0M404.8 714.5h0M407.1 716.3h0M409.4 718.1h0M411.7 720.0h0M414.1 721.8h0M416.4 723.6h0M418.7 725.3h0M421.1 727.0h0M423.5 728.6h0" stroke="#e0812c" stroke-width="2.80" stroke-linecap="round" fill="none"/>
<line x1="358.20" y1="606.30" x2="378.20" y2="606.30" stroke="#3b5b9d" stroke-width="1.9"/>
<path d="M368.2 606.3h0" stroke="#3b5b9d" stroke-width="3.80" stroke-linecap="square" fill="none"/>
<text x="387.14" y="610.15" font-size="10.7" text-anchor="start" fill="#231f20" font-weight="normal" font-style="normal" >Day 1</text>
<line x1="358.20" y1="617.90" x2="378.20" y2="617.90" stroke="#c65272" stroke-width="1.9"/>
<path d="M368.2 617.9h0" stroke="#a01c3c" stroke-width="3.80" stroke-linecap="round" fill="none"/>
<text x="387.14" y="621.75" font-size="10.7" text-anchor="start" fill="#231f20" font-weight="normal" font-style="normal" >Day 4</text>
<line x1="358.20" y1="628.10" x2="378.20" y2="628.10" stroke="#eedc8a" stroke-width="1.9"/>
<path d="M368.2 625.8l2.1 3.8h-4.2z" fill="#e8d47a"/>
<text x="387.14" y="631.95" font-size="10.7" text-anchor="start" fill="#231f20" font-weight="normal" font-style="normal" >Day 7</text>
<line x1="358.20" y1="639.70" x2="378.20" y2="639.70" stroke="#28a898" stroke-width="1.9"/>
<path d="M368.2 642.0l2.1 -3.8h-4.2z" fill="#1a9888"/>
<text x="387.14" y="643.55" font-size="10.7" text-anchor="start" fill="#231f20" font-weight="normal" font-style="normal" >Day 10</text>
<line x1="358.20" y1="651.50" x2="378.20" y2="651.50" stroke="#e0812c" stroke-width="1.9"/>
<path d="M368.2 651.5h0" stroke="#d87420" stroke-width="3.80" stroke-linecap="round" fill="none"/>
<text x="387.14" y="655.35" font-size="10.7" text-anchor="start" fill="#231f20" font-weight="normal" font-style="normal" >Day 14</text>
<line x1="491.30" y1="598.30" x2="661.40" y2="598.30" stroke="#979495" stroke-width="1.15"/>
<line x1="661.00" y1="598.30" x2="661.00" y2="734.70" stroke="#979495" stroke-width="1.15"/>
<line x1="491.20" y1="734.30" x2="661.40" y2="734.30" stroke="#2a2627" stroke-width="1.25"/>
<line x1="491.50" y1="598.00" x2="491.50" y2="734.70" stroke="#2a2627" stroke-width="1.5"/>
<line x1="491.50" y1="613.50" x2="488.90" y2="613.50" stroke="#231f20" stroke-width="0.7"/>
<line x1="491.50" y1="628.95" x2="488.90" y2="628.95" stroke="#231f20" stroke-width="0.7"/>
<line x1="491.50" y1="644.40" x2="488.90" y2="644.40" stroke="#231f20" stroke-width="0.7"/>
<line x1="491.50" y1="659.85" x2="488.90" y2="659.85" stroke="#231f20" stroke-width="0.7"/>
<line x1="491.50" y1="675.30" x2="488.90" y2="675.30" stroke="#231f20" stroke-width="0.7"/>
<line x1="491.50" y1="690.75" x2="488.90" y2="690.75" stroke="#231f20" stroke-width="0.7"/>
<line x1="491.50" y1="706.20" x2="488.90" y2="706.20" stroke="#231f20" stroke-width="0.7"/>
<line x1="491.50" y1="721.65" x2="488.90" y2="721.65" stroke="#231f20" stroke-width="0.7"/>
<text x="472.01" y="613.70" font-size="10.6" text-anchor="start" fill="#231f20" font-weight="normal" font-style="normal" >-20</text>
<text x="472.01" y="649.70" font-size="10.6" text-anchor="start" fill="#231f20" font-weight="normal" font-style="normal" >-40</text>
<text x="472.01" y="684.70" font-size="10.6" text-anchor="start" fill="#231f20" font-weight="normal" font-style="normal" >-60</text>
<text x="472.01" y="720.30" font-size="10.6" text-anchor="start" fill="#231f20" font-weight="normal" font-style="normal" >-80</text>
<line x1="493.25" y1="734.30" x2="493.25" y2="735.80" stroke="#231f20" stroke-width="0.7"/>
<line x1="495.72" y1="734.30" x2="495.72" y2="735.80" stroke="#231f20" stroke-width="0.7"/>
<line x1="497.74" y1="734.30" x2="497.74" y2="735.80" stroke="#231f20" stroke-width="0.7"/>
<line x1="499.45" y1="734.30" x2="499.45" y2="735.80" stroke="#231f20" stroke-width="0.7"/>
<line x1="500.93" y1="734.30" x2="500.93" y2="735.80" stroke="#231f20" stroke-width="0.7"/>
<line x1="502.23" y1="734.30" x2="502.23" y2="735.80" stroke="#231f20" stroke-width="0.7"/>
<line x1="503.40" y1="734.30" x2="503.40" y2="736.90" stroke="#231f20" stroke-width="0.7"/>
<line x1="511.08" y1="734.30" x2="511.08" y2="735.80" stroke="#231f20" stroke-width="0.7"/>
<line x1="515.57" y1="734.30" x2="515.57" y2="735.80" stroke="#231f20" stroke-width="0.7"/>
<line x1="518.75" y1="734.30" x2="518.75" y2="735.80" stroke="#231f20" stroke-width="0.7"/>
<line x1="521.22" y1="734.30" x2="521.22" y2="735.80" stroke="#231f20" stroke-width="0.7"/>
<line x1="523.24" y1="734.30" x2="523.24" y2="735.80" stroke="#231f20" stroke-width="0.7"/>
<line x1="524.95" y1="734.30" x2="524.95" y2="735.80" stroke="#231f20" stroke-width="0.7"/>
<line x1="526.43" y1="734.30" x2="526.43" y2="735.80" stroke="#231f20" stroke-width="0.7"/>
<line x1="527.73" y1="734.30" x2="527.73" y2="735.80" stroke="#231f20" stroke-width="0.7"/>
<line x1="528.90" y1="734.30" x2="528.90" y2="736.90" stroke="#231f20" stroke-width="0.7"/>
<line x1="536.58" y1="734.30" x2="536.58" y2="735.80" stroke="#231f20" stroke-width="0.7"/>
<line x1="541.07" y1="734.30" x2="541.07" y2="735.80" stroke="#231f20" stroke-width="0.7"/>
<line x1="544.25" y1="734.30" x2="544.25" y2="735.80" stroke="#231f20" stroke-width="0.7"/>
<line x1="546.72" y1="734.30" x2="546.72" y2="735.80" stroke="#231f20" stroke-width="0.7"/>
<line x1="548.74" y1="734.30" x2="548.74" y2="735.80" stroke="#231f20" stroke-width="0.7"/>
<line x1="550.45" y1="734.30" x2="550.45" y2="735.80" stroke="#231f20" stroke-width="0.7"/>
<line x1="551.93" y1="734.30" x2="551.93" y2="735.80" stroke="#231f20" stroke-width="0.7"/>
<line x1="553.23" y1="734.30" x2="553.23" y2="735.80" stroke="#231f20" stroke-width="0.7"/>
<line x1="554.40" y1="734.30" x2="554.40" y2="736.90" stroke="#231f20" stroke-width="0.7"/>
<line x1="562.08" y1="734.30" x2="562.08" y2="735.80" stroke="#231f20" stroke-width="0.7"/>
<line x1="566.57" y1="734.30" x2="566.57" y2="735.80" stroke="#231f20" stroke-width="0.7"/>
<line x1="569.75" y1="734.30" x2="569.75" y2="735.80" stroke="#231f20" stroke-width="0.7"/>
<line x1="572.22" y1="734.30" x2="572.22" y2="735.80" stroke="#231f20" stroke-width="0.7"/>
<line x1="574.24" y1="734.30" x2="574.24" y2="735.80" stroke="#231f20" stroke-width="0.7"/>
<line x1="575.95" y1="734.30" x2="575.95" y2="735.80" stroke="#231f20" stroke-width="0.7"/>
<line x1="577.43" y1="734.30" x2="577.43" y2="735.80" stroke="#231f20" stroke-width="0.7"/>
<line x1="578.73" y1="734.30" x2="578.73" y2="735.80" stroke="#231f20" stroke-width="0.7"/>
<line x1="579.90" y1="734.30" x2="579.90" y2="736.90" stroke="#231f20" stroke-width="0.7"/>
<line x1="587.58" y1="734.30" x2="587.58" y2="735.80" stroke="#231f20" stroke-width="0.7"/>
<line x1="592.07" y1="734.30" x2="592.07" y2="735.80" stroke="#231f20" stroke-width="0.7"/>
<line x1="595.25" y1="734.30" x2="595.25" y2="735.80" stroke="#231f20" stroke-width="0.7"/>
<line x1="597.72" y1="734.30" x2="597.72" y2="735.80" stroke="#231f20" stroke-width="0.7"/>
<line x1="599.74" y1="734.30" x2="599.74" y2="735.80" stroke="#231f20" stroke-width="0.7"/>
<line x1="601.45" y1="734.30" x2="601.45" y2="735.80" stroke="#231f20" stroke-width="0.7"/>
<line x1="602.93" y1="734.30" x2="602.93" y2="735.80" stroke="#231f20" stroke-width="0.7"/>
<line x1="604.23" y1="734.30" x2="604.23" y2="735.80" stroke="#231f20" stroke-width="0.7"/>
<line x1="605.40" y1="734.30" x2="605.40" y2="736.90" stroke="#231f20" stroke-width="0.7"/>
<line x1="613.08" y1="734.30" x2="613.08" y2="735.80" stroke="#231f20" stroke-width="0.7"/>
<line x1="617.57" y1="734.30" x2="617.57" y2="735.80" stroke="#231f20" stroke-width="0.7"/>
<line x1="620.75" y1="734.30" x2="620.75" y2="735.80" stroke="#231f20" stroke-width="0.7"/>
<line x1="623.22" y1="734.30" x2="623.22" y2="735.80" stroke="#231f20" stroke-width="0.7"/>
<line x1="625.24" y1="734.30" x2="625.24" y2="735.80" stroke="#231f20" stroke-width="0.7"/>
<line x1="626.95" y1="734.30" x2="626.95" y2="735.80" stroke="#231f20" stroke-width="0.7"/>
<line x1="628.43" y1="734.30" x2="628.43" y2="735.80" stroke="#231f20" stroke-width="0.7"/>
<line x1="629.73" y1="734.30" x2="629.73" y2="735.80" stroke="#231f20" stroke-width="0.7"/>
<line x1="630.90" y1="734.30" x2="630.90" y2="736.90" stroke="#231f20" stroke-width="0.7"/>
<line x1="638.58" y1="734.30" x2="638.58" y2="735.80" stroke="#231f20" stroke-width="0.7"/>
<line x1="643.07" y1="734.30" x2="643.07" y2="735.80" stroke="#231f20" stroke-width="0.7"/>
<line x1="646.25" y1="734.30" x2="646.25" y2="735.80" stroke="#231f20" stroke-width="0.7"/>
<line x1="648.72" y1="734.30" x2="648.72" y2="735.80" stroke="#231f20" stroke-width="0.7"/>
<line x1="650.74" y1="734.30" x2="650.74" y2="735.80" stroke="#231f20" stroke-width="0.7"/>
<line x1="652.45" y1="734.30" x2="652.45" y2="735.80" stroke="#231f20" stroke-width="0.7"/>
<line x1="653.93" y1="734.30" x2="653.93" y2="735.80" stroke="#231f20" stroke-width="0.7"/>
<line x1="655.23" y1="734.30" x2="655.23" y2="735.80" stroke="#231f20" stroke-width="0.7"/>
<line x1="656.40" y1="734.30" x2="656.40" y2="736.90" stroke="#231f20" stroke-width="0.7"/>
<text x="496.53" y="745.30" font-size="10.2" fill="#231f20">10</text>
<text transform="translate(508.22 742.00) scale(0.8 1)" font-size="7.0" fill="#231f20">0</text>
<text x="522.16" y="745.30" font-size="10.2" fill="#231f20">10</text>
<text transform="translate(533.65 742.00) scale(0.8 1)" font-size="7.0" fill="#231f20">1</text>
<text x="547.59" y="745.30" font-size="10.2" fill="#231f20">10</text>
<text transform="translate(559.22 742.00) scale(0.8 1)" font-size="7.0" fill="#231f20">2</text>
<text x="573.04" y="745.30" font-size="10.2" fill="#231f20">10</text>
<text transform="translate(584.73 742.00) scale(0.8 1)" font-size="7.0" fill="#231f20">3</text>
<text x="598.46" y="745.30" font-size="10.2" fill="#231f20">10</text>
<text transform="translate(610.23 742.00) scale(0.8 1)" font-size="7.0" fill="#231f20">4</text>
<text x="624.03" y="745.30" font-size="10.2" fill="#231f20">10</text>
<text transform="translate(635.72 742.00) scale(0.8 1)" font-size="7.0" fill="#231f20">5</text>
<text x="649.57" y="745.30" font-size="10.2" fill="#231f20">10</text>
<text transform="translate(661.21 742.00) scale(0.8 1)" font-size="7.0" fill="#231f20">6</text>
<text x="539.53" y="759.60" font-size="10.9" text-anchor="start" fill="#231f20" font-weight="normal" font-style="normal" >Frequency (Hz)</text>
<text x="0" y="0" font-size="10.6" fill="#231f20" text-anchor="middle" transform="translate(465.00 668.40) rotate(-90)">Phase (&#176;)</text>
<path d="M506.2 708.5L506.6 708.5L507.0 708.5L507.6 708.4L508.2 708.4L508.8 708.4L509.5 708.4L510.2 708.3L511.0 708.2L511.7 708.1L512.5 707.9L513.3 707.7L514.1 707.5L514.9 707.2L515.8 707.0L516.7 706.7L517.6 706.4L518.5 706.0L519.4 705.6L520.3 705.2L521.2 704.7L522.1 704.2L522.9 703.6L523.8 703.0L524.7 702.4L525.5 701.8L526.4 701.1L527.2 700.3L528.0 699.6L528.8 698.8L529.6 697.9L530.4 697.0L531.1 696.1L531.8 695.1L532.5 694.0L533.2 693.0L533.9 691.9L534.5 690.7L535.2 689.6L535.8 688.5L536.4 687.3L537.0 686.1L537.5 684.9L538.1 683.7L538.6 682.4L539.1 681.2L539.5 679.9L540.0 678.6L540.5 677.3L541.0 676.1L541.5 674.8L542.0 673.6L542.5 672.3L543.0 671.1L543.5 669.8L544.0 668.6L544.5 667.4L545.0 666.1L545.5 664.9L546.0 663.7L546.5 662.4L547.0 661.1L547.5 659.8L547.9 658.5L548.4 657.2L548.9 655.9L549.3 654.6L549.8 653.3L550.3 652.1L550.7 650.9L551.2 649.7L551.7 648.6L552.1 647.6L552.6 646.6L553.0 645.7L553.5 644.8L553.9 643.9L554.4 643.0L554.9 642.1L555.4 641.2L556.0 640.3L556.6 639.4L557.3 638.5L557.9 637.5L558.6 636.6L559.4 635.7L560.1 634.8L560.8 633.9L561.6 633.1L562.3 632.4L563.0 631.8L563.7 631.3L564.4 630.8L565.1 630.5L565.8 630.1L566.6 629.9L567.3 629.6L568.0 629.5L568.7 629.3L569.3 629.2L570.0 629.1L570.6 629.0L571.3 629.0L571.9 629.0L572.5 629.1L573.1 629.2L573.7 629.3L574.3 629.5L574.8 629.6L575.4 629.8L576.0 630.0L576.6 630.2L577.1 630.3L577.5 630.5L578.0 630.7L578.5 630.9L579.0 631.2L579.6 631.5L580.2 631.8L580.9 632.3L581.7 632.8L582.6 633.4L583.7 634.2L584.8 635.0L586.0 635.8L587.2 636.8L588.4 637.7L589.7 638.7L591.0 639.7L592.2 640.6L593.4 641.5L594.6 642.4L595.7 643.3L596.9 644.3L598.0 645.2L599.2 646.1L600.4 647.1L601.5 648.0L602.7 648.9L603.8 649.8L605.0 650.6L606.2 651.5L607.3 652.4L608.5 653.3L609.7 654.1L610.8 655.0L612.0 655.8L613.2 656.6L614.4 657.3L615.5 657.9L616.7 658.4L617.9 658.8L619.1 659.1L620.3 659.3L621.5 659.5L622.7 659.6L623.9 659.7L625.1 659.7L626.2 659.6L627.3 659.6L628.4 659.5L629.4 659.3L630.5 659.0L631.5 658.7L632.5 658.4L633.4 658.0L634.3 657.5L635.2 657.1L636.1 656.7L636.9 656.3L637.7 656.0L638.5 655.6L639.2 655.3L639.9 654.9L640.6 654.6L641.2 654.3L641.8 653.9L642.4 653.6L642.9 653.4L643.3 653.2L643.6 653.0" fill="none" stroke="#eedc8a" stroke-width="3.0" stroke-linejoin="round"/>
<path d="M506.2 706.6l1.8 3.2h-3.5zM508.7 706.5l1.8 3.2h-3.5zM511.2 706.2l1.8 3.2h-3.5zM513.6 705.7l1.8 3.2h-3.5zM516.0 705.0l1.8 3.2h-3.5zM518.3 704.2l1.8 3.2h-3.5zM520.7 703.1l1.8 3.2h-3.5zM523.0 701.7l1.8 3.2h-3.5zM525.2 700.1l1.8 3.2h-3.5zM527.4 698.2l1.8 3.2h-3.5zM529.6 696.0l1.8 3.2h-3.5zM531.7 693.3l1.8 3.2h-3.5zM533.7 690.2l1.8 3.2h-3.5zM535.7 686.7l1.8 3.2h-3.5zM537.6 682.8l1.8 3.2h-3.5zM539.4 678.2l1.8 3.2h-3.5zM541.2 673.5l1.8 3.2h-3.5zM543.1 669.0l1.8 3.2h-3.5zM544.9 664.5l1.8 3.2h-3.5zM546.7 659.9l1.8 3.2h-3.5zM548.5 655.1l1.8 3.2h-3.5zM550.2 650.2l1.8 3.2h-3.5zM552.1 645.8l1.8 3.2h-3.5zM554.0 641.8l1.8 3.2h-3.5zM556.0 638.4l1.8 3.2h-3.5zM558.0 635.5l1.8 3.2h-3.5zM560.1 632.8l1.8 3.2h-3.5zM562.3 630.5l1.8 3.2h-3.5zM564.5 628.8l1.8 3.2h-3.5zM566.9 627.8l1.8 3.2h-3.5zM569.3 627.3l1.8 3.2h-3.5zM571.8 627.1l1.8 3.2h-3.5zM574.2 627.5l1.8 3.2h-3.5zM576.6 628.3l1.8 3.2h-3.5zM579.0 629.2l1.8 3.2h-3.5zM581.2 630.6l1.8 3.2h-3.5zM583.5 632.1l1.8 3.2h-3.5zM585.8 633.8l1.8 3.2h-3.5zM588.0 635.5l1.8 3.2h-3.5zM590.3 637.2l1.8 3.2h-3.5zM592.5 638.9l1.8 3.2h-3.5zM594.7 640.6l1.8 3.2h-3.5zM597.0 642.4l1.8 3.2h-3.5zM599.2 644.2l1.8 3.2h-3.5zM601.4 646.0l1.8 3.2h-3.5zM603.7 647.7l1.8 3.2h-3.5zM605.9 649.4l1.8 3.2h-3.5zM608.2 651.1l1.8 3.2h-3.5zM610.4 652.8l1.8 3.2h-3.5zM612.7 654.3l1.8 3.2h-3.5zM615.0 655.7l1.8 3.2h-3.5zM617.3 656.7l1.8 3.2h-3.5zM619.7 657.3l1.8 3.2h-3.5zM622.2 657.7l1.8 3.2h-3.5zM624.7 657.8l1.8 3.2h-3.5zM627.2 657.7l1.8 3.2h-3.5zM629.6 657.3l1.8 3.2h-3.5zM632.0 656.6l1.8 3.2h-3.5zM634.4 655.6l1.8 3.2h-3.5zM636.7 654.5l1.8 3.2h-3.5zM639.0 653.4l1.8 3.2h-3.5zM641.4 652.3l1.8 3.2h-3.5z" fill="#eedc8a"/>
<path d="M506.2 711.7L506.6 711.6L507.0 711.5L507.6 711.4L508.2 711.3L508.8 711.2L509.5 711.0L510.2 710.9L511.0 710.7L511.7 710.4L512.5 710.2L513.3 709.8L514.1 709.5L514.9 709.1L515.8 708.7L516.7 708.3L517.6 707.9L518.5 707.4L519.4 706.8L520.3 706.3L521.2 705.7L522.1 705.1L522.9 704.4L523.8 703.7L524.7 702.9L525.5 702.2L526.4 701.4L527.2 700.5L528.0 699.7L528.8 698.8L529.6 697.9L530.4 697.0L531.1 696.0L531.8 695.0L532.5 694.0L533.2 692.9L533.9 691.8L534.5 690.7L535.2 689.6L535.8 688.4L536.4 687.3L537.0 686.1L537.5 684.9L538.1 683.7L538.6 682.4L539.1 681.2L539.5 679.9L540.0 678.6L540.5 677.3L541.0 676.1L541.5 674.8L542.0 673.6L542.5 672.3L543.0 671.1L543.5 669.8L544.0 668.6L544.5 667.4L545.0 666.1L545.5 664.9L546.0 663.6L546.5 662.4L547.0 661.1L547.5 659.8L547.9 658.5L548.4 657.2L548.9 655.9L549.3 654.6L549.8 653.4L550.3 652.2L550.7 651.0L551.2 649.9L551.7 648.9L552.1 647.9L552.6 647.0L553.0 646.1L553.5 645.2L553.9 644.4L554.4 643.6L554.9 642.8L555.4 642.0L556.0 641.2L556.6 640.4L557.3 639.5L557.9 638.7L558.6 637.8L559.4 637.0L560.1 636.2L560.8 635.5L561.6 634.8L562.3 634.2L563.0 633.7L563.7 633.3L564.4 633.0L565.1 632.7L565.8 632.5L566.6 632.3L567.3 632.2L568.0 632.2L568.7 632.1L569.3 632.1L570.0 632.0L570.6 632.0L571.3 632.0L571.9 632.0L572.5 632.0L573.1 632.1L573.7 632.1L574.3 632.2L574.8 632.4L575.4 632.5L576.0 632.6L576.6 632.7L577.1 632.8L577.5 632.9L578.0 633.1L578.5 633.2L579.0 633.4L579.6 633.6L580.2 633.9L580.9 634.2L581.7 634.6L582.6 635.1L583.7 635.7L584.8 636.3L586.0 637.0L587.2 637.7L588.4 638.5L589.7 639.3L591.0 640.0L592.2 640.8L593.4 641.6L594.6 642.4L595.7 643.2L596.9 644.0L598.0 644.9L599.2 645.7L600.4 646.6L601.5 647.4L602.7 648.3L603.8 649.0L605.0 649.8L606.2 650.5L607.3 651.3L608.5 652.0L609.7 652.7L610.8 653.4L612.0 654.1L613.2 654.7L614.4 655.3L615.5 655.8L616.7 656.2L617.9 656.5L619.1 656.8L620.3 657.1L621.5 657.2L622.7 657.4L623.9 657.4L625.1 657.5L626.2 657.5L627.3 657.4L628.4 657.4L629.4 657.3L630.5 657.1L631.5 656.9L632.5 656.7L633.4 656.4L634.3 656.1L635.2 655.8L636.1 655.5L636.9 655.3L637.7 655.0L638.5 654.8L639.2 654.5L639.9 654.2L640.6 654.0L641.2 653.7L641.8 653.4L642.4 653.2L642.9 653.0L643.3 652.8L643.6 652.7" fill="none" stroke="#3b5b9d" stroke-width="2.8" stroke-linejoin="round"/>
<path d="M506.2 711.7h0M508.6 711.2h0M511.0 710.7h0M513.4 709.8h0M515.8 708.8h0M518.1 707.6h0M520.4 706.2h0M522.6 704.6h0M524.9 702.8h0M527.1 700.7h0M529.2 698.4h0M531.3 695.7h0M533.3 692.7h0M535.3 689.3h0M537.3 685.5h0M539.1 681.0h0M540.9 676.3h0M542.7 671.8h0M544.5 667.3h0M546.4 662.8h0M548.1 657.9h0M549.9 653.1h0M551.8 648.7h0M553.7 644.8h0M555.7 641.6h0M557.8 638.9h0M559.9 636.4h0M562.1 634.4h0M564.4 633.0h0M566.8 632.3h0M569.3 632.1h0M571.7 632.0h0M574.2 632.2h0M576.6 632.7h0M579.0 633.4h0M581.4 634.4h0M583.7 635.7h0M586.0 637.0h0M588.3 638.4h0M590.6 639.8h0M592.8 641.2h0M595.1 642.8h0M597.4 644.4h0M599.6 646.1h0M601.9 647.7h0M604.1 649.2h0M606.4 650.7h0M608.7 652.1h0M611.0 653.5h0M613.3 654.8h0M615.7 655.8h0M618.0 656.6h0M620.5 657.1h0M622.9 657.4h0M625.4 657.5h0M627.9 657.4h0M630.4 657.2h0M632.8 656.6h0M635.2 655.8h0M637.5 655.0h0M639.9 654.2h0M642.3 653.3h0" stroke="#3b5b9d" stroke-width="2.60" stroke-linecap="square" fill="none"/>
<path d="M506.2 708.5L506.6 708.5L507.0 708.5L507.6 708.4L508.2 708.4L508.8 708.4L509.5 708.4L510.2 708.3L511.0 708.2L511.7 708.1L512.5 707.9L513.3 707.7L514.1 707.5L514.9 707.2L515.8 707.0L516.7 706.7L517.6 706.4L518.5 706.0L519.4 705.6L520.3 705.2L521.2 704.7L522.1 704.2L522.9 703.6L523.8 703.0L524.7 702.4L525.5 701.7L526.4 701.0L527.2 700.3L528.0 699.6L528.8 698.8L529.6 698.0L530.4 697.2L531.1 696.3L531.8 695.5L532.5 694.6L533.2 693.6L533.9 692.7L534.5 691.7L535.2 690.7L535.8 689.7L536.4 688.6L537.0 687.6L537.5 686.5L538.1 685.3L538.6 684.2L539.1 683.0L539.5 681.9L540.0 680.7L540.5 679.5L541.0 678.2L541.5 677.0L542.0 675.8L542.5 674.6L543.0 673.3L543.5 672.0L544.0 670.8L544.5 669.5L545.0 668.2L545.5 666.9L546.0 665.6L546.5 664.3L547.0 662.9L547.5 661.6L547.9 660.2L548.4 658.8L548.9 657.4L549.3 656.0L549.8 654.7L550.3 653.4L550.7 652.1L551.2 650.9L551.7 649.8L552.1 648.8L552.6 647.7L553.0 646.8L553.5 645.8L553.9 644.9L554.4 644.0L554.9 643.1L555.4 642.2L556.0 641.4L556.6 640.5L557.3 639.6L557.9 638.7L558.6 637.9L559.4 637.0L560.1 636.3L560.8 635.5L561.6 634.8L562.3 634.2L563.0 633.7L563.7 633.3L564.4 632.9L565.1 632.7L565.8 632.5L566.6 632.3L567.3 632.2L568.0 632.2L568.7 632.1L569.3 632.0L570.0 632.0L570.6 632.0L571.3 632.0L571.9 632.0L572.5 632.0L573.1 632.1L573.7 632.1L574.3 632.2L574.8 632.4L575.4 632.5L576.0 632.6L576.6 632.7L577.1 632.8L577.5 632.9L578.0 633.1L578.5 633.2L579.0 633.4L579.6 633.6L580.2 633.9L580.9 634.2L581.7 634.6L582.6 635.1L583.7 635.7L584.8 636.3L586.0 637.0L587.2 637.8L588.4 638.5L589.7 639.3L591.0 640.1L592.2 640.9L593.4 641.6L594.6 642.3L595.7 643.1L596.9 643.8L598.0 644.6L599.2 645.4L600.4 646.1L601.5 646.9L602.7 647.6L603.8 648.3L605.0 648.9L606.2 649.6L607.3 650.2L608.5 650.8L609.7 651.4L610.8 652.0L612.0 652.5L613.2 653.0L614.4 653.5L615.5 653.9L616.7 654.3L617.9 654.6L619.1 654.9L620.3 655.2L621.5 655.4L622.7 655.5L623.9 655.7L625.1 655.8L626.2 655.9L627.3 655.9L628.4 655.9L629.4 655.9L630.5 655.8L631.5 655.7L632.5 655.5L633.4 655.4L634.3 655.2L635.2 654.9L636.1 654.7L636.9 654.5L637.7 654.4L638.5 654.2L639.2 654.0L639.9 653.8L640.6 653.6L641.2 653.4L641.8 653.2L642.4 653.0L642.9 652.8L643.3 652.7L643.6 652.6" fill="none" stroke="#28a898" stroke-width="2.8" stroke-linejoin="round"/>
<path d="M506.2 710.3l1.7 -3.0h-3.3zM508.7 710.2l1.7 -3.0h-3.3zM511.2 710.0l1.7 -3.0h-3.3zM513.6 709.4l1.7 -3.0h-3.3zM516.0 708.7l1.7 -3.0h-3.3zM518.3 707.9l1.7 -3.0h-3.3zM520.7 706.8l1.7 -3.0h-3.3zM523.0 705.4l1.7 -3.0h-3.3zM525.2 703.8l1.7 -3.0h-3.3zM527.4 701.9l1.7 -3.0h-3.3zM529.6 699.8l1.7 -3.0h-3.3zM531.8 697.3l1.7 -3.0h-3.3zM533.8 694.5l1.7 -3.0h-3.3zM535.9 691.4l1.7 -3.0h-3.3zM537.8 687.7l1.7 -3.0h-3.3zM539.7 683.4l1.7 -3.0h-3.3zM541.5 678.9l1.7 -3.0h-3.3zM543.3 674.4l1.7 -3.0h-3.3zM545.1 669.7l1.7 -3.0h-3.3zM546.9 665.0l1.7 -3.0h-3.3zM548.6 659.9l1.7 -3.0h-3.3zM550.4 654.8l1.7 -3.0h-3.3zM552.2 650.3l1.7 -3.0h-3.3zM554.1 646.3l1.7 -3.0h-3.3zM556.1 643.0l1.7 -3.0h-3.3zM558.2 640.2l1.7 -3.0h-3.3zM560.3 637.8l1.7 -3.0h-3.3zM562.5 635.8l1.7 -3.0h-3.3zM564.8 634.6l1.7 -3.0h-3.3zM567.3 634.0l1.7 -3.0h-3.3zM569.7 633.8l1.7 -3.0h-3.3zM572.2 633.8l1.7 -3.0h-3.3zM574.7 634.1l1.7 -3.0h-3.3zM577.1 634.6l1.7 -3.0h-3.3zM579.5 635.4l1.7 -3.0h-3.3zM581.8 636.5l1.7 -3.0h-3.3zM584.1 637.7l1.7 -3.0h-3.3zM586.4 639.1l1.7 -3.0h-3.3zM588.7 640.5l1.7 -3.0h-3.3zM591.0 641.9l1.7 -3.0h-3.3zM593.3 643.3l1.7 -3.0h-3.3zM595.6 644.8l1.7 -3.0h-3.3zM597.8 646.3l1.7 -3.0h-3.3zM600.1 647.8l1.7 -3.0h-3.3zM602.4 649.2l1.7 -3.0h-3.3zM604.7 650.5l1.7 -3.0h-3.3zM607.0 651.8l1.7 -3.0h-3.3zM609.3 653.0l1.7 -3.0h-3.3zM611.7 654.1l1.7 -3.0h-3.3zM614.0 655.1l1.7 -3.0h-3.3zM616.4 656.0l1.7 -3.0h-3.3zM618.8 656.6l1.7 -3.0h-3.3zM621.2 657.1l1.7 -3.0h-3.3zM623.7 657.5l1.7 -3.0h-3.3zM626.1 657.7l1.7 -3.0h-3.3zM628.6 657.7l1.7 -3.0h-3.3zM631.1 657.6l1.7 -3.0h-3.3zM633.5 657.1l1.7 -3.0h-3.3zM635.9 656.6l1.7 -3.0h-3.3zM638.4 656.0l1.7 -3.0h-3.3zM640.8 655.3l1.7 -3.0h-3.3zM643.1 654.5l1.7 -3.0h-3.3z" fill="#28a898"/>
<path d="M506.2 703.2L506.6 703.3L507.0 703.4L507.6 703.5L508.2 703.6L508.8 703.7L509.5 703.8L510.2 703.9L511.0 703.9L511.7 703.9L512.5 703.9L513.3 703.9L514.1 703.8L514.9 703.8L515.8 703.7L516.7 703.6L517.6 703.4L518.5 703.3L519.4 703.1L520.3 702.8L521.2 702.5L522.1 702.2L522.9 701.8L523.8 701.4L524.7 701.0L525.5 700.5L526.4 700.0L527.2 699.4L528.0 698.8L528.8 698.1L529.6 697.3L530.4 696.4L531.1 695.4L531.8 694.3L532.5 693.2L533.2 692.0L533.9 690.8L534.5 689.5L535.2 688.3L535.8 687.0L536.4 685.7L537.0 684.4L537.5 683.1L538.1 681.7L538.6 680.3L539.1 678.9L539.5 677.5L540.0 676.1L540.5 674.8L541.0 673.4L541.5 672.1L542.0 670.9L542.5 669.6L543.0 668.4L543.5 667.2L544.0 666.0L544.5 664.8L545.0 663.7L545.5 662.5L546.0 661.3L546.5 660.1L547.0 659.0L547.5 657.8L547.9 656.5L548.4 655.3L548.9 654.1L549.3 653.0L549.8 651.8L550.3 650.7L550.7 649.6L551.2 648.7L551.7 647.7L552.1 646.9L552.6 646.1L553.0 645.3L553.5 644.6L553.9 643.8L554.4 643.1L554.9 642.4L555.4 641.7L556.0 641.0L556.6 640.2L557.3 639.4L557.9 638.6L558.6 637.8L559.4 637.0L560.1 636.2L560.8 635.5L561.6 634.8L562.3 634.2L563.0 633.7L563.7 633.3L564.4 632.9L565.1 632.6L565.8 632.4L566.6 632.2L567.3 632.0L568.0 631.8L568.7 631.7L569.3 631.6L570.0 631.5L570.6 631.4L571.3 631.3L571.9 631.3L572.5 631.2L573.1 631.2L573.7 631.2L574.3 631.2L574.8 631.3L575.4 631.3L576.0 631.4L576.6 631.4L577.1 631.4L577.5 631.4L578.0 631.4L578.5 631.5L579.0 631.5L579.6 631.7L580.2 631.9L580.9 632.2L581.7 632.6L582.6 633.2L583.7 633.9L584.8 634.6L586.0 635.5L587.2 636.4L588.4 637.3L589.7 638.3L591.0 639.2L592.2 640.1L593.4 641.0L594.6 641.9L595.7 642.8L596.9 643.7L598.0 644.6L599.2 645.5L600.4 646.4L601.5 647.3L602.7 648.2L603.8 649.0L605.0 649.8L606.2 650.6L607.3 651.3L608.5 652.1L609.7 652.8L610.8 653.5L612.0 654.1L613.2 654.7L614.4 655.3L615.5 655.8L616.7 656.2L617.9 656.5L619.1 656.8L620.3 657.1L621.5 657.2L622.7 657.4L623.9 657.4L625.1 657.5L626.2 657.5L627.3 657.4L628.4 657.4L629.4 657.3L630.5 657.1L631.5 656.9L632.5 656.7L633.4 656.4L634.3 656.1L635.2 655.8L636.1 655.5L636.9 655.3L637.7 655.0L638.5 654.8L639.2 654.5L639.9 654.2L640.6 654.0L641.2 653.7L641.8 653.4L642.4 653.2L642.9 653.0L643.3 652.8L643.6 652.7" fill="none" stroke="#b0304f" stroke-width="2.8" stroke-linejoin="round"/>
<path d="M506.2 703.2h0M508.6 703.6h0M511.1 703.9h0M513.6 703.9h0M516.1 703.7h0M518.5 703.3h0M520.9 702.6h0M523.3 701.7h0M525.6 700.5h0M527.8 698.9h0M530.0 696.8h0M532.1 693.9h0M534.1 690.4h0M536.0 686.6h0M537.8 682.3h0M539.6 677.4h0M541.4 672.5h0M543.2 668.0h0M545.0 663.6h0M546.9 659.2h0M548.7 654.6h0M550.5 650.1h0M552.4 646.3h0M554.5 643.0h0M556.5 640.3h0M558.7 637.8h0M560.8 635.5h0M563.1 633.7h0M565.4 632.5h0M567.8 631.9h0M570.2 631.5h0M572.7 631.2h0M575.2 631.3h0M577.7 631.4h0M580.1 631.9h0M582.4 633.1h0M584.7 634.6h0M586.9 636.2h0M589.2 637.9h0M591.4 639.6h0M593.7 641.2h0M595.9 642.9h0M598.2 644.7h0M600.4 646.5h0M602.6 648.2h0M604.9 649.7h0M607.2 651.2h0M609.5 652.7h0M611.8 654.0h0M614.1 655.2h0M616.4 656.1h0M618.9 656.8h0M621.3 657.2h0M623.8 657.4h0M626.2 657.5h0M628.7 657.4h0M631.2 657.0h0M633.6 656.4h0M636.0 655.6h0M638.3 654.8h0M640.7 653.9h0M643.1 652.9h0" stroke="#b0304f" stroke-width="2.80" stroke-linecap="round" fill="none"/>
<path d="M506.2 708.5L506.6 708.5L507.0 708.5L507.6 708.4L508.2 708.4L508.8 708.4L509.5 708.4L510.2 708.3L511.0 708.2L511.7 708.1L512.5 707.9L513.3 707.7L514.1 707.5L514.9 707.2L515.8 707.0L516.7 706.7L517.6 706.4L518.5 706.0L519.4 705.6L520.3 705.2L521.2 704.7L522.1 704.2L522.9 703.6L523.8 703.0L524.7 702.4L525.5 701.8L526.4 701.1L527.2 700.3L528.0 699.6L528.8 698.8L529.6 697.9L530.4 697.0L531.1 696.1L531.8 695.1L532.5 694.0L533.2 693.0L533.9 691.9L534.5 690.7L535.2 689.6L535.8 688.5L536.4 687.3L537.0 686.1L537.5 684.9L538.1 683.7L538.6 682.4L539.1 681.2L539.5 679.9L540.0 678.6L540.5 677.3L541.0 676.1L541.5 674.8L542.0 673.6L542.5 672.3L543.0 671.1L543.5 669.8L544.0 668.6L544.5 667.4L545.0 666.1L545.5 664.9L546.0 663.6L546.5 662.4L547.0 661.1L547.5 659.8L547.9 658.5L548.4 657.2L548.9 655.9L549.3 654.6L549.8 653.4L550.3 652.2L550.7 651.0L551.2 649.9L551.7 648.9L552.1 647.9L552.6 647.0L553.0 646.1L553.5 645.2L553.9 644.4L554.4 643.6L554.9 642.8L555.4 642.0L556.0 641.2L556.6 640.4L557.3 639.5L557.9 638.7L558.6 637.8L559.4 637.0L560.1 636.2L560.8 635.5L561.6 634.8L562.3 634.2L563.0 633.7L563.7 633.3L564.4 633.0L565.1 632.7L565.8 632.5L566.6 632.3L567.3 632.2L568.0 632.2L568.7 632.1L569.3 632.1L570.0 632.0L570.6 632.0L571.3 632.0L571.9 632.0L572.5 632.0L573.1 632.1L573.7 632.1L574.3 632.2L574.8 632.4L575.4 632.5L576.0 632.6L576.6 632.7L577.1 632.8L577.5 632.9L578.0 633.1L578.5 633.2L579.0 633.4L579.6 633.6L580.2 633.9L580.9 634.2L581.7 634.6L582.6 635.1L583.7 635.7L584.8 636.3L586.0 637.0L587.2 637.7L588.4 638.5L589.7 639.3L591.0 640.0L592.2 640.8L593.4 641.6L594.6 642.4L595.7 643.2L596.9 644.0L598.0 644.9L599.2 645.7L600.4 646.6L601.5 647.4L602.7 648.3L603.8 649.0L605.0 649.8L606.2 650.5L607.3 651.3L608.5 652.0L609.7 652.7L610.8 653.4L612.0 654.1L613.2 654.7L614.4 655.3L615.5 655.8L616.7 656.2L617.9 656.5L619.1 656.8L620.3 657.1L621.5 657.2L622.7 657.4L623.9 657.4L625.1 657.5L626.2 657.5L627.3 657.4L628.4 657.4L629.4 657.3L630.5 657.1L631.5 656.9L632.5 656.7L633.4 656.4L634.3 656.1L635.2 655.8L636.1 655.5L636.9 655.3L637.7 655.0L638.5 654.8L639.2 654.5L639.9 654.2L640.6 654.0L641.2 653.7L641.8 653.4L642.4 653.2L642.9 653.0L643.3 652.8L643.6 652.7" fill="none" stroke="#e0812c" stroke-width="2.8" stroke-linejoin="round"/>
<path d="M506.2 708.5h0M508.7 708.4h0M511.2 708.2h0M513.6 707.6h0M516.0 706.9h0M518.3 706.1h0M520.7 705.0h0M523.0 703.6h0M525.2 702.0h0M527.4 700.1h0M529.6 697.9h0M531.7 695.2h0M533.7 692.1h0M535.7 688.6h0M537.6 684.7h0M539.4 680.2h0M541.2 675.4h0M543.1 671.0h0M544.9 666.5h0M546.7 661.9h0M548.5 657.0h0M550.3 652.2h0M552.1 647.9h0M554.1 644.2h0M556.1 641.1h0M558.2 638.4h0M560.3 636.0h0M562.5 634.0h0M564.8 632.8h0M567.3 632.2h0M569.7 632.0h0M572.2 632.0h0M574.7 632.3h0M577.1 632.8h0M579.5 633.6h0M581.8 634.7h0M584.1 635.9h0M586.4 637.3h0M588.7 638.6h0M591.0 640.1h0M593.3 641.5h0M595.5 643.1h0M597.8 644.7h0M600.1 646.4h0M602.3 648.0h0M604.6 649.5h0M606.9 651.0h0M609.1 652.4h0M611.4 653.8h0M613.8 655.0h0M616.1 656.0h0M618.5 656.7h0M620.9 657.1h0M623.4 657.4h0M625.9 657.5h0M628.4 657.4h0M630.8 657.1h0M633.2 656.5h0M635.6 655.7h0M638.0 654.9h0M640.4 654.0h0M642.7 653.1h0" stroke="#e0812c" stroke-width="3.00" stroke-linecap="round" fill="none"/>
<line x1="598.00" y1="681.50" x2="617.40" y2="681.50" stroke="#3b5b9d" stroke-width="1.9"/>
<path d="M607.7 681.5h0" stroke="#3b5b9d" stroke-width="3.80" stroke-linecap="square" fill="none"/>
<text x="619.94" y="685.35" font-size="10.7" text-anchor="start" fill="#231f20" font-weight="normal" font-style="normal" >Day 1</text>
<line x1="598.00" y1="693.50" x2="617.40" y2="693.50" stroke="#c65272" stroke-width="1.9"/>
<path d="M607.7 693.5h0" stroke="#a01c3c" stroke-width="3.80" stroke-linecap="round" fill="none"/>
<text x="619.94" y="697.35" font-size="10.7" text-anchor="start" fill="#231f20" font-weight="normal" font-style="normal" >Day 4</text>
<line x1="598.00" y1="704.50" x2="617.40" y2="704.50" stroke="#eedc8a" stroke-width="1.9"/>
<path d="M607.7 702.2l2.1 3.8h-4.2z" fill="#e8d47a"/>
<text x="619.94" y="708.35" font-size="10.7" text-anchor="start" fill="#231f20" font-weight="normal" font-style="normal" >Day 7</text>
<line x1="598.00" y1="715.80" x2="617.40" y2="715.80" stroke="#28a898" stroke-width="1.9"/>
<path d="M607.7 718.1l2.1 -3.8h-4.2z" fill="#1a9888"/>
<text x="619.94" y="719.65" font-size="10.7" text-anchor="start" fill="#231f20" font-weight="normal" font-style="normal" >Day 10</text>
<line x1="598.00" y1="727.00" x2="617.40" y2="727.00" stroke="#e0812c" stroke-width="1.9"/>
<path d="M607.7 727.0h0" stroke="#d87420" stroke-width="3.80" stroke-linecap="round" fill="none"/>
<text x="619.94" y="730.85" font-size="10.7" text-anchor="start" fill="#231f20" font-weight="normal" font-style="normal" >Day 14</text>
</svg>
</body></html>
